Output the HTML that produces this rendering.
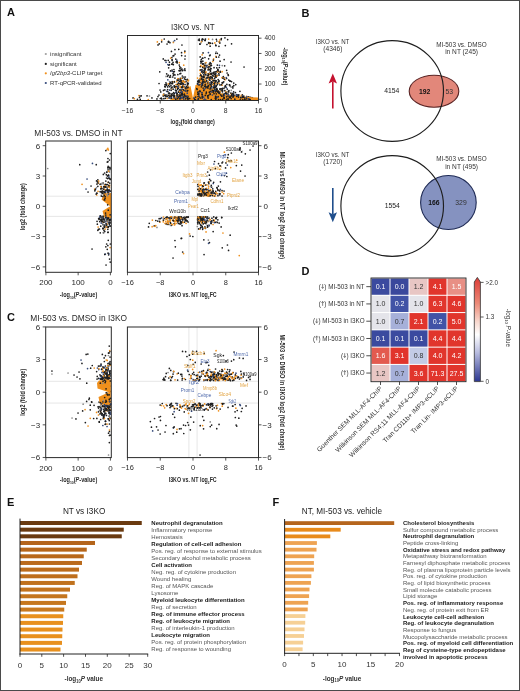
<!DOCTYPE html>
<html><head><meta charset="utf-8"><style>
html,body{margin:0;padding:0;background:#fff;}
body{width:520px;height:691px;overflow:hidden;}
svg{display:block;filter:blur(0.3px);font-family:"Liberation Sans", sans-serif;}
</style></head><body>
<svg width="520" height="691" viewBox="0 0 520 691">
<rect x="0" y="0" width="520" height="691" fill="#fff"/>
<text x="7.0" y="15.9" font-size="11" font-weight="bold" fill="#111">A</text>
<text x="301.5" y="16.7" font-size="11" font-weight="bold" fill="#111">B</text>
<text x="7.0" y="320.8" font-size="11" font-weight="bold" fill="#111">C</text>
<text x="301.5" y="275.2" font-size="11" font-weight="bold" fill="#111">D</text>
<text x="7.0" y="506.4" font-size="11" font-weight="bold" fill="#111">E</text>
<text x="272.5" y="506.4" font-size="11" font-weight="bold" fill="#111">F</text>
<circle cx="45.8" cy="54" r="1.1" fill="#a0a0a0"/>
<text x="50.1" y="56.1" font-size="6" fill="#333">insignificant</text>
<circle cx="45.8" cy="63.9" r="1.1" fill="#1e1e1e"/>
<text x="50.1" y="66.0" font-size="6" fill="#333">significant</text>
<circle cx="45.8" cy="73.3" r="1.1" fill="#f0901c"/>
<text x="50.1" y="75.39999999999999" font-size="6" fill="#333"><tspan font-style="italic">Igf2bp3</tspan>-CLIP target</text>
<circle cx="45.8" cy="83" r="1.1" fill="#34497a"/>
<text x="50.1" y="85.1" font-size="6" fill="#333">RT-qPCR-validated</text>
<text x="192.8" y="30.2" font-size="8.8" text-anchor="middle" textLength="43.5" lengthAdjust="spacingAndGlyphs" fill="#2a2a2a">I3KO vs. NT</text>
<line x1="188.9" y1="35.5" x2="188.9" y2="100.5" stroke="#d8d8d8" stroke-width="0.7"/>
<line x1="197.1" y1="35.5" x2="197.1" y2="100.5" stroke="#d8d8d8" stroke-width="0.7"/>
<path d="M214.1 85.0a0.85 0.85 0 1 0 1.7 0a0.85 0.85 0 1 0 -1.7 0" fill="#1e1e1e"/>
<path d="M199.7 98.0a0.85 0.85 0 1 0 1.7 0a0.85 0.85 0 1 0 -1.7 0" fill="#f0901c"/>
<path d="M204.2 74.9a0.85 0.85 0 1 0 1.7 0a0.85 0.85 0 1 0 -1.7 0M216.2 93.2a0.85 0.85 0 1 0 1.7 0a0.85 0.85 0 1 0 -1.7 0M199.9 90.5a0.85 0.85 0 1 0 1.7 0a0.85 0.85 0 1 0 -1.7 0M210.6 95.2a0.85 0.85 0 1 0 1.7 0a0.85 0.85 0 1 0 -1.7 0M199.0 44.1a0.85 0.85 0 1 0 1.7 0a0.85 0.85 0 1 0 -1.7 0M202.1 96.4a0.85 0.85 0 1 0 1.7 0a0.85 0.85 0 1 0 -1.7 0M210.1 68.7a0.85 0.85 0 1 0 1.7 0a0.85 0.85 0 1 0 -1.7 0M181.9 85.1a0.85 0.85 0 1 0 1.7 0a0.85 0.85 0 1 0 -1.7 0M160.8 41.8a0.85 0.85 0 1 0 1.7 0a0.85 0.85 0 1 0 -1.7 0" fill="#1e1e1e"/>
<path d="M202.8 79.8a0.85 0.85 0 1 0 1.7 0a0.85 0.85 0 1 0 -1.7 0" fill="#f0901c"/>
<path d="M168.6 64.7a0.85 0.85 0 1 0 1.7 0a0.85 0.85 0 1 0 -1.7 0M197.3 86.4a0.85 0.85 0 1 0 1.7 0a0.85 0.85 0 1 0 -1.7 0M214.0 94.2a0.85 0.85 0 1 0 1.7 0a0.85 0.85 0 1 0 -1.7 0M173.5 71.5a0.85 0.85 0 1 0 1.7 0a0.85 0.85 0 1 0 -1.7 0M198.8 88.8a0.85 0.85 0 1 0 1.7 0a0.85 0.85 0 1 0 -1.7 0" fill="#1e1e1e"/>
<path d="M209.3 74.7a0.85 0.85 0 1 0 1.7 0a0.85 0.85 0 1 0 -1.7 0" fill="#f0901c"/>
<path d="M206.4 87.0a0.85 0.85 0 1 0 1.7 0a0.85 0.85 0 1 0 -1.7 0M169.3 96.1a0.85 0.85 0 1 0 1.7 0a0.85 0.85 0 1 0 -1.7 0" fill="#1e1e1e"/>
<path d="M241.2 98.5a0.85 0.85 0 1 0 1.7 0a0.85 0.85 0 1 0 -1.7 0" fill="#8a8a8a"/>
<path d="M204.3 94.4a0.85 0.85 0 1 0 1.7 0a0.85 0.85 0 1 0 -1.7 0M214.4 93.9a0.85 0.85 0 1 0 1.7 0a0.85 0.85 0 1 0 -1.7 0M178.4 65.0a0.85 0.85 0 1 0 1.7 0a0.85 0.85 0 1 0 -1.7 0M220.5 95.4a0.85 0.85 0 1 0 1.7 0a0.85 0.85 0 1 0 -1.7 0M173.7 82.0a0.85 0.85 0 1 0 1.7 0a0.85 0.85 0 1 0 -1.7 0" fill="#1e1e1e"/>
<path d="M199.5 73.4a0.85 0.85 0 1 0 1.7 0a0.85 0.85 0 1 0 -1.7 0" fill="#f0901c"/>
<path d="M226.9 97.0a0.85 0.85 0 1 0 1.7 0a0.85 0.85 0 1 0 -1.7 0" fill="#34497a"/>
<path d="M186.5 85.5a0.85 0.85 0 1 0 1.7 0a0.85 0.85 0 1 0 -1.7 0" fill="#f0901c"/>
<path d="M217.5 94.6a0.85 0.85 0 1 0 1.7 0a0.85 0.85 0 1 0 -1.7 0M202.0 73.0a0.85 0.85 0 1 0 1.7 0a0.85 0.85 0 1 0 -1.7 0M179.8 92.5a0.85 0.85 0 1 0 1.7 0a0.85 0.85 0 1 0 -1.7 0" fill="#1e1e1e"/>
<path d="M180.7 87.0a0.85 0.85 0 1 0 1.7 0a0.85 0.85 0 1 0 -1.7 0" fill="#8a8a8a"/>
<path d="M182.2 90.4a0.85 0.85 0 1 0 1.7 0a0.85 0.85 0 1 0 -1.7 0M219.0 43.1a0.85 0.85 0 1 0 1.7 0a0.85 0.85 0 1 0 -1.7 0M203.4 88.9a0.85 0.85 0 1 0 1.7 0a0.85 0.85 0 1 0 -1.7 0M167.7 41.4a0.85 0.85 0 1 0 1.7 0a0.85 0.85 0 1 0 -1.7 0M198.9 93.6a0.85 0.85 0 1 0 1.7 0a0.85 0.85 0 1 0 -1.7 0M184.0 68.9a0.85 0.85 0 1 0 1.7 0a0.85 0.85 0 1 0 -1.7 0M205.1 98.8a0.85 0.85 0 1 0 1.7 0a0.85 0.85 0 1 0 -1.7 0" fill="#1e1e1e"/>
<path d="M201.0 71.2a0.85 0.85 0 1 0 1.7 0a0.85 0.85 0 1 0 -1.7 0" fill="#f0901c"/>
<path d="M173.3 98.2a0.85 0.85 0 1 0 1.7 0a0.85 0.85 0 1 0 -1.7 0M204.3 96.2a0.85 0.85 0 1 0 1.7 0a0.85 0.85 0 1 0 -1.7 0M224.4 95.6a0.85 0.85 0 1 0 1.7 0a0.85 0.85 0 1 0 -1.7 0M207.5 74.0a0.85 0.85 0 1 0 1.7 0a0.85 0.85 0 1 0 -1.7 0M203.8 86.7a0.85 0.85 0 1 0 1.7 0a0.85 0.85 0 1 0 -1.7 0M227.3 74.6a0.85 0.85 0 1 0 1.7 0a0.85 0.85 0 1 0 -1.7 0M173.2 97.3a0.85 0.85 0 1 0 1.7 0a0.85 0.85 0 1 0 -1.7 0M216.5 53.3a0.85 0.85 0 1 0 1.7 0a0.85 0.85 0 1 0 -1.7 0" fill="#1e1e1e"/>
<path d="M219.0 97.5a0.85 0.85 0 1 0 1.7 0a0.85 0.85 0 1 0 -1.7 0" fill="#f0901c"/>
<path d="M185.4 98.2a0.85 0.85 0 1 0 1.7 0a0.85 0.85 0 1 0 -1.7 0M217.1 69.4a0.85 0.85 0 1 0 1.7 0a0.85 0.85 0 1 0 -1.7 0M171.9 77.0a0.85 0.85 0 1 0 1.7 0a0.85 0.85 0 1 0 -1.7 0M177.6 78.9a0.85 0.85 0 1 0 1.7 0a0.85 0.85 0 1 0 -1.7 0M201.9 86.0a0.85 0.85 0 1 0 1.7 0a0.85 0.85 0 1 0 -1.7 0" fill="#1e1e1e"/>
<path d="M200.3 80.8a0.85 0.85 0 1 0 1.7 0a0.85 0.85 0 1 0 -1.7 0M170.7 88.9a0.85 0.85 0 1 0 1.7 0a0.85 0.85 0 1 0 -1.7 0" fill="#f0901c"/>
<path d="M217.2 70.9a0.85 0.85 0 1 0 1.7 0a0.85 0.85 0 1 0 -1.7 0M201.4 58.3a0.85 0.85 0 1 0 1.7 0a0.85 0.85 0 1 0 -1.7 0" fill="#1e1e1e"/>
<path d="M219.9 95.2a0.85 0.85 0 1 0 1.7 0a0.85 0.85 0 1 0 -1.7 0" fill="#f0901c"/>
<path d="M208.7 73.0a0.85 0.85 0 1 0 1.7 0a0.85 0.85 0 1 0 -1.7 0" fill="#34497a"/>
<path d="M180.6 81.3a0.85 0.85 0 1 0 1.7 0a0.85 0.85 0 1 0 -1.7 0M211.4 90.3a0.85 0.85 0 1 0 1.7 0a0.85 0.85 0 1 0 -1.7 0M196.9 81.4a0.85 0.85 0 1 0 1.7 0a0.85 0.85 0 1 0 -1.7 0M178.9 81.4a0.85 0.85 0 1 0 1.7 0a0.85 0.85 0 1 0 -1.7 0M201.6 88.9a0.85 0.85 0 1 0 1.7 0a0.85 0.85 0 1 0 -1.7 0M209.8 92.6a0.85 0.85 0 1 0 1.7 0a0.85 0.85 0 1 0 -1.7 0M179.7 70.7a0.85 0.85 0 1 0 1.7 0a0.85 0.85 0 1 0 -1.7 0" fill="#1e1e1e"/>
<path d="M209.5 79.1a0.85 0.85 0 1 0 1.7 0a0.85 0.85 0 1 0 -1.7 0" fill="#f0901c"/>
<path d="M162.4 58.9a0.85 0.85 0 1 0 1.7 0a0.85 0.85 0 1 0 -1.7 0M212.4 73.2a0.85 0.85 0 1 0 1.7 0a0.85 0.85 0 1 0 -1.7 0M201.2 76.6a0.85 0.85 0 1 0 1.7 0a0.85 0.85 0 1 0 -1.7 0" fill="#1e1e1e"/>
<path d="M172.5 42.5a0.85 0.85 0 1 0 1.7 0a0.85 0.85 0 1 0 -1.7 0" fill="#f0901c"/>
<path d="M202.8 90.7a0.85 0.85 0 1 0 1.7 0a0.85 0.85 0 1 0 -1.7 0M177.4 92.0a0.85 0.85 0 1 0 1.7 0a0.85 0.85 0 1 0 -1.7 0M177.7 92.2a0.85 0.85 0 1 0 1.7 0a0.85 0.85 0 1 0 -1.7 0" fill="#1e1e1e"/>
<path d="M201.3 86.8a0.85 0.85 0 1 0 1.7 0a0.85 0.85 0 1 0 -1.7 0" fill="#f0901c"/>
<path d="M224.9 99.1a0.85 0.85 0 1 0 1.7 0a0.85 0.85 0 1 0 -1.7 0M209.3 78.1a0.85 0.85 0 1 0 1.7 0a0.85 0.85 0 1 0 -1.7 0M208.6 97.6a0.85 0.85 0 1 0 1.7 0a0.85 0.85 0 1 0 -1.7 0M210.0 92.3a0.85 0.85 0 1 0 1.7 0a0.85 0.85 0 1 0 -1.7 0M184.7 90.9a0.85 0.85 0 1 0 1.7 0a0.85 0.85 0 1 0 -1.7 0M203.5 77.4a0.85 0.85 0 1 0 1.7 0a0.85 0.85 0 1 0 -1.7 0M209.0 69.7a0.85 0.85 0 1 0 1.7 0a0.85 0.85 0 1 0 -1.7 0M201.4 79.8a0.85 0.85 0 1 0 1.7 0a0.85 0.85 0 1 0 -1.7 0M184.8 79.5a0.85 0.85 0 1 0 1.7 0a0.85 0.85 0 1 0 -1.7 0M173.3 93.7a0.85 0.85 0 1 0 1.7 0a0.85 0.85 0 1 0 -1.7 0M207.6 74.5a0.85 0.85 0 1 0 1.7 0a0.85 0.85 0 1 0 -1.7 0" fill="#1e1e1e"/>
<path d="M171.3 71.2a0.85 0.85 0 1 0 1.7 0a0.85 0.85 0 1 0 -1.7 0" fill="#34497a"/>
<path d="M212.7 95.1a0.85 0.85 0 1 0 1.7 0a0.85 0.85 0 1 0 -1.7 0M204.2 95.8a0.85 0.85 0 1 0 1.7 0a0.85 0.85 0 1 0 -1.7 0M197.0 99.2a0.85 0.85 0 1 0 1.7 0a0.85 0.85 0 1 0 -1.7 0" fill="#1e1e1e"/>
<path d="M208.5 64.9a0.85 0.85 0 1 0 1.7 0a0.85 0.85 0 1 0 -1.7 0" fill="#f0901c"/>
<path d="M199.1 98.9a0.85 0.85 0 1 0 1.7 0a0.85 0.85 0 1 0 -1.7 0M184.3 93.7a0.85 0.85 0 1 0 1.7 0a0.85 0.85 0 1 0 -1.7 0M172.9 98.7a0.85 0.85 0 1 0 1.7 0a0.85 0.85 0 1 0 -1.7 0" fill="#1e1e1e"/>
<path d="M198.4 85.0a0.85 0.85 0 1 0 1.7 0a0.85 0.85 0 1 0 -1.7 0" fill="#34497a"/>
<path d="M172.3 95.1a0.85 0.85 0 1 0 1.7 0a0.85 0.85 0 1 0 -1.7 0" fill="#1e1e1e"/>
<path d="M219.3 98.3a0.85 0.85 0 1 0 1.7 0a0.85 0.85 0 1 0 -1.7 0" fill="#f0901c"/>
<path d="M249.5 97.4a0.85 0.85 0 1 0 1.7 0a0.85 0.85 0 1 0 -1.7 0M200.5 78.8a0.85 0.85 0 1 0 1.7 0a0.85 0.85 0 1 0 -1.7 0M226.4 89.1a0.85 0.85 0 1 0 1.7 0a0.85 0.85 0 1 0 -1.7 0" fill="#1e1e1e"/>
<path d="M210.0 94.9a0.85 0.85 0 1 0 1.7 0a0.85 0.85 0 1 0 -1.7 0M166.3 98.5a0.85 0.85 0 1 0 1.7 0a0.85 0.85 0 1 0 -1.7 0" fill="#f0901c"/>
<path d="M216.5 71.0a0.85 0.85 0 1 0 1.7 0a0.85 0.85 0 1 0 -1.7 0M222.4 76.5a0.85 0.85 0 1 0 1.7 0a0.85 0.85 0 1 0 -1.7 0M209.1 98.5a0.85 0.85 0 1 0 1.7 0a0.85 0.85 0 1 0 -1.7 0M203.4 97.3a0.85 0.85 0 1 0 1.7 0a0.85 0.85 0 1 0 -1.7 0M175.8 86.7a0.85 0.85 0 1 0 1.7 0a0.85 0.85 0 1 0 -1.7 0M198.4 94.0a0.85 0.85 0 1 0 1.7 0a0.85 0.85 0 1 0 -1.7 0M200.9 99.3a0.85 0.85 0 1 0 1.7 0a0.85 0.85 0 1 0 -1.7 0M199.7 91.1a0.85 0.85 0 1 0 1.7 0a0.85 0.85 0 1 0 -1.7 0M197.9 93.5a0.85 0.85 0 1 0 1.7 0a0.85 0.85 0 1 0 -1.7 0M205.1 98.6a0.85 0.85 0 1 0 1.7 0a0.85 0.85 0 1 0 -1.7 0M175.5 92.3a0.85 0.85 0 1 0 1.7 0a0.85 0.85 0 1 0 -1.7 0M175.8 61.7a0.85 0.85 0 1 0 1.7 0a0.85 0.85 0 1 0 -1.7 0M209.8 96.9a0.85 0.85 0 1 0 1.7 0a0.85 0.85 0 1 0 -1.7 0M213.4 83.9a0.85 0.85 0 1 0 1.7 0a0.85 0.85 0 1 0 -1.7 0M181.1 45.0a0.85 0.85 0 1 0 1.7 0a0.85 0.85 0 1 0 -1.7 0" fill="#1e1e1e"/>
<path d="M215.3 51.9a0.85 0.85 0 1 0 1.7 0a0.85 0.85 0 1 0 -1.7 0" fill="#8a8a8a"/>
<path d="M199.4 66.6a0.85 0.85 0 1 0 1.7 0a0.85 0.85 0 1 0 -1.7 0M180.0 95.1a0.85 0.85 0 1 0 1.7 0a0.85 0.85 0 1 0 -1.7 0" fill="#1e1e1e"/>
<path d="M201.4 77.6a0.85 0.85 0 1 0 1.7 0a0.85 0.85 0 1 0 -1.7 0" fill="#f0901c"/>
<path d="M204.2 92.2a0.85 0.85 0 1 0 1.7 0a0.85 0.85 0 1 0 -1.7 0" fill="#1e1e1e"/>
<path d="M205.8 66.8a0.85 0.85 0 1 0 1.7 0a0.85 0.85 0 1 0 -1.7 0" fill="#34497a"/>
<path d="M221.8 99.3a0.85 0.85 0 1 0 1.7 0a0.85 0.85 0 1 0 -1.7 0" fill="#f0901c"/>
<path d="M243.1 95.9a0.85 0.85 0 1 0 1.7 0a0.85 0.85 0 1 0 -1.7 0" fill="#8a8a8a"/>
<path d="M201.3 94.8a0.85 0.85 0 1 0 1.7 0a0.85 0.85 0 1 0 -1.7 0M221.7 94.4a0.85 0.85 0 1 0 1.7 0a0.85 0.85 0 1 0 -1.7 0M207.1 95.1a0.85 0.85 0 1 0 1.7 0a0.85 0.85 0 1 0 -1.7 0M201.5 90.8a0.85 0.85 0 1 0 1.7 0a0.85 0.85 0 1 0 -1.7 0M210.3 81.8a0.85 0.85 0 1 0 1.7 0a0.85 0.85 0 1 0 -1.7 0M167.7 85.4a0.85 0.85 0 1 0 1.7 0a0.85 0.85 0 1 0 -1.7 0" fill="#1e1e1e"/>
<path d="M201.6 89.1a0.85 0.85 0 1 0 1.7 0a0.85 0.85 0 1 0 -1.7 0" fill="#34497a"/>
<path d="M216.0 99.4a0.85 0.85 0 1 0 1.7 0a0.85 0.85 0 1 0 -1.7 0M203.5 80.6a0.85 0.85 0 1 0 1.7 0a0.85 0.85 0 1 0 -1.7 0M200.5 92.2a0.85 0.85 0 1 0 1.7 0a0.85 0.85 0 1 0 -1.7 0M205.1 99.4a0.85 0.85 0 1 0 1.7 0a0.85 0.85 0 1 0 -1.7 0M177.3 80.7a0.85 0.85 0 1 0 1.7 0a0.85 0.85 0 1 0 -1.7 0" fill="#1e1e1e"/>
<path d="M217.5 99.4a0.85 0.85 0 1 0 1.7 0a0.85 0.85 0 1 0 -1.7 0" fill="#f0901c"/>
<path d="M221.4 65.6a0.85 0.85 0 1 0 1.7 0a0.85 0.85 0 1 0 -1.7 0" fill="#8a8a8a"/>
<path d="M204.0 40.3a0.85 0.85 0 1 0 1.7 0a0.85 0.85 0 1 0 -1.7 0M215.8 94.2a0.85 0.85 0 1 0 1.7 0a0.85 0.85 0 1 0 -1.7 0M205.2 78.4a0.85 0.85 0 1 0 1.7 0a0.85 0.85 0 1 0 -1.7 0" fill="#1e1e1e"/>
<path d="M218.6 65.3a0.85 0.85 0 1 0 1.7 0a0.85 0.85 0 1 0 -1.7 0" fill="#34497a"/>
<path d="M224.5 45.6a0.85 0.85 0 1 0 1.7 0a0.85 0.85 0 1 0 -1.7 0" fill="#1e1e1e"/>
<path d="M165.8 91.3a0.85 0.85 0 1 0 1.7 0a0.85 0.85 0 1 0 -1.7 0" fill="#34497a"/>
<path d="M202.8 65.1a0.85 0.85 0 1 0 1.7 0a0.85 0.85 0 1 0 -1.7 0" fill="#f0901c"/>
<path d="M213.3 89.6a0.85 0.85 0 1 0 1.7 0a0.85 0.85 0 1 0 -1.7 0M209.9 94.0a0.85 0.85 0 1 0 1.7 0a0.85 0.85 0 1 0 -1.7 0" fill="#1e1e1e"/>
<path d="M219.0 72.2a0.85 0.85 0 1 0 1.7 0a0.85 0.85 0 1 0 -1.7 0" fill="#f0901c"/>
<path d="M196.8 98.8a0.85 0.85 0 1 0 1.7 0a0.85 0.85 0 1 0 -1.7 0" fill="#8a8a8a"/>
<path d="M206.6 75.4a0.85 0.85 0 1 0 1.7 0a0.85 0.85 0 1 0 -1.7 0M208.4 77.5a0.85 0.85 0 1 0 1.7 0a0.85 0.85 0 1 0 -1.7 0M210.8 91.1a0.85 0.85 0 1 0 1.7 0a0.85 0.85 0 1 0 -1.7 0M213.2 83.4a0.85 0.85 0 1 0 1.7 0a0.85 0.85 0 1 0 -1.7 0" fill="#1e1e1e"/>
<path d="M213.9 76.4a0.85 0.85 0 1 0 1.7 0a0.85 0.85 0 1 0 -1.7 0" fill="#f0901c"/>
<path d="M220.9 96.8a0.85 0.85 0 1 0 1.7 0a0.85 0.85 0 1 0 -1.7 0M198.1 80.1a0.85 0.85 0 1 0 1.7 0a0.85 0.85 0 1 0 -1.7 0M208.7 43.2a0.85 0.85 0 1 0 1.7 0a0.85 0.85 0 1 0 -1.7 0" fill="#1e1e1e"/>
<path d="M198.1 97.6a0.85 0.85 0 1 0 1.7 0a0.85 0.85 0 1 0 -1.7 0" fill="#f0901c"/>
<path d="M204.0 67.1a0.85 0.85 0 1 0 1.7 0a0.85 0.85 0 1 0 -1.7 0M216.1 93.3a0.85 0.85 0 1 0 1.7 0a0.85 0.85 0 1 0 -1.7 0M180.0 67.8a0.85 0.85 0 1 0 1.7 0a0.85 0.85 0 1 0 -1.7 0M175.7 84.5a0.85 0.85 0 1 0 1.7 0a0.85 0.85 0 1 0 -1.7 0" fill="#1e1e1e"/>
<path d="M245.8 96.4a0.85 0.85 0 1 0 1.7 0a0.85 0.85 0 1 0 -1.7 0" fill="#f0901c"/>
<path d="M200.8 71.9a0.85 0.85 0 1 0 1.7 0a0.85 0.85 0 1 0 -1.7 0" fill="#1e1e1e"/>
<path d="M200.8 85.3a0.85 0.85 0 1 0 1.7 0a0.85 0.85 0 1 0 -1.7 0" fill="#34497a"/>
<path d="M197.2 97.6a0.85 0.85 0 1 0 1.7 0a0.85 0.85 0 1 0 -1.7 0M202.4 88.6a0.85 0.85 0 1 0 1.7 0a0.85 0.85 0 1 0 -1.7 0" fill="#1e1e1e"/>
<path d="M185.8 98.0a0.85 0.85 0 1 0 1.7 0a0.85 0.85 0 1 0 -1.7 0" fill="#8a8a8a"/>
<path d="M210.6 83.2a0.85 0.85 0 1 0 1.7 0a0.85 0.85 0 1 0 -1.7 0M224.8 86.7a0.85 0.85 0 1 0 1.7 0a0.85 0.85 0 1 0 -1.7 0" fill="#1e1e1e"/>
<path d="M218.2 83.3a0.85 0.85 0 1 0 1.7 0a0.85 0.85 0 1 0 -1.7 0" fill="#f0901c"/>
<path d="M211.6 92.6a0.85 0.85 0 1 0 1.7 0a0.85 0.85 0 1 0 -1.7 0" fill="#8a8a8a"/>
<path d="M159.2 90.0a0.85 0.85 0 1 0 1.7 0a0.85 0.85 0 1 0 -1.7 0M218.7 55.1a0.85 0.85 0 1 0 1.7 0a0.85 0.85 0 1 0 -1.7 0M206.6 90.4a0.85 0.85 0 1 0 1.7 0a0.85 0.85 0 1 0 -1.7 0M217.9 92.5a0.85 0.85 0 1 0 1.7 0a0.85 0.85 0 1 0 -1.7 0M202.5 85.3a0.85 0.85 0 1 0 1.7 0a0.85 0.85 0 1 0 -1.7 0M196.6 99.4a0.85 0.85 0 1 0 1.7 0a0.85 0.85 0 1 0 -1.7 0M185.4 97.6a0.85 0.85 0 1 0 1.7 0a0.85 0.85 0 1 0 -1.7 0M200.3 78.6a0.85 0.85 0 1 0 1.7 0a0.85 0.85 0 1 0 -1.7 0M205.0 98.9a0.85 0.85 0 1 0 1.7 0a0.85 0.85 0 1 0 -1.7 0M214.9 53.3a0.85 0.85 0 1 0 1.7 0a0.85 0.85 0 1 0 -1.7 0M207.4 89.9a0.85 0.85 0 1 0 1.7 0a0.85 0.85 0 1 0 -1.7 0M197.6 87.0a0.85 0.85 0 1 0 1.7 0a0.85 0.85 0 1 0 -1.7 0M202.2 39.3a0.85 0.85 0 1 0 1.7 0a0.85 0.85 0 1 0 -1.7 0M207.3 74.3a0.85 0.85 0 1 0 1.7 0a0.85 0.85 0 1 0 -1.7 0" fill="#1e1e1e"/>
<path d="M212.8 58.9a0.85 0.85 0 1 0 1.7 0a0.85 0.85 0 1 0 -1.7 0M173.9 95.8a0.85 0.85 0 1 0 1.7 0a0.85 0.85 0 1 0 -1.7 0" fill="#f0901c"/>
<path d="M199.4 82.6a0.85 0.85 0 1 0 1.7 0a0.85 0.85 0 1 0 -1.7 0M151.1 97.9a0.85 0.85 0 1 0 1.7 0a0.85 0.85 0 1 0 -1.7 0M182.5 86.7a0.85 0.85 0 1 0 1.7 0a0.85 0.85 0 1 0 -1.7 0M224.5 85.7a0.85 0.85 0 1 0 1.7 0a0.85 0.85 0 1 0 -1.7 0M132.2 97.9a0.85 0.85 0 1 0 1.7 0a0.85 0.85 0 1 0 -1.7 0M171.2 70.0a0.85 0.85 0 1 0 1.7 0a0.85 0.85 0 1 0 -1.7 0M218.5 67.5a0.85 0.85 0 1 0 1.7 0a0.85 0.85 0 1 0 -1.7 0M199.5 69.9a0.85 0.85 0 1 0 1.7 0a0.85 0.85 0 1 0 -1.7 0M210.5 77.2a0.85 0.85 0 1 0 1.7 0a0.85 0.85 0 1 0 -1.7 0M197.8 81.4a0.85 0.85 0 1 0 1.7 0a0.85 0.85 0 1 0 -1.7 0M174.2 54.1a0.85 0.85 0 1 0 1.7 0a0.85 0.85 0 1 0 -1.7 0M210.8 74.4a0.85 0.85 0 1 0 1.7 0a0.85 0.85 0 1 0 -1.7 0M250.0 99.5a0.85 0.85 0 1 0 1.7 0a0.85 0.85 0 1 0 -1.7 0M169.9 96.2a0.85 0.85 0 1 0 1.7 0a0.85 0.85 0 1 0 -1.7 0M170.3 96.0a0.85 0.85 0 1 0 1.7 0a0.85 0.85 0 1 0 -1.7 0M197.7 98.3a0.85 0.85 0 1 0 1.7 0a0.85 0.85 0 1 0 -1.7 0M217.6 93.3a0.85 0.85 0 1 0 1.7 0a0.85 0.85 0 1 0 -1.7 0" fill="#1e1e1e"/>
<path d="M212.4 90.3a0.85 0.85 0 1 0 1.7 0a0.85 0.85 0 1 0 -1.7 0" fill="#8a8a8a"/>
<path d="M138.6 97.5a0.85 0.85 0 1 0 1.7 0a0.85 0.85 0 1 0 -1.7 0" fill="#1e1e1e"/>
<path d="M204.2 96.4a0.85 0.85 0 1 0 1.7 0a0.85 0.85 0 1 0 -1.7 0" fill="#f0901c"/>
<path d="M201.4 88.2a0.85 0.85 0 1 0 1.7 0a0.85 0.85 0 1 0 -1.7 0M200.9 97.3a0.85 0.85 0 1 0 1.7 0a0.85 0.85 0 1 0 -1.7 0M220.8 88.9a0.85 0.85 0 1 0 1.7 0a0.85 0.85 0 1 0 -1.7 0M186.4 79.9a0.85 0.85 0 1 0 1.7 0a0.85 0.85 0 1 0 -1.7 0" fill="#1e1e1e"/>
<path d="M251.0 97.6a0.85 0.85 0 1 0 1.7 0a0.85 0.85 0 1 0 -1.7 0" fill="#34497a"/>
<path d="M176.9 95.6a0.85 0.85 0 1 0 1.7 0a0.85 0.85 0 1 0 -1.7 0M168.6 93.1a0.85 0.85 0 1 0 1.7 0a0.85 0.85 0 1 0 -1.7 0M204.3 97.3a0.85 0.85 0 1 0 1.7 0a0.85 0.85 0 1 0 -1.7 0M217.2 70.9a0.85 0.85 0 1 0 1.7 0a0.85 0.85 0 1 0 -1.7 0M210.2 95.1a0.85 0.85 0 1 0 1.7 0a0.85 0.85 0 1 0 -1.7 0M209.8 98.5a0.85 0.85 0 1 0 1.7 0a0.85 0.85 0 1 0 -1.7 0M164.0 89.9a0.85 0.85 0 1 0 1.7 0a0.85 0.85 0 1 0 -1.7 0M165.6 85.3a0.85 0.85 0 1 0 1.7 0a0.85 0.85 0 1 0 -1.7 0M241.5 94.8a0.85 0.85 0 1 0 1.7 0a0.85 0.85 0 1 0 -1.7 0" fill="#1e1e1e"/>
<path d="M199.1 70.3a0.85 0.85 0 1 0 1.7 0a0.85 0.85 0 1 0 -1.7 0" fill="#f0901c"/>
<path d="M202.6 97.3a0.85 0.85 0 1 0 1.7 0a0.85 0.85 0 1 0 -1.7 0M236.1 96.4a0.85 0.85 0 1 0 1.7 0a0.85 0.85 0 1 0 -1.7 0M218.4 75.0a0.85 0.85 0 1 0 1.7 0a0.85 0.85 0 1 0 -1.7 0" fill="#1e1e1e"/>
<path d="M221.1 77.7a0.85 0.85 0 1 0 1.7 0a0.85 0.85 0 1 0 -1.7 0M201.6 96.1a0.85 0.85 0 1 0 1.7 0a0.85 0.85 0 1 0 -1.7 0M213.3 98.9a0.85 0.85 0 1 0 1.7 0a0.85 0.85 0 1 0 -1.7 0" fill="#f0901c"/>
<path d="M157.2 44.9a0.85 0.85 0 1 0 1.7 0a0.85 0.85 0 1 0 -1.7 0M204.2 99.1a0.85 0.85 0 1 0 1.7 0a0.85 0.85 0 1 0 -1.7 0M196.7 83.4a0.85 0.85 0 1 0 1.7 0a0.85 0.85 0 1 0 -1.7 0M219.4 71.4a0.85 0.85 0 1 0 1.7 0a0.85 0.85 0 1 0 -1.7 0M215.9 41.0a0.85 0.85 0 1 0 1.7 0a0.85 0.85 0 1 0 -1.7 0M232.8 91.9a0.85 0.85 0 1 0 1.7 0a0.85 0.85 0 1 0 -1.7 0M206.9 97.0a0.85 0.85 0 1 0 1.7 0a0.85 0.85 0 1 0 -1.7 0M199.8 87.1a0.85 0.85 0 1 0 1.7 0a0.85 0.85 0 1 0 -1.7 0M201.4 81.1a0.85 0.85 0 1 0 1.7 0a0.85 0.85 0 1 0 -1.7 0M196.8 95.7a0.85 0.85 0 1 0 1.7 0a0.85 0.85 0 1 0 -1.7 0M197.9 99.1a0.85 0.85 0 1 0 1.7 0a0.85 0.85 0 1 0 -1.7 0M209.5 92.6a0.85 0.85 0 1 0 1.7 0a0.85 0.85 0 1 0 -1.7 0M167.7 93.1a0.85 0.85 0 1 0 1.7 0a0.85 0.85 0 1 0 -1.7 0" fill="#1e1e1e"/>
<path d="M212.1 98.2a0.85 0.85 0 1 0 1.7 0a0.85 0.85 0 1 0 -1.7 0" fill="#f0901c"/>
<path d="M211.6 43.3a0.85 0.85 0 1 0 1.7 0a0.85 0.85 0 1 0 -1.7 0M205.1 85.4a0.85 0.85 0 1 0 1.7 0a0.85 0.85 0 1 0 -1.7 0M181.7 92.3a0.85 0.85 0 1 0 1.7 0a0.85 0.85 0 1 0 -1.7 0M170.5 97.8a0.85 0.85 0 1 0 1.7 0a0.85 0.85 0 1 0 -1.7 0M214.5 76.9a0.85 0.85 0 1 0 1.7 0a0.85 0.85 0 1 0 -1.7 0" fill="#1e1e1e"/>
<path d="M234.0 94.1a0.85 0.85 0 1 0 1.7 0a0.85 0.85 0 1 0 -1.7 0" fill="#8a8a8a"/>
<path d="M213.4 74.4a0.85 0.85 0 1 0 1.7 0a0.85 0.85 0 1 0 -1.7 0M209.3 62.7a0.85 0.85 0 1 0 1.7 0a0.85 0.85 0 1 0 -1.7 0" fill="#1e1e1e"/>
<path d="M211.4 82.3a0.85 0.85 0 1 0 1.7 0a0.85 0.85 0 1 0 -1.7 0" fill="#34497a"/>
<path d="M226.1 99.6a0.85 0.85 0 1 0 1.7 0a0.85 0.85 0 1 0 -1.7 0M199.0 96.9a0.85 0.85 0 1 0 1.7 0a0.85 0.85 0 1 0 -1.7 0M176.7 99.0a0.85 0.85 0 1 0 1.7 0a0.85 0.85 0 1 0 -1.7 0M229.3 86.0a0.85 0.85 0 1 0 1.7 0a0.85 0.85 0 1 0 -1.7 0" fill="#1e1e1e"/>
<path d="M201.5 94.9a0.85 0.85 0 1 0 1.7 0a0.85 0.85 0 1 0 -1.7 0M205.2 72.1a0.85 0.85 0 1 0 1.7 0a0.85 0.85 0 1 0 -1.7 0" fill="#f0901c"/>
<path d="M229.0 96.3a0.85 0.85 0 1 0 1.7 0a0.85 0.85 0 1 0 -1.7 0M226.3 73.0a0.85 0.85 0 1 0 1.7 0a0.85 0.85 0 1 0 -1.7 0M210.4 88.8a0.85 0.85 0 1 0 1.7 0a0.85 0.85 0 1 0 -1.7 0" fill="#1e1e1e"/>
<path d="M234.5 97.6a0.85 0.85 0 1 0 1.7 0a0.85 0.85 0 1 0 -1.7 0" fill="#f0901c"/>
<path d="M209.3 46.2a0.85 0.85 0 1 0 1.7 0a0.85 0.85 0 1 0 -1.7 0M205.6 93.2a0.85 0.85 0 1 0 1.7 0a0.85 0.85 0 1 0 -1.7 0M176.6 96.9a0.85 0.85 0 1 0 1.7 0a0.85 0.85 0 1 0 -1.7 0M178.2 91.0a0.85 0.85 0 1 0 1.7 0a0.85 0.85 0 1 0 -1.7 0M177.1 86.6a0.85 0.85 0 1 0 1.7 0a0.85 0.85 0 1 0 -1.7 0" fill="#1e1e1e"/>
<path d="M215.1 56.3a0.85 0.85 0 1 0 1.7 0a0.85 0.85 0 1 0 -1.7 0" fill="#f0901c"/>
<path d="M210.7 93.4a0.85 0.85 0 1 0 1.7 0a0.85 0.85 0 1 0 -1.7 0" fill="#8a8a8a"/>
<path d="M221.7 98.4a0.85 0.85 0 1 0 1.7 0a0.85 0.85 0 1 0 -1.7 0" fill="#1e1e1e"/>
<path d="M202.0 83.0a0.85 0.85 0 1 0 1.7 0a0.85 0.85 0 1 0 -1.7 0" fill="#8a8a8a"/>
<path d="M200.8 99.0a0.85 0.85 0 1 0 1.7 0a0.85 0.85 0 1 0 -1.7 0M230.2 62.0a0.85 0.85 0 1 0 1.7 0a0.85 0.85 0 1 0 -1.7 0" fill="#1e1e1e"/>
<path d="M203.9 76.7a0.85 0.85 0 1 0 1.7 0a0.85 0.85 0 1 0 -1.7 0" fill="#f0901c"/>
<path d="M171.5 64.1a0.85 0.85 0 1 0 1.7 0a0.85 0.85 0 1 0 -1.7 0" fill="#1e1e1e"/>
<path d="M207.1 81.8a0.85 0.85 0 1 0 1.7 0a0.85 0.85 0 1 0 -1.7 0" fill="#8a8a8a"/>
<path d="M165.7 84.2a0.85 0.85 0 1 0 1.7 0a0.85 0.85 0 1 0 -1.7 0" fill="#1e1e1e"/>
<path d="M250.6 99.1a0.85 0.85 0 1 0 1.7 0a0.85 0.85 0 1 0 -1.7 0" fill="#8a8a8a"/>
<path d="M215.9 88.9a0.85 0.85 0 1 0 1.7 0a0.85 0.85 0 1 0 -1.7 0" fill="#1e1e1e"/>
<path d="M169.4 97.0a0.85 0.85 0 1 0 1.7 0a0.85 0.85 0 1 0 -1.7 0" fill="#8a8a8a"/>
<path d="M205.7 97.3a0.85 0.85 0 1 0 1.7 0a0.85 0.85 0 1 0 -1.7 0M198.7 97.3a0.85 0.85 0 1 0 1.7 0a0.85 0.85 0 1 0 -1.7 0" fill="#1e1e1e"/>
<path d="M201.6 87.6a0.85 0.85 0 1 0 1.7 0a0.85 0.85 0 1 0 -1.7 0" fill="#f0901c"/>
<path d="M169.7 77.0a0.85 0.85 0 1 0 1.7 0a0.85 0.85 0 1 0 -1.7 0M184.2 70.5a0.85 0.85 0 1 0 1.7 0a0.85 0.85 0 1 0 -1.7 0" fill="#1e1e1e"/>
<path d="M210.9 73.3a0.85 0.85 0 1 0 1.7 0a0.85 0.85 0 1 0 -1.7 0M242.6 99.4a0.85 0.85 0 1 0 1.7 0a0.85 0.85 0 1 0 -1.7 0" fill="#8a8a8a"/>
<path d="M225.8 70.3a0.85 0.85 0 1 0 1.7 0a0.85 0.85 0 1 0 -1.7 0M220.8 99.5a0.85 0.85 0 1 0 1.7 0a0.85 0.85 0 1 0 -1.7 0M167.0 91.5a0.85 0.85 0 1 0 1.7 0a0.85 0.85 0 1 0 -1.7 0M224.0 90.7a0.85 0.85 0 1 0 1.7 0a0.85 0.85 0 1 0 -1.7 0" fill="#1e1e1e"/>
<path d="M211.7 95.1a0.85 0.85 0 1 0 1.7 0a0.85 0.85 0 1 0 -1.7 0" fill="#f0901c"/>
<path d="M209.5 78.9a0.85 0.85 0 1 0 1.7 0a0.85 0.85 0 1 0 -1.7 0M218.1 46.3a0.85 0.85 0 1 0 1.7 0a0.85 0.85 0 1 0 -1.7 0" fill="#1e1e1e"/>
<path d="M198.4 98.7a0.85 0.85 0 1 0 1.7 0a0.85 0.85 0 1 0 -1.7 0" fill="#f0901c"/>
<path d="M210.6 65.4a0.85 0.85 0 1 0 1.7 0a0.85 0.85 0 1 0 -1.7 0M178.0 95.0a0.85 0.85 0 1 0 1.7 0a0.85 0.85 0 1 0 -1.7 0" fill="#1e1e1e"/>
<path d="M172.0 95.1a0.85 0.85 0 1 0 1.7 0a0.85 0.85 0 1 0 -1.7 0M198.5 94.7a0.85 0.85 0 1 0 1.7 0a0.85 0.85 0 1 0 -1.7 0" fill="#8a8a8a"/>
<path d="M200.1 92.7a0.85 0.85 0 1 0 1.7 0a0.85 0.85 0 1 0 -1.7 0M198.3 94.4a0.85 0.85 0 1 0 1.7 0a0.85 0.85 0 1 0 -1.7 0M199.1 98.5a0.85 0.85 0 1 0 1.7 0a0.85 0.85 0 1 0 -1.7 0" fill="#1e1e1e"/>
<path d="M161.0 99.4a0.85 0.85 0 1 0 1.7 0a0.85 0.85 0 1 0 -1.7 0" fill="#8a8a8a"/>
<path d="M215.8 95.4a0.85 0.85 0 1 0 1.7 0a0.85 0.85 0 1 0 -1.7 0M255.8 98.8a0.85 0.85 0 1 0 1.7 0a0.85 0.85 0 1 0 -1.7 0M230.7 43.8a0.85 0.85 0 1 0 1.7 0a0.85 0.85 0 1 0 -1.7 0M200.9 78.0a0.85 0.85 0 1 0 1.7 0a0.85 0.85 0 1 0 -1.7 0M173.3 85.9a0.85 0.85 0 1 0 1.7 0a0.85 0.85 0 1 0 -1.7 0M183.2 97.3a0.85 0.85 0 1 0 1.7 0a0.85 0.85 0 1 0 -1.7 0M203.8 89.3a0.85 0.85 0 1 0 1.7 0a0.85 0.85 0 1 0 -1.7 0M206.1 65.4a0.85 0.85 0 1 0 1.7 0a0.85 0.85 0 1 0 -1.7 0M209.9 88.4a0.85 0.85 0 1 0 1.7 0a0.85 0.85 0 1 0 -1.7 0M204.2 97.2a0.85 0.85 0 1 0 1.7 0a0.85 0.85 0 1 0 -1.7 0M159.9 91.9a0.85 0.85 0 1 0 1.7 0a0.85 0.85 0 1 0 -1.7 0" fill="#1e1e1e"/>
<path d="M200.1 87.7a0.85 0.85 0 1 0 1.7 0a0.85 0.85 0 1 0 -1.7 0" fill="#34497a"/>
<path d="M179.2 79.8a0.85 0.85 0 1 0 1.7 0a0.85 0.85 0 1 0 -1.7 0M199.9 96.7a0.85 0.85 0 1 0 1.7 0a0.85 0.85 0 1 0 -1.7 0M198.8 98.7a0.85 0.85 0 1 0 1.7 0a0.85 0.85 0 1 0 -1.7 0M212.6 76.0a0.85 0.85 0 1 0 1.7 0a0.85 0.85 0 1 0 -1.7 0" fill="#1e1e1e"/>
<path d="M182.9 65.2a0.85 0.85 0 1 0 1.7 0a0.85 0.85 0 1 0 -1.7 0" fill="#f0901c"/>
<path d="M212.9 84.7a0.85 0.85 0 1 0 1.7 0a0.85 0.85 0 1 0 -1.7 0M181.3 89.6a0.85 0.85 0 1 0 1.7 0a0.85 0.85 0 1 0 -1.7 0M163.9 86.6a0.85 0.85 0 1 0 1.7 0a0.85 0.85 0 1 0 -1.7 0" fill="#1e1e1e"/>
<path d="M207.4 69.1a0.85 0.85 0 1 0 1.7 0a0.85 0.85 0 1 0 -1.7 0" fill="#f0901c"/>
<path d="M218.9 95.1a0.85 0.85 0 1 0 1.7 0a0.85 0.85 0 1 0 -1.7 0" fill="#1e1e1e"/>
<path d="M200.9 75.4a0.85 0.85 0 1 0 1.7 0a0.85 0.85 0 1 0 -1.7 0" fill="#f0901c"/>
<path d="M203.8 95.6a0.85 0.85 0 1 0 1.7 0a0.85 0.85 0 1 0 -1.7 0M201.9 83.4a0.85 0.85 0 1 0 1.7 0a0.85 0.85 0 1 0 -1.7 0M232.0 87.9a0.85 0.85 0 1 0 1.7 0a0.85 0.85 0 1 0 -1.7 0M205.7 98.0a0.85 0.85 0 1 0 1.7 0a0.85 0.85 0 1 0 -1.7 0M204.4 63.0a0.85 0.85 0 1 0 1.7 0a0.85 0.85 0 1 0 -1.7 0M225.7 78.4a0.85 0.85 0 1 0 1.7 0a0.85 0.85 0 1 0 -1.7 0M241.0 96.1a0.85 0.85 0 1 0 1.7 0a0.85 0.85 0 1 0 -1.7 0" fill="#1e1e1e"/>
<path d="M200.4 82.1a0.85 0.85 0 1 0 1.7 0a0.85 0.85 0 1 0 -1.7 0" fill="#f0901c"/>
<path d="M179.6 95.9a0.85 0.85 0 1 0 1.7 0a0.85 0.85 0 1 0 -1.7 0" fill="#8a8a8a"/>
<path d="M201.3 93.0a0.85 0.85 0 1 0 1.7 0a0.85 0.85 0 1 0 -1.7 0" fill="#1e1e1e"/>
<path d="M217.6 96.9a0.85 0.85 0 1 0 1.7 0a0.85 0.85 0 1 0 -1.7 0" fill="#34497a"/>
<path d="M234.8 96.3a0.85 0.85 0 1 0 1.7 0a0.85 0.85 0 1 0 -1.7 0" fill="#f0901c"/>
<path d="M198.8 94.8a0.85 0.85 0 1 0 1.7 0a0.85 0.85 0 1 0 -1.7 0" fill="#1e1e1e"/>
<path d="M168.5 97.5a0.85 0.85 0 1 0 1.7 0a0.85 0.85 0 1 0 -1.7 0" fill="#8a8a8a"/>
<path d="M213.8 78.3a0.85 0.85 0 1 0 1.7 0a0.85 0.85 0 1 0 -1.7 0" fill="#1e1e1e"/>
<path d="M206.5 88.4a0.85 0.85 0 1 0 1.7 0a0.85 0.85 0 1 0 -1.7 0" fill="#f0901c"/>
<path d="M174.1 49.6a0.85 0.85 0 1 0 1.7 0a0.85 0.85 0 1 0 -1.7 0M159.5 98.5a0.85 0.85 0 1 0 1.7 0a0.85 0.85 0 1 0 -1.7 0M233.0 85.6a0.85 0.85 0 1 0 1.7 0a0.85 0.85 0 1 0 -1.7 0M171.4 87.0a0.85 0.85 0 1 0 1.7 0a0.85 0.85 0 1 0 -1.7 0M224.4 96.7a0.85 0.85 0 1 0 1.7 0a0.85 0.85 0 1 0 -1.7 0M216.9 69.5a0.85 0.85 0 1 0 1.7 0a0.85 0.85 0 1 0 -1.7 0" fill="#1e1e1e"/>
<path d="M211.7 39.4a0.85 0.85 0 1 0 1.7 0a0.85 0.85 0 1 0 -1.7 0" fill="#8a8a8a"/>
<path d="M235.5 97.3a0.85 0.85 0 1 0 1.7 0a0.85 0.85 0 1 0 -1.7 0" fill="#1e1e1e"/>
<path d="M207.5 76.3a0.85 0.85 0 1 0 1.7 0a0.85 0.85 0 1 0 -1.7 0" fill="#f0901c"/>
<path d="M197.3 88.3a0.85 0.85 0 1 0 1.7 0a0.85 0.85 0 1 0 -1.7 0" fill="#1e1e1e"/>
<path d="M199.9 95.3a0.85 0.85 0 1 0 1.7 0a0.85 0.85 0 1 0 -1.7 0" fill="#f0901c"/>
<path d="M181.8 99.3a0.85 0.85 0 1 0 1.7 0a0.85 0.85 0 1 0 -1.7 0M214.5 87.1a0.85 0.85 0 1 0 1.7 0a0.85 0.85 0 1 0 -1.7 0M181.7 92.4a0.85 0.85 0 1 0 1.7 0a0.85 0.85 0 1 0 -1.7 0M204.3 91.2a0.85 0.85 0 1 0 1.7 0a0.85 0.85 0 1 0 -1.7 0M224.1 98.9a0.85 0.85 0 1 0 1.7 0a0.85 0.85 0 1 0 -1.7 0M223.3 59.6a0.85 0.85 0 1 0 1.7 0a0.85 0.85 0 1 0 -1.7 0" fill="#1e1e1e"/>
<path d="M224.2 79.7a0.85 0.85 0 1 0 1.7 0a0.85 0.85 0 1 0 -1.7 0" fill="#f0901c"/>
<path d="M228.5 98.0a0.85 0.85 0 1 0 1.7 0a0.85 0.85 0 1 0 -1.7 0" fill="#8a8a8a"/>
<path d="M173.1 74.3a0.85 0.85 0 1 0 1.7 0a0.85 0.85 0 1 0 -1.7 0M199.7 95.9a0.85 0.85 0 1 0 1.7 0a0.85 0.85 0 1 0 -1.7 0M239.7 99.4a0.85 0.85 0 1 0 1.7 0a0.85 0.85 0 1 0 -1.7 0M198.0 98.8a0.85 0.85 0 1 0 1.7 0a0.85 0.85 0 1 0 -1.7 0" fill="#1e1e1e"/>
<path d="M133.5 98.7a0.85 0.85 0 1 0 1.7 0a0.85 0.85 0 1 0 -1.7 0" fill="#f0901c"/>
<path d="M214.1 89.3a0.85 0.85 0 1 0 1.7 0a0.85 0.85 0 1 0 -1.7 0" fill="#8a8a8a"/>
<path d="M183.5 97.2a0.85 0.85 0 1 0 1.7 0a0.85 0.85 0 1 0 -1.7 0" fill="#1e1e1e"/>
<path d="M231.5 93.3a0.85 0.85 0 1 0 1.7 0a0.85 0.85 0 1 0 -1.7 0" fill="#34497a"/>
<path d="M203.4 68.4a0.85 0.85 0 1 0 1.7 0a0.85 0.85 0 1 0 -1.7 0M209.4 86.3a0.85 0.85 0 1 0 1.7 0a0.85 0.85 0 1 0 -1.7 0M202.2 89.7a0.85 0.85 0 1 0 1.7 0a0.85 0.85 0 1 0 -1.7 0M199.0 95.6a0.85 0.85 0 1 0 1.7 0a0.85 0.85 0 1 0 -1.7 0" fill="#1e1e1e"/>
<path d="M225.0 91.7a0.85 0.85 0 1 0 1.7 0a0.85 0.85 0 1 0 -1.7 0" fill="#f0901c"/>
<path d="M168.2 97.9a0.85 0.85 0 1 0 1.7 0a0.85 0.85 0 1 0 -1.7 0M176.7 89.5a0.85 0.85 0 1 0 1.7 0a0.85 0.85 0 1 0 -1.7 0M215.4 99.2a0.85 0.85 0 1 0 1.7 0a0.85 0.85 0 1 0 -1.7 0M177.6 83.2a0.85 0.85 0 1 0 1.7 0a0.85 0.85 0 1 0 -1.7 0M210.4 90.2a0.85 0.85 0 1 0 1.7 0a0.85 0.85 0 1 0 -1.7 0M218.0 73.7a0.85 0.85 0 1 0 1.7 0a0.85 0.85 0 1 0 -1.7 0M173.1 69.5a0.85 0.85 0 1 0 1.7 0a0.85 0.85 0 1 0 -1.7 0M229.4 81.1a0.85 0.85 0 1 0 1.7 0a0.85 0.85 0 1 0 -1.7 0M202.1 97.6a0.85 0.85 0 1 0 1.7 0a0.85 0.85 0 1 0 -1.7 0M208.1 66.7a0.85 0.85 0 1 0 1.7 0a0.85 0.85 0 1 0 -1.7 0" fill="#1e1e1e"/>
<path d="M225.5 87.6a0.85 0.85 0 1 0 1.7 0a0.85 0.85 0 1 0 -1.7 0" fill="#34497a"/>
<path d="M196.7 98.4a0.85 0.85 0 1 0 1.7 0a0.85 0.85 0 1 0 -1.7 0M206.7 88.4a0.85 0.85 0 1 0 1.7 0a0.85 0.85 0 1 0 -1.7 0" fill="#1e1e1e"/>
<path d="M208.8 43.7a0.85 0.85 0 1 0 1.7 0a0.85 0.85 0 1 0 -1.7 0" fill="#f0901c"/>
<path d="M164.5 86.8a0.85 0.85 0 1 0 1.7 0a0.85 0.85 0 1 0 -1.7 0M163.0 98.7a0.85 0.85 0 1 0 1.7 0a0.85 0.85 0 1 0 -1.7 0M198.4 93.1a0.85 0.85 0 1 0 1.7 0a0.85 0.85 0 1 0 -1.7 0" fill="#1e1e1e"/>
<path d="M209.5 76.8a0.85 0.85 0 1 0 1.7 0a0.85 0.85 0 1 0 -1.7 0" fill="#f0901c"/>
<path d="M176.9 88.6a0.85 0.85 0 1 0 1.7 0a0.85 0.85 0 1 0 -1.7 0M208.7 86.3a0.85 0.85 0 1 0 1.7 0a0.85 0.85 0 1 0 -1.7 0M198.8 91.4a0.85 0.85 0 1 0 1.7 0a0.85 0.85 0 1 0 -1.7 0M207.3 69.9a0.85 0.85 0 1 0 1.7 0a0.85 0.85 0 1 0 -1.7 0M208.3 95.3a0.85 0.85 0 1 0 1.7 0a0.85 0.85 0 1 0 -1.7 0M214.1 80.4a0.85 0.85 0 1 0 1.7 0a0.85 0.85 0 1 0 -1.7 0" fill="#1e1e1e"/>
<path d="M181.5 96.9a0.85 0.85 0 1 0 1.7 0a0.85 0.85 0 1 0 -1.7 0" fill="#f0901c"/>
<path d="M197.4 81.7a0.85 0.85 0 1 0 1.7 0a0.85 0.85 0 1 0 -1.7 0M205.5 88.6a0.85 0.85 0 1 0 1.7 0a0.85 0.85 0 1 0 -1.7 0M170.3 90.3a0.85 0.85 0 1 0 1.7 0a0.85 0.85 0 1 0 -1.7 0M170.6 51.4a0.85 0.85 0 1 0 1.7 0a0.85 0.85 0 1 0 -1.7 0M203.8 71.4a0.85 0.85 0 1 0 1.7 0a0.85 0.85 0 1 0 -1.7 0" fill="#1e1e1e"/>
<path d="M205.8 96.4a0.85 0.85 0 1 0 1.7 0a0.85 0.85 0 1 0 -1.7 0" fill="#8a8a8a"/>
<path d="M229.9 98.5a0.85 0.85 0 1 0 1.7 0a0.85 0.85 0 1 0 -1.7 0M219.2 61.2a0.85 0.85 0 1 0 1.7 0a0.85 0.85 0 1 0 -1.7 0M197.7 93.0a0.85 0.85 0 1 0 1.7 0a0.85 0.85 0 1 0 -1.7 0M182.3 99.4a0.85 0.85 0 1 0 1.7 0a0.85 0.85 0 1 0 -1.7 0" fill="#1e1e1e"/>
<path d="M207.8 39.1a0.85 0.85 0 1 0 1.7 0a0.85 0.85 0 1 0 -1.7 0" fill="#f0901c"/>
<path d="M200.1 99.2a0.85 0.85 0 1 0 1.7 0a0.85 0.85 0 1 0 -1.7 0M228.1 90.7a0.85 0.85 0 1 0 1.7 0a0.85 0.85 0 1 0 -1.7 0M166.0 95.0a0.85 0.85 0 1 0 1.7 0a0.85 0.85 0 1 0 -1.7 0" fill="#1e1e1e"/>
<path d="M224.2 98.2a0.85 0.85 0 1 0 1.7 0a0.85 0.85 0 1 0 -1.7 0" fill="#f0901c"/>
<path d="M182.5 80.8a0.85 0.85 0 1 0 1.7 0a0.85 0.85 0 1 0 -1.7 0M199.1 80.5a0.85 0.85 0 1 0 1.7 0a0.85 0.85 0 1 0 -1.7 0M168.7 96.2a0.85 0.85 0 1 0 1.7 0a0.85 0.85 0 1 0 -1.7 0M203.5 86.6a0.85 0.85 0 1 0 1.7 0a0.85 0.85 0 1 0 -1.7 0M214.7 75.2a0.85 0.85 0 1 0 1.7 0a0.85 0.85 0 1 0 -1.7 0M228.8 84.9a0.85 0.85 0 1 0 1.7 0a0.85 0.85 0 1 0 -1.7 0M167.5 42.1a0.85 0.85 0 1 0 1.7 0a0.85 0.85 0 1 0 -1.7 0M211.4 77.3a0.85 0.85 0 1 0 1.7 0a0.85 0.85 0 1 0 -1.7 0M204.5 97.4a0.85 0.85 0 1 0 1.7 0a0.85 0.85 0 1 0 -1.7 0" fill="#1e1e1e"/>
<path d="M225.4 77.6a0.85 0.85 0 1 0 1.7 0a0.85 0.85 0 1 0 -1.7 0" fill="#34497a"/>
<path d="M201.3 54.8a0.85 0.85 0 1 0 1.7 0a0.85 0.85 0 1 0 -1.7 0" fill="#f0901c"/>
<path d="M209.6 71.4a0.85 0.85 0 1 0 1.7 0a0.85 0.85 0 1 0 -1.7 0M197.5 88.1a0.85 0.85 0 1 0 1.7 0a0.85 0.85 0 1 0 -1.7 0M203.6 82.0a0.85 0.85 0 1 0 1.7 0a0.85 0.85 0 1 0 -1.7 0M213.0 88.6a0.85 0.85 0 1 0 1.7 0a0.85 0.85 0 1 0 -1.7 0M172.1 99.1a0.85 0.85 0 1 0 1.7 0a0.85 0.85 0 1 0 -1.7 0M168.0 65.1a0.85 0.85 0 1 0 1.7 0a0.85 0.85 0 1 0 -1.7 0M200.4 59.7a0.85 0.85 0 1 0 1.7 0a0.85 0.85 0 1 0 -1.7 0M171.3 93.6a0.85 0.85 0 1 0 1.7 0a0.85 0.85 0 1 0 -1.7 0" fill="#1e1e1e"/>
<path d="M202.0 64.2a0.85 0.85 0 1 0 1.7 0a0.85 0.85 0 1 0 -1.7 0" fill="#34497a"/>
<path d="M209.2 84.2a0.85 0.85 0 1 0 1.7 0a0.85 0.85 0 1 0 -1.7 0" fill="#8a8a8a"/>
<path d="M186.7 90.4a0.85 0.85 0 1 0 1.7 0a0.85 0.85 0 1 0 -1.7 0M221.6 89.1a0.85 0.85 0 1 0 1.7 0a0.85 0.85 0 1 0 -1.7 0M180.6 81.0a0.85 0.85 0 1 0 1.7 0a0.85 0.85 0 1 0 -1.7 0M178.9 98.7a0.85 0.85 0 1 0 1.7 0a0.85 0.85 0 1 0 -1.7 0M203.9 89.1a0.85 0.85 0 1 0 1.7 0a0.85 0.85 0 1 0 -1.7 0M199.9 61.3a0.85 0.85 0 1 0 1.7 0a0.85 0.85 0 1 0 -1.7 0M208.0 86.8a0.85 0.85 0 1 0 1.7 0a0.85 0.85 0 1 0 -1.7 0" fill="#1e1e1e"/>
<path d="M221.2 85.2a0.85 0.85 0 1 0 1.7 0a0.85 0.85 0 1 0 -1.7 0" fill="#f0901c"/>
<path d="M209.1 80.2a0.85 0.85 0 1 0 1.7 0a0.85 0.85 0 1 0 -1.7 0" fill="#1e1e1e"/>
<path d="M210.9 95.5a0.85 0.85 0 1 0 1.7 0a0.85 0.85 0 1 0 -1.7 0" fill="#8a8a8a"/>
<path d="M169.1 42.7a0.85 0.85 0 1 0 1.7 0a0.85 0.85 0 1 0 -1.7 0" fill="#1e1e1e"/>
<path d="M200.4 87.7a0.85 0.85 0 1 0 1.7 0a0.85 0.85 0 1 0 -1.7 0" fill="#8a8a8a"/>
<path d="M183.3 70.0a0.85 0.85 0 1 0 1.7 0a0.85 0.85 0 1 0 -1.7 0" fill="#1e1e1e"/>
<path d="M209.0 77.3a0.85 0.85 0 1 0 1.7 0a0.85 0.85 0 1 0 -1.7 0" fill="#34497a"/>
<path d="M178.9 66.7a0.85 0.85 0 1 0 1.7 0a0.85 0.85 0 1 0 -1.7 0" fill="#1e1e1e"/>
<path d="M209.1 82.5a0.85 0.85 0 1 0 1.7 0a0.85 0.85 0 1 0 -1.7 0" fill="#34497a"/>
<path d="M225.2 93.4a0.85 0.85 0 1 0 1.7 0a0.85 0.85 0 1 0 -1.7 0M205.8 85.7a0.85 0.85 0 1 0 1.7 0a0.85 0.85 0 1 0 -1.7 0M168.7 77.1a0.85 0.85 0 1 0 1.7 0a0.85 0.85 0 1 0 -1.7 0M207.4 88.3a0.85 0.85 0 1 0 1.7 0a0.85 0.85 0 1 0 -1.7 0M207.4 90.0a0.85 0.85 0 1 0 1.7 0a0.85 0.85 0 1 0 -1.7 0M198.5 40.4a0.85 0.85 0 1 0 1.7 0a0.85 0.85 0 1 0 -1.7 0" fill="#1e1e1e"/>
<path d="M199.3 89.1a0.85 0.85 0 1 0 1.7 0a0.85 0.85 0 1 0 -1.7 0" fill="#f0901c"/>
<path d="M170.7 97.6a0.85 0.85 0 1 0 1.7 0a0.85 0.85 0 1 0 -1.7 0" fill="#34497a"/>
<path d="M202.4 72.2a0.85 0.85 0 1 0 1.7 0a0.85 0.85 0 1 0 -1.7 0M210.4 93.7a0.85 0.85 0 1 0 1.7 0a0.85 0.85 0 1 0 -1.7 0M170.7 94.6a0.85 0.85 0 1 0 1.7 0a0.85 0.85 0 1 0 -1.7 0" fill="#1e1e1e"/>
<path d="M201.4 96.8a0.85 0.85 0 1 0 1.7 0a0.85 0.85 0 1 0 -1.7 0" fill="#f0901c"/>
<path d="M215.2 91.3a0.85 0.85 0 1 0 1.7 0a0.85 0.85 0 1 0 -1.7 0M200.8 62.0a0.85 0.85 0 1 0 1.7 0a0.85 0.85 0 1 0 -1.7 0" fill="#1e1e1e"/>
<path d="M198.8 98.7a0.85 0.85 0 1 0 1.7 0a0.85 0.85 0 1 0 -1.7 0" fill="#34497a"/>
<path d="M180.7 87.6a0.85 0.85 0 1 0 1.7 0a0.85 0.85 0 1 0 -1.7 0M208.4 90.7a0.85 0.85 0 1 0 1.7 0a0.85 0.85 0 1 0 -1.7 0M166.8 86.9a0.85 0.85 0 1 0 1.7 0a0.85 0.85 0 1 0 -1.7 0M215.2 97.2a0.85 0.85 0 1 0 1.7 0a0.85 0.85 0 1 0 -1.7 0M221.6 91.8a0.85 0.85 0 1 0 1.7 0a0.85 0.85 0 1 0 -1.7 0M200.9 89.0a0.85 0.85 0 1 0 1.7 0a0.85 0.85 0 1 0 -1.7 0M199.9 97.8a0.85 0.85 0 1 0 1.7 0a0.85 0.85 0 1 0 -1.7 0M200.7 78.4a0.85 0.85 0 1 0 1.7 0a0.85 0.85 0 1 0 -1.7 0" fill="#1e1e1e"/>
<path d="M250.2 98.8a0.85 0.85 0 1 0 1.7 0a0.85 0.85 0 1 0 -1.7 0" fill="#f0901c"/>
<path d="M239.6 97.5a0.85 0.85 0 1 0 1.7 0a0.85 0.85 0 1 0 -1.7 0M232.9 98.4a0.85 0.85 0 1 0 1.7 0a0.85 0.85 0 1 0 -1.7 0M208.6 95.5a0.85 0.85 0 1 0 1.7 0a0.85 0.85 0 1 0 -1.7 0M165.1 82.8a0.85 0.85 0 1 0 1.7 0a0.85 0.85 0 1 0 -1.7 0M207.1 89.3a0.85 0.85 0 1 0 1.7 0a0.85 0.85 0 1 0 -1.7 0M177.1 95.6a0.85 0.85 0 1 0 1.7 0a0.85 0.85 0 1 0 -1.7 0M136.6 99.3a0.85 0.85 0 1 0 1.7 0a0.85 0.85 0 1 0 -1.7 0M182.4 95.8a0.85 0.85 0 1 0 1.7 0a0.85 0.85 0 1 0 -1.7 0M221.8 90.6a0.85 0.85 0 1 0 1.7 0a0.85 0.85 0 1 0 -1.7 0M203.8 99.2a0.85 0.85 0 1 0 1.7 0a0.85 0.85 0 1 0 -1.7 0M198.1 98.6a0.85 0.85 0 1 0 1.7 0a0.85 0.85 0 1 0 -1.7 0M173.4 81.5a0.85 0.85 0 1 0 1.7 0a0.85 0.85 0 1 0 -1.7 0M181.6 70.7a0.85 0.85 0 1 0 1.7 0a0.85 0.85 0 1 0 -1.7 0" fill="#1e1e1e"/>
<path d="M197.8 89.2a0.85 0.85 0 1 0 1.7 0a0.85 0.85 0 1 0 -1.7 0" fill="#8a8a8a"/>
<path d="M203.9 81.3a0.85 0.85 0 1 0 1.7 0a0.85 0.85 0 1 0 -1.7 0M202.4 90.7a0.85 0.85 0 1 0 1.7 0a0.85 0.85 0 1 0 -1.7 0M160.4 98.1a0.85 0.85 0 1 0 1.7 0a0.85 0.85 0 1 0 -1.7 0M227.4 91.4a0.85 0.85 0 1 0 1.7 0a0.85 0.85 0 1 0 -1.7 0M212.6 94.9a0.85 0.85 0 1 0 1.7 0a0.85 0.85 0 1 0 -1.7 0" fill="#1e1e1e"/>
<path d="M205.0 95.8a0.85 0.85 0 1 0 1.7 0a0.85 0.85 0 1 0 -1.7 0" fill="#f0901c"/>
<path d="M183.1 77.1a0.85 0.85 0 1 0 1.7 0a0.85 0.85 0 1 0 -1.7 0M218.1 81.6a0.85 0.85 0 1 0 1.7 0a0.85 0.85 0 1 0 -1.7 0" fill="#1e1e1e"/>
<path d="M147.4 99.5a0.85 0.85 0 1 0 1.7 0a0.85 0.85 0 1 0 -1.7 0" fill="#f0901c"/>
<path d="M172.5 64.7a0.85 0.85 0 1 0 1.7 0a0.85 0.85 0 1 0 -1.7 0M173.6 93.6a0.85 0.85 0 1 0 1.7 0a0.85 0.85 0 1 0 -1.7 0M204.9 88.8a0.85 0.85 0 1 0 1.7 0a0.85 0.85 0 1 0 -1.7 0M232.0 86.5a0.85 0.85 0 1 0 1.7 0a0.85 0.85 0 1 0 -1.7 0M201.9 89.7a0.85 0.85 0 1 0 1.7 0a0.85 0.85 0 1 0 -1.7 0M216.9 75.3a0.85 0.85 0 1 0 1.7 0a0.85 0.85 0 1 0 -1.7 0M209.2 84.0a0.85 0.85 0 1 0 1.7 0a0.85 0.85 0 1 0 -1.7 0M198.1 81.9a0.85 0.85 0 1 0 1.7 0a0.85 0.85 0 1 0 -1.7 0M214.5 95.1a0.85 0.85 0 1 0 1.7 0a0.85 0.85 0 1 0 -1.7 0M199.4 90.4a0.85 0.85 0 1 0 1.7 0a0.85 0.85 0 1 0 -1.7 0M186.2 96.7a0.85 0.85 0 1 0 1.7 0a0.85 0.85 0 1 0 -1.7 0M208.0 69.0a0.85 0.85 0 1 0 1.7 0a0.85 0.85 0 1 0 -1.7 0M205.8 97.5a0.85 0.85 0 1 0 1.7 0a0.85 0.85 0 1 0 -1.7 0M180.5 81.4a0.85 0.85 0 1 0 1.7 0a0.85 0.85 0 1 0 -1.7 0M214.3 90.1a0.85 0.85 0 1 0 1.7 0a0.85 0.85 0 1 0 -1.7 0" fill="#1e1e1e"/>
<path d="M200.8 83.4a0.85 0.85 0 1 0 1.7 0a0.85 0.85 0 1 0 -1.7 0" fill="#34497a"/>
<path d="M224.3 97.6a0.85 0.85 0 1 0 1.7 0a0.85 0.85 0 1 0 -1.7 0M166.2 96.5a0.85 0.85 0 1 0 1.7 0a0.85 0.85 0 1 0 -1.7 0M187.1 95.6a0.85 0.85 0 1 0 1.7 0a0.85 0.85 0 1 0 -1.7 0M171.0 57.5a0.85 0.85 0 1 0 1.7 0a0.85 0.85 0 1 0 -1.7 0" fill="#1e1e1e"/>
<path d="M175.2 84.6a0.85 0.85 0 1 0 1.7 0a0.85 0.85 0 1 0 -1.7 0" fill="#f0901c"/>
<path d="M232.9 83.1a0.85 0.85 0 1 0 1.7 0a0.85 0.85 0 1 0 -1.7 0M216.6 95.8a0.85 0.85 0 1 0 1.7 0a0.85 0.85 0 1 0 -1.7 0M210.8 73.4a0.85 0.85 0 1 0 1.7 0a0.85 0.85 0 1 0 -1.7 0M185.7 97.8a0.85 0.85 0 1 0 1.7 0a0.85 0.85 0 1 0 -1.7 0M211.4 97.1a0.85 0.85 0 1 0 1.7 0a0.85 0.85 0 1 0 -1.7 0M167.8 41.8a0.85 0.85 0 1 0 1.7 0a0.85 0.85 0 1 0 -1.7 0M204.6 39.1a0.85 0.85 0 1 0 1.7 0a0.85 0.85 0 1 0 -1.7 0" fill="#1e1e1e"/>
<path d="M225.8 92.1a0.85 0.85 0 1 0 1.7 0a0.85 0.85 0 1 0 -1.7 0" fill="#8a8a8a"/>
<path d="M209.7 95.2a0.85 0.85 0 1 0 1.7 0a0.85 0.85 0 1 0 -1.7 0M200.6 85.8a0.85 0.85 0 1 0 1.7 0a0.85 0.85 0 1 0 -1.7 0" fill="#1e1e1e"/>
<path d="M170.0 88.5a0.85 0.85 0 1 0 1.7 0a0.85 0.85 0 1 0 -1.7 0" fill="#8a8a8a"/>
<path d="M198.3 96.4a0.85 0.85 0 1 0 1.7 0a0.85 0.85 0 1 0 -1.7 0M175.3 90.6a0.85 0.85 0 1 0 1.7 0a0.85 0.85 0 1 0 -1.7 0M208.1 92.2a0.85 0.85 0 1 0 1.7 0a0.85 0.85 0 1 0 -1.7 0M183.7 78.9a0.85 0.85 0 1 0 1.7 0a0.85 0.85 0 1 0 -1.7 0M198.6 98.2a0.85 0.85 0 1 0 1.7 0a0.85 0.85 0 1 0 -1.7 0M208.8 55.7a0.85 0.85 0 1 0 1.7 0a0.85 0.85 0 1 0 -1.7 0M209.3 86.6a0.85 0.85 0 1 0 1.7 0a0.85 0.85 0 1 0 -1.7 0M214.4 71.9a0.85 0.85 0 1 0 1.7 0a0.85 0.85 0 1 0 -1.7 0M212.4 72.9a0.85 0.85 0 1 0 1.7 0a0.85 0.85 0 1 0 -1.7 0" fill="#1e1e1e"/>
<path d="M212.9 98.5a0.85 0.85 0 1 0 1.7 0a0.85 0.85 0 1 0 -1.7 0" fill="#f0901c"/>
<path d="M204.6 89.3a0.85 0.85 0 1 0 1.7 0a0.85 0.85 0 1 0 -1.7 0M207.5 75.7a0.85 0.85 0 1 0 1.7 0a0.85 0.85 0 1 0 -1.7 0M209.4 55.0a0.85 0.85 0 1 0 1.7 0a0.85 0.85 0 1 0 -1.7 0M203.9 97.1a0.85 0.85 0 1 0 1.7 0a0.85 0.85 0 1 0 -1.7 0" fill="#1e1e1e"/>
<path d="M213.4 90.2a0.85 0.85 0 1 0 1.7 0a0.85 0.85 0 1 0 -1.7 0" fill="#34497a"/>
<path d="M223.3 97.4a0.85 0.85 0 1 0 1.7 0a0.85 0.85 0 1 0 -1.7 0" fill="#8a8a8a"/>
<path d="M171.0 64.2a0.85 0.85 0 1 0 1.7 0a0.85 0.85 0 1 0 -1.7 0M230.8 94.7a0.85 0.85 0 1 0 1.7 0a0.85 0.85 0 1 0 -1.7 0M210.3 91.4a0.85 0.85 0 1 0 1.7 0a0.85 0.85 0 1 0 -1.7 0M227.5 75.4a0.85 0.85 0 1 0 1.7 0a0.85 0.85 0 1 0 -1.7 0" fill="#1e1e1e"/>
<path d="M232.7 99.4a0.85 0.85 0 1 0 1.7 0a0.85 0.85 0 1 0 -1.7 0" fill="#f0901c"/>
<path d="M164.1 84.8a0.85 0.85 0 1 0 1.7 0a0.85 0.85 0 1 0 -1.7 0M222.9 81.8a0.85 0.85 0 1 0 1.7 0a0.85 0.85 0 1 0 -1.7 0M166.2 44.0a0.85 0.85 0 1 0 1.7 0a0.85 0.85 0 1 0 -1.7 0" fill="#1e1e1e"/>
<path d="M167.0 79.8a0.85 0.85 0 1 0 1.7 0a0.85 0.85 0 1 0 -1.7 0" fill="#34497a"/>
<path d="M169.0 83.3a0.85 0.85 0 1 0 1.7 0a0.85 0.85 0 1 0 -1.7 0M207.5 84.4a0.85 0.85 0 1 0 1.7 0a0.85 0.85 0 1 0 -1.7 0M181.4 90.4a0.85 0.85 0 1 0 1.7 0a0.85 0.85 0 1 0 -1.7 0M179.0 68.5a0.85 0.85 0 1 0 1.7 0a0.85 0.85 0 1 0 -1.7 0" fill="#1e1e1e"/>
<path d="M211.4 95.8a0.85 0.85 0 1 0 1.7 0a0.85 0.85 0 1 0 -1.7 0" fill="#8a8a8a"/>
<path d="M214.9 45.2a0.85 0.85 0 1 0 1.7 0a0.85 0.85 0 1 0 -1.7 0M231.6 98.1a0.85 0.85 0 1 0 1.7 0a0.85 0.85 0 1 0 -1.7 0M197.5 80.9a0.85 0.85 0 1 0 1.7 0a0.85 0.85 0 1 0 -1.7 0M169.5 75.5a0.85 0.85 0 1 0 1.7 0a0.85 0.85 0 1 0 -1.7 0M216.2 89.9a0.85 0.85 0 1 0 1.7 0a0.85 0.85 0 1 0 -1.7 0M212.8 82.4a0.85 0.85 0 1 0 1.7 0a0.85 0.85 0 1 0 -1.7 0M226.7 98.1a0.85 0.85 0 1 0 1.7 0a0.85 0.85 0 1 0 -1.7 0M200.4 70.2a0.85 0.85 0 1 0 1.7 0a0.85 0.85 0 1 0 -1.7 0" fill="#1e1e1e"/>
<path d="M212.5 91.5a0.85 0.85 0 1 0 1.7 0a0.85 0.85 0 1 0 -1.7 0" fill="#8a8a8a"/>
<path d="M167.3 75.2a0.85 0.85 0 1 0 1.7 0a0.85 0.85 0 1 0 -1.7 0M162.4 95.9a0.85 0.85 0 1 0 1.7 0a0.85 0.85 0 1 0 -1.7 0M214.2 93.7a0.85 0.85 0 1 0 1.7 0a0.85 0.85 0 1 0 -1.7 0M203.6 92.8a0.85 0.85 0 1 0 1.7 0a0.85 0.85 0 1 0 -1.7 0M243.1 99.3a0.85 0.85 0 1 0 1.7 0a0.85 0.85 0 1 0 -1.7 0M234.9 84.6a0.85 0.85 0 1 0 1.7 0a0.85 0.85 0 1 0 -1.7 0M201.4 39.4a0.85 0.85 0 1 0 1.7 0a0.85 0.85 0 1 0 -1.7 0M186.2 91.5a0.85 0.85 0 1 0 1.7 0a0.85 0.85 0 1 0 -1.7 0M200.5 61.5a0.85 0.85 0 1 0 1.7 0a0.85 0.85 0 1 0 -1.7 0M207.8 92.0a0.85 0.85 0 1 0 1.7 0a0.85 0.85 0 1 0 -1.7 0M211.6 89.3a0.85 0.85 0 1 0 1.7 0a0.85 0.85 0 1 0 -1.7 0M248.5 98.8a0.85 0.85 0 1 0 1.7 0a0.85 0.85 0 1 0 -1.7 0M181.8 92.2a0.85 0.85 0 1 0 1.7 0a0.85 0.85 0 1 0 -1.7 0M214.9 82.1a0.85 0.85 0 1 0 1.7 0a0.85 0.85 0 1 0 -1.7 0M197.8 86.5a0.85 0.85 0 1 0 1.7 0a0.85 0.85 0 1 0 -1.7 0M215.9 67.8a0.85 0.85 0 1 0 1.7 0a0.85 0.85 0 1 0 -1.7 0" fill="#1e1e1e"/>
<path d="M197.1 91.8a0.85 0.85 0 1 0 1.7 0a0.85 0.85 0 1 0 -1.7 0" fill="#34497a"/>
<path d="M179.0 89.8a0.85 0.85 0 1 0 1.7 0a0.85 0.85 0 1 0 -1.7 0" fill="#1e1e1e"/>
<path d="M197.0 97.4a0.85 0.85 0 1 0 1.7 0a0.85 0.85 0 1 0 -1.7 0M214.1 94.3a0.85 0.85 0 1 0 1.7 0a0.85 0.85 0 1 0 -1.7 0M215.3 93.1a0.85 0.85 0 1 0 1.7 0a0.85 0.85 0 1 0 -1.7 0" fill="#f0901c"/>
<path d="M213.2 85.3a0.85 0.85 0 1 0 1.7 0a0.85 0.85 0 1 0 -1.7 0M220.2 98.9a0.85 0.85 0 1 0 1.7 0a0.85 0.85 0 1 0 -1.7 0M251.5 97.8a0.85 0.85 0 1 0 1.7 0a0.85 0.85 0 1 0 -1.7 0M202.3 87.2a0.85 0.85 0 1 0 1.7 0a0.85 0.85 0 1 0 -1.7 0" fill="#1e1e1e"/>
<path d="M225.7 92.5a0.85 0.85 0 1 0 1.7 0a0.85 0.85 0 1 0 -1.7 0" fill="#f0901c"/>
<path d="M217.8 91.1a0.85 0.85 0 1 0 1.7 0a0.85 0.85 0 1 0 -1.7 0M204.2 69.6a0.85 0.85 0 1 0 1.7 0a0.85 0.85 0 1 0 -1.7 0M197.3 99.2a0.85 0.85 0 1 0 1.7 0a0.85 0.85 0 1 0 -1.7 0M179.8 87.5a0.85 0.85 0 1 0 1.7 0a0.85 0.85 0 1 0 -1.7 0M202.7 85.1a0.85 0.85 0 1 0 1.7 0a0.85 0.85 0 1 0 -1.7 0M213.2 72.2a0.85 0.85 0 1 0 1.7 0a0.85 0.85 0 1 0 -1.7 0" fill="#1e1e1e"/>
<path d="M168.9 90.0a0.85 0.85 0 1 0 1.7 0a0.85 0.85 0 1 0 -1.7 0M245.9 96.7a0.85 0.85 0 1 0 1.7 0a0.85 0.85 0 1 0 -1.7 0" fill="#8a8a8a"/>
<path d="M206.2 83.2a0.85 0.85 0 1 0 1.7 0a0.85 0.85 0 1 0 -1.7 0M204.0 94.0a0.85 0.85 0 1 0 1.7 0a0.85 0.85 0 1 0 -1.7 0M208.5 92.5a0.85 0.85 0 1 0 1.7 0a0.85 0.85 0 1 0 -1.7 0" fill="#1e1e1e"/>
<path d="M203.0 66.9a0.85 0.85 0 1 0 1.7 0a0.85 0.85 0 1 0 -1.7 0" fill="#f0901c"/>
<path d="M165.8 73.8a0.85 0.85 0 1 0 1.7 0a0.85 0.85 0 1 0 -1.7 0M221.5 82.8a0.85 0.85 0 1 0 1.7 0a0.85 0.85 0 1 0 -1.7 0M215.5 39.3a0.85 0.85 0 1 0 1.7 0a0.85 0.85 0 1 0 -1.7 0M209.9 94.3a0.85 0.85 0 1 0 1.7 0a0.85 0.85 0 1 0 -1.7 0M207.4 88.9a0.85 0.85 0 1 0 1.7 0a0.85 0.85 0 1 0 -1.7 0" fill="#1e1e1e"/>
<path d="M203.3 89.8a0.85 0.85 0 1 0 1.7 0a0.85 0.85 0 1 0 -1.7 0" fill="#34497a"/>
<path d="M172.6 75.3a0.85 0.85 0 1 0 1.7 0a0.85 0.85 0 1 0 -1.7 0M239.1 91.3a0.85 0.85 0 1 0 1.7 0a0.85 0.85 0 1 0 -1.7 0M219.0 95.8a0.85 0.85 0 1 0 1.7 0a0.85 0.85 0 1 0 -1.7 0M174.2 86.7a0.85 0.85 0 1 0 1.7 0a0.85 0.85 0 1 0 -1.7 0M242.6 99.5a0.85 0.85 0 1 0 1.7 0a0.85 0.85 0 1 0 -1.7 0" fill="#1e1e1e"/>
<path d="M203.7 93.7a0.85 0.85 0 1 0 1.7 0a0.85 0.85 0 1 0 -1.7 0" fill="#f0901c"/>
<path d="M200.8 83.8a0.85 0.85 0 1 0 1.7 0a0.85 0.85 0 1 0 -1.7 0M212.2 97.4a0.85 0.85 0 1 0 1.7 0a0.85 0.85 0 1 0 -1.7 0M163.5 95.6a0.85 0.85 0 1 0 1.7 0a0.85 0.85 0 1 0 -1.7 0" fill="#1e1e1e"/>
<path d="M138.1 95.6a0.85 0.85 0 1 0 1.7 0a0.85 0.85 0 1 0 -1.7 0" fill="#f0901c"/>
<path d="M179.9 73.4a0.85 0.85 0 1 0 1.7 0a0.85 0.85 0 1 0 -1.7 0M200.8 93.7a0.85 0.85 0 1 0 1.7 0a0.85 0.85 0 1 0 -1.7 0M206.5 87.3a0.85 0.85 0 1 0 1.7 0a0.85 0.85 0 1 0 -1.7 0M205.3 94.0a0.85 0.85 0 1 0 1.7 0a0.85 0.85 0 1 0 -1.7 0M184.0 90.6a0.85 0.85 0 1 0 1.7 0a0.85 0.85 0 1 0 -1.7 0M176.0 39.1a0.85 0.85 0 1 0 1.7 0a0.85 0.85 0 1 0 -1.7 0M207.5 87.5a0.85 0.85 0 1 0 1.7 0a0.85 0.85 0 1 0 -1.7 0M213.5 82.5a0.85 0.85 0 1 0 1.7 0a0.85 0.85 0 1 0 -1.7 0M208.8 80.0a0.85 0.85 0 1 0 1.7 0a0.85 0.85 0 1 0 -1.7 0M217.5 81.5a0.85 0.85 0 1 0 1.7 0a0.85 0.85 0 1 0 -1.7 0M174.1 74.9a0.85 0.85 0 1 0 1.7 0a0.85 0.85 0 1 0 -1.7 0" fill="#1e1e1e"/>
<path d="M203.6 81.3a0.85 0.85 0 1 0 1.7 0a0.85 0.85 0 1 0 -1.7 0" fill="#f0901c"/>
<path d="M165.0 84.7a0.85 0.85 0 1 0 1.7 0a0.85 0.85 0 1 0 -1.7 0" fill="#1e1e1e"/>
<path d="M213.5 96.0a0.85 0.85 0 1 0 1.7 0a0.85 0.85 0 1 0 -1.7 0" fill="#f0901c"/>
<path d="M204.7 84.7a0.85 0.85 0 1 0 1.7 0a0.85 0.85 0 1 0 -1.7 0M204.3 87.2a0.85 0.85 0 1 0 1.7 0a0.85 0.85 0 1 0 -1.7 0" fill="#1e1e1e"/>
<path d="M179.5 86.4a0.85 0.85 0 1 0 1.7 0a0.85 0.85 0 1 0 -1.7 0" fill="#f0901c"/>
<path d="M219.2 97.9a0.85 0.85 0 1 0 1.7 0a0.85 0.85 0 1 0 -1.7 0M203.4 94.5a0.85 0.85 0 1 0 1.7 0a0.85 0.85 0 1 0 -1.7 0M182.1 86.8a0.85 0.85 0 1 0 1.7 0a0.85 0.85 0 1 0 -1.7 0M234.6 92.5a0.85 0.85 0 1 0 1.7 0a0.85 0.85 0 1 0 -1.7 0M233.9 95.8a0.85 0.85 0 1 0 1.7 0a0.85 0.85 0 1 0 -1.7 0M215.7 71.7a0.85 0.85 0 1 0 1.7 0a0.85 0.85 0 1 0 -1.7 0M220.5 38.7a0.85 0.85 0 1 0 1.7 0a0.85 0.85 0 1 0 -1.7 0M216.8 96.1a0.85 0.85 0 1 0 1.7 0a0.85 0.85 0 1 0 -1.7 0" fill="#1e1e1e"/>
<path d="M169.2 97.8a0.85 0.85 0 1 0 1.7 0a0.85 0.85 0 1 0 -1.7 0" fill="#34497a"/>
<path d="M185.2 97.4a0.85 0.85 0 1 0 1.7 0a0.85 0.85 0 1 0 -1.7 0M216.5 65.1a0.85 0.85 0 1 0 1.7 0a0.85 0.85 0 1 0 -1.7 0" fill="#1e1e1e"/>
<path d="M214.1 94.3a0.85 0.85 0 1 0 1.7 0a0.85 0.85 0 1 0 -1.7 0" fill="#f0901c"/>
<path d="M173.4 96.3a0.85 0.85 0 1 0 1.7 0a0.85 0.85 0 1 0 -1.7 0M200.9 89.8a0.85 0.85 0 1 0 1.7 0a0.85 0.85 0 1 0 -1.7 0M199.9 74.8a0.85 0.85 0 1 0 1.7 0a0.85 0.85 0 1 0 -1.7 0M209.7 84.9a0.85 0.85 0 1 0 1.7 0a0.85 0.85 0 1 0 -1.7 0M206.1 44.5a0.85 0.85 0 1 0 1.7 0a0.85 0.85 0 1 0 -1.7 0M204.2 65.2a0.85 0.85 0 1 0 1.7 0a0.85 0.85 0 1 0 -1.7 0M202.9 92.9a0.85 0.85 0 1 0 1.7 0a0.85 0.85 0 1 0 -1.7 0M199.3 78.9a0.85 0.85 0 1 0 1.7 0a0.85 0.85 0 1 0 -1.7 0" fill="#1e1e1e"/>
<path d="M200.3 76.2a0.85 0.85 0 1 0 1.7 0a0.85 0.85 0 1 0 -1.7 0" fill="#34497a"/>
<path d="M198.5 87.0a0.85 0.85 0 1 0 1.7 0a0.85 0.85 0 1 0 -1.7 0" fill="#1e1e1e"/>
<path d="M208.1 89.1a0.85 0.85 0 1 0 1.7 0a0.85 0.85 0 1 0 -1.7 0" fill="#f0901c"/>
<path d="M176.3 98.1a0.85 0.85 0 1 0 1.7 0a0.85 0.85 0 1 0 -1.7 0M179.6 98.6a0.85 0.85 0 1 0 1.7 0a0.85 0.85 0 1 0 -1.7 0M139.4 99.3a0.85 0.85 0 1 0 1.7 0a0.85 0.85 0 1 0 -1.7 0M209.1 86.0a0.85 0.85 0 1 0 1.7 0a0.85 0.85 0 1 0 -1.7 0M223.1 88.3a0.85 0.85 0 1 0 1.7 0a0.85 0.85 0 1 0 -1.7 0M209.9 73.5a0.85 0.85 0 1 0 1.7 0a0.85 0.85 0 1 0 -1.7 0" fill="#1e1e1e"/>
<path d="M201.0 97.1a0.85 0.85 0 1 0 1.7 0a0.85 0.85 0 1 0 -1.7 0" fill="#f0901c"/>
<path d="M200.1 90.3a0.85 0.85 0 1 0 1.7 0a0.85 0.85 0 1 0 -1.7 0" fill="#1e1e1e"/>
<path d="M202.7 91.6a0.85 0.85 0 1 0 1.7 0a0.85 0.85 0 1 0 -1.7 0" fill="#f0901c"/>
<path d="M174.0 98.0a0.85 0.85 0 1 0 1.7 0a0.85 0.85 0 1 0 -1.7 0M198.7 98.2a0.85 0.85 0 1 0 1.7 0a0.85 0.85 0 1 0 -1.7 0M208.9 87.4a0.85 0.85 0 1 0 1.7 0a0.85 0.85 0 1 0 -1.7 0M139.2 96.0a0.85 0.85 0 1 0 1.7 0a0.85 0.85 0 1 0 -1.7 0" fill="#1e1e1e"/>
<path d="M168.6 95.3a0.85 0.85 0 1 0 1.7 0a0.85 0.85 0 1 0 -1.7 0" fill="#f0901c"/>
<path d="M201.1 40.9a0.85 0.85 0 1 0 1.7 0a0.85 0.85 0 1 0 -1.7 0M198.5 91.6a0.85 0.85 0 1 0 1.7 0a0.85 0.85 0 1 0 -1.7 0" fill="#1e1e1e"/>
<path d="M215.2 83.6a0.85 0.85 0 1 0 1.7 0a0.85 0.85 0 1 0 -1.7 0" fill="#f0901c"/>
<path d="M206.6 77.7a0.85 0.85 0 1 0 1.7 0a0.85 0.85 0 1 0 -1.7 0M181.2 69.1a0.85 0.85 0 1 0 1.7 0a0.85 0.85 0 1 0 -1.7 0M197.0 89.7a0.85 0.85 0 1 0 1.7 0a0.85 0.85 0 1 0 -1.7 0M201.2 83.9a0.85 0.85 0 1 0 1.7 0a0.85 0.85 0 1 0 -1.7 0M209.9 85.0a0.85 0.85 0 1 0 1.7 0a0.85 0.85 0 1 0 -1.7 0M223.8 65.8a0.85 0.85 0 1 0 1.7 0a0.85 0.85 0 1 0 -1.7 0M203.4 84.5a0.85 0.85 0 1 0 1.7 0a0.85 0.85 0 1 0 -1.7 0M204.1 57.5a0.85 0.85 0 1 0 1.7 0a0.85 0.85 0 1 0 -1.7 0" fill="#1e1e1e"/>
<path d="M197.0 92.9a0.85 0.85 0 1 0 1.7 0a0.85 0.85 0 1 0 -1.7 0" fill="#f0901c"/>
<path d="M181.5 89.7a0.85 0.85 0 1 0 1.7 0a0.85 0.85 0 1 0 -1.7 0" fill="#8a8a8a"/>
<path d="M197.5 90.6a0.85 0.85 0 1 0 1.7 0a0.85 0.85 0 1 0 -1.7 0M226.0 84.4a0.85 0.85 0 1 0 1.7 0a0.85 0.85 0 1 0 -1.7 0M199.3 56.9a0.85 0.85 0 1 0 1.7 0a0.85 0.85 0 1 0 -1.7 0M183.3 94.2a0.85 0.85 0 1 0 1.7 0a0.85 0.85 0 1 0 -1.7 0M171.6 83.7a0.85 0.85 0 1 0 1.7 0a0.85 0.85 0 1 0 -1.7 0" fill="#1e1e1e"/>
<path d="M168.9 90.1a0.85 0.85 0 1 0 1.7 0a0.85 0.85 0 1 0 -1.7 0" fill="#34497a"/>
<path d="M175.8 98.4a0.85 0.85 0 1 0 1.7 0a0.85 0.85 0 1 0 -1.7 0M183.9 96.2a0.85 0.85 0 1 0 1.7 0a0.85 0.85 0 1 0 -1.7 0M200.7 78.9a0.85 0.85 0 1 0 1.7 0a0.85 0.85 0 1 0 -1.7 0M184.3 56.0a0.85 0.85 0 1 0 1.7 0a0.85 0.85 0 1 0 -1.7 0M206.4 89.9a0.85 0.85 0 1 0 1.7 0a0.85 0.85 0 1 0 -1.7 0M207.9 42.7a0.85 0.85 0 1 0 1.7 0a0.85 0.85 0 1 0 -1.7 0M180.3 84.3a0.85 0.85 0 1 0 1.7 0a0.85 0.85 0 1 0 -1.7 0M174.7 87.8a0.85 0.85 0 1 0 1.7 0a0.85 0.85 0 1 0 -1.7 0M171.3 60.4a0.85 0.85 0 1 0 1.7 0a0.85 0.85 0 1 0 -1.7 0M210.2 63.6a0.85 0.85 0 1 0 1.7 0a0.85 0.85 0 1 0 -1.7 0" fill="#1e1e1e"/>
<path d="M200.5 41.9a0.85 0.85 0 1 0 1.7 0a0.85 0.85 0 1 0 -1.7 0" fill="#f0901c"/>
<path d="M168.7 81.6a0.85 0.85 0 1 0 1.7 0a0.85 0.85 0 1 0 -1.7 0" fill="#8a8a8a"/>
<path d="M242.0 97.9a0.85 0.85 0 1 0 1.7 0a0.85 0.85 0 1 0 -1.7 0" fill="#1e1e1e"/>
<path d="M198.0 91.1a0.85 0.85 0 1 0 1.7 0a0.85 0.85 0 1 0 -1.7 0" fill="#f0901c"/>
<path d="M166.3 96.5a0.85 0.85 0 1 0 1.7 0a0.85 0.85 0 1 0 -1.7 0M206.0 92.3a0.85 0.85 0 1 0 1.7 0a0.85 0.85 0 1 0 -1.7 0M224.8 93.2a0.85 0.85 0 1 0 1.7 0a0.85 0.85 0 1 0 -1.7 0M166.6 76.3a0.85 0.85 0 1 0 1.7 0a0.85 0.85 0 1 0 -1.7 0M215.3 75.6a0.85 0.85 0 1 0 1.7 0a0.85 0.85 0 1 0 -1.7 0" fill="#1e1e1e"/>
<path d="M172.0 81.8a0.85 0.85 0 1 0 1.7 0a0.85 0.85 0 1 0 -1.7 0" fill="#f0901c"/>
<path d="M224.1 98.1a0.85 0.85 0 1 0 1.7 0a0.85 0.85 0 1 0 -1.7 0" fill="#1e1e1e"/>
<path d="M176.0 60.2a0.85 0.85 0 1 0 1.7 0a0.85 0.85 0 1 0 -1.7 0" fill="#34497a"/>
<path d="M214.3 74.1a0.85 0.85 0 1 0 1.7 0a0.85 0.85 0 1 0 -1.7 0M200.0 63.0a0.85 0.85 0 1 0 1.7 0a0.85 0.85 0 1 0 -1.7 0M208.4 64.1a0.85 0.85 0 1 0 1.7 0a0.85 0.85 0 1 0 -1.7 0M202.7 99.6a0.85 0.85 0 1 0 1.7 0a0.85 0.85 0 1 0 -1.7 0" fill="#1e1e1e"/>
<path d="M204.2 98.9a0.85 0.85 0 1 0 1.7 0a0.85 0.85 0 1 0 -1.7 0M206.7 74.1a0.85 0.85 0 1 0 1.7 0a0.85 0.85 0 1 0 -1.7 0" fill="#f0901c"/>
<path d="M207.7 43.0a0.85 0.85 0 1 0 1.7 0a0.85 0.85 0 1 0 -1.7 0M184.0 51.2a0.85 0.85 0 1 0 1.7 0a0.85 0.85 0 1 0 -1.7 0" fill="#1e1e1e"/>
<path d="M200.9 86.0a0.85 0.85 0 1 0 1.7 0a0.85 0.85 0 1 0 -1.7 0" fill="#f0901c"/>
<path d="M171.2 59.5a0.85 0.85 0 1 0 1.7 0a0.85 0.85 0 1 0 -1.7 0M238.0 94.9a0.85 0.85 0 1 0 1.7 0a0.85 0.85 0 1 0 -1.7 0M203.9 69.9a0.85 0.85 0 1 0 1.7 0a0.85 0.85 0 1 0 -1.7 0M206.1 88.3a0.85 0.85 0 1 0 1.7 0a0.85 0.85 0 1 0 -1.7 0M211.8 75.6a0.85 0.85 0 1 0 1.7 0a0.85 0.85 0 1 0 -1.7 0M206.0 92.5a0.85 0.85 0 1 0 1.7 0a0.85 0.85 0 1 0 -1.7 0M182.8 95.9a0.85 0.85 0 1 0 1.7 0a0.85 0.85 0 1 0 -1.7 0M216.7 71.8a0.85 0.85 0 1 0 1.7 0a0.85 0.85 0 1 0 -1.7 0" fill="#1e1e1e"/>
<path d="M205.6 83.5a0.85 0.85 0 1 0 1.7 0a0.85 0.85 0 1 0 -1.7 0" fill="#f0901c"/>
<path d="M174.6 98.5a0.85 0.85 0 1 0 1.7 0a0.85 0.85 0 1 0 -1.7 0M228.6 96.0a0.85 0.85 0 1 0 1.7 0a0.85 0.85 0 1 0 -1.7 0M211.4 97.2a0.85 0.85 0 1 0 1.7 0a0.85 0.85 0 1 0 -1.7 0M209.3 94.4a0.85 0.85 0 1 0 1.7 0a0.85 0.85 0 1 0 -1.7 0" fill="#1e1e1e"/>
<path d="M179.4 87.2a0.85 0.85 0 1 0 1.7 0a0.85 0.85 0 1 0 -1.7 0" fill="#f0901c"/>
<path d="M207.8 85.5a0.85 0.85 0 1 0 1.7 0a0.85 0.85 0 1 0 -1.7 0M174.1 78.1a0.85 0.85 0 1 0 1.7 0a0.85 0.85 0 1 0 -1.7 0M215.0 97.7a0.85 0.85 0 1 0 1.7 0a0.85 0.85 0 1 0 -1.7 0M203.6 96.1a0.85 0.85 0 1 0 1.7 0a0.85 0.85 0 1 0 -1.7 0M197.9 96.5a0.85 0.85 0 1 0 1.7 0a0.85 0.85 0 1 0 -1.7 0M165.1 60.5a0.85 0.85 0 1 0 1.7 0a0.85 0.85 0 1 0 -1.7 0M199.4 75.8a0.85 0.85 0 1 0 1.7 0a0.85 0.85 0 1 0 -1.7 0M209.9 68.6a0.85 0.85 0 1 0 1.7 0a0.85 0.85 0 1 0 -1.7 0" fill="#1e1e1e"/>
<path d="M216.8 72.0a0.85 0.85 0 1 0 1.7 0a0.85 0.85 0 1 0 -1.7 0" fill="#f0901c"/>
<path d="M247.2 98.5a0.85 0.85 0 1 0 1.7 0a0.85 0.85 0 1 0 -1.7 0M226.8 39.6a0.85 0.85 0 1 0 1.7 0a0.85 0.85 0 1 0 -1.7 0" fill="#1e1e1e"/>
<path d="M197.7 98.9a0.85 0.85 0 1 0 1.7 0a0.85 0.85 0 1 0 -1.7 0" fill="#34497a"/>
<path d="M201.5 63.8a0.85 0.85 0 1 0 1.7 0a0.85 0.85 0 1 0 -1.7 0M220.3 39.7a0.85 0.85 0 1 0 1.7 0a0.85 0.85 0 1 0 -1.7 0M228.5 84.8a0.85 0.85 0 1 0 1.7 0a0.85 0.85 0 1 0 -1.7 0M198.4 39.1a0.85 0.85 0 1 0 1.7 0a0.85 0.85 0 1 0 -1.7 0M197.1 96.3a0.85 0.85 0 1 0 1.7 0a0.85 0.85 0 1 0 -1.7 0M202.7 86.8a0.85 0.85 0 1 0 1.7 0a0.85 0.85 0 1 0 -1.7 0M207.2 97.7a0.85 0.85 0 1 0 1.7 0a0.85 0.85 0 1 0 -1.7 0M229.8 96.4a0.85 0.85 0 1 0 1.7 0a0.85 0.85 0 1 0 -1.7 0" fill="#1e1e1e"/>
<path d="M204.9 72.0a0.85 0.85 0 1 0 1.7 0a0.85 0.85 0 1 0 -1.7 0" fill="#f0901c"/>
<path d="M233.5 99.1a0.85 0.85 0 1 0 1.7 0a0.85 0.85 0 1 0 -1.7 0" fill="#1e1e1e"/>
<path d="M198.3 91.6a0.85 0.85 0 1 0 1.7 0a0.85 0.85 0 1 0 -1.7 0" fill="#f0901c"/>
<path d="M215.1 45.7a0.85 0.85 0 1 0 1.7 0a0.85 0.85 0 1 0 -1.7 0M201.3 83.9a0.85 0.85 0 1 0 1.7 0a0.85 0.85 0 1 0 -1.7 0" fill="#1e1e1e"/>
<path d="M172.7 41.5a0.85 0.85 0 1 0 1.7 0a0.85 0.85 0 1 0 -1.7 0" fill="#8a8a8a"/>
<path d="M169.7 70.9a0.85 0.85 0 1 0 1.7 0a0.85 0.85 0 1 0 -1.7 0M227.9 80.1a0.85 0.85 0 1 0 1.7 0a0.85 0.85 0 1 0 -1.7 0M216.1 89.6a0.85 0.85 0 1 0 1.7 0a0.85 0.85 0 1 0 -1.7 0M203.0 76.9a0.85 0.85 0 1 0 1.7 0a0.85 0.85 0 1 0 -1.7 0M198.6 94.2a0.85 0.85 0 1 0 1.7 0a0.85 0.85 0 1 0 -1.7 0M206.4 97.3a0.85 0.85 0 1 0 1.7 0a0.85 0.85 0 1 0 -1.7 0M175.7 98.5a0.85 0.85 0 1 0 1.7 0a0.85 0.85 0 1 0 -1.7 0M223.5 79.2a0.85 0.85 0 1 0 1.7 0a0.85 0.85 0 1 0 -1.7 0" fill="#1e1e1e"/>
<path d="M208.2 89.1a0.85 0.85 0 1 0 1.7 0a0.85 0.85 0 1 0 -1.7 0" fill="#f0901c"/>
<path d="M201.8 92.3a0.85 0.85 0 1 0 1.7 0a0.85 0.85 0 1 0 -1.7 0M177.9 49.3a0.85 0.85 0 1 0 1.7 0a0.85 0.85 0 1 0 -1.7 0M229.1 98.5a0.85 0.85 0 1 0 1.7 0a0.85 0.85 0 1 0 -1.7 0M208.4 87.6a0.85 0.85 0 1 0 1.7 0a0.85 0.85 0 1 0 -1.7 0M169.6 82.3a0.85 0.85 0 1 0 1.7 0a0.85 0.85 0 1 0 -1.7 0M213.4 90.0a0.85 0.85 0 1 0 1.7 0a0.85 0.85 0 1 0 -1.7 0M158.1 95.1a0.85 0.85 0 1 0 1.7 0a0.85 0.85 0 1 0 -1.7 0" fill="#1e1e1e"/>
<path d="M213.7 93.1a0.85 0.85 0 1 0 1.7 0a0.85 0.85 0 1 0 -1.7 0" fill="#f0901c"/>
<path d="M199.4 94.4a0.85 0.85 0 1 0 1.7 0a0.85 0.85 0 1 0 -1.7 0M205.5 95.1a0.85 0.85 0 1 0 1.7 0a0.85 0.85 0 1 0 -1.7 0M202.6 63.8a0.85 0.85 0 1 0 1.7 0a0.85 0.85 0 1 0 -1.7 0M213.5 86.6a0.85 0.85 0 1 0 1.7 0a0.85 0.85 0 1 0 -1.7 0M213.1 92.7a0.85 0.85 0 1 0 1.7 0a0.85 0.85 0 1 0 -1.7 0M180.8 55.6a0.85 0.85 0 1 0 1.7 0a0.85 0.85 0 1 0 -1.7 0M170.4 98.5a0.85 0.85 0 1 0 1.7 0a0.85 0.85 0 1 0 -1.7 0M200.2 93.8a0.85 0.85 0 1 0 1.7 0a0.85 0.85 0 1 0 -1.7 0M172.7 71.9a0.85 0.85 0 1 0 1.7 0a0.85 0.85 0 1 0 -1.7 0M172.2 62.4a0.85 0.85 0 1 0 1.7 0a0.85 0.85 0 1 0 -1.7 0M217.9 57.0a0.85 0.85 0 1 0 1.7 0a0.85 0.85 0 1 0 -1.7 0M230.7 81.6a0.85 0.85 0 1 0 1.7 0a0.85 0.85 0 1 0 -1.7 0" fill="#1e1e1e"/>
<path d="M199.8 80.1a0.85 0.85 0 1 0 1.7 0a0.85 0.85 0 1 0 -1.7 0" fill="#f0901c"/>
<path d="M206.6 75.0a0.85 0.85 0 1 0 1.7 0a0.85 0.85 0 1 0 -1.7 0M202.1 87.2a0.85 0.85 0 1 0 1.7 0a0.85 0.85 0 1 0 -1.7 0M197.6 40.0a0.85 0.85 0 1 0 1.7 0a0.85 0.85 0 1 0 -1.7 0" fill="#1e1e1e"/>
<path d="M209.6 86.4a0.85 0.85 0 1 0 1.7 0a0.85 0.85 0 1 0 -1.7 0M179.9 98.9a0.85 0.85 0 1 0 1.7 0a0.85 0.85 0 1 0 -1.7 0" fill="#f0901c"/>
<path d="M197.0 98.6a0.85 0.85 0 1 0 1.7 0a0.85 0.85 0 1 0 -1.7 0M207.5 73.8a0.85 0.85 0 1 0 1.7 0a0.85 0.85 0 1 0 -1.7 0M200.5 98.0a0.85 0.85 0 1 0 1.7 0a0.85 0.85 0 1 0 -1.7 0" fill="#1e1e1e"/>
<path d="M206.1 94.7a0.85 0.85 0 1 0 1.7 0a0.85 0.85 0 1 0 -1.7 0" fill="#8a8a8a"/>
<path d="M200.5 94.8a0.85 0.85 0 1 0 1.7 0a0.85 0.85 0 1 0 -1.7 0" fill="#1e1e1e"/>
<path d="M204.5 73.2a0.85 0.85 0 1 0 1.7 0a0.85 0.85 0 1 0 -1.7 0" fill="#34497a"/>
<path d="M201.2 66.5a0.85 0.85 0 1 0 1.7 0a0.85 0.85 0 1 0 -1.7 0" fill="#f0901c"/>
<path d="M207.8 58.8a0.85 0.85 0 1 0 1.7 0a0.85 0.85 0 1 0 -1.7 0M204.9 94.9a0.85 0.85 0 1 0 1.7 0a0.85 0.85 0 1 0 -1.7 0M213.8 92.4a0.85 0.85 0 1 0 1.7 0a0.85 0.85 0 1 0 -1.7 0M220.3 90.7a0.85 0.85 0 1 0 1.7 0a0.85 0.85 0 1 0 -1.7 0M219.4 88.9a0.85 0.85 0 1 0 1.7 0a0.85 0.85 0 1 0 -1.7 0M207.1 78.0a0.85 0.85 0 1 0 1.7 0a0.85 0.85 0 1 0 -1.7 0M217.7 95.1a0.85 0.85 0 1 0 1.7 0a0.85 0.85 0 1 0 -1.7 0" fill="#1e1e1e"/>
<path d="M169.8 58.1a0.85 0.85 0 1 0 1.7 0a0.85 0.85 0 1 0 -1.7 0" fill="#f0901c"/>
<path d="M160.8 98.7a0.85 0.85 0 1 0 1.7 0a0.85 0.85 0 1 0 -1.7 0M222.0 82.7a0.85 0.85 0 1 0 1.7 0a0.85 0.85 0 1 0 -1.7 0M205.0 74.4a0.85 0.85 0 1 0 1.7 0a0.85 0.85 0 1 0 -1.7 0M210.7 82.4a0.85 0.85 0 1 0 1.7 0a0.85 0.85 0 1 0 -1.7 0M173.5 87.2a0.85 0.85 0 1 0 1.7 0a0.85 0.85 0 1 0 -1.7 0M212.9 83.2a0.85 0.85 0 1 0 1.7 0a0.85 0.85 0 1 0 -1.7 0M158.2 83.5a0.85 0.85 0 1 0 1.7 0a0.85 0.85 0 1 0 -1.7 0M186.4 79.4a0.85 0.85 0 1 0 1.7 0a0.85 0.85 0 1 0 -1.7 0M182.9 94.4a0.85 0.85 0 1 0 1.7 0a0.85 0.85 0 1 0 -1.7 0M170.1 85.7a0.85 0.85 0 1 0 1.7 0a0.85 0.85 0 1 0 -1.7 0" fill="#1e1e1e"/>
<path d="M217.0 90.9a0.85 0.85 0 1 0 1.7 0a0.85 0.85 0 1 0 -1.7 0" fill="#f0901c"/>
<path d="M180.7 52.7a0.85 0.85 0 1 0 1.7 0a0.85 0.85 0 1 0 -1.7 0M201.9 67.4a0.85 0.85 0 1 0 1.7 0a0.85 0.85 0 1 0 -1.7 0M176.3 62.9a0.85 0.85 0 1 0 1.7 0a0.85 0.85 0 1 0 -1.7 0M202.9 98.7a0.85 0.85 0 1 0 1.7 0a0.85 0.85 0 1 0 -1.7 0M237.0 96.2a0.85 0.85 0 1 0 1.7 0a0.85 0.85 0 1 0 -1.7 0M219.0 89.1a0.85 0.85 0 1 0 1.7 0a0.85 0.85 0 1 0 -1.7 0" fill="#1e1e1e"/>
<path d="M148.6 96.0a0.85 0.85 0 1 0 1.7 0a0.85 0.85 0 1 0 -1.7 0" fill="#8a8a8a"/>
<path d="M225.1 93.0a0.85 0.85 0 1 0 1.7 0a0.85 0.85 0 1 0 -1.7 0M201.3 94.9a0.85 0.85 0 1 0 1.7 0a0.85 0.85 0 1 0 -1.7 0M172.3 89.2a0.85 0.85 0 1 0 1.7 0a0.85 0.85 0 1 0 -1.7 0M156.1 98.9a0.85 0.85 0 1 0 1.7 0a0.85 0.85 0 1 0 -1.7 0" fill="#1e1e1e"/>
<path d="M197.1 97.6a0.85 0.85 0 1 0 1.7 0a0.85 0.85 0 1 0 -1.7 0" fill="#34497a"/>
<path d="M210.3 88.6a0.85 0.85 0 1 0 1.7 0a0.85 0.85 0 1 0 -1.7 0" fill="#f0901c"/>
<path d="M231.5 95.4a0.85 0.85 0 1 0 1.7 0a0.85 0.85 0 1 0 -1.7 0M175.9 96.5a0.85 0.85 0 1 0 1.7 0a0.85 0.85 0 1 0 -1.7 0M229.7 98.3a0.85 0.85 0 1 0 1.7 0a0.85 0.85 0 1 0 -1.7 0M212.3 97.0a0.85 0.85 0 1 0 1.7 0a0.85 0.85 0 1 0 -1.7 0M171.3 81.5a0.85 0.85 0 1 0 1.7 0a0.85 0.85 0 1 0 -1.7 0M164.4 98.3a0.85 0.85 0 1 0 1.7 0a0.85 0.85 0 1 0 -1.7 0M214.6 90.5a0.85 0.85 0 1 0 1.7 0a0.85 0.85 0 1 0 -1.7 0M209.8 76.8a0.85 0.85 0 1 0 1.7 0a0.85 0.85 0 1 0 -1.7 0M215.3 96.3a0.85 0.85 0 1 0 1.7 0a0.85 0.85 0 1 0 -1.7 0" fill="#1e1e1e"/>
<path d="M212.4 89.3a0.85 0.85 0 1 0 1.7 0a0.85 0.85 0 1 0 -1.7 0" fill="#8a8a8a"/>
<path d="M219.6 72.2a0.85 0.85 0 1 0 1.7 0a0.85 0.85 0 1 0 -1.7 0M209.6 73.8a0.85 0.85 0 1 0 1.7 0a0.85 0.85 0 1 0 -1.7 0M202.0 58.2a0.85 0.85 0 1 0 1.7 0a0.85 0.85 0 1 0 -1.7 0M203.2 97.9a0.85 0.85 0 1 0 1.7 0a0.85 0.85 0 1 0 -1.7 0M210.2 78.9a0.85 0.85 0 1 0 1.7 0a0.85 0.85 0 1 0 -1.7 0M213.9 94.8a0.85 0.85 0 1 0 1.7 0a0.85 0.85 0 1 0 -1.7 0M176.3 80.1a0.85 0.85 0 1 0 1.7 0a0.85 0.85 0 1 0 -1.7 0" fill="#1e1e1e"/>
<path d="M178.5 62.6a0.85 0.85 0 1 0 1.7 0a0.85 0.85 0 1 0 -1.7 0" fill="#f0901c"/>
<path d="M171.7 82.8a0.85 0.85 0 1 0 1.7 0a0.85 0.85 0 1 0 -1.7 0" fill="#1e1e1e"/>
<path d="M197.3 95.1a0.85 0.85 0 1 0 1.7 0a0.85 0.85 0 1 0 -1.7 0" fill="#34497a"/>
<path d="M170.6 83.4a0.85 0.85 0 1 0 1.7 0a0.85 0.85 0 1 0 -1.7 0" fill="#1e1e1e"/>
<path d="M223.3 77.5a0.85 0.85 0 1 0 1.7 0a0.85 0.85 0 1 0 -1.7 0" fill="#34497a"/>
<path d="M209.1 66.8a0.85 0.85 0 1 0 1.7 0a0.85 0.85 0 1 0 -1.7 0M203.7 88.4a0.85 0.85 0 1 0 1.7 0a0.85 0.85 0 1 0 -1.7 0M170.7 87.7a0.85 0.85 0 1 0 1.7 0a0.85 0.85 0 1 0 -1.7 0M178.6 98.8a0.85 0.85 0 1 0 1.7 0a0.85 0.85 0 1 0 -1.7 0M222.1 95.0a0.85 0.85 0 1 0 1.7 0a0.85 0.85 0 1 0 -1.7 0M213.9 87.4a0.85 0.85 0 1 0 1.7 0a0.85 0.85 0 1 0 -1.7 0M247.9 96.8a0.85 0.85 0 1 0 1.7 0a0.85 0.85 0 1 0 -1.7 0M201.8 84.2a0.85 0.85 0 1 0 1.7 0a0.85 0.85 0 1 0 -1.7 0M184.1 59.0a0.85 0.85 0 1 0 1.7 0a0.85 0.85 0 1 0 -1.7 0M212.4 80.6a0.85 0.85 0 1 0 1.7 0a0.85 0.85 0 1 0 -1.7 0" fill="#1e1e1e"/>
<path d="M214.0 98.2a0.85 0.85 0 1 0 1.7 0a0.85 0.85 0 1 0 -1.7 0" fill="#34497a"/>
<path d="M215.0 73.7a0.85 0.85 0 1 0 1.7 0a0.85 0.85 0 1 0 -1.7 0" fill="#1e1e1e"/>
<path d="M209.8 79.5a0.85 0.85 0 1 0 1.7 0a0.85 0.85 0 1 0 -1.7 0" fill="#8a8a8a"/>
<path d="M231.2 98.1a0.85 0.85 0 1 0 1.7 0a0.85 0.85 0 1 0 -1.7 0" fill="#1e1e1e"/>
<path d="M196.7 78.1a0.85 0.85 0 1 0 1.7 0a0.85 0.85 0 1 0 -1.7 0M230.1 93.7a0.85 0.85 0 1 0 1.7 0a0.85 0.85 0 1 0 -1.7 0" fill="#f0901c"/>
<path d="M167.8 67.8a0.85 0.85 0 1 0 1.7 0a0.85 0.85 0 1 0 -1.7 0M210.3 94.4a0.85 0.85 0 1 0 1.7 0a0.85 0.85 0 1 0 -1.7 0" fill="#1e1e1e"/>
<path d="M204.5 73.2a0.85 0.85 0 1 0 1.7 0a0.85 0.85 0 1 0 -1.7 0" fill="#f0901c"/>
<path d="M202.2 52.9a0.85 0.85 0 1 0 1.7 0a0.85 0.85 0 1 0 -1.7 0" fill="#1e1e1e"/>
<path d="M204.0 79.1a0.85 0.85 0 1 0 1.7 0a0.85 0.85 0 1 0 -1.7 0" fill="#f0901c"/>
<path d="M174.6 90.0a0.85 0.85 0 1 0 1.7 0a0.85 0.85 0 1 0 -1.7 0M205.9 94.3a0.85 0.85 0 1 0 1.7 0a0.85 0.85 0 1 0 -1.7 0" fill="#1e1e1e"/>
<path d="M201.8 76.8a0.85 0.85 0 1 0 1.7 0a0.85 0.85 0 1 0 -1.7 0" fill="#34497a"/>
<path d="M209.0 85.9a0.85 0.85 0 1 0 1.7 0a0.85 0.85 0 1 0 -1.7 0M206.9 94.0a0.85 0.85 0 1 0 1.7 0a0.85 0.85 0 1 0 -1.7 0" fill="#1e1e1e"/>
<path d="M221.3 71.7a0.85 0.85 0 1 0 1.7 0a0.85 0.85 0 1 0 -1.7 0" fill="#f0901c"/>
<path d="M200.6 84.9a0.85 0.85 0 1 0 1.7 0a0.85 0.85 0 1 0 -1.7 0M211.7 78.5a0.85 0.85 0 1 0 1.7 0a0.85 0.85 0 1 0 -1.7 0M180.0 80.2a0.85 0.85 0 1 0 1.7 0a0.85 0.85 0 1 0 -1.7 0M208.0 85.0a0.85 0.85 0 1 0 1.7 0a0.85 0.85 0 1 0 -1.7 0" fill="#1e1e1e"/>
<path d="M212.9 82.4a0.85 0.85 0 1 0 1.7 0a0.85 0.85 0 1 0 -1.7 0M206.9 91.5a0.85 0.85 0 1 0 1.7 0a0.85 0.85 0 1 0 -1.7 0" fill="#f0901c"/>
<path d="M204.8 90.1a0.85 0.85 0 1 0 1.7 0a0.85 0.85 0 1 0 -1.7 0M246.6 97.3a0.85 0.85 0 1 0 1.7 0a0.85 0.85 0 1 0 -1.7 0M198.2 81.8a0.85 0.85 0 1 0 1.7 0a0.85 0.85 0 1 0 -1.7 0M174.8 87.1a0.85 0.85 0 1 0 1.7 0a0.85 0.85 0 1 0 -1.7 0M172.2 55.9a0.85 0.85 0 1 0 1.7 0a0.85 0.85 0 1 0 -1.7 0M165.0 96.5a0.85 0.85 0 1 0 1.7 0a0.85 0.85 0 1 0 -1.7 0M203.7 87.6a0.85 0.85 0 1 0 1.7 0a0.85 0.85 0 1 0 -1.7 0M221.5 96.0a0.85 0.85 0 1 0 1.7 0a0.85 0.85 0 1 0 -1.7 0M146.2 95.8a0.85 0.85 0 1 0 1.7 0a0.85 0.85 0 1 0 -1.7 0M208.7 93.8a0.85 0.85 0 1 0 1.7 0a0.85 0.85 0 1 0 -1.7 0M200.8 90.0a0.85 0.85 0 1 0 1.7 0a0.85 0.85 0 1 0 -1.7 0M207.9 84.1a0.85 0.85 0 1 0 1.7 0a0.85 0.85 0 1 0 -1.7 0M208.6 96.2a0.85 0.85 0 1 0 1.7 0a0.85 0.85 0 1 0 -1.7 0M177.5 83.4a0.85 0.85 0 1 0 1.7 0a0.85 0.85 0 1 0 -1.7 0" fill="#1e1e1e"/>
<path d="M160.9 40.1a0.85 0.85 0 1 0 1.7 0a0.85 0.85 0 1 0 -1.7 0" fill="#f0901c"/>
<path d="M202.8 86.3a0.85 0.85 0 1 0 1.7 0a0.85 0.85 0 1 0 -1.7 0M181.9 82.0a0.85 0.85 0 1 0 1.7 0a0.85 0.85 0 1 0 -1.7 0M211.5 92.5a0.85 0.85 0 1 0 1.7 0a0.85 0.85 0 1 0 -1.7 0M183.4 92.4a0.85 0.85 0 1 0 1.7 0a0.85 0.85 0 1 0 -1.7 0M206.2 77.4a0.85 0.85 0 1 0 1.7 0a0.85 0.85 0 1 0 -1.7 0M200.4 76.4a0.85 0.85 0 1 0 1.7 0a0.85 0.85 0 1 0 -1.7 0" fill="#1e1e1e"/>
<path d="M200.7 77.1a0.85 0.85 0 1 0 1.7 0a0.85 0.85 0 1 0 -1.7 0M207.6 52.6a0.85 0.85 0 1 0 1.7 0a0.85 0.85 0 1 0 -1.7 0" fill="#34497a"/>
<path d="M211.2 97.1a0.85 0.85 0 1 0 1.7 0a0.85 0.85 0 1 0 -1.7 0M218.7 42.1a0.85 0.85 0 1 0 1.7 0a0.85 0.85 0 1 0 -1.7 0M201.1 97.0a0.85 0.85 0 1 0 1.7 0a0.85 0.85 0 1 0 -1.7 0M207.7 87.6a0.85 0.85 0 1 0 1.7 0a0.85 0.85 0 1 0 -1.7 0M223.8 87.0a0.85 0.85 0 1 0 1.7 0a0.85 0.85 0 1 0 -1.7 0M167.6 95.3a0.85 0.85 0 1 0 1.7 0a0.85 0.85 0 1 0 -1.7 0" fill="#1e1e1e"/>
<path d="M200.0 43.0a0.85 0.85 0 1 0 1.7 0a0.85 0.85 0 1 0 -1.7 0" fill="#8a8a8a"/>
<path d="M173.6 96.3a0.85 0.85 0 1 0 1.7 0a0.85 0.85 0 1 0 -1.7 0M180.3 97.0a0.85 0.85 0 1 0 1.7 0a0.85 0.85 0 1 0 -1.7 0" fill="#1e1e1e"/>
<path d="M227.0 99.4a0.85 0.85 0 1 0 1.7 0a0.85 0.85 0 1 0 -1.7 0" fill="#f0901c"/>
<path d="M165.2 62.3a0.85 0.85 0 1 0 1.7 0a0.85 0.85 0 1 0 -1.7 0" fill="#34497a"/>
<path d="M203.8 88.7a0.85 0.85 0 1 0 1.7 0a0.85 0.85 0 1 0 -1.7 0M202.8 74.8a0.85 0.85 0 1 0 1.7 0a0.85 0.85 0 1 0 -1.7 0M207.1 82.5a0.85 0.85 0 1 0 1.7 0a0.85 0.85 0 1 0 -1.7 0M209.2 63.7a0.85 0.85 0 1 0 1.7 0a0.85 0.85 0 1 0 -1.7 0M198.5 91.2a0.85 0.85 0 1 0 1.7 0a0.85 0.85 0 1 0 -1.7 0" fill="#1e1e1e"/>
<path d="M203.8 66.1a0.85 0.85 0 1 0 1.7 0a0.85 0.85 0 1 0 -1.7 0" fill="#f0901c"/>
<path d="M205.3 80.4a0.85 0.85 0 1 0 1.7 0a0.85 0.85 0 1 0 -1.7 0M166.8 89.7a0.85 0.85 0 1 0 1.7 0a0.85 0.85 0 1 0 -1.7 0M203.2 86.8a0.85 0.85 0 1 0 1.7 0a0.85 0.85 0 1 0 -1.7 0" fill="#1e1e1e"/>
<path d="M207.8 96.3a0.85 0.85 0 1 0 1.7 0a0.85 0.85 0 1 0 -1.7 0" fill="#f0901c"/>
<path d="M200.5 79.7a0.85 0.85 0 1 0 1.7 0a0.85 0.85 0 1 0 -1.7 0M211.2 84.3a0.85 0.85 0 1 0 1.7 0a0.85 0.85 0 1 0 -1.7 0M176.0 93.7a0.85 0.85 0 1 0 1.7 0a0.85 0.85 0 1 0 -1.7 0M198.1 92.3a0.85 0.85 0 1 0 1.7 0a0.85 0.85 0 1 0 -1.7 0M210.0 65.4a0.85 0.85 0 1 0 1.7 0a0.85 0.85 0 1 0 -1.7 0M163.1 94.0a0.85 0.85 0 1 0 1.7 0a0.85 0.85 0 1 0 -1.7 0" fill="#1e1e1e"/>
<path d="M206.7 99.5a0.85 0.85 0 1 0 1.7 0a0.85 0.85 0 1 0 -1.7 0" fill="#f0901c"/>
<path d="M220.2 99.4a0.85 0.85 0 1 0 1.7 0a0.85 0.85 0 1 0 -1.7 0M207.2 67.4a0.85 0.85 0 1 0 1.7 0a0.85 0.85 0 1 0 -1.7 0" fill="#1e1e1e"/>
<path d="M198.5 86.7a0.85 0.85 0 1 0 1.7 0a0.85 0.85 0 1 0 -1.7 0" fill="#f0901c"/>
<path d="M201.5 71.0a0.85 0.85 0 1 0 1.7 0a0.85 0.85 0 1 0 -1.7 0M199.9 98.7a0.85 0.85 0 1 0 1.7 0a0.85 0.85 0 1 0 -1.7 0" fill="#1e1e1e"/>
<path d="M240.4 95.3a0.85 0.85 0 1 0 1.7 0a0.85 0.85 0 1 0 -1.7 0M167.5 83.8a0.85 0.85 0 1 0 1.7 0a0.85 0.85 0 1 0 -1.7 0M183.9 52.6a0.85 0.85 0 1 0 1.7 0a0.85 0.85 0 1 0 -1.7 0" fill="#f0901c"/>
<path d="M203.3 92.9a0.85 0.85 0 1 0 1.7 0a0.85 0.85 0 1 0 -1.7 0M200.7 85.4a0.85 0.85 0 1 0 1.7 0a0.85 0.85 0 1 0 -1.7 0M207.2 91.8a0.85 0.85 0 1 0 1.7 0a0.85 0.85 0 1 0 -1.7 0M168.8 86.7a0.85 0.85 0 1 0 1.7 0a0.85 0.85 0 1 0 -1.7 0" fill="#1e1e1e"/>
<path d="M203.0 98.7a0.85 0.85 0 1 0 1.7 0a0.85 0.85 0 1 0 -1.7 0" fill="#8a8a8a"/>
<path d="M208.3 77.8a0.85 0.85 0 1 0 1.7 0a0.85 0.85 0 1 0 -1.7 0" fill="#1e1e1e"/>
<path d="M223.2 77.9a0.85 0.85 0 1 0 1.7 0a0.85 0.85 0 1 0 -1.7 0" fill="#f0901c"/>
<path d="M212.5 60.1a0.85 0.85 0 1 0 1.7 0a0.85 0.85 0 1 0 -1.7 0" fill="#1e1e1e"/>
<path d="M162.5 94.7a0.85 0.85 0 1 0 1.7 0a0.85 0.85 0 1 0 -1.7 0" fill="#f0901c"/>
<path d="M178.6 70.7a0.85 0.85 0 1 0 1.7 0a0.85 0.85 0 1 0 -1.7 0M212.0 96.4a0.85 0.85 0 1 0 1.7 0a0.85 0.85 0 1 0 -1.7 0" fill="#1e1e1e"/>
<path d="M206.5 95.5a0.85 0.85 0 1 0 1.7 0a0.85 0.85 0 1 0 -1.7 0" fill="#f0901c"/>
<path d="M203.6 89.0a0.85 0.85 0 1 0 1.7 0a0.85 0.85 0 1 0 -1.7 0M210.6 97.4a0.85 0.85 0 1 0 1.7 0a0.85 0.85 0 1 0 -1.7 0" fill="#1e1e1e"/>
<path d="M176.8 96.3a0.85 0.85 0 1 0 1.7 0a0.85 0.85 0 1 0 -1.7 0" fill="#f0901c"/>
<path d="M219.1 84.9a0.85 0.85 0 1 0 1.7 0a0.85 0.85 0 1 0 -1.7 0" fill="#1e1e1e"/>
<path d="M200.0 65.3a0.85 0.85 0 1 0 1.7 0a0.85 0.85 0 1 0 -1.7 0" fill="#f0901c"/>
<path d="M247.2 98.0a0.85 0.85 0 1 0 1.7 0a0.85 0.85 0 1 0 -1.7 0M175.4 97.4a0.85 0.85 0 1 0 1.7 0a0.85 0.85 0 1 0 -1.7 0" fill="#1e1e1e"/>
<path d="M219.4 91.7a0.85 0.85 0 1 0 1.7 0a0.85 0.85 0 1 0 -1.7 0" fill="#f0901c"/>
<path d="M215.9 90.2a0.85 0.85 0 1 0 1.7 0a0.85 0.85 0 1 0 -1.7 0M175.3 90.8a0.85 0.85 0 1 0 1.7 0a0.85 0.85 0 1 0 -1.7 0M221.9 98.3a0.85 0.85 0 1 0 1.7 0a0.85 0.85 0 1 0 -1.7 0M229.5 96.6a0.85 0.85 0 1 0 1.7 0a0.85 0.85 0 1 0 -1.7 0" fill="#1e1e1e"/>
<path d="M213.1 85.9a0.85 0.85 0 1 0 1.7 0a0.85 0.85 0 1 0 -1.7 0" fill="#34497a"/>
<path d="M228.8 96.5a0.85 0.85 0 1 0 1.7 0a0.85 0.85 0 1 0 -1.7 0M211.8 96.5a0.85 0.85 0 1 0 1.7 0a0.85 0.85 0 1 0 -1.7 0M206.2 93.9a0.85 0.85 0 1 0 1.7 0a0.85 0.85 0 1 0 -1.7 0M176.4 61.9a0.85 0.85 0 1 0 1.7 0a0.85 0.85 0 1 0 -1.7 0M207.0 86.5a0.85 0.85 0 1 0 1.7 0a0.85 0.85 0 1 0 -1.7 0" fill="#1e1e1e"/>
<path d="M211.4 92.5a0.85 0.85 0 1 0 1.7 0a0.85 0.85 0 1 0 -1.7 0" fill="#f0901c"/>
<path d="M215.2 95.8a0.85 0.85 0 1 0 1.7 0a0.85 0.85 0 1 0 -1.7 0M199.2 44.1a0.85 0.85 0 1 0 1.7 0a0.85 0.85 0 1 0 -1.7 0M202.3 85.8a0.85 0.85 0 1 0 1.7 0a0.85 0.85 0 1 0 -1.7 0M206.0 80.9a0.85 0.85 0 1 0 1.7 0a0.85 0.85 0 1 0 -1.7 0M207.8 99.1a0.85 0.85 0 1 0 1.7 0a0.85 0.85 0 1 0 -1.7 0M217.9 98.5a0.85 0.85 0 1 0 1.7 0a0.85 0.85 0 1 0 -1.7 0M173.0 55.6a0.85 0.85 0 1 0 1.7 0a0.85 0.85 0 1 0 -1.7 0M185.2 94.7a0.85 0.85 0 1 0 1.7 0a0.85 0.85 0 1 0 -1.7 0M207.9 79.4a0.85 0.85 0 1 0 1.7 0a0.85 0.85 0 1 0 -1.7 0M176.8 84.5a0.85 0.85 0 1 0 1.7 0a0.85 0.85 0 1 0 -1.7 0" fill="#1e1e1e"/>
<path d="M200.2 86.5a0.85 0.85 0 1 0 1.7 0a0.85 0.85 0 1 0 -1.7 0" fill="#f0901c"/>
<path d="M187.1 95.7a0.85 0.85 0 1 0 1.7 0a0.85 0.85 0 1 0 -1.7 0M164.1 60.3a0.85 0.85 0 1 0 1.7 0a0.85 0.85 0 1 0 -1.7 0M202.7 77.3a0.85 0.85 0 1 0 1.7 0a0.85 0.85 0 1 0 -1.7 0M208.2 95.7a0.85 0.85 0 1 0 1.7 0a0.85 0.85 0 1 0 -1.7 0M213.2 67.7a0.85 0.85 0 1 0 1.7 0a0.85 0.85 0 1 0 -1.7 0M181.0 83.0a0.85 0.85 0 1 0 1.7 0a0.85 0.85 0 1 0 -1.7 0M213.0 88.1a0.85 0.85 0 1 0 1.7 0a0.85 0.85 0 1 0 -1.7 0" fill="#1e1e1e"/>
<path d="M230.3 87.2a0.85 0.85 0 1 0 1.7 0a0.85 0.85 0 1 0 -1.7 0" fill="#8a8a8a"/>
<path d="M202.1 99.0a0.85 0.85 0 1 0 1.7 0a0.85 0.85 0 1 0 -1.7 0" fill="#f0901c"/>
<path d="M218.8 92.5a0.85 0.85 0 1 0 1.7 0a0.85 0.85 0 1 0 -1.7 0" fill="#1e1e1e"/>
<path d="M167.0 64.6a0.85 0.85 0 1 0 1.7 0a0.85 0.85 0 1 0 -1.7 0" fill="#34497a"/>
<path d="M222.1 78.2a0.85 0.85 0 1 0 1.7 0a0.85 0.85 0 1 0 -1.7 0M202.3 81.5a0.85 0.85 0 1 0 1.7 0a0.85 0.85 0 1 0 -1.7 0M158.9 71.8a0.85 0.85 0 1 0 1.7 0a0.85 0.85 0 1 0 -1.7 0M167.4 60.3a0.85 0.85 0 1 0 1.7 0a0.85 0.85 0 1 0 -1.7 0" fill="#1e1e1e"/>
<path d="M202.5 86.5a0.85 0.85 0 1 0 1.7 0a0.85 0.85 0 1 0 -1.7 0" fill="#8a8a8a"/>
<path d="M184.2 96.6a0.85 0.85 0 1 0 1.7 0a0.85 0.85 0 1 0 -1.7 0M222.3 95.6a0.85 0.85 0 1 0 1.7 0a0.85 0.85 0 1 0 -1.7 0M204.9 80.6a0.85 0.85 0 1 0 1.7 0a0.85 0.85 0 1 0 -1.7 0M210.3 86.2a0.85 0.85 0 1 0 1.7 0a0.85 0.85 0 1 0 -1.7 0M206.7 97.3a0.85 0.85 0 1 0 1.7 0a0.85 0.85 0 1 0 -1.7 0M199.8 99.5a0.85 0.85 0 1 0 1.7 0a0.85 0.85 0 1 0 -1.7 0M177.8 84.1a0.85 0.85 0 1 0 1.7 0a0.85 0.85 0 1 0 -1.7 0M175.6 98.6a0.85 0.85 0 1 0 1.7 0a0.85 0.85 0 1 0 -1.7 0" fill="#1e1e1e"/>
<path d="M176.4 95.2a0.85 0.85 0 1 0 1.7 0a0.85 0.85 0 1 0 -1.7 0" fill="#f0901c"/>
<path d="M202.0 61.2a0.85 0.85 0 1 0 1.7 0a0.85 0.85 0 1 0 -1.7 0M224.1 37.8a0.85 0.85 0 1 0 1.7 0a0.85 0.85 0 1 0 -1.7 0M207.8 92.9a0.85 0.85 0 1 0 1.7 0a0.85 0.85 0 1 0 -1.7 0M215.3 86.2a0.85 0.85 0 1 0 1.7 0a0.85 0.85 0 1 0 -1.7 0M168.9 83.9a0.85 0.85 0 1 0 1.7 0a0.85 0.85 0 1 0 -1.7 0M215.5 57.2a0.85 0.85 0 1 0 1.7 0a0.85 0.85 0 1 0 -1.7 0M178.8 98.7a0.85 0.85 0 1 0 1.7 0a0.85 0.85 0 1 0 -1.7 0M215.3 76.6a0.85 0.85 0 1 0 1.7 0a0.85 0.85 0 1 0 -1.7 0" fill="#1e1e1e"/>
<path d="M222.8 98.8a0.85 0.85 0 1 0 1.7 0a0.85 0.85 0 1 0 -1.7 0" fill="#34497a"/>
<path d="M198.5 88.8a0.85 0.85 0 1 0 1.7 0a0.85 0.85 0 1 0 -1.7 0M206.3 95.0a0.85 0.85 0 1 0 1.7 0a0.85 0.85 0 1 0 -1.7 0M213.0 97.4a0.85 0.85 0 1 0 1.7 0a0.85 0.85 0 1 0 -1.7 0" fill="#1e1e1e"/>
<path d="M173.8 40.5a0.85 0.85 0 1 0 1.7 0a0.85 0.85 0 1 0 -1.7 0" fill="#34497a"/>
<path d="M209.6 70.3a0.85 0.85 0 1 0 1.7 0a0.85 0.85 0 1 0 -1.7 0" fill="#1e1e1e"/>
<path d="M199.9 76.9a0.85 0.85 0 1 0 1.7 0a0.85 0.85 0 1 0 -1.7 0" fill="#f0901c"/>
<path d="M204.4 82.8a0.85 0.85 0 1 0 1.7 0a0.85 0.85 0 1 0 -1.7 0M158.4 43.8a0.85 0.85 0 1 0 1.7 0a0.85 0.85 0 1 0 -1.7 0M181.6 78.0a0.85 0.85 0 1 0 1.7 0a0.85 0.85 0 1 0 -1.7 0" fill="#1e1e1e"/>
<path d="M230.4 90.4a0.85 0.85 0 1 0 1.7 0a0.85 0.85 0 1 0 -1.7 0" fill="#8a8a8a"/>
<path d="M199.6 84.3a0.85 0.85 0 1 0 1.7 0a0.85 0.85 0 1 0 -1.7 0M184.5 77.0a0.85 0.85 0 1 0 1.7 0a0.85 0.85 0 1 0 -1.7 0M202.6 79.3a0.85 0.85 0 1 0 1.7 0a0.85 0.85 0 1 0 -1.7 0M200.8 85.3a0.85 0.85 0 1 0 1.7 0a0.85 0.85 0 1 0 -1.7 0" fill="#1e1e1e"/>
<path d="M213.2 84.4a0.85 0.85 0 1 0 1.7 0a0.85 0.85 0 1 0 -1.7 0" fill="#34497a"/>
<path d="M211.1 82.1a0.85 0.85 0 1 0 1.7 0a0.85 0.85 0 1 0 -1.7 0M215.2 77.2a0.85 0.85 0 1 0 1.7 0a0.85 0.85 0 1 0 -1.7 0M215.8 90.9a0.85 0.85 0 1 0 1.7 0a0.85 0.85 0 1 0 -1.7 0M211.4 96.2a0.85 0.85 0 1 0 1.7 0a0.85 0.85 0 1 0 -1.7 0M202.7 96.4a0.85 0.85 0 1 0 1.7 0a0.85 0.85 0 1 0 -1.7 0M223.4 93.6a0.85 0.85 0 1 0 1.7 0a0.85 0.85 0 1 0 -1.7 0M187.1 95.2a0.85 0.85 0 1 0 1.7 0a0.85 0.85 0 1 0 -1.7 0M204.6 68.3a0.85 0.85 0 1 0 1.7 0a0.85 0.85 0 1 0 -1.7 0M174.9 59.1a0.85 0.85 0 1 0 1.7 0a0.85 0.85 0 1 0 -1.7 0M205.2 80.9a0.85 0.85 0 1 0 1.7 0a0.85 0.85 0 1 0 -1.7 0M180.4 69.6a0.85 0.85 0 1 0 1.7 0a0.85 0.85 0 1 0 -1.7 0M221.6 88.3a0.85 0.85 0 1 0 1.7 0a0.85 0.85 0 1 0 -1.7 0M217.3 79.6a0.85 0.85 0 1 0 1.7 0a0.85 0.85 0 1 0 -1.7 0M175.2 62.0a0.85 0.85 0 1 0 1.7 0a0.85 0.85 0 1 0 -1.7 0M205.6 97.8a0.85 0.85 0 1 0 1.7 0a0.85 0.85 0 1 0 -1.7 0M223.4 98.2a0.85 0.85 0 1 0 1.7 0a0.85 0.85 0 1 0 -1.7 0M157.1 96.6a0.85 0.85 0 1 0 1.7 0a0.85 0.85 0 1 0 -1.7 0M216.6 84.6a0.85 0.85 0 1 0 1.7 0a0.85 0.85 0 1 0 -1.7 0M209.2 85.2a0.85 0.85 0 1 0 1.7 0a0.85 0.85 0 1 0 -1.7 0M198.4 96.6a0.85 0.85 0 1 0 1.7 0a0.85 0.85 0 1 0 -1.7 0M209.6 43.2a0.85 0.85 0 1 0 1.7 0a0.85 0.85 0 1 0 -1.7 0M212.7 87.3a0.85 0.85 0 1 0 1.7 0a0.85 0.85 0 1 0 -1.7 0M176.7 80.0a0.85 0.85 0 1 0 1.7 0a0.85 0.85 0 1 0 -1.7 0M198.9 95.2a0.85 0.85 0 1 0 1.7 0a0.85 0.85 0 1 0 -1.7 0M209.6 88.0a0.85 0.85 0 1 0 1.7 0a0.85 0.85 0 1 0 -1.7 0" fill="#1e1e1e"/>
<path d="M202.7 90.6a0.85 0.85 0 1 0 1.7 0a0.85 0.85 0 1 0 -1.7 0M156.5 41.9a0.85 0.85 0 1 0 1.7 0a0.85 0.85 0 1 0 -1.7 0" fill="#f0901c"/>
<path d="M185.5 89.9a0.85 0.85 0 1 0 1.7 0a0.85 0.85 0 1 0 -1.7 0" fill="#8a8a8a"/>
<path d="M201.5 39.2a0.85 0.85 0 1 0 1.7 0a0.85 0.85 0 1 0 -1.7 0" fill="#1e1e1e"/>
<path d="M197.0 95.7a0.85 0.85 0 1 0 1.7 0a0.85 0.85 0 1 0 -1.7 0" fill="#f0901c"/>
<path d="M200.5 96.9a0.85 0.85 0 1 0 1.7 0a0.85 0.85 0 1 0 -1.7 0" fill="#1e1e1e"/>
<path d="M165.2 76.4a0.85 0.85 0 1 0 1.7 0a0.85 0.85 0 1 0 -1.7 0" fill="#8a8a8a"/>
<path d="M177.8 85.5a0.85 0.85 0 1 0 1.7 0a0.85 0.85 0 1 0 -1.7 0M178.3 70.6a0.85 0.85 0 1 0 1.7 0a0.85 0.85 0 1 0 -1.7 0M140.4 95.8a0.85 0.85 0 1 0 1.7 0a0.85 0.85 0 1 0 -1.7 0M173.7 86.2a0.85 0.85 0 1 0 1.7 0a0.85 0.85 0 1 0 -1.7 0M207.2 88.5a0.85 0.85 0 1 0 1.7 0a0.85 0.85 0 1 0 -1.7 0M177.0 74.6a0.85 0.85 0 1 0 1.7 0a0.85 0.85 0 1 0 -1.7 0M215.9 88.3a0.85 0.85 0 1 0 1.7 0a0.85 0.85 0 1 0 -1.7 0M202.4 97.3a0.85 0.85 0 1 0 1.7 0a0.85 0.85 0 1 0 -1.7 0M206.0 96.5a0.85 0.85 0 1 0 1.7 0a0.85 0.85 0 1 0 -1.7 0M219.9 97.8a0.85 0.85 0 1 0 1.7 0a0.85 0.85 0 1 0 -1.7 0M217.9 91.3a0.85 0.85 0 1 0 1.7 0a0.85 0.85 0 1 0 -1.7 0M183.3 96.5a0.85 0.85 0 1 0 1.7 0a0.85 0.85 0 1 0 -1.7 0M204.4 40.4a0.85 0.85 0 1 0 1.7 0a0.85 0.85 0 1 0 -1.7 0M200.3 75.8a0.85 0.85 0 1 0 1.7 0a0.85 0.85 0 1 0 -1.7 0" fill="#1e1e1e"/>
<path d="M205.9 95.7a0.85 0.85 0 1 0 1.7 0a0.85 0.85 0 1 0 -1.7 0M218.8 40.0a0.85 0.85 0 1 0 1.7 0a0.85 0.85 0 1 0 -1.7 0" fill="#f0901c"/>
<path d="M213.6 98.0a0.85 0.85 0 1 0 1.7 0a0.85 0.85 0 1 0 -1.7 0M177.6 88.2a0.85 0.85 0 1 0 1.7 0a0.85 0.85 0 1 0 -1.7 0M203.1 70.5a0.85 0.85 0 1 0 1.7 0a0.85 0.85 0 1 0 -1.7 0M202.3 88.9a0.85 0.85 0 1 0 1.7 0a0.85 0.85 0 1 0 -1.7 0M207.4 85.2a0.85 0.85 0 1 0 1.7 0a0.85 0.85 0 1 0 -1.7 0M225.4 98.3a0.85 0.85 0 1 0 1.7 0a0.85 0.85 0 1 0 -1.7 0M203.3 84.8a0.85 0.85 0 1 0 1.7 0a0.85 0.85 0 1 0 -1.7 0M202.8 76.3a0.85 0.85 0 1 0 1.7 0a0.85 0.85 0 1 0 -1.7 0M209.4 85.7a0.85 0.85 0 1 0 1.7 0a0.85 0.85 0 1 0 -1.7 0" fill="#1e1e1e"/>
<path d="M198.6 94.8a0.85 0.85 0 1 0 1.7 0a0.85 0.85 0 1 0 -1.7 0" fill="#f0901c"/>
<path d="M196.7 84.8a0.85 0.85 0 1 0 1.7 0a0.85 0.85 0 1 0 -1.7 0" fill="#1e1e1e"/>
<path d="M205.2 62.7a0.85 0.85 0 1 0 1.7 0a0.85 0.85 0 1 0 -1.7 0" fill="#f0901c"/>
<path d="M221.5 82.7a0.85 0.85 0 1 0 1.7 0a0.85 0.85 0 1 0 -1.7 0" fill="#1e1e1e"/>
<path d="M212.0 61.5a0.85 0.85 0 1 0 1.7 0a0.85 0.85 0 1 0 -1.7 0M214.0 42.9a0.85 0.85 0 1 0 1.7 0a0.85 0.85 0 1 0 -1.7 0" fill="#f0901c"/>
<path d="M164.7 95.2a0.85 0.85 0 1 0 1.7 0a0.85 0.85 0 1 0 -1.7 0M168.0 95.5a0.85 0.85 0 1 0 1.7 0a0.85 0.85 0 1 0 -1.7 0M213.0 84.8a0.85 0.85 0 1 0 1.7 0a0.85 0.85 0 1 0 -1.7 0M207.7 96.5a0.85 0.85 0 1 0 1.7 0a0.85 0.85 0 1 0 -1.7 0M187.0 96.5a0.85 0.85 0 1 0 1.7 0a0.85 0.85 0 1 0 -1.7 0M201.1 69.6a0.85 0.85 0 1 0 1.7 0a0.85 0.85 0 1 0 -1.7 0M200.0 94.4a0.85 0.85 0 1 0 1.7 0a0.85 0.85 0 1 0 -1.7 0" fill="#1e1e1e"/>
<path d="M218.1 41.8a0.85 0.85 0 1 0 1.7 0a0.85 0.85 0 1 0 -1.7 0" fill="#f0901c"/>
<path d="M203.8 72.9a0.85 0.85 0 1 0 1.7 0a0.85 0.85 0 1 0 -1.7 0" fill="#1e1e1e"/>
<path d="M197.7 91.6a0.85 0.85 0 1 0 1.7 0a0.85 0.85 0 1 0 -1.7 0" fill="#f0901c"/>
<path d="M171.1 95.5a0.85 0.85 0 1 0 1.7 0a0.85 0.85 0 1 0 -1.7 0M213.6 80.7a0.85 0.85 0 1 0 1.7 0a0.85 0.85 0 1 0 -1.7 0M179.5 78.4a0.85 0.85 0 1 0 1.7 0a0.85 0.85 0 1 0 -1.7 0M210.9 86.7a0.85 0.85 0 1 0 1.7 0a0.85 0.85 0 1 0 -1.7 0M179.0 73.8a0.85 0.85 0 1 0 1.7 0a0.85 0.85 0 1 0 -1.7 0" fill="#1e1e1e"/>
<path d="M200.3 76.5a0.85 0.85 0 1 0 1.7 0a0.85 0.85 0 1 0 -1.7 0" fill="#f0901c"/>
<path d="M181.5 76.0a0.85 0.85 0 1 0 1.7 0a0.85 0.85 0 1 0 -1.7 0" fill="#1e1e1e"/>
<path d="M208.5 73.5a0.85 0.85 0 1 0 1.7 0a0.85 0.85 0 1 0 -1.7 0M206.3 93.0a0.85 0.85 0 1 0 1.7 0a0.85 0.85 0 1 0 -1.7 0" fill="#f0901c"/>
<path d="M227.3 94.1a0.85 0.85 0 1 0 1.7 0a0.85 0.85 0 1 0 -1.7 0M207.8 74.4a0.85 0.85 0 1 0 1.7 0a0.85 0.85 0 1 0 -1.7 0M200.7 99.2a0.85 0.85 0 1 0 1.7 0a0.85 0.85 0 1 0 -1.7 0" fill="#1e1e1e"/>
<path d="M200.6 70.4a0.85 0.85 0 1 0 1.7 0a0.85 0.85 0 1 0 -1.7 0" fill="#34497a"/>
<path d="M200.9 76.5a0.85 0.85 0 1 0 1.7 0a0.85 0.85 0 1 0 -1.7 0M213.5 74.1a0.85 0.85 0 1 0 1.7 0a0.85 0.85 0 1 0 -1.7 0M205.9 86.1a0.85 0.85 0 1 0 1.7 0a0.85 0.85 0 1 0 -1.7 0M168.6 62.2a0.85 0.85 0 1 0 1.7 0a0.85 0.85 0 1 0 -1.7 0M210.1 86.0a0.85 0.85 0 1 0 1.7 0a0.85 0.85 0 1 0 -1.7 0M220.6 84.7a0.85 0.85 0 1 0 1.7 0a0.85 0.85 0 1 0 -1.7 0M207.5 97.8a0.85 0.85 0 1 0 1.7 0a0.85 0.85 0 1 0 -1.7 0M170.3 96.4a0.85 0.85 0 1 0 1.7 0a0.85 0.85 0 1 0 -1.7 0M204.3 82.5a0.85 0.85 0 1 0 1.7 0a0.85 0.85 0 1 0 -1.7 0" fill="#1e1e1e"/>
<path d="M231.2 97.9a0.85 0.85 0 1 0 1.7 0a0.85 0.85 0 1 0 -1.7 0" fill="#8a8a8a"/>
<path d="M197.7 94.6a0.85 0.85 0 1 0 1.7 0a0.85 0.85 0 1 0 -1.7 0M211.0 92.8a0.85 0.85 0 1 0 1.7 0a0.85 0.85 0 1 0 -1.7 0" fill="#1e1e1e"/>
<path d="M216.3 75.9a0.85 0.85 0 1 0 1.7 0a0.85 0.85 0 1 0 -1.7 0" fill="#f0901c"/>
<path d="M179.6 98.9a0.85 0.85 0 1 0 1.7 0a0.85 0.85 0 1 0 -1.7 0M218.5 93.4a0.85 0.85 0 1 0 1.7 0a0.85 0.85 0 1 0 -1.7 0M204.0 65.7a0.85 0.85 0 1 0 1.7 0a0.85 0.85 0 1 0 -1.7 0M162.6 90.4a0.85 0.85 0 1 0 1.7 0a0.85 0.85 0 1 0 -1.7 0M187.0 91.7a0.85 0.85 0 1 0 1.7 0a0.85 0.85 0 1 0 -1.7 0M184.6 92.1a0.85 0.85 0 1 0 1.7 0a0.85 0.85 0 1 0 -1.7 0" fill="#1e1e1e"/>
<path d="M207.8 92.9a0.85 0.85 0 1 0 1.7 0a0.85 0.85 0 1 0 -1.7 0" fill="#f0901c"/>
<path d="M180.3 92.6a0.85 0.85 0 1 0 1.7 0a0.85 0.85 0 1 0 -1.7 0M197.9 96.7a0.85 0.85 0 1 0 1.7 0a0.85 0.85 0 1 0 -1.7 0M181.6 83.3a0.85 0.85 0 1 0 1.7 0a0.85 0.85 0 1 0 -1.7 0M200.8 80.0a0.85 0.85 0 1 0 1.7 0a0.85 0.85 0 1 0 -1.7 0M227.9 92.0a0.85 0.85 0 1 0 1.7 0a0.85 0.85 0 1 0 -1.7 0M197.1 99.5a0.85 0.85 0 1 0 1.7 0a0.85 0.85 0 1 0 -1.7 0M163.4 39.0a0.85 0.85 0 1 0 1.7 0a0.85 0.85 0 1 0 -1.7 0M228.9 80.9a0.85 0.85 0 1 0 1.7 0a0.85 0.85 0 1 0 -1.7 0M172.2 73.6a0.85 0.85 0 1 0 1.7 0a0.85 0.85 0 1 0 -1.7 0" fill="#1e1e1e"/>
<path d="M206.2 74.3a0.85 0.85 0 1 0 1.7 0a0.85 0.85 0 1 0 -1.7 0" fill="#8a8a8a"/>
<path d="M243.2 67.0a0.85 0.85 0 1 0 1.7 0a0.85 0.85 0 1 0 -1.7 0M203.9 95.6a0.85 0.85 0 1 0 1.7 0a0.85 0.85 0 1 0 -1.7 0" fill="#1e1e1e"/>
<path d="M210.5 90.2a0.85 0.85 0 1 0 1.7 0a0.85 0.85 0 1 0 -1.7 0" fill="#f0901c"/>
<path d="M198.4 94.2a0.85 0.85 0 1 0 1.7 0a0.85 0.85 0 1 0 -1.7 0M169.1 93.8a0.85 0.85 0 1 0 1.7 0a0.85 0.85 0 1 0 -1.7 0" fill="#1e1e1e"/>
<polygon points="168,100.5 174,98 179,94.5 184,91 187.5,88 190.5,86 193,98.2 195.5,85 198.5,84.5 202,86 207,88.5 213,91 222,93.5 235,95.8 248,97 258,97.5 258,100.5" fill="#f0901c"/>
<path d="M241.5 95.9a0.85 0.85 0 1 0 1.7 0a0.85 0.85 0 1 0 -1.7 0M201.5 82.5a0.85 0.85 0 1 0 1.7 0a0.85 0.85 0 1 0 -1.7 0" fill="#34497a"/>
<path d="M209.5 91.3a0.85 0.85 0 1 0 1.7 0a0.85 0.85 0 1 0 -1.7 0M201.3 94.7a0.85 0.85 0 1 0 1.7 0a0.85 0.85 0 1 0 -1.7 0M184.2 84.6a0.85 0.85 0 1 0 1.7 0a0.85 0.85 0 1 0 -1.7 0M202.3 88.1a0.85 0.85 0 1 0 1.7 0a0.85 0.85 0 1 0 -1.7 0M235.8 96.3a0.85 0.85 0 1 0 1.7 0a0.85 0.85 0 1 0 -1.7 0M244.2 99.5a0.85 0.85 0 1 0 1.7 0a0.85 0.85 0 1 0 -1.7 0M241.9 96.9a0.85 0.85 0 1 0 1.7 0a0.85 0.85 0 1 0 -1.7 0" fill="#1e1e1e"/>
<path d="M245.6 97.2a0.85 0.85 0 1 0 1.7 0a0.85 0.85 0 1 0 -1.7 0" fill="#34497a"/>
<path d="M185.2 81.7a0.85 0.85 0 1 0 1.7 0a0.85 0.85 0 1 0 -1.7 0M225.6 99.3a0.85 0.85 0 1 0 1.7 0a0.85 0.85 0 1 0 -1.7 0M179.5 90.0a0.85 0.85 0 1 0 1.7 0a0.85 0.85 0 1 0 -1.7 0" fill="#1e1e1e"/>
<path d="M204.0 83.0a0.85 0.85 0 1 0 1.7 0a0.85 0.85 0 1 0 -1.7 0" fill="#f0901c"/>
<path d="M230.8 95.2a0.85 0.85 0 1 0 1.7 0a0.85 0.85 0 1 0 -1.7 0M197.3 92.1a0.85 0.85 0 1 0 1.7 0a0.85 0.85 0 1 0 -1.7 0M195.9 88.6a0.85 0.85 0 1 0 1.7 0a0.85 0.85 0 1 0 -1.7 0M181.6 94.8a0.85 0.85 0 1 0 1.7 0a0.85 0.85 0 1 0 -1.7 0" fill="#1e1e1e"/>
<path d="M186.4 93.2a0.85 0.85 0 1 0 1.7 0a0.85 0.85 0 1 0 -1.7 0M200.6 84.4a0.85 0.85 0 1 0 1.7 0a0.85 0.85 0 1 0 -1.7 0" fill="#34497a"/>
<path d="M218.6 93.5a0.85 0.85 0 1 0 1.7 0a0.85 0.85 0 1 0 -1.7 0M229.3 96.4a0.85 0.85 0 1 0 1.7 0a0.85 0.85 0 1 0 -1.7 0" fill="#1e1e1e"/>
<path d="M207.5 79.1a0.85 0.85 0 1 0 1.7 0a0.85 0.85 0 1 0 -1.7 0" fill="#f0901c"/>
<path d="M201.9 82.2a0.85 0.85 0 1 0 1.7 0a0.85 0.85 0 1 0 -1.7 0M216.7 82.9a0.85 0.85 0 1 0 1.7 0a0.85 0.85 0 1 0 -1.7 0M175.9 95.0a0.85 0.85 0 1 0 1.7 0a0.85 0.85 0 1 0 -1.7 0M193.9 99.7a0.85 0.85 0 1 0 1.7 0a0.85 0.85 0 1 0 -1.7 0" fill="#1e1e1e"/>
<path d="M176.6 87.2a0.85 0.85 0 1 0 1.7 0a0.85 0.85 0 1 0 -1.7 0" fill="#34497a"/>
<path d="M205.4 86.8a0.85 0.85 0 1 0 1.7 0a0.85 0.85 0 1 0 -1.7 0M236.9 95.1a0.85 0.85 0 1 0 1.7 0a0.85 0.85 0 1 0 -1.7 0M231.5 93.9a0.85 0.85 0 1 0 1.7 0a0.85 0.85 0 1 0 -1.7 0M219.7 99.7a0.85 0.85 0 1 0 1.7 0a0.85 0.85 0 1 0 -1.7 0M185.1 96.4a0.85 0.85 0 1 0 1.7 0a0.85 0.85 0 1 0 -1.7 0M245.9 98.8a0.85 0.85 0 1 0 1.7 0a0.85 0.85 0 1 0 -1.7 0" fill="#1e1e1e"/>
<path d="M181.0 92.9a0.85 0.85 0 1 0 1.7 0a0.85 0.85 0 1 0 -1.7 0" fill="#34497a"/>
<path d="M176.6 96.0a0.85 0.85 0 1 0 1.7 0a0.85 0.85 0 1 0 -1.7 0" fill="#1e1e1e"/>
<path d="M232.1 95.0a0.85 0.85 0 1 0 1.7 0a0.85 0.85 0 1 0 -1.7 0" fill="#34497a"/>
<path d="M235.8 94.7a0.85 0.85 0 1 0 1.7 0a0.85 0.85 0 1 0 -1.7 0M218.1 80.6a0.85 0.85 0 1 0 1.7 0a0.85 0.85 0 1 0 -1.7 0M203.4 81.0a0.85 0.85 0 1 0 1.7 0a0.85 0.85 0 1 0 -1.7 0" fill="#1e1e1e"/>
<path d="M174.9 92.6a0.85 0.85 0 1 0 1.7 0a0.85 0.85 0 1 0 -1.7 0" fill="#34497a"/>
<path d="M193.4 98.6a0.85 0.85 0 1 0 1.7 0a0.85 0.85 0 1 0 -1.7 0M236.1 96.0a0.85 0.85 0 1 0 1.7 0a0.85 0.85 0 1 0 -1.7 0" fill="#1e1e1e"/>
<path d="M203.3 89.6a0.85 0.85 0 1 0 1.7 0a0.85 0.85 0 1 0 -1.7 0" fill="#34497a"/>
<path d="M241.5 97.5a0.85 0.85 0 1 0 1.7 0a0.85 0.85 0 1 0 -1.7 0M197.1 92.4a0.85 0.85 0 1 0 1.7 0a0.85 0.85 0 1 0 -1.7 0" fill="#1e1e1e"/>
<path d="M182.8 90.2a0.85 0.85 0 1 0 1.7 0a0.85 0.85 0 1 0 -1.7 0" fill="#f0901c"/>
<path d="M214.6 96.4a0.85 0.85 0 1 0 1.7 0a0.85 0.85 0 1 0 -1.7 0" fill="#34497a"/>
<path d="M247.8 99.1a0.85 0.85 0 1 0 1.7 0a0.85 0.85 0 1 0 -1.7 0M197.7 94.0a0.85 0.85 0 1 0 1.7 0a0.85 0.85 0 1 0 -1.7 0M241.7 99.8a0.85 0.85 0 1 0 1.7 0a0.85 0.85 0 1 0 -1.7 0M186.6 87.7a0.85 0.85 0 1 0 1.7 0a0.85 0.85 0 1 0 -1.7 0" fill="#1e1e1e"/>
<path d="M177.9 84.7a0.85 0.85 0 1 0 1.7 0a0.85 0.85 0 1 0 -1.7 0" fill="#f0901c"/>
<path d="M242.6 96.3a0.85 0.85 0 1 0 1.7 0a0.85 0.85 0 1 0 -1.7 0M181.1 82.2a0.85 0.85 0 1 0 1.7 0a0.85 0.85 0 1 0 -1.7 0" fill="#1e1e1e"/>
<path d="M184.1 96.3a0.85 0.85 0 1 0 1.7 0a0.85 0.85 0 1 0 -1.7 0" fill="#34497a"/>
<path d="M180.5 78.3a0.85 0.85 0 1 0 1.7 0a0.85 0.85 0 1 0 -1.7 0" fill="#f0901c"/>
<path d="M239.4 99.8a0.85 0.85 0 1 0 1.7 0a0.85 0.85 0 1 0 -1.7 0" fill="#1e1e1e"/>
<path d="M182.7 97.8a0.85 0.85 0 1 0 1.7 0a0.85 0.85 0 1 0 -1.7 0" fill="#34497a"/>
<path d="M176.5 98.6a0.85 0.85 0 1 0 1.7 0a0.85 0.85 0 1 0 -1.7 0M179.9 83.2a0.85 0.85 0 1 0 1.7 0a0.85 0.85 0 1 0 -1.7 0" fill="#1e1e1e"/>
<path d="M198.0 95.4a0.85 0.85 0 1 0 1.7 0a0.85 0.85 0 1 0 -1.7 0" fill="#34497a"/>
<path d="M173.6 95.5a0.85 0.85 0 1 0 1.7 0a0.85 0.85 0 1 0 -1.7 0M178.5 98.5a0.85 0.85 0 1 0 1.7 0a0.85 0.85 0 1 0 -1.7 0M179.9 98.4a0.85 0.85 0 1 0 1.7 0a0.85 0.85 0 1 0 -1.7 0M249.1 99.6a0.85 0.85 0 1 0 1.7 0a0.85 0.85 0 1 0 -1.7 0" fill="#1e1e1e"/>
<path d="M210.6 91.9a0.85 0.85 0 1 0 1.7 0a0.85 0.85 0 1 0 -1.7 0" fill="#34497a"/>
<path d="M232.0 97.0a0.85 0.85 0 1 0 1.7 0a0.85 0.85 0 1 0 -1.7 0" fill="#1e1e1e"/>
<path d="M178.8 96.1a0.85 0.85 0 1 0 1.7 0a0.85 0.85 0 1 0 -1.7 0" fill="#34497a"/>
<path d="M205.3 93.6a0.85 0.85 0 1 0 1.7 0a0.85 0.85 0 1 0 -1.7 0M216.9 91.6a0.85 0.85 0 1 0 1.7 0a0.85 0.85 0 1 0 -1.7 0M180.6 94.8a0.85 0.85 0 1 0 1.7 0a0.85 0.85 0 1 0 -1.7 0" fill="#1e1e1e"/>
<path d="M177.8 96.4a0.85 0.85 0 1 0 1.7 0a0.85 0.85 0 1 0 -1.7 0" fill="#34497a"/>
<path d="M198.8 91.2a0.85 0.85 0 1 0 1.7 0a0.85 0.85 0 1 0 -1.7 0" fill="#1e1e1e"/>
<path d="M182.5 84.9a0.85 0.85 0 1 0 1.7 0a0.85 0.85 0 1 0 -1.7 0M198.1 92.9a0.85 0.85 0 1 0 1.7 0a0.85 0.85 0 1 0 -1.7 0M225.9 94.4a0.85 0.85 0 1 0 1.7 0a0.85 0.85 0 1 0 -1.7 0M184.1 96.7a0.85 0.85 0 1 0 1.7 0a0.85 0.85 0 1 0 -1.7 0" fill="#34497a"/>
<path d="M215.0 99.3a0.85 0.85 0 1 0 1.7 0a0.85 0.85 0 1 0 -1.7 0M242.9 97.2a0.85 0.85 0 1 0 1.7 0a0.85 0.85 0 1 0 -1.7 0" fill="#1e1e1e"/>
<path d="M197.1 99.2a0.85 0.85 0 1 0 1.7 0a0.85 0.85 0 1 0 -1.7 0" fill="#34497a"/>
<path d="M212.8 90.8a0.85 0.85 0 1 0 1.7 0a0.85 0.85 0 1 0 -1.7 0M184.9 88.8a0.85 0.85 0 1 0 1.7 0a0.85 0.85 0 1 0 -1.7 0M248.0 99.7a0.85 0.85 0 1 0 1.7 0a0.85 0.85 0 1 0 -1.7 0M234.0 99.2a0.85 0.85 0 1 0 1.7 0a0.85 0.85 0 1 0 -1.7 0M227.2 96.1a0.85 0.85 0 1 0 1.7 0a0.85 0.85 0 1 0 -1.7 0" fill="#1e1e1e"/>
<path d="M212.2 89.1a0.85 0.85 0 1 0 1.7 0a0.85 0.85 0 1 0 -1.7 0" fill="#f0901c"/>
<path d="M213.2 93.7a0.85 0.85 0 1 0 1.7 0a0.85 0.85 0 1 0 -1.7 0M177.4 97.1a0.85 0.85 0 1 0 1.7 0a0.85 0.85 0 1 0 -1.7 0M179.6 97.4a0.85 0.85 0 1 0 1.7 0a0.85 0.85 0 1 0 -1.7 0M209.3 94.3a0.85 0.85 0 1 0 1.7 0a0.85 0.85 0 1 0 -1.7 0M213.7 83.4a0.85 0.85 0 1 0 1.7 0a0.85 0.85 0 1 0 -1.7 0M186.9 90.5a0.85 0.85 0 1 0 1.7 0a0.85 0.85 0 1 0 -1.7 0M184.6 90.8a0.85 0.85 0 1 0 1.7 0a0.85 0.85 0 1 0 -1.7 0M205.5 92.2a0.85 0.85 0 1 0 1.7 0a0.85 0.85 0 1 0 -1.7 0M223.2 97.5a0.85 0.85 0 1 0 1.7 0a0.85 0.85 0 1 0 -1.7 0M214.6 97.8a0.85 0.85 0 1 0 1.7 0a0.85 0.85 0 1 0 -1.7 0M181.7 89.3a0.85 0.85 0 1 0 1.7 0a0.85 0.85 0 1 0 -1.7 0M217.3 92.3a0.85 0.85 0 1 0 1.7 0a0.85 0.85 0 1 0 -1.7 0" fill="#1e1e1e"/>
<path d="M187.6 99.0a0.85 0.85 0 1 0 1.7 0a0.85 0.85 0 1 0 -1.7 0" fill="#34497a"/>
<path d="M184.0 82.6a0.85 0.85 0 1 0 1.7 0a0.85 0.85 0 1 0 -1.7 0" fill="#f0901c"/>
<path d="M228.9 97.4a0.85 0.85 0 1 0 1.7 0a0.85 0.85 0 1 0 -1.7 0M203.7 99.1a0.85 0.85 0 1 0 1.7 0a0.85 0.85 0 1 0 -1.7 0" fill="#34497a"/>
<path d="M207.3 98.1a0.85 0.85 0 1 0 1.7 0a0.85 0.85 0 1 0 -1.7 0M217.3 96.6a0.85 0.85 0 1 0 1.7 0a0.85 0.85 0 1 0 -1.7 0M172.5 95.8a0.85 0.85 0 1 0 1.7 0a0.85 0.85 0 1 0 -1.7 0M179.0 92.0a0.85 0.85 0 1 0 1.7 0a0.85 0.85 0 1 0 -1.7 0" fill="#1e1e1e"/>
<path d="M211.4 79.5a0.85 0.85 0 1 0 1.7 0a0.85 0.85 0 1 0 -1.7 0" fill="#f0901c"/>
<path d="M217.8 92.8a0.85 0.85 0 1 0 1.7 0a0.85 0.85 0 1 0 -1.7 0M215.5 98.0a0.85 0.85 0 1 0 1.7 0a0.85 0.85 0 1 0 -1.7 0" fill="#1e1e1e"/>
<path d="M202.7 100.0a0.85 0.85 0 1 0 1.7 0a0.85 0.85 0 1 0 -1.7 0M210.9 87.8a0.85 0.85 0 1 0 1.7 0a0.85 0.85 0 1 0 -1.7 0" fill="#34497a"/>
<path d="M194.8 97.1a0.85 0.85 0 1 0 1.7 0a0.85 0.85 0 1 0 -1.7 0M183.1 86.9a0.85 0.85 0 1 0 1.7 0a0.85 0.85 0 1 0 -1.7 0M197.8 93.9a0.85 0.85 0 1 0 1.7 0a0.85 0.85 0 1 0 -1.7 0M186.7 84.9a0.85 0.85 0 1 0 1.7 0a0.85 0.85 0 1 0 -1.7 0M200.5 86.8a0.85 0.85 0 1 0 1.7 0a0.85 0.85 0 1 0 -1.7 0M212.3 92.2a0.85 0.85 0 1 0 1.7 0a0.85 0.85 0 1 0 -1.7 0M223.2 97.9a0.85 0.85 0 1 0 1.7 0a0.85 0.85 0 1 0 -1.7 0" fill="#1e1e1e"/>
<path d="M204.8 99.6a0.85 0.85 0 1 0 1.7 0a0.85 0.85 0 1 0 -1.7 0M239.9 97.5a0.85 0.85 0 1 0 1.7 0a0.85 0.85 0 1 0 -1.7 0" fill="#34497a"/>
<path d="M186.8 83.3a0.85 0.85 0 1 0 1.7 0a0.85 0.85 0 1 0 -1.7 0" fill="#1e1e1e"/>
<path d="M223.3 95.7a0.85 0.85 0 1 0 1.7 0a0.85 0.85 0 1 0 -1.7 0" fill="#34497a"/>
<path d="M208.5 92.2a0.85 0.85 0 1 0 1.7 0a0.85 0.85 0 1 0 -1.7 0" fill="#1e1e1e"/>
<path d="M173.8 98.1a0.85 0.85 0 1 0 1.7 0a0.85 0.85 0 1 0 -1.7 0M182.9 99.4a0.85 0.85 0 1 0 1.7 0a0.85 0.85 0 1 0 -1.7 0" fill="#34497a"/>
<path d="M201.5 96.8a0.85 0.85 0 1 0 1.7 0a0.85 0.85 0 1 0 -1.7 0" fill="#1e1e1e"/>
<path d="M182.2 80.9a0.85 0.85 0 1 0 1.7 0a0.85 0.85 0 1 0 -1.7 0M181.7 81.6a0.85 0.85 0 1 0 1.7 0a0.85 0.85 0 1 0 -1.7 0" fill="#f0901c"/>
<path d="M232.6 94.8a0.85 0.85 0 1 0 1.7 0a0.85 0.85 0 1 0 -1.7 0" fill="#1e1e1e"/>
<path d="M183.9 88.0a0.85 0.85 0 1 0 1.7 0a0.85 0.85 0 1 0 -1.7 0" fill="#34497a"/>
<path d="M206.7 95.8a0.85 0.85 0 1 0 1.7 0a0.85 0.85 0 1 0 -1.7 0M201.1 92.7a0.85 0.85 0 1 0 1.7 0a0.85 0.85 0 1 0 -1.7 0" fill="#1e1e1e"/>
<path d="M181.9 90.2a0.85 0.85 0 1 0 1.7 0a0.85 0.85 0 1 0 -1.7 0" fill="#34497a"/>
<path d="M204.4 95.4a0.85 0.85 0 1 0 1.7 0a0.85 0.85 0 1 0 -1.7 0" fill="#1e1e1e"/>
<path d="M227.8 94.8a0.85 0.85 0 1 0 1.7 0a0.85 0.85 0 1 0 -1.7 0" fill="#34497a"/>
<path d="M237.6 97.1a0.85 0.85 0 1 0 1.7 0a0.85 0.85 0 1 0 -1.7 0M182.1 97.8a0.85 0.85 0 1 0 1.7 0a0.85 0.85 0 1 0 -1.7 0" fill="#1e1e1e"/>
<path d="M199.4 83.6a0.85 0.85 0 1 0 1.7 0a0.85 0.85 0 1 0 -1.7 0" fill="#f0901c"/>
<path d="M183.9 95.4a0.85 0.85 0 1 0 1.7 0a0.85 0.85 0 1 0 -1.7 0" fill="#1e1e1e"/>
<path d="M207.4 81.8a0.85 0.85 0 1 0 1.7 0a0.85 0.85 0 1 0 -1.7 0" fill="#f0901c"/>
<path d="M185.0 88.1a0.85 0.85 0 1 0 1.7 0a0.85 0.85 0 1 0 -1.7 0" fill="#1e1e1e"/>
<path d="M179.1 99.5a0.85 0.85 0 1 0 1.7 0a0.85 0.85 0 1 0 -1.7 0" fill="#34497a"/>
<path d="M214.9 96.3a0.85 0.85 0 1 0 1.7 0a0.85 0.85 0 1 0 -1.7 0M180.8 90.7a0.85 0.85 0 1 0 1.7 0a0.85 0.85 0 1 0 -1.7 0M197.0 94.2a0.85 0.85 0 1 0 1.7 0a0.85 0.85 0 1 0 -1.7 0" fill="#1e1e1e"/>
<path d="M201.7 95.9a0.85 0.85 0 1 0 1.7 0a0.85 0.85 0 1 0 -1.7 0" fill="#34497a"/>
<path d="M179.1 96.0a0.85 0.85 0 1 0 1.7 0a0.85 0.85 0 1 0 -1.7 0M204.3 86.2a0.85 0.85 0 1 0 1.7 0a0.85 0.85 0 1 0 -1.7 0M214.5 98.6a0.85 0.85 0 1 0 1.7 0a0.85 0.85 0 1 0 -1.7 0M215.0 81.1a0.85 0.85 0 1 0 1.7 0a0.85 0.85 0 1 0 -1.7 0M201.4 98.0a0.85 0.85 0 1 0 1.7 0a0.85 0.85 0 1 0 -1.7 0M197.0 84.0a0.85 0.85 0 1 0 1.7 0a0.85 0.85 0 1 0 -1.7 0M181.4 86.7a0.85 0.85 0 1 0 1.7 0a0.85 0.85 0 1 0 -1.7 0M232.7 95.6a0.85 0.85 0 1 0 1.7 0a0.85 0.85 0 1 0 -1.7 0" fill="#1e1e1e"/>
<path d="M181.6 95.6a0.85 0.85 0 1 0 1.7 0a0.85 0.85 0 1 0 -1.7 0" fill="#34497a"/>
<path d="M211.4 90.5a0.85 0.85 0 1 0 1.7 0a0.85 0.85 0 1 0 -1.7 0M198.7 97.0a0.85 0.85 0 1 0 1.7 0a0.85 0.85 0 1 0 -1.7 0" fill="#1e1e1e"/>
<path d="M184.2 87.0a0.85 0.85 0 1 0 1.7 0a0.85 0.85 0 1 0 -1.7 0" fill="#34497a"/>
<path d="M230.0 93.0a0.85 0.85 0 1 0 1.7 0a0.85 0.85 0 1 0 -1.7 0" fill="#1e1e1e"/>
<path d="M208.4 87.9a0.85 0.85 0 1 0 1.7 0a0.85 0.85 0 1 0 -1.7 0" fill="#f0901c"/>
<path d="M179.7 84.2a0.85 0.85 0 1 0 1.7 0a0.85 0.85 0 1 0 -1.7 0" fill="#1e1e1e"/>
<path d="M209.0 86.1a0.85 0.85 0 1 0 1.7 0a0.85 0.85 0 1 0 -1.7 0M177.1 78.5a0.85 0.85 0 1 0 1.7 0a0.85 0.85 0 1 0 -1.7 0" fill="#f0901c"/>
<path d="M199.4 91.4a0.85 0.85 0 1 0 1.7 0a0.85 0.85 0 1 0 -1.7 0" fill="#34497a"/>
<path d="M225.8 96.8a0.85 0.85 0 1 0 1.7 0a0.85 0.85 0 1 0 -1.7 0" fill="#1e1e1e"/>
<path d="M187.2 81.1a0.85 0.85 0 1 0 1.7 0a0.85 0.85 0 1 0 -1.7 0" fill="#f0901c"/>
<path d="M199.7 98.0a0.85 0.85 0 1 0 1.7 0a0.85 0.85 0 1 0 -1.7 0M176.4 93.8a0.85 0.85 0 1 0 1.7 0a0.85 0.85 0 1 0 -1.7 0" fill="#1e1e1e"/>
<path d="M229.1 96.9a0.85 0.85 0 1 0 1.7 0a0.85 0.85 0 1 0 -1.7 0M181.2 95.8a0.85 0.85 0 1 0 1.7 0a0.85 0.85 0 1 0 -1.7 0" fill="#34497a"/>
<path d="M172.8 92.5a0.85 0.85 0 1 0 1.7 0a0.85 0.85 0 1 0 -1.7 0M209.2 93.8a0.85 0.85 0 1 0 1.7 0a0.85 0.85 0 1 0 -1.7 0M215.3 80.8a0.85 0.85 0 1 0 1.7 0a0.85 0.85 0 1 0 -1.7 0M215.0 96.9a0.85 0.85 0 1 0 1.7 0a0.85 0.85 0 1 0 -1.7 0M209.3 94.0a0.85 0.85 0 1 0 1.7 0a0.85 0.85 0 1 0 -1.7 0" fill="#1e1e1e"/>
<path d="M200.5 80.7a0.85 0.85 0 1 0 1.7 0a0.85 0.85 0 1 0 -1.7 0" fill="#f0901c"/>
<path d="M227.5 99.1a0.85 0.85 0 1 0 1.7 0a0.85 0.85 0 1 0 -1.7 0" fill="#1e1e1e"/>
<path d="M236.7 95.3a0.85 0.85 0 1 0 1.7 0a0.85 0.85 0 1 0 -1.7 0" fill="#34497a"/>
<path d="M209.2 89.0a0.85 0.85 0 1 0 1.7 0a0.85 0.85 0 1 0 -1.7 0M198.2 84.9a0.85 0.85 0 1 0 1.7 0a0.85 0.85 0 1 0 -1.7 0M203.2 82.0a0.85 0.85 0 1 0 1.7 0a0.85 0.85 0 1 0 -1.7 0M214.7 91.8a0.85 0.85 0 1 0 1.7 0a0.85 0.85 0 1 0 -1.7 0" fill="#1e1e1e"/>
<path d="M175.9 81.7a0.85 0.85 0 1 0 1.7 0a0.85 0.85 0 1 0 -1.7 0" fill="#f0901c"/>
<path d="M187.4 83.7a0.85 0.85 0 1 0 1.7 0a0.85 0.85 0 1 0 -1.7 0M185.3 96.4a0.85 0.85 0 1 0 1.7 0a0.85 0.85 0 1 0 -1.7 0M187.0 98.8a0.85 0.85 0 1 0 1.7 0a0.85 0.85 0 1 0 -1.7 0M201.4 94.5a0.85 0.85 0 1 0 1.7 0a0.85 0.85 0 1 0 -1.7 0M183.5 94.1a0.85 0.85 0 1 0 1.7 0a0.85 0.85 0 1 0 -1.7 0" fill="#1e1e1e"/>
<path d="M211.5 95.0a0.85 0.85 0 1 0 1.7 0a0.85 0.85 0 1 0 -1.7 0" fill="#34497a"/>
<path d="M243.5 99.6a0.85 0.85 0 1 0 1.7 0a0.85 0.85 0 1 0 -1.7 0M217.7 99.7a0.85 0.85 0 1 0 1.7 0a0.85 0.85 0 1 0 -1.7 0" fill="#1e1e1e"/>
<path d="M180.1 91.4a0.85 0.85 0 1 0 1.7 0a0.85 0.85 0 1 0 -1.7 0M180.4 97.7a0.85 0.85 0 1 0 1.7 0a0.85 0.85 0 1 0 -1.7 0M197.3 84.4a0.85 0.85 0 1 0 1.7 0a0.85 0.85 0 1 0 -1.7 0" fill="#34497a"/>
<path d="M181.7 90.6a0.85 0.85 0 1 0 1.7 0a0.85 0.85 0 1 0 -1.7 0" fill="#f0901c"/>
<path d="M207.0 96.9a0.85 0.85 0 1 0 1.7 0a0.85 0.85 0 1 0 -1.7 0M226.0 93.3a0.85 0.85 0 1 0 1.7 0a0.85 0.85 0 1 0 -1.7 0M181.0 94.9a0.85 0.85 0 1 0 1.7 0a0.85 0.85 0 1 0 -1.7 0M202.9 90.4a0.85 0.85 0 1 0 1.7 0a0.85 0.85 0 1 0 -1.7 0" fill="#1e1e1e"/>
<path d="M247.7 98.9a0.85 0.85 0 1 0 1.7 0a0.85 0.85 0 1 0 -1.7 0" fill="#34497a"/>
<path d="M237.5 95.7a0.85 0.85 0 1 0 1.7 0a0.85 0.85 0 1 0 -1.7 0M186.3 91.0a0.85 0.85 0 1 0 1.7 0a0.85 0.85 0 1 0 -1.7 0M215.4 93.8a0.85 0.85 0 1 0 1.7 0a0.85 0.85 0 1 0 -1.7 0M212.4 80.4a0.85 0.85 0 1 0 1.7 0a0.85 0.85 0 1 0 -1.7 0" fill="#1e1e1e"/>
<path d="M184.2 88.6a0.85 0.85 0 1 0 1.7 0a0.85 0.85 0 1 0 -1.7 0M207.8 84.0a0.85 0.85 0 1 0 1.7 0a0.85 0.85 0 1 0 -1.7 0" fill="#f0901c"/>
<path d="M181.0 92.1a0.85 0.85 0 1 0 1.7 0a0.85 0.85 0 1 0 -1.7 0" fill="#34497a"/>
<path d="M187.2 86.6a0.85 0.85 0 1 0 1.7 0a0.85 0.85 0 1 0 -1.7 0" fill="#f0901c"/>
<path d="M214.6 87.3a0.85 0.85 0 1 0 1.7 0a0.85 0.85 0 1 0 -1.7 0" fill="#1e1e1e"/>
<path d="M179.0 93.3a0.85 0.85 0 1 0 1.7 0a0.85 0.85 0 1 0 -1.7 0" fill="#34497a"/>
<path d="M187.1 96.3a0.85 0.85 0 1 0 1.7 0a0.85 0.85 0 1 0 -1.7 0" fill="#1e1e1e"/>
<path d="M193.1 97.8a0.85 0.85 0 1 0 1.7 0a0.85 0.85 0 1 0 -1.7 0" fill="#34497a"/>
<path d="M212.6 91.2a0.85 0.85 0 1 0 1.7 0a0.85 0.85 0 1 0 -1.7 0M221.8 99.4a0.85 0.85 0 1 0 1.7 0a0.85 0.85 0 1 0 -1.7 0M239.9 97.7a0.85 0.85 0 1 0 1.7 0a0.85 0.85 0 1 0 -1.7 0M232.6 96.6a0.85 0.85 0 1 0 1.7 0a0.85 0.85 0 1 0 -1.7 0M187.2 87.3a0.85 0.85 0 1 0 1.7 0a0.85 0.85 0 1 0 -1.7 0M228.5 97.4a0.85 0.85 0 1 0 1.7 0a0.85 0.85 0 1 0 -1.7 0M179.2 95.2a0.85 0.85 0 1 0 1.7 0a0.85 0.85 0 1 0 -1.7 0" fill="#1e1e1e"/>
<path d="M181.4 97.4a0.85 0.85 0 1 0 1.7 0a0.85 0.85 0 1 0 -1.7 0" fill="#34497a"/>
<path d="M230.3 98.6a0.85 0.85 0 1 0 1.7 0a0.85 0.85 0 1 0 -1.7 0" fill="#1e1e1e"/>
<path d="M175.4 87.6a0.85 0.85 0 1 0 1.7 0a0.85 0.85 0 1 0 -1.7 0" fill="#f0901c"/>
<path d="M187.0 98.9a0.85 0.85 0 1 0 1.7 0a0.85 0.85 0 1 0 -1.7 0" fill="#1e1e1e"/>
<path d="M183.5 81.7a0.85 0.85 0 1 0 1.7 0a0.85 0.85 0 1 0 -1.7 0" fill="#f0901c"/>
<path d="M197.2 96.5a0.85 0.85 0 1 0 1.7 0a0.85 0.85 0 1 0 -1.7 0" fill="#1e1e1e"/>
<path d="M214.1 90.5a0.85 0.85 0 1 0 1.7 0a0.85 0.85 0 1 0 -1.7 0" fill="#34497a"/>
<path d="M199.2 91.3a0.85 0.85 0 1 0 1.7 0a0.85 0.85 0 1 0 -1.7 0M222.3 96.0a0.85 0.85 0 1 0 1.7 0a0.85 0.85 0 1 0 -1.7 0M249.1 99.6a0.85 0.85 0 1 0 1.7 0a0.85 0.85 0 1 0 -1.7 0M210.4 99.7a0.85 0.85 0 1 0 1.7 0a0.85 0.85 0 1 0 -1.7 0M215.5 85.7a0.85 0.85 0 1 0 1.7 0a0.85 0.85 0 1 0 -1.7 0M182.4 83.9a0.85 0.85 0 1 0 1.7 0a0.85 0.85 0 1 0 -1.7 0M178.3 83.5a0.85 0.85 0 1 0 1.7 0a0.85 0.85 0 1 0 -1.7 0" fill="#1e1e1e"/>
<path d="M182.9 87.5a0.85 0.85 0 1 0 1.7 0a0.85 0.85 0 1 0 -1.7 0M205.8 85.3a0.85 0.85 0 1 0 1.7 0a0.85 0.85 0 1 0 -1.7 0" fill="#f0901c"/>
<path d="M183.3 94.8a0.85 0.85 0 1 0 1.7 0a0.85 0.85 0 1 0 -1.7 0M183.0 96.9a0.85 0.85 0 1 0 1.7 0a0.85 0.85 0 1 0 -1.7 0M219.9 94.9a0.85 0.85 0 1 0 1.7 0a0.85 0.85 0 1 0 -1.7 0M184.9 88.1a0.85 0.85 0 1 0 1.7 0a0.85 0.85 0 1 0 -1.7 0M185.7 86.7a0.85 0.85 0 1 0 1.7 0a0.85 0.85 0 1 0 -1.7 0M220.8 96.2a0.85 0.85 0 1 0 1.7 0a0.85 0.85 0 1 0 -1.7 0M186.8 83.1a0.85 0.85 0 1 0 1.7 0a0.85 0.85 0 1 0 -1.7 0" fill="#1e1e1e"/>
<path d="M223.6 94.4a0.85 0.85 0 1 0 1.7 0a0.85 0.85 0 1 0 -1.7 0" fill="#34497a"/>
<path d="M204.4 80.4a0.85 0.85 0 1 0 1.7 0a0.85 0.85 0 1 0 -1.7 0" fill="#f0901c"/>
<path d="M185.1 98.2a0.85 0.85 0 1 0 1.7 0a0.85 0.85 0 1 0 -1.7 0" fill="#34497a"/>
<path d="M182.8 89.9a0.85 0.85 0 1 0 1.7 0a0.85 0.85 0 1 0 -1.7 0M179.1 95.7a0.85 0.85 0 1 0 1.7 0a0.85 0.85 0 1 0 -1.7 0M194.6 99.5a0.85 0.85 0 1 0 1.7 0a0.85 0.85 0 1 0 -1.7 0M222.6 94.9a0.85 0.85 0 1 0 1.7 0a0.85 0.85 0 1 0 -1.7 0M184.8 98.8a0.85 0.85 0 1 0 1.7 0a0.85 0.85 0 1 0 -1.7 0M181.5 94.1a0.85 0.85 0 1 0 1.7 0a0.85 0.85 0 1 0 -1.7 0M201.5 96.8a0.85 0.85 0 1 0 1.7 0a0.85 0.85 0 1 0 -1.7 0" fill="#1e1e1e"/>
<path d="M184.7 90.9a0.85 0.85 0 1 0 1.7 0a0.85 0.85 0 1 0 -1.7 0" fill="#34497a"/>
<path d="M215.3 88.8a0.85 0.85 0 1 0 1.7 0a0.85 0.85 0 1 0 -1.7 0M187.2 98.0a0.85 0.85 0 1 0 1.7 0a0.85 0.85 0 1 0 -1.7 0M226.9 99.0a0.85 0.85 0 1 0 1.7 0a0.85 0.85 0 1 0 -1.7 0" fill="#1e1e1e"/>
<path d="M201.1 92.8a0.85 0.85 0 1 0 1.7 0a0.85 0.85 0 1 0 -1.7 0" fill="#34497a"/>
<path d="M188.8 98.5a0.85 0.85 0 1 0 1.7 0a0.85 0.85 0 1 0 -1.7 0" fill="#1e1e1e"/>
<path d="M182.4 85.9a0.85 0.85 0 1 0 1.7 0a0.85 0.85 0 1 0 -1.7 0" fill="#f0901c"/>
<path d="M186.6 97.3a0.85 0.85 0 1 0 1.7 0a0.85 0.85 0 1 0 -1.7 0" fill="#1e1e1e"/>
<path d="M199.1 78.4a0.85 0.85 0 1 0 1.7 0a0.85 0.85 0 1 0 -1.7 0M178.8 91.5a0.85 0.85 0 1 0 1.7 0a0.85 0.85 0 1 0 -1.7 0" fill="#f0901c"/>
<path d="M202.8 97.2a0.85 0.85 0 1 0 1.7 0a0.85 0.85 0 1 0 -1.7 0" fill="#34497a"/>
<path d="M207.7 95.4a0.85 0.85 0 1 0 1.7 0a0.85 0.85 0 1 0 -1.7 0M232.4 93.8a0.85 0.85 0 1 0 1.7 0a0.85 0.85 0 1 0 -1.7 0M196.3 89.4a0.85 0.85 0 1 0 1.7 0a0.85 0.85 0 1 0 -1.7 0" fill="#1e1e1e"/>
<path d="M186.3 96.0a0.85 0.85 0 1 0 1.7 0a0.85 0.85 0 1 0 -1.7 0M204.4 88.5a0.85 0.85 0 1 0 1.7 0a0.85 0.85 0 1 0 -1.7 0" fill="#34497a"/>
<path d="M174.9 99.2a0.85 0.85 0 1 0 1.7 0a0.85 0.85 0 1 0 -1.7 0M244.0 98.1a0.85 0.85 0 1 0 1.7 0a0.85 0.85 0 1 0 -1.7 0" fill="#1e1e1e"/>
<path d="M216.9 97.3a0.85 0.85 0 1 0 1.7 0a0.85 0.85 0 1 0 -1.7 0" fill="#34497a"/>
<path d="M186.6 84.0a0.85 0.85 0 1 0 1.7 0a0.85 0.85 0 1 0 -1.7 0M181.7 86.9a0.85 0.85 0 1 0 1.7 0a0.85 0.85 0 1 0 -1.7 0M230.8 95.9a0.85 0.85 0 1 0 1.7 0a0.85 0.85 0 1 0 -1.7 0" fill="#1e1e1e"/>
<path d="M187.6 80.2a0.85 0.85 0 1 0 1.7 0a0.85 0.85 0 1 0 -1.7 0" fill="#f0901c"/>
<path d="M229.5 97.2a0.85 0.85 0 1 0 1.7 0a0.85 0.85 0 1 0 -1.7 0" fill="#1e1e1e"/>
<path d="M212.4 84.7a0.85 0.85 0 1 0 1.7 0a0.85 0.85 0 1 0 -1.7 0" fill="#f0901c"/>
<path d="M180.8 93.9a0.85 0.85 0 1 0 1.7 0a0.85 0.85 0 1 0 -1.7 0" fill="#1e1e1e"/>
<path d="M235.6 95.2a0.85 0.85 0 1 0 1.7 0a0.85 0.85 0 1 0 -1.7 0" fill="#34497a"/>
<path d="M223.3 98.5a0.85 0.85 0 1 0 1.7 0a0.85 0.85 0 1 0 -1.7 0M181.4 93.3a0.85 0.85 0 1 0 1.7 0a0.85 0.85 0 1 0 -1.7 0M197.6 98.9a0.85 0.85 0 1 0 1.7 0a0.85 0.85 0 1 0 -1.7 0M172.4 95.4a0.85 0.85 0 1 0 1.7 0a0.85 0.85 0 1 0 -1.7 0" fill="#1e1e1e"/>
<path d="M176.1 97.0a0.85 0.85 0 1 0 1.7 0a0.85 0.85 0 1 0 -1.7 0" fill="#34497a"/>
<path d="M202.9 84.8a0.85 0.85 0 1 0 1.7 0a0.85 0.85 0 1 0 -1.7 0" fill="#f0901c"/>
<rect x="127.5" y="35.5" width="131.0" height="65.0" fill="none" stroke="#2a2a2a" stroke-width="1"/>
<line x1="127.496" y1="100.5" x2="127.496" y2="103.5" stroke="#2a2a2a" stroke-width="0.8"/>
<text x="127.496" y="112.6" font-size="6.8" text-anchor="middle" fill="#2a2a2a">−16</text>
<line x1="160.248" y1="100.5" x2="160.248" y2="103.5" stroke="#2a2a2a" stroke-width="0.8"/>
<text x="160.248" y="112.6" font-size="6.8" text-anchor="middle" fill="#2a2a2a">−8</text>
<line x1="193.0" y1="100.5" x2="193.0" y2="103.5" stroke="#2a2a2a" stroke-width="0.8"/>
<text x="193.0" y="112.6" font-size="6.8" text-anchor="middle" fill="#2a2a2a">0</text>
<line x1="225.752" y1="100.5" x2="225.752" y2="103.5" stroke="#2a2a2a" stroke-width="0.8"/>
<text x="225.752" y="112.6" font-size="6.8" text-anchor="middle" fill="#2a2a2a">8</text>
<line x1="258.504" y1="100.5" x2="258.504" y2="103.5" stroke="#2a2a2a" stroke-width="0.8"/>
<text x="258.504" y="112.6" font-size="6.8" text-anchor="middle" fill="#2a2a2a">16</text>
<text x="192.7" y="124.2" font-size="7" font-weight="bold" text-anchor="middle" fill="#2a2a2a" textLength="44.4" lengthAdjust="spacingAndGlyphs">log<tspan font-size="4.5" dy="1.5">2</tspan><tspan dy="-1.5">(fold change)</tspan></text>
<line x1="258.5" y1="99.3" x2="261.5" y2="99.3" stroke="#2a2a2a" stroke-width="0.8"/>
<text x="264.5" y="101.6" font-size="6.5" fill="#2a2a2a">0</text>
<line x1="258.5" y1="84.02" x2="261.5" y2="84.02" stroke="#2a2a2a" stroke-width="0.8"/>
<text x="264.5" y="86.32" font-size="6.5" fill="#2a2a2a">100</text>
<line x1="258.5" y1="68.74" x2="261.5" y2="68.74" stroke="#2a2a2a" stroke-width="0.8"/>
<text x="264.5" y="71.03999999999999" font-size="6.5" fill="#2a2a2a">200</text>
<line x1="258.5" y1="53.46" x2="261.5" y2="53.46" stroke="#2a2a2a" stroke-width="0.8"/>
<text x="264.5" y="55.76" font-size="6.5" fill="#2a2a2a">300</text>
<line x1="258.5" y1="38.18" x2="261.5" y2="38.18" stroke="#2a2a2a" stroke-width="0.8"/>
<text x="264.5" y="40.48" font-size="6.5" fill="#2a2a2a">400</text>
<text x="283.2" y="66.5" font-size="6.5" font-weight="bold" text-anchor="middle" fill="#2a2a2a" transform="rotate(90 283.2 66.5)" textLength="38" lengthAdjust="spacingAndGlyphs">-log<tspan font-size="4" dy="1.2">10</tspan><tspan dy="-1.2">(</tspan><tspan font-style="italic">P</tspan>-value)</text>
<text x="34.3" y="135.6" font-size="9" textLength="88.4" lengthAdjust="spacingAndGlyphs" fill="#2a2a2a">MI-503 vs. DMSO in NT</text>
<line x1="45.7" y1="196.20000000000002" x2="111.3" y2="196.20000000000002" stroke="#dcdcdc" stroke-width="0.7"/>
<line x1="45.7" y1="216.4" x2="111.3" y2="216.4" stroke="#dcdcdc" stroke-width="0.7"/>
<path d="M103.3 187.7a0.85 0.85 0 1 0 1.7 0a0.85 0.85 0 1 0 -1.7 0" fill="#f0901c"/>
<path d="M46.9 168.5a0.85 0.85 0 1 0 1.7 0a0.85 0.85 0 1 0 -1.7 0" fill="#8a8a8a"/>
<path d="M103.7 220.1a0.85 0.85 0 1 0 1.7 0a0.85 0.85 0 1 0 -1.7 0M108.6 160.0a0.85 0.85 0 1 0 1.7 0a0.85 0.85 0 1 0 -1.7 0M107.4 240.3a0.85 0.85 0 1 0 1.7 0a0.85 0.85 0 1 0 -1.7 0" fill="#1e1e1e"/>
<path d="M81.2 184.3a0.85 0.85 0 1 0 1.7 0a0.85 0.85 0 1 0 -1.7 0" fill="#f0901c"/>
<path d="M103.3 186.7a0.85 0.85 0 1 0 1.7 0a0.85 0.85 0 1 0 -1.7 0" fill="#1e1e1e"/>
<path d="M100.5 195.0a0.85 0.85 0 1 0 1.7 0a0.85 0.85 0 1 0 -1.7 0" fill="#8a8a8a"/>
<path d="M99.9 216.0a0.85 0.85 0 1 0 1.7 0a0.85 0.85 0 1 0 -1.7 0M109.5 244.0a0.85 0.85 0 1 0 1.7 0a0.85 0.85 0 1 0 -1.7 0M108.3 209.7a0.85 0.85 0 1 0 1.7 0a0.85 0.85 0 1 0 -1.7 0M105.0 186.9a0.85 0.85 0 1 0 1.7 0a0.85 0.85 0 1 0 -1.7 0M102.6 232.7a0.85 0.85 0 1 0 1.7 0a0.85 0.85 0 1 0 -1.7 0" fill="#1e1e1e"/>
<path d="M102.9 221.9a0.85 0.85 0 1 0 1.7 0a0.85 0.85 0 1 0 -1.7 0" fill="#f0901c"/>
<path d="M100.4 218.0a0.85 0.85 0 1 0 1.7 0a0.85 0.85 0 1 0 -1.7 0M108.9 167.3a0.85 0.85 0 1 0 1.7 0a0.85 0.85 0 1 0 -1.7 0M101.2 219.8a0.85 0.85 0 1 0 1.7 0a0.85 0.85 0 1 0 -1.7 0M108.3 190.2a0.85 0.85 0 1 0 1.7 0a0.85 0.85 0 1 0 -1.7 0M107.5 222.8a0.85 0.85 0 1 0 1.7 0a0.85 0.85 0 1 0 -1.7 0" fill="#1e1e1e"/>
<path d="M105.1 223.7a0.85 0.85 0 1 0 1.7 0a0.85 0.85 0 1 0 -1.7 0M106.2 171.6a0.85 0.85 0 1 0 1.7 0a0.85 0.85 0 1 0 -1.7 0" fill="#8a8a8a"/>
<path d="M87.2 192.0a0.85 0.85 0 1 0 1.7 0a0.85 0.85 0 1 0 -1.7 0M106.9 178.6a0.85 0.85 0 1 0 1.7 0a0.85 0.85 0 1 0 -1.7 0M101.3 217.0a0.85 0.85 0 1 0 1.7 0a0.85 0.85 0 1 0 -1.7 0M104.3 226.0a0.85 0.85 0 1 0 1.7 0a0.85 0.85 0 1 0 -1.7 0M90.2 186.0a0.85 0.85 0 1 0 1.7 0a0.85 0.85 0 1 0 -1.7 0M109.0 223.0a0.85 0.85 0 1 0 1.7 0a0.85 0.85 0 1 0 -1.7 0M97.0 186.3a0.85 0.85 0 1 0 1.7 0a0.85 0.85 0 1 0 -1.7 0M107.1 158.5a0.85 0.85 0 1 0 1.7 0a0.85 0.85 0 1 0 -1.7 0M103.4 189.4a0.85 0.85 0 1 0 1.7 0a0.85 0.85 0 1 0 -1.7 0M107.3 191.1a0.85 0.85 0 1 0 1.7 0a0.85 0.85 0 1 0 -1.7 0M103.2 186.7a0.85 0.85 0 1 0 1.7 0a0.85 0.85 0 1 0 -1.7 0M101.4 191.4a0.85 0.85 0 1 0 1.7 0a0.85 0.85 0 1 0 -1.7 0" fill="#1e1e1e"/>
<path d="M108.4 186.3a0.85 0.85 0 1 0 1.7 0a0.85 0.85 0 1 0 -1.7 0" fill="#8a8a8a"/>
<path d="M109.3 247.6a0.85 0.85 0 1 0 1.7 0a0.85 0.85 0 1 0 -1.7 0" fill="#f0901c"/>
<path d="M105.0 181.1a0.85 0.85 0 1 0 1.7 0a0.85 0.85 0 1 0 -1.7 0M100.1 184.0a0.85 0.85 0 1 0 1.7 0a0.85 0.85 0 1 0 -1.7 0" fill="#1e1e1e"/>
<path d="M97.3 227.0a0.85 0.85 0 1 0 1.7 0a0.85 0.85 0 1 0 -1.7 0" fill="#f0901c"/>
<path d="M100.5 191.7a0.85 0.85 0 1 0 1.7 0a0.85 0.85 0 1 0 -1.7 0" fill="#1e1e1e"/>
<path d="M108.6 172.1a0.85 0.85 0 1 0 1.7 0a0.85 0.85 0 1 0 -1.7 0" fill="#8a8a8a"/>
<path d="M109.5 216.7a0.85 0.85 0 1 0 1.7 0a0.85 0.85 0 1 0 -1.7 0" fill="#1e1e1e"/>
<path d="M91.6 163.4a0.85 0.85 0 1 0 1.7 0a0.85 0.85 0 1 0 -1.7 0" fill="#34497a"/>
<path d="M102.5 189.1a0.85 0.85 0 1 0 1.7 0a0.85 0.85 0 1 0 -1.7 0M100.5 186.5a0.85 0.85 0 1 0 1.7 0a0.85 0.85 0 1 0 -1.7 0M106.5 189.6a0.85 0.85 0 1 0 1.7 0a0.85 0.85 0 1 0 -1.7 0M103.9 227.5a0.85 0.85 0 1 0 1.7 0a0.85 0.85 0 1 0 -1.7 0M109.1 169.5a0.85 0.85 0 1 0 1.7 0a0.85 0.85 0 1 0 -1.7 0M108.3 219.4a0.85 0.85 0 1 0 1.7 0a0.85 0.85 0 1 0 -1.7 0M108.5 197.8a0.85 0.85 0 1 0 1.7 0a0.85 0.85 0 1 0 -1.7 0M97.0 179.8a0.85 0.85 0 1 0 1.7 0a0.85 0.85 0 1 0 -1.7 0M107.8 175.2a0.85 0.85 0 1 0 1.7 0a0.85 0.85 0 1 0 -1.7 0M109.2 222.3a0.85 0.85 0 1 0 1.7 0a0.85 0.85 0 1 0 -1.7 0M106.4 190.3a0.85 0.85 0 1 0 1.7 0a0.85 0.85 0 1 0 -1.7 0" fill="#1e1e1e"/>
<path d="M107.2 186.4a0.85 0.85 0 1 0 1.7 0a0.85 0.85 0 1 0 -1.7 0M108.3 191.7a0.85 0.85 0 1 0 1.7 0a0.85 0.85 0 1 0 -1.7 0" fill="#f0901c"/>
<path d="M95.8 193.3a0.85 0.85 0 1 0 1.7 0a0.85 0.85 0 1 0 -1.7 0" fill="#34497a"/>
<path d="M107.1 232.5a0.85 0.85 0 1 0 1.7 0a0.85 0.85 0 1 0 -1.7 0M107.0 192.9a0.85 0.85 0 1 0 1.7 0a0.85 0.85 0 1 0 -1.7 0M102.1 228.7a0.85 0.85 0 1 0 1.7 0a0.85 0.85 0 1 0 -1.7 0M96.5 224.2a0.85 0.85 0 1 0 1.7 0a0.85 0.85 0 1 0 -1.7 0" fill="#1e1e1e"/>
<path d="M95.9 195.0a0.85 0.85 0 1 0 1.7 0a0.85 0.85 0 1 0 -1.7 0M106.4 221.5a0.85 0.85 0 1 0 1.7 0a0.85 0.85 0 1 0 -1.7 0" fill="#f0901c"/>
<path d="M101.0 188.4a0.85 0.85 0 1 0 1.7 0a0.85 0.85 0 1 0 -1.7 0M98.6 229.0a0.85 0.85 0 1 0 1.7 0a0.85 0.85 0 1 0 -1.7 0M105.9 226.8a0.85 0.85 0 1 0 1.7 0a0.85 0.85 0 1 0 -1.7 0M107.2 217.8a0.85 0.85 0 1 0 1.7 0a0.85 0.85 0 1 0 -1.7 0" fill="#1e1e1e"/>
<path d="M107.6 220.1a0.85 0.85 0 1 0 1.7 0a0.85 0.85 0 1 0 -1.7 0" fill="#f0901c"/>
<path d="M95.4 164.7a0.85 0.85 0 1 0 1.7 0a0.85 0.85 0 1 0 -1.7 0M106.4 162.1a0.85 0.85 0 1 0 1.7 0a0.85 0.85 0 1 0 -1.7 0M107.6 167.6a0.85 0.85 0 1 0 1.7 0a0.85 0.85 0 1 0 -1.7 0M95.3 194.1a0.85 0.85 0 1 0 1.7 0a0.85 0.85 0 1 0 -1.7 0" fill="#1e1e1e"/>
<path d="M106.8 176.4a0.85 0.85 0 1 0 1.7 0a0.85 0.85 0 1 0 -1.7 0" fill="#8a8a8a"/>
<path d="M100.3 219.8a0.85 0.85 0 1 0 1.7 0a0.85 0.85 0 1 0 -1.7 0" fill="#1e1e1e"/>
<path d="M108.4 171.2a0.85 0.85 0 1 0 1.7 0a0.85 0.85 0 1 0 -1.7 0" fill="#8a8a8a"/>
<path d="M108.2 200.2a0.85 0.85 0 1 0 1.7 0a0.85 0.85 0 1 0 -1.7 0M107.5 175.4a0.85 0.85 0 1 0 1.7 0a0.85 0.85 0 1 0 -1.7 0M104.7 216.9a0.85 0.85 0 1 0 1.7 0a0.85 0.85 0 1 0 -1.7 0M107.0 245.6a0.85 0.85 0 1 0 1.7 0a0.85 0.85 0 1 0 -1.7 0M78.9 164.7a0.85 0.85 0 1 0 1.7 0a0.85 0.85 0 1 0 -1.7 0" fill="#1e1e1e"/>
<path d="M107.0 148.4a0.85 0.85 0 1 0 1.7 0a0.85 0.85 0 1 0 -1.7 0" fill="#f0901c"/>
<path d="M103.9 231.4a0.85 0.85 0 1 0 1.7 0a0.85 0.85 0 1 0 -1.7 0M106.1 220.6a0.85 0.85 0 1 0 1.7 0a0.85 0.85 0 1 0 -1.7 0M103.3 194.3a0.85 0.85 0 1 0 1.7 0a0.85 0.85 0 1 0 -1.7 0" fill="#1e1e1e"/>
<path d="M108.2 217.2a0.85 0.85 0 1 0 1.7 0a0.85 0.85 0 1 0 -1.7 0" fill="#f0901c"/>
<path d="M105.1 217.4a0.85 0.85 0 1 0 1.7 0a0.85 0.85 0 1 0 -1.7 0" fill="#1e1e1e"/>
<path d="M103.3 216.6a0.85 0.85 0 1 0 1.7 0a0.85 0.85 0 1 0 -1.7 0" fill="#f0901c"/>
<path d="M107.1 190.0a0.85 0.85 0 1 0 1.7 0a0.85 0.85 0 1 0 -1.7 0" fill="#1e1e1e"/>
<path d="M100.4 188.0a0.85 0.85 0 1 0 1.7 0a0.85 0.85 0 1 0 -1.7 0" fill="#f0901c"/>
<path d="M107.0 229.3a0.85 0.85 0 1 0 1.7 0a0.85 0.85 0 1 0 -1.7 0" fill="#1e1e1e"/>
<path d="M101.3 191.7a0.85 0.85 0 1 0 1.7 0a0.85 0.85 0 1 0 -1.7 0" fill="#f0901c"/>
<path d="M106.7 192.9a0.85 0.85 0 1 0 1.7 0a0.85 0.85 0 1 0 -1.7 0" fill="#8a8a8a"/>
<path d="M107.8 254.8a0.85 0.85 0 1 0 1.7 0a0.85 0.85 0 1 0 -1.7 0M103.7 192.3a0.85 0.85 0 1 0 1.7 0a0.85 0.85 0 1 0 -1.7 0" fill="#1e1e1e"/>
<path d="M97.7 183.1a0.85 0.85 0 1 0 1.7 0a0.85 0.85 0 1 0 -1.7 0" fill="#f0901c"/>
<path d="M100.3 223.0a0.85 0.85 0 1 0 1.7 0a0.85 0.85 0 1 0 -1.7 0" fill="#34497a"/>
<path d="M107.5 149.9a0.85 0.85 0 1 0 1.7 0a0.85 0.85 0 1 0 -1.7 0" fill="#f0901c"/>
<path d="M106.1 219.8a0.85 0.85 0 1 0 1.7 0a0.85 0.85 0 1 0 -1.7 0" fill="#8a8a8a"/>
<path d="M104.8 187.1a0.85 0.85 0 1 0 1.7 0a0.85 0.85 0 1 0 -1.7 0M106.0 172.2a0.85 0.85 0 1 0 1.7 0a0.85 0.85 0 1 0 -1.7 0M103.9 192.3a0.85 0.85 0 1 0 1.7 0a0.85 0.85 0 1 0 -1.7 0M107.5 226.5a0.85 0.85 0 1 0 1.7 0a0.85 0.85 0 1 0 -1.7 0M108.2 190.2a0.85 0.85 0 1 0 1.7 0a0.85 0.85 0 1 0 -1.7 0M109.5 219.6a0.85 0.85 0 1 0 1.7 0a0.85 0.85 0 1 0 -1.7 0M107.2 218.1a0.85 0.85 0 1 0 1.7 0a0.85 0.85 0 1 0 -1.7 0M107.8 203.4a0.85 0.85 0 1 0 1.7 0a0.85 0.85 0 1 0 -1.7 0M103.8 173.0a0.85 0.85 0 1 0 1.7 0a0.85 0.85 0 1 0 -1.7 0M105.3 216.2a0.85 0.85 0 1 0 1.7 0a0.85 0.85 0 1 0 -1.7 0M107.7 186.0a0.85 0.85 0 1 0 1.7 0a0.85 0.85 0 1 0 -1.7 0" fill="#1e1e1e"/>
<path d="M86.2 179.0a0.85 0.85 0 1 0 1.7 0a0.85 0.85 0 1 0 -1.7 0" fill="#34497a"/>
<path d="M103.9 193.0a0.85 0.85 0 1 0 1.7 0a0.85 0.85 0 1 0 -1.7 0M107.9 216.5a0.85 0.85 0 1 0 1.7 0a0.85 0.85 0 1 0 -1.7 0M104.6 193.1a0.85 0.85 0 1 0 1.7 0a0.85 0.85 0 1 0 -1.7 0M108.9 183.1a0.85 0.85 0 1 0 1.7 0a0.85 0.85 0 1 0 -1.7 0M102.3 183.0a0.85 0.85 0 1 0 1.7 0a0.85 0.85 0 1 0 -1.7 0" fill="#1e1e1e"/>
<path d="M108.1 176.9a0.85 0.85 0 1 0 1.7 0a0.85 0.85 0 1 0 -1.7 0" fill="#34497a"/>
<path d="M106.6 227.5a0.85 0.85 0 1 0 1.7 0a0.85 0.85 0 1 0 -1.7 0" fill="#f0901c"/>
<path d="M91.2 249.0a0.85 0.85 0 1 0 1.7 0a0.85 0.85 0 1 0 -1.7 0M101.0 221.4a0.85 0.85 0 1 0 1.7 0a0.85 0.85 0 1 0 -1.7 0M102.3 216.1a0.85 0.85 0 1 0 1.7 0a0.85 0.85 0 1 0 -1.7 0M107.7 217.0a0.85 0.85 0 1 0 1.7 0a0.85 0.85 0 1 0 -1.7 0M105.7 178.0a0.85 0.85 0 1 0 1.7 0a0.85 0.85 0 1 0 -1.7 0" fill="#1e1e1e"/>
<path d="M101.1 223.0a0.85 0.85 0 1 0 1.7 0a0.85 0.85 0 1 0 -1.7 0M94.9 188.8a0.85 0.85 0 1 0 1.7 0a0.85 0.85 0 1 0 -1.7 0" fill="#34497a"/>
<path d="M107.4 218.4a0.85 0.85 0 1 0 1.7 0a0.85 0.85 0 1 0 -1.7 0" fill="#1e1e1e"/>
<path d="M104.5 254.1a0.85 0.85 0 1 0 1.7 0a0.85 0.85 0 1 0 -1.7 0" fill="#34497a"/>
<path d="M96.1 193.2a0.85 0.85 0 1 0 1.7 0a0.85 0.85 0 1 0 -1.7 0M97.0 230.3a0.85 0.85 0 1 0 1.7 0a0.85 0.85 0 1 0 -1.7 0M107.2 232.2a0.85 0.85 0 1 0 1.7 0a0.85 0.85 0 1 0 -1.7 0" fill="#1e1e1e"/>
<path d="M107.6 221.8a0.85 0.85 0 1 0 1.7 0a0.85 0.85 0 1 0 -1.7 0" fill="#34497a"/>
<path d="M103.8 219.0a0.85 0.85 0 1 0 1.7 0a0.85 0.85 0 1 0 -1.7 0M107.1 227.0a0.85 0.85 0 1 0 1.7 0a0.85 0.85 0 1 0 -1.7 0" fill="#1e1e1e"/>
<path d="M93.8 189.1a0.85 0.85 0 1 0 1.7 0a0.85 0.85 0 1 0 -1.7 0" fill="#f0901c"/>
<path d="M107.6 191.9a0.85 0.85 0 1 0 1.7 0a0.85 0.85 0 1 0 -1.7 0M105.0 246.8a0.85 0.85 0 1 0 1.7 0a0.85 0.85 0 1 0 -1.7 0" fill="#1e1e1e"/>
<path d="M104.0 185.2a0.85 0.85 0 1 0 1.7 0a0.85 0.85 0 1 0 -1.7 0" fill="#f0901c"/>
<path d="M102.0 218.0a0.85 0.85 0 1 0 1.7 0a0.85 0.85 0 1 0 -1.7 0" fill="#34497a"/>
<path d="M105.5 226.6a0.85 0.85 0 1 0 1.7 0a0.85 0.85 0 1 0 -1.7 0" fill="#f0901c"/>
<path d="M106.5 175.8a0.85 0.85 0 1 0 1.7 0a0.85 0.85 0 1 0 -1.7 0" fill="#1e1e1e"/>
<path d="M101.3 183.2a0.85 0.85 0 1 0 1.7 0a0.85 0.85 0 1 0 -1.7 0" fill="#8a8a8a"/>
<path d="M104.6 187.0a0.85 0.85 0 1 0 1.7 0a0.85 0.85 0 1 0 -1.7 0M108.2 186.7a0.85 0.85 0 1 0 1.7 0a0.85 0.85 0 1 0 -1.7 0M99.9 226.2a0.85 0.85 0 1 0 1.7 0a0.85 0.85 0 1 0 -1.7 0M107.1 191.9a0.85 0.85 0 1 0 1.7 0a0.85 0.85 0 1 0 -1.7 0" fill="#1e1e1e"/>
<path d="M106.4 224.1a0.85 0.85 0 1 0 1.7 0a0.85 0.85 0 1 0 -1.7 0" fill="#f0901c"/>
<path d="M109.0 178.6a0.85 0.85 0 1 0 1.7 0a0.85 0.85 0 1 0 -1.7 0M102.4 222.1a0.85 0.85 0 1 0 1.7 0a0.85 0.85 0 1 0 -1.7 0M109.1 225.9a0.85 0.85 0 1 0 1.7 0a0.85 0.85 0 1 0 -1.7 0M99.4 232.8a0.85 0.85 0 1 0 1.7 0a0.85 0.85 0 1 0 -1.7 0M108.5 201.2a0.85 0.85 0 1 0 1.7 0a0.85 0.85 0 1 0 -1.7 0M103.3 226.3a0.85 0.85 0 1 0 1.7 0a0.85 0.85 0 1 0 -1.7 0M104.4 184.3a0.85 0.85 0 1 0 1.7 0a0.85 0.85 0 1 0 -1.7 0M108.0 178.1a0.85 0.85 0 1 0 1.7 0a0.85 0.85 0 1 0 -1.7 0M94.4 189.7a0.85 0.85 0 1 0 1.7 0a0.85 0.85 0 1 0 -1.7 0M104.7 190.3a0.85 0.85 0 1 0 1.7 0a0.85 0.85 0 1 0 -1.7 0M100.3 191.7a0.85 0.85 0 1 0 1.7 0a0.85 0.85 0 1 0 -1.7 0" fill="#1e1e1e"/>
<path d="M97.9 181.1a0.85 0.85 0 1 0 1.7 0a0.85 0.85 0 1 0 -1.7 0" fill="#f0901c"/>
<path d="M109.4 226.1a0.85 0.85 0 1 0 1.7 0a0.85 0.85 0 1 0 -1.7 0M106.4 249.3a0.85 0.85 0 1 0 1.7 0a0.85 0.85 0 1 0 -1.7 0" fill="#1e1e1e"/>
<path d="M103.2 232.5a0.85 0.85 0 1 0 1.7 0a0.85 0.85 0 1 0 -1.7 0" fill="#8a8a8a"/>
<path d="M99.2 184.3a0.85 0.85 0 1 0 1.7 0a0.85 0.85 0 1 0 -1.7 0M94.0 190.8a0.85 0.85 0 1 0 1.7 0a0.85 0.85 0 1 0 -1.7 0" fill="#1e1e1e"/>
<path d="M107.2 182.5a0.85 0.85 0 1 0 1.7 0a0.85 0.85 0 1 0 -1.7 0" fill="#f0901c"/>
<path d="M102.2 228.5a0.85 0.85 0 1 0 1.7 0a0.85 0.85 0 1 0 -1.7 0M107.1 161.7a0.85 0.85 0 1 0 1.7 0a0.85 0.85 0 1 0 -1.7 0" fill="#1e1e1e"/>
<path d="M106.1 218.0a0.85 0.85 0 1 0 1.7 0a0.85 0.85 0 1 0 -1.7 0" fill="#34497a"/>
<path d="M105.8 225.3a0.85 0.85 0 1 0 1.7 0a0.85 0.85 0 1 0 -1.7 0M109.4 153.6a0.85 0.85 0 1 0 1.7 0a0.85 0.85 0 1 0 -1.7 0M98.6 218.1a0.85 0.85 0 1 0 1.7 0a0.85 0.85 0 1 0 -1.7 0" fill="#1e1e1e"/>
<path d="M108.7 185.4a0.85 0.85 0 1 0 1.7 0a0.85 0.85 0 1 0 -1.7 0" fill="#f0901c"/>
<path d="M108.9 223.0a0.85 0.85 0 1 0 1.7 0a0.85 0.85 0 1 0 -1.7 0" fill="#1e1e1e"/>
<path d="M104.3 229.1a0.85 0.85 0 1 0 1.7 0a0.85 0.85 0 1 0 -1.7 0" fill="#f0901c"/>
<path d="M97.8 218.7a0.85 0.85 0 1 0 1.7 0a0.85 0.85 0 1 0 -1.7 0" fill="#1e1e1e"/>
<path d="M101.7 221.6a0.85 0.85 0 1 0 1.7 0a0.85 0.85 0 1 0 -1.7 0" fill="#f0901c"/>
<path d="M108.1 216.2a0.85 0.85 0 1 0 1.7 0a0.85 0.85 0 1 0 -1.7 0M108.0 253.7a0.85 0.85 0 1 0 1.7 0a0.85 0.85 0 1 0 -1.7 0" fill="#34497a"/>
<path d="M96.2 221.3a0.85 0.85 0 1 0 1.7 0a0.85 0.85 0 1 0 -1.7 0M107.5 227.3a0.85 0.85 0 1 0 1.7 0a0.85 0.85 0 1 0 -1.7 0M95.7 180.9a0.85 0.85 0 1 0 1.7 0a0.85 0.85 0 1 0 -1.7 0" fill="#1e1e1e"/>
<path d="M99.9 186.5a0.85 0.85 0 1 0 1.7 0a0.85 0.85 0 1 0 -1.7 0" fill="#f0901c"/>
<path d="M108.7 259.1a0.85 0.85 0 1 0 1.7 0a0.85 0.85 0 1 0 -1.7 0M108.0 220.5a0.85 0.85 0 1 0 1.7 0a0.85 0.85 0 1 0 -1.7 0M102.2 192.9a0.85 0.85 0 1 0 1.7 0a0.85 0.85 0 1 0 -1.7 0M105.8 244.0a0.85 0.85 0 1 0 1.7 0a0.85 0.85 0 1 0 -1.7 0M108.6 220.2a0.85 0.85 0 1 0 1.7 0a0.85 0.85 0 1 0 -1.7 0M103.9 254.4a0.85 0.85 0 1 0 1.7 0a0.85 0.85 0 1 0 -1.7 0M107.3 166.4a0.85 0.85 0 1 0 1.7 0a0.85 0.85 0 1 0 -1.7 0M97.1 183.0a0.85 0.85 0 1 0 1.7 0a0.85 0.85 0 1 0 -1.7 0M105.4 216.2a0.85 0.85 0 1 0 1.7 0a0.85 0.85 0 1 0 -1.7 0" fill="#1e1e1e"/>
<path d="M105.0 221.8a0.85 0.85 0 1 0 1.7 0a0.85 0.85 0 1 0 -1.7 0" fill="#34497a"/>
<path d="M107.2 253.2a0.85 0.85 0 1 0 1.7 0a0.85 0.85 0 1 0 -1.7 0M97.6 229.4a0.85 0.85 0 1 0 1.7 0a0.85 0.85 0 1 0 -1.7 0M99.9 216.8a0.85 0.85 0 1 0 1.7 0a0.85 0.85 0 1 0 -1.7 0M106.2 219.4a0.85 0.85 0 1 0 1.7 0a0.85 0.85 0 1 0 -1.7 0M103.1 186.7a0.85 0.85 0 1 0 1.7 0a0.85 0.85 0 1 0 -1.7 0" fill="#1e1e1e"/>
<path d="M108.6 187.6a0.85 0.85 0 1 0 1.7 0a0.85 0.85 0 1 0 -1.7 0" fill="#f0901c"/>
<path d="M103.4 225.0a0.85 0.85 0 1 0 1.7 0a0.85 0.85 0 1 0 -1.7 0M109.4 262.1a0.85 0.85 0 1 0 1.7 0a0.85 0.85 0 1 0 -1.7 0M109.5 191.1a0.85 0.85 0 1 0 1.7 0a0.85 0.85 0 1 0 -1.7 0M106.7 184.5a0.85 0.85 0 1 0 1.7 0a0.85 0.85 0 1 0 -1.7 0" fill="#1e1e1e"/>
<path d="M109.2 168.9a0.85 0.85 0 1 0 1.7 0a0.85 0.85 0 1 0 -1.7 0" fill="#8a8a8a"/>
<path d="M102.5 174.4a0.85 0.85 0 1 0 1.7 0a0.85 0.85 0 1 0 -1.7 0M105.4 190.1a0.85 0.85 0 1 0 1.7 0a0.85 0.85 0 1 0 -1.7 0M106.5 217.8a0.85 0.85 0 1 0 1.7 0a0.85 0.85 0 1 0 -1.7 0" fill="#1e1e1e"/>
<path d="M106.2 149.3a0.85 0.85 0 1 0 1.7 0a0.85 0.85 0 1 0 -1.7 0" fill="#f0901c"/>
<path d="M96.1 184.1a0.85 0.85 0 1 0 1.7 0a0.85 0.85 0 1 0 -1.7 0M103.1 230.3a0.85 0.85 0 1 0 1.7 0a0.85 0.85 0 1 0 -1.7 0M105.0 150.6a0.85 0.85 0 1 0 1.7 0a0.85 0.85 0 1 0 -1.7 0" fill="#1e1e1e"/>
<path d="M105.3 217.8a0.85 0.85 0 1 0 1.7 0a0.85 0.85 0 1 0 -1.7 0" fill="#34497a"/>
<path d="M102.0 224.6a0.85 0.85 0 1 0 1.7 0a0.85 0.85 0 1 0 -1.7 0M103.4 222.0a0.85 0.85 0 1 0 1.7 0a0.85 0.85 0 1 0 -1.7 0M98.9 221.6a0.85 0.85 0 1 0 1.7 0a0.85 0.85 0 1 0 -1.7 0M109.4 179.4a0.85 0.85 0 1 0 1.7 0a0.85 0.85 0 1 0 -1.7 0M105.5 174.7a0.85 0.85 0 1 0 1.7 0a0.85 0.85 0 1 0 -1.7 0M107.5 182.1a0.85 0.85 0 1 0 1.7 0a0.85 0.85 0 1 0 -1.7 0M107.2 169.8a0.85 0.85 0 1 0 1.7 0a0.85 0.85 0 1 0 -1.7 0" fill="#1e1e1e"/>
<path d="M108.0 186.6a0.85 0.85 0 1 0 1.7 0a0.85 0.85 0 1 0 -1.7 0" fill="#f0901c"/>
<path d="M109.2 168.2a0.85 0.85 0 1 0 1.7 0a0.85 0.85 0 1 0 -1.7 0" fill="#1e1e1e"/>
<path d="M85.2 189.0a0.85 0.85 0 1 0 1.7 0a0.85 0.85 0 1 0 -1.7 0" fill="#34497a"/>
<path d="M95.7 187.5a0.85 0.85 0 1 0 1.7 0a0.85 0.85 0 1 0 -1.7 0" fill="#8a8a8a"/>
<path d="M100.6 220.9a0.85 0.85 0 1 0 1.7 0a0.85 0.85 0 1 0 -1.7 0M96.6 181.9a0.85 0.85 0 1 0 1.7 0a0.85 0.85 0 1 0 -1.7 0M100.5 188.3a0.85 0.85 0 1 0 1.7 0a0.85 0.85 0 1 0 -1.7 0M102.2 219.2a0.85 0.85 0 1 0 1.7 0a0.85 0.85 0 1 0 -1.7 0M103.8 220.8a0.85 0.85 0 1 0 1.7 0a0.85 0.85 0 1 0 -1.7 0M108.0 185.7a0.85 0.85 0 1 0 1.7 0a0.85 0.85 0 1 0 -1.7 0" fill="#1e1e1e"/>
<path d="M102.2 184.0a0.85 0.85 0 1 0 1.7 0a0.85 0.85 0 1 0 -1.7 0" fill="#8a8a8a"/>
<path d="M108.5 224.2a0.85 0.85 0 1 0 1.7 0a0.85 0.85 0 1 0 -1.7 0M100.0 188.9a0.85 0.85 0 1 0 1.7 0a0.85 0.85 0 1 0 -1.7 0M102.3 191.5a0.85 0.85 0 1 0 1.7 0a0.85 0.85 0 1 0 -1.7 0M106.9 167.8a0.85 0.85 0 1 0 1.7 0a0.85 0.85 0 1 0 -1.7 0M101.7 191.1a0.85 0.85 0 1 0 1.7 0a0.85 0.85 0 1 0 -1.7 0M105.5 184.7a0.85 0.85 0 1 0 1.7 0a0.85 0.85 0 1 0 -1.7 0M101.7 193.4a0.85 0.85 0 1 0 1.7 0a0.85 0.85 0 1 0 -1.7 0M105.2 265.0a0.85 0.85 0 1 0 1.7 0a0.85 0.85 0 1 0 -1.7 0M100.3 219.6a0.85 0.85 0 1 0 1.7 0a0.85 0.85 0 1 0 -1.7 0M107.6 217.2a0.85 0.85 0 1 0 1.7 0a0.85 0.85 0 1 0 -1.7 0M102.5 218.8a0.85 0.85 0 1 0 1.7 0a0.85 0.85 0 1 0 -1.7 0M102.5 220.0a0.85 0.85 0 1 0 1.7 0a0.85 0.85 0 1 0 -1.7 0M102.3 228.1a0.85 0.85 0 1 0 1.7 0a0.85 0.85 0 1 0 -1.7 0" fill="#1e1e1e"/>
<path d="M109.2 216.5a0.85 0.85 0 1 0 1.7 0a0.85 0.85 0 1 0 -1.7 0M105.6 224.5a0.85 0.85 0 1 0 1.7 0a0.85 0.85 0 1 0 -1.7 0" fill="#34497a"/>
<path d="M106.4 188.0a0.85 0.85 0 1 0 1.7 0a0.85 0.85 0 1 0 -1.7 0" fill="#1e1e1e"/>
<path d="M107.8 171.2a0.85 0.85 0 1 0 1.7 0a0.85 0.85 0 1 0 -1.7 0M104.3 189.5a0.85 0.85 0 1 0 1.7 0a0.85 0.85 0 1 0 -1.7 0" fill="#f0901c"/>
<path d="M107.5 216.3a0.85 0.85 0 1 0 1.7 0a0.85 0.85 0 1 0 -1.7 0M107.3 215.6a0.85 0.85 0 1 0 1.7 0a0.85 0.85 0 1 0 -1.7 0" fill="#1e1e1e"/>
<path d="M101.9 223.9a0.85 0.85 0 1 0 1.7 0a0.85 0.85 0 1 0 -1.7 0" fill="#8a8a8a"/>
<path d="M104.4 192.3a0.85 0.85 0 1 0 1.7 0a0.85 0.85 0 1 0 -1.7 0" fill="#1e1e1e"/>
<path d="M97.2 191.3a0.85 0.85 0 1 0 1.7 0a0.85 0.85 0 1 0 -1.7 0" fill="#f0901c"/>
<path d="M107.0 190.6a0.85 0.85 0 1 0 1.7 0a0.85 0.85 0 1 0 -1.7 0M105.3 223.9a0.85 0.85 0 1 0 1.7 0a0.85 0.85 0 1 0 -1.7 0" fill="#1e1e1e"/>
<polygon points="104,193.5 111,193.0 111,218.0 104,216.5 102.5,211.0 110.2,206.3 101.5,199.5 103,196.0" fill="#f0901c"/>
<path d="M105.1 216.8a0.85 0.85 0 1 0 1.7 0a0.85 0.85 0 1 0 -1.7 0" fill="#34497a"/>
<path d="M109.3 219.1a0.85 0.85 0 1 0 1.7 0a0.85 0.85 0 1 0 -1.7 0" fill="#1e1e1e"/>
<path d="M103.0 221.0a0.85 0.85 0 1 0 1.7 0a0.85 0.85 0 1 0 -1.7 0" fill="#8a8a8a"/>
<path d="M99.3 215.8a0.85 0.85 0 1 0 1.7 0a0.85 0.85 0 1 0 -1.7 0M108.9 220.7a0.85 0.85 0 1 0 1.7 0a0.85 0.85 0 1 0 -1.7 0" fill="#1e1e1e"/>
<path d="M106.9 195.8a0.85 0.85 0 1 0 1.7 0a0.85 0.85 0 1 0 -1.7 0" fill="#8a8a8a"/>
<path d="M102.5 217.0a0.85 0.85 0 1 0 1.7 0a0.85 0.85 0 1 0 -1.7 0" fill="#1e1e1e"/>
<path d="M107.8 194.1a0.85 0.85 0 1 0 1.7 0a0.85 0.85 0 1 0 -1.7 0" fill="#34497a"/>
<path d="M100.5 196.1a0.85 0.85 0 1 0 1.7 0a0.85 0.85 0 1 0 -1.7 0" fill="#1e1e1e"/>
<path d="M107.5 221.1a0.85 0.85 0 1 0 1.7 0a0.85 0.85 0 1 0 -1.7 0M106.2 194.6a0.85 0.85 0 1 0 1.7 0a0.85 0.85 0 1 0 -1.7 0" fill="#8a8a8a"/>
<path d="M105.0 191.0a0.85 0.85 0 1 0 1.7 0a0.85 0.85 0 1 0 -1.7 0" fill="#1e1e1e"/>
<path d="M104.8 191.9a0.85 0.85 0 1 0 1.7 0a0.85 0.85 0 1 0 -1.7 0" fill="#34497a"/>
<path d="M100.8 192.7a0.85 0.85 0 1 0 1.7 0a0.85 0.85 0 1 0 -1.7 0M102.0 196.5a0.85 0.85 0 1 0 1.7 0a0.85 0.85 0 1 0 -1.7 0M101.7 221.3a0.85 0.85 0 1 0 1.7 0a0.85 0.85 0 1 0 -1.7 0M107.5 218.0a0.85 0.85 0 1 0 1.7 0a0.85 0.85 0 1 0 -1.7 0M103.4 195.3a0.85 0.85 0 1 0 1.7 0a0.85 0.85 0 1 0 -1.7 0M104.3 196.7a0.85 0.85 0 1 0 1.7 0a0.85 0.85 0 1 0 -1.7 0" fill="#1e1e1e"/>
<path d="M99.0 216.9a0.85 0.85 0 1 0 1.7 0a0.85 0.85 0 1 0 -1.7 0" fill="#34497a"/>
<path d="M105.0 217.6a0.85 0.85 0 1 0 1.7 0a0.85 0.85 0 1 0 -1.7 0M103.2 191.5a0.85 0.85 0 1 0 1.7 0a0.85 0.85 0 1 0 -1.7 0M107.4 218.6a0.85 0.85 0 1 0 1.7 0a0.85 0.85 0 1 0 -1.7 0M98.3 219.4a0.85 0.85 0 1 0 1.7 0a0.85 0.85 0 1 0 -1.7 0M99.3 191.7a0.85 0.85 0 1 0 1.7 0a0.85 0.85 0 1 0 -1.7 0M100.0 220.1a0.85 0.85 0 1 0 1.7 0a0.85 0.85 0 1 0 -1.7 0M109.1 220.5a0.85 0.85 0 1 0 1.7 0a0.85 0.85 0 1 0 -1.7 0" fill="#1e1e1e"/>
<path d="M108.4 191.5a0.85 0.85 0 1 0 1.7 0a0.85 0.85 0 1 0 -1.7 0" fill="#34497a"/>
<path d="M103.4 199.8a0.85 0.85 0 1 0 1.7 0a0.85 0.85 0 1 0 -1.7 0M104.2 198.4a0.85 0.85 0 1 0 1.7 0a0.85 0.85 0 1 0 -1.7 0M106.8 204.8a0.85 0.85 0 1 0 1.7 0a0.85 0.85 0 1 0 -1.7 0M103.8 200.0a0.85 0.85 0 1 0 1.7 0a0.85 0.85 0 1 0 -1.7 0M104.9 215.0a0.85 0.85 0 1 0 1.7 0a0.85 0.85 0 1 0 -1.7 0M107.4 210.2a0.85 0.85 0 1 0 1.7 0a0.85 0.85 0 1 0 -1.7 0M109.3 214.8a0.85 0.85 0 1 0 1.7 0a0.85 0.85 0 1 0 -1.7 0M104.7 213.1a0.85 0.85 0 1 0 1.7 0a0.85 0.85 0 1 0 -1.7 0" fill="#1e1e1e"/>
<rect x="45.7" y="141" width="65.6" height="131.3" fill="none" stroke="#2a2a2a" stroke-width="1"/>
<line x1="42.7" y1="145.70000000000002" x2="45.7" y2="145.70000000000002" stroke="#2a2a2a" stroke-width="0.8"/>
<text x="40.2" y="148.50000000000003" font-size="8" text-anchor="end" fill="#2a2a2a">6</text>
<line x1="42.7" y1="176.0" x2="45.7" y2="176.0" stroke="#2a2a2a" stroke-width="0.8"/>
<text x="40.2" y="178.8" font-size="8" text-anchor="end" fill="#2a2a2a">3</text>
<line x1="42.7" y1="206.3" x2="45.7" y2="206.3" stroke="#2a2a2a" stroke-width="0.8"/>
<text x="40.2" y="209.10000000000002" font-size="8" text-anchor="end" fill="#2a2a2a">0</text>
<line x1="42.7" y1="236.60000000000002" x2="45.7" y2="236.60000000000002" stroke="#2a2a2a" stroke-width="0.8"/>
<text x="40.2" y="239.40000000000003" font-size="8" text-anchor="end" fill="#2a2a2a">−3</text>
<line x1="42.7" y1="266.9" x2="45.7" y2="266.9" stroke="#2a2a2a" stroke-width="0.8"/>
<text x="40.2" y="269.7" font-size="8" text-anchor="end" fill="#2a2a2a">−6</text>
<line x1="45.900000000000006" y1="272.3" x2="45.900000000000006" y2="275.3" stroke="#2a2a2a" stroke-width="0.8"/>
<text x="45.900000000000006" y="285.3" font-size="8" text-anchor="middle" fill="#2a2a2a">200</text>
<line x1="78.15" y1="272.3" x2="78.15" y2="275.3" stroke="#2a2a2a" stroke-width="0.8"/>
<text x="78.15" y="285.3" font-size="8" text-anchor="middle" fill="#2a2a2a">100</text>
<line x1="110.4" y1="272.3" x2="110.4" y2="275.3" stroke="#2a2a2a" stroke-width="0.8"/>
<text x="110.4" y="285.3" font-size="8" text-anchor="middle" fill="#2a2a2a">0</text>
<text x="25" y="206.65" font-size="7.2" font-weight="bold" text-anchor="middle" fill="#2a2a2a" transform="rotate(-90 25 206.65)" textLength="47" lengthAdjust="spacingAndGlyphs">log2 (fold change)</text>
<text x="78.5" y="297.1" font-size="7.2" font-weight="bold" text-anchor="middle" fill="#2a2a2a" textLength="37.5" lengthAdjust="spacingAndGlyphs">-log<tspan font-size="4.4" dy="1.4">10</tspan><tspan dy="-1.4">(</tspan><tspan font-style="italic">P</tspan>-value)</text>
<line x1="127.4" y1="196.20000000000002" x2="258.5" y2="196.20000000000002" stroke="#dcdcdc" stroke-width="0.7"/>
<line x1="127.4" y1="216.4" x2="258.5" y2="216.4" stroke="#dcdcdc" stroke-width="0.7"/>
<line x1="188.9" y1="141" x2="188.9" y2="272.3" stroke="#dcdcdc" stroke-width="0.7"/>
<line x1="197.1" y1="141" x2="197.1" y2="272.3" stroke="#dcdcdc" stroke-width="0.7"/>
<path d="M235.8 160.0a0.85 0.85 0 1 0 1.7 0a0.85 0.85 0 1 0 -1.7 0" fill="#f0901c"/>
<path d="M207.6 191.8a0.85 0.85 0 1 0 1.7 0a0.85 0.85 0 1 0 -1.7 0M208.6 242.6a0.85 0.85 0 1 0 1.7 0a0.85 0.85 0 1 0 -1.7 0M203.3 195.1a0.85 0.85 0 1 0 1.7 0a0.85 0.85 0 1 0 -1.7 0M216.9 189.6a0.85 0.85 0 1 0 1.7 0a0.85 0.85 0 1 0 -1.7 0M204.6 228.3a0.85 0.85 0 1 0 1.7 0a0.85 0.85 0 1 0 -1.7 0" fill="#1e1e1e"/>
<path d="M168.8 219.1a0.85 0.85 0 1 0 1.7 0a0.85 0.85 0 1 0 -1.7 0" fill="#f0901c"/>
<path d="M202.8 218.5a0.85 0.85 0 1 0 1.7 0a0.85 0.85 0 1 0 -1.7 0" fill="#34497a"/>
<path d="M199.0 190.3a0.85 0.85 0 1 0 1.7 0a0.85 0.85 0 1 0 -1.7 0M187.4 217.1a0.85 0.85 0 1 0 1.7 0a0.85 0.85 0 1 0 -1.7 0M201.7 191.5a0.85 0.85 0 1 0 1.7 0a0.85 0.85 0 1 0 -1.7 0M227.7 250.4a0.85 0.85 0 1 0 1.7 0a0.85 0.85 0 1 0 -1.7 0M200.0 217.6a0.85 0.85 0 1 0 1.7 0a0.85 0.85 0 1 0 -1.7 0M209.7 169.8a0.85 0.85 0 1 0 1.7 0a0.85 0.85 0 1 0 -1.7 0M216.0 187.6a0.85 0.85 0 1 0 1.7 0a0.85 0.85 0 1 0 -1.7 0M214.5 168.7a0.85 0.85 0 1 0 1.7 0a0.85 0.85 0 1 0 -1.7 0M166.3 217.0a0.85 0.85 0 1 0 1.7 0a0.85 0.85 0 1 0 -1.7 0" fill="#1e1e1e"/>
<path d="M184.2 217.6a0.85 0.85 0 1 0 1.7 0a0.85 0.85 0 1 0 -1.7 0" fill="#f0901c"/>
<path d="M181.9 219.5a0.85 0.85 0 1 0 1.7 0a0.85 0.85 0 1 0 -1.7 0M173.3 223.5a0.85 0.85 0 1 0 1.7 0a0.85 0.85 0 1 0 -1.7 0M202.2 186.4a0.85 0.85 0 1 0 1.7 0a0.85 0.85 0 1 0 -1.7 0M203.8 189.7a0.85 0.85 0 1 0 1.7 0a0.85 0.85 0 1 0 -1.7 0M202.8 216.9a0.85 0.85 0 1 0 1.7 0a0.85 0.85 0 1 0 -1.7 0M202.0 228.1a0.85 0.85 0 1 0 1.7 0a0.85 0.85 0 1 0 -1.7 0" fill="#1e1e1e"/>
<path d="M207.7 243.3a0.85 0.85 0 1 0 1.7 0a0.85 0.85 0 1 0 -1.7 0" fill="#34497a"/>
<path d="M177.5 223.4a0.85 0.85 0 1 0 1.7 0a0.85 0.85 0 1 0 -1.7 0M180.8 238.3a0.85 0.85 0 1 0 1.7 0a0.85 0.85 0 1 0 -1.7 0M207.9 218.0a0.85 0.85 0 1 0 1.7 0a0.85 0.85 0 1 0 -1.7 0M206.4 217.6a0.85 0.85 0 1 0 1.7 0a0.85 0.85 0 1 0 -1.7 0" fill="#1e1e1e"/>
<path d="M181.7 222.1a0.85 0.85 0 1 0 1.7 0a0.85 0.85 0 1 0 -1.7 0" fill="#f0901c"/>
<path d="M219.7 166.1a0.85 0.85 0 1 0 1.7 0a0.85 0.85 0 1 0 -1.7 0" fill="#1e1e1e"/>
<path d="M206.1 189.7a0.85 0.85 0 1 0 1.7 0a0.85 0.85 0 1 0 -1.7 0" fill="#f0901c"/>
<path d="M207.7 193.2a0.85 0.85 0 1 0 1.7 0a0.85 0.85 0 1 0 -1.7 0M202.4 194.8a0.85 0.85 0 1 0 1.7 0a0.85 0.85 0 1 0 -1.7 0M203.1 190.8a0.85 0.85 0 1 0 1.7 0a0.85 0.85 0 1 0 -1.7 0M202.5 186.1a0.85 0.85 0 1 0 1.7 0a0.85 0.85 0 1 0 -1.7 0M183.7 222.1a0.85 0.85 0 1 0 1.7 0a0.85 0.85 0 1 0 -1.7 0M217.1 195.7a0.85 0.85 0 1 0 1.7 0a0.85 0.85 0 1 0 -1.7 0" fill="#1e1e1e"/>
<path d="M169.3 217.7a0.85 0.85 0 1 0 1.7 0a0.85 0.85 0 1 0 -1.7 0" fill="#8a8a8a"/>
<path d="M209.0 194.6a0.85 0.85 0 1 0 1.7 0a0.85 0.85 0 1 0 -1.7 0" fill="#f0901c"/>
<path d="M244.5 153.8a0.85 0.85 0 1 0 1.7 0a0.85 0.85 0 1 0 -1.7 0M178.2 220.4a0.85 0.85 0 1 0 1.7 0a0.85 0.85 0 1 0 -1.7 0M204.0 221.2a0.85 0.85 0 1 0 1.7 0a0.85 0.85 0 1 0 -1.7 0M170.9 217.0a0.85 0.85 0 1 0 1.7 0a0.85 0.85 0 1 0 -1.7 0" fill="#1e1e1e"/>
<path d="M209.8 190.4a0.85 0.85 0 1 0 1.7 0a0.85 0.85 0 1 0 -1.7 0" fill="#f0901c"/>
<path d="M206.8 218.8a0.85 0.85 0 1 0 1.7 0a0.85 0.85 0 1 0 -1.7 0M204.3 193.9a0.85 0.85 0 1 0 1.7 0a0.85 0.85 0 1 0 -1.7 0M209.0 195.8a0.85 0.85 0 1 0 1.7 0a0.85 0.85 0 1 0 -1.7 0M174.4 217.1a0.85 0.85 0 1 0 1.7 0a0.85 0.85 0 1 0 -1.7 0" fill="#1e1e1e"/>
<path d="M219.0 169.3a0.85 0.85 0 1 0 1.7 0a0.85 0.85 0 1 0 -1.7 0" fill="#f0901c"/>
<path d="M201.3 219.7a0.85 0.85 0 1 0 1.7 0a0.85 0.85 0 1 0 -1.7 0M240.9 165.1a0.85 0.85 0 1 0 1.7 0a0.85 0.85 0 1 0 -1.7 0M239.7 171.1a0.85 0.85 0 1 0 1.7 0a0.85 0.85 0 1 0 -1.7 0" fill="#1e1e1e"/>
<path d="M165.5 219.3a0.85 0.85 0 1 0 1.7 0a0.85 0.85 0 1 0 -1.7 0" fill="#8a8a8a"/>
<path d="M201.6 221.0a0.85 0.85 0 1 0 1.7 0a0.85 0.85 0 1 0 -1.7 0" fill="#34497a"/>
<path d="M173.9 222.0a0.85 0.85 0 1 0 1.7 0a0.85 0.85 0 1 0 -1.7 0" fill="#f0901c"/>
<path d="M148.4 223.3a0.85 0.85 0 1 0 1.7 0a0.85 0.85 0 1 0 -1.7 0" fill="#1e1e1e"/>
<path d="M169.5 216.8a0.85 0.85 0 1 0 1.7 0a0.85 0.85 0 1 0 -1.7 0" fill="#f0901c"/>
<path d="M207.6 195.8a0.85 0.85 0 1 0 1.7 0a0.85 0.85 0 1 0 -1.7 0M220.9 217.4a0.85 0.85 0 1 0 1.7 0a0.85 0.85 0 1 0 -1.7 0M187.3 222.0a0.85 0.85 0 1 0 1.7 0a0.85 0.85 0 1 0 -1.7 0" fill="#1e1e1e"/>
<path d="M169.1 221.2a0.85 0.85 0 1 0 1.7 0a0.85 0.85 0 1 0 -1.7 0" fill="#f0901c"/>
<path d="M201.3 219.3a0.85 0.85 0 1 0 1.7 0a0.85 0.85 0 1 0 -1.7 0" fill="#1e1e1e"/>
<path d="M212.2 224.5a0.85 0.85 0 1 0 1.7 0a0.85 0.85 0 1 0 -1.7 0" fill="#f0901c"/>
<path d="M200.4 194.2a0.85 0.85 0 1 0 1.7 0a0.85 0.85 0 1 0 -1.7 0M201.1 191.1a0.85 0.85 0 1 0 1.7 0a0.85 0.85 0 1 0 -1.7 0M208.5 175.2a0.85 0.85 0 1 0 1.7 0a0.85 0.85 0 1 0 -1.7 0M201.7 218.4a0.85 0.85 0 1 0 1.7 0a0.85 0.85 0 1 0 -1.7 0M181.8 219.9a0.85 0.85 0 1 0 1.7 0a0.85 0.85 0 1 0 -1.7 0M216.5 222.4a0.85 0.85 0 1 0 1.7 0a0.85 0.85 0 1 0 -1.7 0M219.0 165.9a0.85 0.85 0 1 0 1.7 0a0.85 0.85 0 1 0 -1.7 0M173.6 217.0a0.85 0.85 0 1 0 1.7 0a0.85 0.85 0 1 0 -1.7 0" fill="#1e1e1e"/>
<path d="M172.7 218.5a0.85 0.85 0 1 0 1.7 0a0.85 0.85 0 1 0 -1.7 0" fill="#8a8a8a"/>
<path d="M204.1 223.0a0.85 0.85 0 1 0 1.7 0a0.85 0.85 0 1 0 -1.7 0" fill="#1e1e1e"/>
<path d="M156.1 227.4a0.85 0.85 0 1 0 1.7 0a0.85 0.85 0 1 0 -1.7 0" fill="#8a8a8a"/>
<path d="M199.4 195.0a0.85 0.85 0 1 0 1.7 0a0.85 0.85 0 1 0 -1.7 0" fill="#f0901c"/>
<path d="M205.2 224.0a0.85 0.85 0 1 0 1.7 0a0.85 0.85 0 1 0 -1.7 0" fill="#8a8a8a"/>
<path d="M203.5 182.8a0.85 0.85 0 1 0 1.7 0a0.85 0.85 0 1 0 -1.7 0" fill="#1e1e1e"/>
<path d="M171.7 220.1a0.85 0.85 0 1 0 1.7 0a0.85 0.85 0 1 0 -1.7 0" fill="#f0901c"/>
<path d="M189.3 236.0a0.85 0.85 0 1 0 1.7 0a0.85 0.85 0 1 0 -1.7 0M203.2 254.6a0.85 0.85 0 1 0 1.7 0a0.85 0.85 0 1 0 -1.7 0M173.1 220.9a0.85 0.85 0 1 0 1.7 0a0.85 0.85 0 1 0 -1.7 0M204.1 226.9a0.85 0.85 0 1 0 1.7 0a0.85 0.85 0 1 0 -1.7 0M196.7 219.8a0.85 0.85 0 1 0 1.7 0a0.85 0.85 0 1 0 -1.7 0" fill="#1e1e1e"/>
<path d="M197.7 190.0a0.85 0.85 0 1 0 1.7 0a0.85 0.85 0 1 0 -1.7 0" fill="#f0901c"/>
<path d="M215.3 218.7a0.85 0.85 0 1 0 1.7 0a0.85 0.85 0 1 0 -1.7 0M212.9 216.9a0.85 0.85 0 1 0 1.7 0a0.85 0.85 0 1 0 -1.7 0M252.2 146.0a0.85 0.85 0 1 0 1.7 0a0.85 0.85 0 1 0 -1.7 0M178.6 217.7a0.85 0.85 0 1 0 1.7 0a0.85 0.85 0 1 0 -1.7 0" fill="#1e1e1e"/>
<path d="M182.7 253.6a0.85 0.85 0 1 0 1.7 0a0.85 0.85 0 1 0 -1.7 0" fill="#f0901c"/>
<path d="M208.1 224.8a0.85 0.85 0 1 0 1.7 0a0.85 0.85 0 1 0 -1.7 0" fill="#8a8a8a"/>
<path d="M203.1 183.1a0.85 0.85 0 1 0 1.7 0a0.85 0.85 0 1 0 -1.7 0M206.6 225.5a0.85 0.85 0 1 0 1.7 0a0.85 0.85 0 1 0 -1.7 0M155.0 220.5a0.85 0.85 0 1 0 1.7 0a0.85 0.85 0 1 0 -1.7 0" fill="#1e1e1e"/>
<path d="M165.5 219.2a0.85 0.85 0 1 0 1.7 0a0.85 0.85 0 1 0 -1.7 0" fill="#8a8a8a"/>
<path d="M201.6 220.6a0.85 0.85 0 1 0 1.7 0a0.85 0.85 0 1 0 -1.7 0" fill="#f0901c"/>
<path d="M197.2 186.3a0.85 0.85 0 1 0 1.7 0a0.85 0.85 0 1 0 -1.7 0M202.8 219.7a0.85 0.85 0 1 0 1.7 0a0.85 0.85 0 1 0 -1.7 0M147.7 226.9a0.85 0.85 0 1 0 1.7 0a0.85 0.85 0 1 0 -1.7 0M208.1 194.8a0.85 0.85 0 1 0 1.7 0a0.85 0.85 0 1 0 -1.7 0" fill="#1e1e1e"/>
<path d="M210.1 192.6a0.85 0.85 0 1 0 1.7 0a0.85 0.85 0 1 0 -1.7 0" fill="#f0901c"/>
<path d="M170.6 218.2a0.85 0.85 0 1 0 1.7 0a0.85 0.85 0 1 0 -1.7 0M197.7 228.9a0.85 0.85 0 1 0 1.7 0a0.85 0.85 0 1 0 -1.7 0M219.0 193.6a0.85 0.85 0 1 0 1.7 0a0.85 0.85 0 1 0 -1.7 0M206.6 194.0a0.85 0.85 0 1 0 1.7 0a0.85 0.85 0 1 0 -1.7 0M168.8 218.0a0.85 0.85 0 1 0 1.7 0a0.85 0.85 0 1 0 -1.7 0M156.9 221.1a0.85 0.85 0 1 0 1.7 0a0.85 0.85 0 1 0 -1.7 0M186.0 217.0a0.85 0.85 0 1 0 1.7 0a0.85 0.85 0 1 0 -1.7 0M184.3 219.8a0.85 0.85 0 1 0 1.7 0a0.85 0.85 0 1 0 -1.7 0M202.4 223.9a0.85 0.85 0 1 0 1.7 0a0.85 0.85 0 1 0 -1.7 0M166.3 224.3a0.85 0.85 0 1 0 1.7 0a0.85 0.85 0 1 0 -1.7 0" fill="#1e1e1e"/>
<path d="M205.6 220.6a0.85 0.85 0 1 0 1.7 0a0.85 0.85 0 1 0 -1.7 0" fill="#8a8a8a"/>
<path d="M200.3 225.5a0.85 0.85 0 1 0 1.7 0a0.85 0.85 0 1 0 -1.7 0M210.6 192.6a0.85 0.85 0 1 0 1.7 0a0.85 0.85 0 1 0 -1.7 0M228.1 160.9a0.85 0.85 0 1 0 1.7 0a0.85 0.85 0 1 0 -1.7 0M178.8 217.1a0.85 0.85 0 1 0 1.7 0a0.85 0.85 0 1 0 -1.7 0" fill="#1e1e1e"/>
<path d="M199.6 190.9a0.85 0.85 0 1 0 1.7 0a0.85 0.85 0 1 0 -1.7 0M151.5 220.1a0.85 0.85 0 1 0 1.7 0a0.85 0.85 0 1 0 -1.7 0M207.4 221.4a0.85 0.85 0 1 0 1.7 0a0.85 0.85 0 1 0 -1.7 0M199.0 229.2a0.85 0.85 0 1 0 1.7 0a0.85 0.85 0 1 0 -1.7 0" fill="#f0901c"/>
<path d="M183.4 217.3a0.85 0.85 0 1 0 1.7 0a0.85 0.85 0 1 0 -1.7 0M208.0 183.7a0.85 0.85 0 1 0 1.7 0a0.85 0.85 0 1 0 -1.7 0M170.0 218.3a0.85 0.85 0 1 0 1.7 0a0.85 0.85 0 1 0 -1.7 0M214.9 191.3a0.85 0.85 0 1 0 1.7 0a0.85 0.85 0 1 0 -1.7 0M181.2 225.7a0.85 0.85 0 1 0 1.7 0a0.85 0.85 0 1 0 -1.7 0" fill="#1e1e1e"/>
<path d="M172.9 220.7a0.85 0.85 0 1 0 1.7 0a0.85 0.85 0 1 0 -1.7 0M167.0 220.5a0.85 0.85 0 1 0 1.7 0a0.85 0.85 0 1 0 -1.7 0M218.5 190.3a0.85 0.85 0 1 0 1.7 0a0.85 0.85 0 1 0 -1.7 0" fill="#f0901c"/>
<path d="M205.6 195.0a0.85 0.85 0 1 0 1.7 0a0.85 0.85 0 1 0 -1.7 0M204.5 216.8a0.85 0.85 0 1 0 1.7 0a0.85 0.85 0 1 0 -1.7 0" fill="#1e1e1e"/>
<path d="M197.2 217.1a0.85 0.85 0 1 0 1.7 0a0.85 0.85 0 1 0 -1.7 0M208.4 181.9a0.85 0.85 0 1 0 1.7 0a0.85 0.85 0 1 0 -1.7 0" fill="#f0901c"/>
<path d="M210.4 185.3a0.85 0.85 0 1 0 1.7 0a0.85 0.85 0 1 0 -1.7 0M202.7 195.7a0.85 0.85 0 1 0 1.7 0a0.85 0.85 0 1 0 -1.7 0M199.2 218.1a0.85 0.85 0 1 0 1.7 0a0.85 0.85 0 1 0 -1.7 0M208.0 218.1a0.85 0.85 0 1 0 1.7 0a0.85 0.85 0 1 0 -1.7 0" fill="#1e1e1e"/>
<path d="M204.2 222.5a0.85 0.85 0 1 0 1.7 0a0.85 0.85 0 1 0 -1.7 0" fill="#f0901c"/>
<path d="M230.5 153.0a0.85 0.85 0 1 0 1.7 0a0.85 0.85 0 1 0 -1.7 0M167.9 224.3a0.85 0.85 0 1 0 1.7 0a0.85 0.85 0 1 0 -1.7 0M179.5 220.1a0.85 0.85 0 1 0 1.7 0a0.85 0.85 0 1 0 -1.7 0" fill="#1e1e1e"/>
<path d="M175.1 217.0a0.85 0.85 0 1 0 1.7 0a0.85 0.85 0 1 0 -1.7 0" fill="#f0901c"/>
<path d="M170.7 225.3a0.85 0.85 0 1 0 1.7 0a0.85 0.85 0 1 0 -1.7 0" fill="#1e1e1e"/>
<path d="M205.7 195.6a0.85 0.85 0 1 0 1.7 0a0.85 0.85 0 1 0 -1.7 0" fill="#f0901c"/>
<path d="M224.3 154.8a0.85 0.85 0 1 0 1.7 0a0.85 0.85 0 1 0 -1.7 0" fill="#34497a"/>
<path d="M202.8 192.9a0.85 0.85 0 1 0 1.7 0a0.85 0.85 0 1 0 -1.7 0" fill="#f0901c"/>
<path d="M153.4 225.9a0.85 0.85 0 1 0 1.7 0a0.85 0.85 0 1 0 -1.7 0M177.3 217.2a0.85 0.85 0 1 0 1.7 0a0.85 0.85 0 1 0 -1.7 0M181.1 222.5a0.85 0.85 0 1 0 1.7 0a0.85 0.85 0 1 0 -1.7 0" fill="#1e1e1e"/>
<path d="M154.2 226.3a0.85 0.85 0 1 0 1.7 0a0.85 0.85 0 1 0 -1.7 0" fill="#f0901c"/>
<path d="M185.9 217.5a0.85 0.85 0 1 0 1.7 0a0.85 0.85 0 1 0 -1.7 0" fill="#1e1e1e"/>
<path d="M183.2 218.9a0.85 0.85 0 1 0 1.7 0a0.85 0.85 0 1 0 -1.7 0" fill="#34497a"/>
<path d="M188.7 233.9a0.85 0.85 0 1 0 1.7 0a0.85 0.85 0 1 0 -1.7 0M229.9 167.6a0.85 0.85 0 1 0 1.7 0a0.85 0.85 0 1 0 -1.7 0" fill="#f0901c"/>
<path d="M220.3 226.9a0.85 0.85 0 1 0 1.7 0a0.85 0.85 0 1 0 -1.7 0M198.7 193.8a0.85 0.85 0 1 0 1.7 0a0.85 0.85 0 1 0 -1.7 0M198.4 195.4a0.85 0.85 0 1 0 1.7 0a0.85 0.85 0 1 0 -1.7 0" fill="#1e1e1e"/>
<path d="M238.4 255.6a0.85 0.85 0 1 0 1.7 0a0.85 0.85 0 1 0 -1.7 0M222.1 233.0a0.85 0.85 0 1 0 1.7 0a0.85 0.85 0 1 0 -1.7 0" fill="#f0901c"/>
<path d="M203.1 190.0a0.85 0.85 0 1 0 1.7 0a0.85 0.85 0 1 0 -1.7 0" fill="#34497a"/>
<path d="M168.6 221.0a0.85 0.85 0 1 0 1.7 0a0.85 0.85 0 1 0 -1.7 0" fill="#f0901c"/>
<path d="M201.0 216.8a0.85 0.85 0 1 0 1.7 0a0.85 0.85 0 1 0 -1.7 0M219.6 181.8a0.85 0.85 0 1 0 1.7 0a0.85 0.85 0 1 0 -1.7 0M196.9 184.6a0.85 0.85 0 1 0 1.7 0a0.85 0.85 0 1 0 -1.7 0M217.2 190.4a0.85 0.85 0 1 0 1.7 0a0.85 0.85 0 1 0 -1.7 0M198.3 218.3a0.85 0.85 0 1 0 1.7 0a0.85 0.85 0 1 0 -1.7 0M180.3 238.4a0.85 0.85 0 1 0 1.7 0a0.85 0.85 0 1 0 -1.7 0M206.7 191.7a0.85 0.85 0 1 0 1.7 0a0.85 0.85 0 1 0 -1.7 0" fill="#1e1e1e"/>
<path d="M160.8 217.9a0.85 0.85 0 1 0 1.7 0a0.85 0.85 0 1 0 -1.7 0" fill="#34497a"/>
<path d="M202.1 195.6a0.85 0.85 0 1 0 1.7 0a0.85 0.85 0 1 0 -1.7 0" fill="#f0901c"/>
<path d="M170.2 217.9a0.85 0.85 0 1 0 1.7 0a0.85 0.85 0 1 0 -1.7 0" fill="#1e1e1e"/>
<path d="M209.7 189.7a0.85 0.85 0 1 0 1.7 0a0.85 0.85 0 1 0 -1.7 0" fill="#f0901c"/>
<path d="M221.2 196.0a0.85 0.85 0 1 0 1.7 0a0.85 0.85 0 1 0 -1.7 0M225.1 162.9a0.85 0.85 0 1 0 1.7 0a0.85 0.85 0 1 0 -1.7 0M215.8 217.3a0.85 0.85 0 1 0 1.7 0a0.85 0.85 0 1 0 -1.7 0M235.5 165.6a0.85 0.85 0 1 0 1.7 0a0.85 0.85 0 1 0 -1.7 0M201.5 192.0a0.85 0.85 0 1 0 1.7 0a0.85 0.85 0 1 0 -1.7 0M218.9 190.9a0.85 0.85 0 1 0 1.7 0a0.85 0.85 0 1 0 -1.7 0M205.6 222.7a0.85 0.85 0 1 0 1.7 0a0.85 0.85 0 1 0 -1.7 0" fill="#1e1e1e"/>
<path d="M207.3 192.1a0.85 0.85 0 1 0 1.7 0a0.85 0.85 0 1 0 -1.7 0M210.6 194.4a0.85 0.85 0 1 0 1.7 0a0.85 0.85 0 1 0 -1.7 0M203.7 192.7a0.85 0.85 0 1 0 1.7 0a0.85 0.85 0 1 0 -1.7 0M204.2 195.0a0.85 0.85 0 1 0 1.7 0a0.85 0.85 0 1 0 -1.7 0M204.7 195.0a0.85 0.85 0 1 0 1.7 0a0.85 0.85 0 1 0 -1.7 0" fill="#f0901c"/>
<path d="M208.8 179.4a0.85 0.85 0 1 0 1.7 0a0.85 0.85 0 1 0 -1.7 0M201.4 185.8a0.85 0.85 0 1 0 1.7 0a0.85 0.85 0 1 0 -1.7 0" fill="#1e1e1e"/>
<path d="M207.0 195.4a0.85 0.85 0 1 0 1.7 0a0.85 0.85 0 1 0 -1.7 0" fill="#f0901c"/>
<path d="M214.9 218.2a0.85 0.85 0 1 0 1.7 0a0.85 0.85 0 1 0 -1.7 0" fill="#1e1e1e"/>
<path d="M206.1 184.8a0.85 0.85 0 1 0 1.7 0a0.85 0.85 0 1 0 -1.7 0" fill="#f0901c"/>
<path d="M206.7 217.5a0.85 0.85 0 1 0 1.7 0a0.85 0.85 0 1 0 -1.7 0M165.1 217.6a0.85 0.85 0 1 0 1.7 0a0.85 0.85 0 1 0 -1.7 0M213.8 193.1a0.85 0.85 0 1 0 1.7 0a0.85 0.85 0 1 0 -1.7 0M226.0 176.5a0.85 0.85 0 1 0 1.7 0a0.85 0.85 0 1 0 -1.7 0" fill="#1e1e1e"/>
<path d="M205.5 188.4a0.85 0.85 0 1 0 1.7 0a0.85 0.85 0 1 0 -1.7 0M207.0 195.9a0.85 0.85 0 1 0 1.7 0a0.85 0.85 0 1 0 -1.7 0" fill="#f0901c"/>
<path d="M239.2 148.0a0.85 0.85 0 1 0 1.7 0a0.85 0.85 0 1 0 -1.7 0M176.6 218.3a0.85 0.85 0 1 0 1.7 0a0.85 0.85 0 1 0 -1.7 0M158.3 218.7a0.85 0.85 0 1 0 1.7 0a0.85 0.85 0 1 0 -1.7 0M166.1 217.4a0.85 0.85 0 1 0 1.7 0a0.85 0.85 0 1 0 -1.7 0M196.9 223.8a0.85 0.85 0 1 0 1.7 0a0.85 0.85 0 1 0 -1.7 0" fill="#1e1e1e"/>
<path d="M181.2 217.8a0.85 0.85 0 1 0 1.7 0a0.85 0.85 0 1 0 -1.7 0M162.6 217.0a0.85 0.85 0 1 0 1.7 0a0.85 0.85 0 1 0 -1.7 0" fill="#f0901c"/>
<path d="M181.0 221.9a0.85 0.85 0 1 0 1.7 0a0.85 0.85 0 1 0 -1.7 0M201.0 194.0a0.85 0.85 0 1 0 1.7 0a0.85 0.85 0 1 0 -1.7 0M218.3 223.1a0.85 0.85 0 1 0 1.7 0a0.85 0.85 0 1 0 -1.7 0" fill="#1e1e1e"/>
<path d="M201.0 223.0a0.85 0.85 0 1 0 1.7 0a0.85 0.85 0 1 0 -1.7 0" fill="#f0901c"/>
<path d="M174.1 240.5a0.85 0.85 0 1 0 1.7 0a0.85 0.85 0 1 0 -1.7 0M187.3 216.9a0.85 0.85 0 1 0 1.7 0a0.85 0.85 0 1 0 -1.7 0" fill="#1e1e1e"/>
<path d="M173.7 224.9a0.85 0.85 0 1 0 1.7 0a0.85 0.85 0 1 0 -1.7 0" fill="#f0901c"/>
<path d="M184.6 220.6a0.85 0.85 0 1 0 1.7 0a0.85 0.85 0 1 0 -1.7 0" fill="#1e1e1e"/>
<path d="M162.4 221.8a0.85 0.85 0 1 0 1.7 0a0.85 0.85 0 1 0 -1.7 0M222.8 193.7a0.85 0.85 0 1 0 1.7 0a0.85 0.85 0 1 0 -1.7 0M197.9 184.2a0.85 0.85 0 1 0 1.7 0a0.85 0.85 0 1 0 -1.7 0M175.3 220.3a0.85 0.85 0 1 0 1.7 0a0.85 0.85 0 1 0 -1.7 0M204.0 195.5a0.85 0.85 0 1 0 1.7 0a0.85 0.85 0 1 0 -1.7 0" fill="#f0901c"/>
<path d="M196.9 217.0a0.85 0.85 0 1 0 1.7 0a0.85 0.85 0 1 0 -1.7 0M179.7 217.0a0.85 0.85 0 1 0 1.7 0a0.85 0.85 0 1 0 -1.7 0M167.0 221.9a0.85 0.85 0 1 0 1.7 0a0.85 0.85 0 1 0 -1.7 0" fill="#1e1e1e"/>
<path d="M199.9 189.2a0.85 0.85 0 1 0 1.7 0a0.85 0.85 0 1 0 -1.7 0M165.0 221.3a0.85 0.85 0 1 0 1.7 0a0.85 0.85 0 1 0 -1.7 0" fill="#f0901c"/>
<path d="M196.8 222.2a0.85 0.85 0 1 0 1.7 0a0.85 0.85 0 1 0 -1.7 0M217.0 219.8a0.85 0.85 0 1 0 1.7 0a0.85 0.85 0 1 0 -1.7 0M211.1 218.2a0.85 0.85 0 1 0 1.7 0a0.85 0.85 0 1 0 -1.7 0M204.1 217.0a0.85 0.85 0 1 0 1.7 0a0.85 0.85 0 1 0 -1.7 0M221.4 247.8a0.85 0.85 0 1 0 1.7 0a0.85 0.85 0 1 0 -1.7 0M207.6 182.2a0.85 0.85 0 1 0 1.7 0a0.85 0.85 0 1 0 -1.7 0" fill="#1e1e1e"/>
<path d="M196.7 218.9a0.85 0.85 0 1 0 1.7 0a0.85 0.85 0 1 0 -1.7 0" fill="#f0901c"/>
<path d="M213.9 193.3a0.85 0.85 0 1 0 1.7 0a0.85 0.85 0 1 0 -1.7 0M203.4 194.6a0.85 0.85 0 1 0 1.7 0a0.85 0.85 0 1 0 -1.7 0M172.3 220.6a0.85 0.85 0 1 0 1.7 0a0.85 0.85 0 1 0 -1.7 0" fill="#1e1e1e"/>
<path d="M222.7 155.5a0.85 0.85 0 1 0 1.7 0a0.85 0.85 0 1 0 -1.7 0" fill="#34497a"/>
<path d="M201.0 217.9a0.85 0.85 0 1 0 1.7 0a0.85 0.85 0 1 0 -1.7 0M203.3 220.6a0.85 0.85 0 1 0 1.7 0a0.85 0.85 0 1 0 -1.7 0" fill="#1e1e1e"/>
<path d="M203.8 191.5a0.85 0.85 0 1 0 1.7 0a0.85 0.85 0 1 0 -1.7 0M159.0 222.2a0.85 0.85 0 1 0 1.7 0a0.85 0.85 0 1 0 -1.7 0" fill="#f0901c"/>
<path d="M213.7 161.5a0.85 0.85 0 1 0 1.7 0a0.85 0.85 0 1 0 -1.7 0" fill="#1e1e1e"/>
<path d="M206.0 193.5a0.85 0.85 0 1 0 1.7 0a0.85 0.85 0 1 0 -1.7 0M174.1 224.0a0.85 0.85 0 1 0 1.7 0a0.85 0.85 0 1 0 -1.7 0" fill="#f0901c"/>
<path d="M186.3 221.1a0.85 0.85 0 1 0 1.7 0a0.85 0.85 0 1 0 -1.7 0" fill="#1e1e1e"/>
<path d="M211.8 195.7a0.85 0.85 0 1 0 1.7 0a0.85 0.85 0 1 0 -1.7 0M184.7 218.0a0.85 0.85 0 1 0 1.7 0a0.85 0.85 0 1 0 -1.7 0M223.5 152.2a0.85 0.85 0 1 0 1.7 0a0.85 0.85 0 1 0 -1.7 0" fill="#f0901c"/>
<path d="M207.9 190.4a0.85 0.85 0 1 0 1.7 0a0.85 0.85 0 1 0 -1.7 0M202.7 189.1a0.85 0.85 0 1 0 1.7 0a0.85 0.85 0 1 0 -1.7 0" fill="#1e1e1e"/>
<path d="M225.6 173.2a0.85 0.85 0 1 0 1.7 0a0.85 0.85 0 1 0 -1.7 0" fill="#34497a"/>
<path d="M183.8 219.0a0.85 0.85 0 1 0 1.7 0a0.85 0.85 0 1 0 -1.7 0" fill="#f0901c"/>
<path d="M205.8 218.6a0.85 0.85 0 1 0 1.7 0a0.85 0.85 0 1 0 -1.7 0" fill="#34497a"/>
<path d="M179.8 224.0a0.85 0.85 0 1 0 1.7 0a0.85 0.85 0 1 0 -1.7 0" fill="#1e1e1e"/>
<path d="M207.5 217.3a0.85 0.85 0 1 0 1.7 0a0.85 0.85 0 1 0 -1.7 0" fill="#8a8a8a"/>
<path d="M201.6 220.7a0.85 0.85 0 1 0 1.7 0a0.85 0.85 0 1 0 -1.7 0M200.5 218.2a0.85 0.85 0 1 0 1.7 0a0.85 0.85 0 1 0 -1.7 0M212.3 231.6a0.85 0.85 0 1 0 1.7 0a0.85 0.85 0 1 0 -1.7 0M201.1 191.2a0.85 0.85 0 1 0 1.7 0a0.85 0.85 0 1 0 -1.7 0M209.9 180.7a0.85 0.85 0 1 0 1.7 0a0.85 0.85 0 1 0 -1.7 0" fill="#1e1e1e"/>
<path d="M185.2 223.3a0.85 0.85 0 1 0 1.7 0a0.85 0.85 0 1 0 -1.7 0" fill="#f0901c"/>
<path d="M201.6 194.7a0.85 0.85 0 1 0 1.7 0a0.85 0.85 0 1 0 -1.7 0" fill="#34497a"/>
<path d="M199.3 196.0a0.85 0.85 0 1 0 1.7 0a0.85 0.85 0 1 0 -1.7 0M200.4 184.9a0.85 0.85 0 1 0 1.7 0a0.85 0.85 0 1 0 -1.7 0" fill="#f0901c"/>
<path d="M176.9 221.1a0.85 0.85 0 1 0 1.7 0a0.85 0.85 0 1 0 -1.7 0M210.3 193.2a0.85 0.85 0 1 0 1.7 0a0.85 0.85 0 1 0 -1.7 0M198.7 188.4a0.85 0.85 0 1 0 1.7 0a0.85 0.85 0 1 0 -1.7 0M182.4 217.6a0.85 0.85 0 1 0 1.7 0a0.85 0.85 0 1 0 -1.7 0M213.5 196.0a0.85 0.85 0 1 0 1.7 0a0.85 0.85 0 1 0 -1.7 0M210.1 223.5a0.85 0.85 0 1 0 1.7 0a0.85 0.85 0 1 0 -1.7 0M223.6 175.6a0.85 0.85 0 1 0 1.7 0a0.85 0.85 0 1 0 -1.7 0M207.4 192.1a0.85 0.85 0 1 0 1.7 0a0.85 0.85 0 1 0 -1.7 0M224.7 167.9a0.85 0.85 0 1 0 1.7 0a0.85 0.85 0 1 0 -1.7 0M169.5 222.5a0.85 0.85 0 1 0 1.7 0a0.85 0.85 0 1 0 -1.7 0M180.4 216.9a0.85 0.85 0 1 0 1.7 0a0.85 0.85 0 1 0 -1.7 0" fill="#1e1e1e"/>
<path d="M208.0 220.9a0.85 0.85 0 1 0 1.7 0a0.85 0.85 0 1 0 -1.7 0M217.2 193.9a0.85 0.85 0 1 0 1.7 0a0.85 0.85 0 1 0 -1.7 0" fill="#8a8a8a"/>
<path d="M209.4 219.7a0.85 0.85 0 1 0 1.7 0a0.85 0.85 0 1 0 -1.7 0" fill="#f0901c"/>
<path d="M200.8 220.7a0.85 0.85 0 1 0 1.7 0a0.85 0.85 0 1 0 -1.7 0M197.1 195.1a0.85 0.85 0 1 0 1.7 0a0.85 0.85 0 1 0 -1.7 0" fill="#1e1e1e"/>
<path d="M200.5 217.8a0.85 0.85 0 1 0 1.7 0a0.85 0.85 0 1 0 -1.7 0" fill="#f0901c"/>
<path d="M203.8 217.0a0.85 0.85 0 1 0 1.7 0a0.85 0.85 0 1 0 -1.7 0" fill="#1e1e1e"/>
<path d="M204.1 228.2a0.85 0.85 0 1 0 1.7 0a0.85 0.85 0 1 0 -1.7 0M221.3 192.1a0.85 0.85 0 1 0 1.7 0a0.85 0.85 0 1 0 -1.7 0M203.0 185.1a0.85 0.85 0 1 0 1.7 0a0.85 0.85 0 1 0 -1.7 0M198.3 193.0a0.85 0.85 0 1 0 1.7 0a0.85 0.85 0 1 0 -1.7 0" fill="#f0901c"/>
<path d="M169.3 218.5a0.85 0.85 0 1 0 1.7 0a0.85 0.85 0 1 0 -1.7 0" fill="#34497a"/>
<path d="M218.9 194.8a0.85 0.85 0 1 0 1.7 0a0.85 0.85 0 1 0 -1.7 0M229.3 235.2a0.85 0.85 0 1 0 1.7 0a0.85 0.85 0 1 0 -1.7 0" fill="#1e1e1e"/>
<path d="M212.9 195.0a0.85 0.85 0 1 0 1.7 0a0.85 0.85 0 1 0 -1.7 0" fill="#f0901c"/>
<path d="M200.5 219.9a0.85 0.85 0 1 0 1.7 0a0.85 0.85 0 1 0 -1.7 0" fill="#1e1e1e"/>
<path d="M174.2 221.1a0.85 0.85 0 1 0 1.7 0a0.85 0.85 0 1 0 -1.7 0" fill="#f0901c"/>
<path d="M205.6 192.7a0.85 0.85 0 1 0 1.7 0a0.85 0.85 0 1 0 -1.7 0M185.2 220.6a0.85 0.85 0 1 0 1.7 0a0.85 0.85 0 1 0 -1.7 0M169.9 223.4a0.85 0.85 0 1 0 1.7 0a0.85 0.85 0 1 0 -1.7 0" fill="#1e1e1e"/>
<path d="M151.3 226.7a0.85 0.85 0 1 0 1.7 0a0.85 0.85 0 1 0 -1.7 0M162.7 220.5a0.85 0.85 0 1 0 1.7 0a0.85 0.85 0 1 0 -1.7 0" fill="#f0901c"/>
<path d="M212.4 183.5a0.85 0.85 0 1 0 1.7 0a0.85 0.85 0 1 0 -1.7 0" fill="#34497a"/>
<path d="M203.6 217.6a0.85 0.85 0 1 0 1.7 0a0.85 0.85 0 1 0 -1.7 0M201.0 194.5a0.85 0.85 0 1 0 1.7 0a0.85 0.85 0 1 0 -1.7 0" fill="#1e1e1e"/>
<path d="M165.8 223.2a0.85 0.85 0 1 0 1.7 0a0.85 0.85 0 1 0 -1.7 0M201.8 194.1a0.85 0.85 0 1 0 1.7 0a0.85 0.85 0 1 0 -1.7 0" fill="#f0901c"/>
<path d="M192.0 236.5a0.85 0.85 0 1 0 1.7 0a0.85 0.85 0 1 0 -1.7 0M179.6 222.3a0.85 0.85 0 1 0 1.7 0a0.85 0.85 0 1 0 -1.7 0" fill="#1e1e1e"/>
<path d="M209.1 219.7a0.85 0.85 0 1 0 1.7 0a0.85 0.85 0 1 0 -1.7 0" fill="#f0901c"/>
<path d="M178.0 219.7a0.85 0.85 0 1 0 1.7 0a0.85 0.85 0 1 0 -1.7 0M177.6 221.1a0.85 0.85 0 1 0 1.7 0a0.85 0.85 0 1 0 -1.7 0M199.2 217.5a0.85 0.85 0 1 0 1.7 0a0.85 0.85 0 1 0 -1.7 0M180.3 223.1a0.85 0.85 0 1 0 1.7 0a0.85 0.85 0 1 0 -1.7 0M198.8 216.9a0.85 0.85 0 1 0 1.7 0a0.85 0.85 0 1 0 -1.7 0" fill="#1e1e1e"/>
<path d="M201.3 187.9a0.85 0.85 0 1 0 1.7 0a0.85 0.85 0 1 0 -1.7 0M200.8 222.3a0.85 0.85 0 1 0 1.7 0a0.85 0.85 0 1 0 -1.7 0" fill="#f0901c"/>
<path d="M212.4 191.4a0.85 0.85 0 1 0 1.7 0a0.85 0.85 0 1 0 -1.7 0M201.6 222.7a0.85 0.85 0 1 0 1.7 0a0.85 0.85 0 1 0 -1.7 0" fill="#1e1e1e"/>
<path d="M215.6 221.8a0.85 0.85 0 1 0 1.7 0a0.85 0.85 0 1 0 -1.7 0" fill="#8a8a8a"/>
<path d="M212.0 193.0a0.85 0.85 0 1 0 1.7 0a0.85 0.85 0 1 0 -1.7 0M226.6 245.0a0.85 0.85 0 1 0 1.7 0a0.85 0.85 0 1 0 -1.7 0M172.2 258.0a0.85 0.85 0 1 0 1.7 0a0.85 0.85 0 1 0 -1.7 0" fill="#1e1e1e"/>
<path d="M177.0 221.5a0.85 0.85 0 1 0 1.7 0a0.85 0.85 0 1 0 -1.7 0" fill="#f0901c"/>
<path d="M203.6 221.5a0.85 0.85 0 1 0 1.7 0a0.85 0.85 0 1 0 -1.7 0" fill="#1e1e1e"/>
<path d="M226.5 165.1a0.85 0.85 0 1 0 1.7 0a0.85 0.85 0 1 0 -1.7 0" fill="#34497a"/>
<path d="M164.9 223.7a0.85 0.85 0 1 0 1.7 0a0.85 0.85 0 1 0 -1.7 0" fill="#1e1e1e"/>
<path d="M212.4 220.0a0.85 0.85 0 1 0 1.7 0a0.85 0.85 0 1 0 -1.7 0" fill="#8a8a8a"/>
<path d="M200.5 191.1a0.85 0.85 0 1 0 1.7 0a0.85 0.85 0 1 0 -1.7 0" fill="#f0901c"/>
<path d="M214.8 194.0a0.85 0.85 0 1 0 1.7 0a0.85 0.85 0 1 0 -1.7 0M199.8 224.9a0.85 0.85 0 1 0 1.7 0a0.85 0.85 0 1 0 -1.7 0M204.1 194.5a0.85 0.85 0 1 0 1.7 0a0.85 0.85 0 1 0 -1.7 0M200.1 217.2a0.85 0.85 0 1 0 1.7 0a0.85 0.85 0 1 0 -1.7 0" fill="#1e1e1e"/>
<path d="M203.6 216.8a0.85 0.85 0 1 0 1.7 0a0.85 0.85 0 1 0 -1.7 0" fill="#f0901c"/>
<path d="M217.7 163.7a0.85 0.85 0 1 0 1.7 0a0.85 0.85 0 1 0 -1.7 0" fill="#1e1e1e"/>
<path d="M207.5 240.1a0.85 0.85 0 1 0 1.7 0a0.85 0.85 0 1 0 -1.7 0" fill="#8a8a8a"/>
<path d="M200.1 193.9a0.85 0.85 0 1 0 1.7 0a0.85 0.85 0 1 0 -1.7 0" fill="#1e1e1e"/>
<path d="M166.9 221.6a0.85 0.85 0 1 0 1.7 0a0.85 0.85 0 1 0 -1.7 0M198.3 218.0a0.85 0.85 0 1 0 1.7 0a0.85 0.85 0 1 0 -1.7 0" fill="#f0901c"/>
<path d="M159.6 218.6a0.85 0.85 0 1 0 1.7 0a0.85 0.85 0 1 0 -1.7 0M184.3 219.0a0.85 0.85 0 1 0 1.7 0a0.85 0.85 0 1 0 -1.7 0M199.5 219.2a0.85 0.85 0 1 0 1.7 0a0.85 0.85 0 1 0 -1.7 0" fill="#1e1e1e"/>
<path d="M199.9 185.2a0.85 0.85 0 1 0 1.7 0a0.85 0.85 0 1 0 -1.7 0" fill="#f0901c"/>
<path d="M221.2 162.9a0.85 0.85 0 1 0 1.7 0a0.85 0.85 0 1 0 -1.7 0M220.8 217.6a0.85 0.85 0 1 0 1.7 0a0.85 0.85 0 1 0 -1.7 0" fill="#1e1e1e"/>
<path d="M198.7 185.6a0.85 0.85 0 1 0 1.7 0a0.85 0.85 0 1 0 -1.7 0" fill="#f0901c"/>
<path d="M238.9 149.6a0.85 0.85 0 1 0 1.7 0a0.85 0.85 0 1 0 -1.7 0M209.8 221.8a0.85 0.85 0 1 0 1.7 0a0.85 0.85 0 1 0 -1.7 0M210.8 187.1a0.85 0.85 0 1 0 1.7 0a0.85 0.85 0 1 0 -1.7 0" fill="#1e1e1e"/>
<path d="M213.4 220.2a0.85 0.85 0 1 0 1.7 0a0.85 0.85 0 1 0 -1.7 0" fill="#f0901c"/>
<path d="M206.3 220.7a0.85 0.85 0 1 0 1.7 0a0.85 0.85 0 1 0 -1.7 0" fill="#1e1e1e"/>
<path d="M179.1 217.3a0.85 0.85 0 1 0 1.7 0a0.85 0.85 0 1 0 -1.7 0M170.3 216.8a0.85 0.85 0 1 0 1.7 0a0.85 0.85 0 1 0 -1.7 0M169.5 220.8a0.85 0.85 0 1 0 1.7 0a0.85 0.85 0 1 0 -1.7 0" fill="#f0901c"/>
<path d="M199.4 195.4a0.85 0.85 0 1 0 1.7 0a0.85 0.85 0 1 0 -1.7 0M207.2 192.1a0.85 0.85 0 1 0 1.7 0a0.85 0.85 0 1 0 -1.7 0" fill="#1e1e1e"/>
<path d="M176.2 220.0a0.85 0.85 0 1 0 1.7 0a0.85 0.85 0 1 0 -1.7 0M199.5 220.7a0.85 0.85 0 1 0 1.7 0a0.85 0.85 0 1 0 -1.7 0" fill="#f0901c"/>
<path d="M206.2 216.8a0.85 0.85 0 1 0 1.7 0a0.85 0.85 0 1 0 -1.7 0" fill="#1e1e1e"/>
<path d="M200.3 190.9a0.85 0.85 0 1 0 1.7 0a0.85 0.85 0 1 0 -1.7 0M176.4 217.4a0.85 0.85 0 1 0 1.7 0a0.85 0.85 0 1 0 -1.7 0" fill="#f0901c"/>
<path d="M240.7 151.9a0.85 0.85 0 1 0 1.7 0a0.85 0.85 0 1 0 -1.7 0" fill="#1e1e1e"/>
<path d="M208.4 225.7a0.85 0.85 0 1 0 1.7 0a0.85 0.85 0 1 0 -1.7 0" fill="#34497a"/>
<path d="M213.4 221.9a0.85 0.85 0 1 0 1.7 0a0.85 0.85 0 1 0 -1.7 0" fill="#f0901c"/>
<path d="M198.5 222.7a0.85 0.85 0 1 0 1.7 0a0.85 0.85 0 1 0 -1.7 0M205.3 221.6a0.85 0.85 0 1 0 1.7 0a0.85 0.85 0 1 0 -1.7 0M197.3 220.8a0.85 0.85 0 1 0 1.7 0a0.85 0.85 0 1 0 -1.7 0" fill="#1e1e1e"/>
<path d="M206.1 176.1a0.85 0.85 0 1 0 1.7 0a0.85 0.85 0 1 0 -1.7 0" fill="#8a8a8a"/>
<path d="M201.4 226.4a0.85 0.85 0 1 0 1.7 0a0.85 0.85 0 1 0 -1.7 0M201.8 229.3a0.85 0.85 0 1 0 1.7 0a0.85 0.85 0 1 0 -1.7 0" fill="#1e1e1e"/>
<path d="M173.4 217.4a0.85 0.85 0 1 0 1.7 0a0.85 0.85 0 1 0 -1.7 0M198.4 188.1a0.85 0.85 0 1 0 1.7 0a0.85 0.85 0 1 0 -1.7 0" fill="#f0901c"/>
<path d="M178.8 223.8a0.85 0.85 0 1 0 1.7 0a0.85 0.85 0 1 0 -1.7 0" fill="#1e1e1e"/>
<path d="M197.7 195.3a0.85 0.85 0 1 0 1.7 0a0.85 0.85 0 1 0 -1.7 0" fill="#8a8a8a"/>
<path d="M204.1 193.9a0.85 0.85 0 1 0 1.7 0a0.85 0.85 0 1 0 -1.7 0" fill="#1e1e1e"/>
<path d="M167.2 221.9a0.85 0.85 0 1 0 1.7 0a0.85 0.85 0 1 0 -1.7 0" fill="#f0901c"/>
<path d="M199.5 228.6a0.85 0.85 0 1 0 1.7 0a0.85 0.85 0 1 0 -1.7 0" fill="#34497a"/>
<path d="M206.9 226.4a0.85 0.85 0 1 0 1.7 0a0.85 0.85 0 1 0 -1.7 0M204.8 189.2a0.85 0.85 0 1 0 1.7 0a0.85 0.85 0 1 0 -1.7 0" fill="#1e1e1e"/>
<path d="M184.0 217.6a0.85 0.85 0 1 0 1.7 0a0.85 0.85 0 1 0 -1.7 0" fill="#8a8a8a"/>
<path d="M200.6 195.8a0.85 0.85 0 1 0 1.7 0a0.85 0.85 0 1 0 -1.7 0M244.2 176.0a0.85 0.85 0 1 0 1.7 0a0.85 0.85 0 1 0 -1.7 0M198.7 223.6a0.85 0.85 0 1 0 1.7 0a0.85 0.85 0 1 0 -1.7 0" fill="#1e1e1e"/>
<path d="M206.5 195.2a0.85 0.85 0 1 0 1.7 0a0.85 0.85 0 1 0 -1.7 0" fill="#f0901c"/>
<path d="M199.8 188.8a0.85 0.85 0 1 0 1.7 0a0.85 0.85 0 1 0 -1.7 0M162.5 220.1a0.85 0.85 0 1 0 1.7 0a0.85 0.85 0 1 0 -1.7 0" fill="#1e1e1e"/>
<path d="M220.7 175.4a0.85 0.85 0 1 0 1.7 0a0.85 0.85 0 1 0 -1.7 0M203.6 220.3a0.85 0.85 0 1 0 1.7 0a0.85 0.85 0 1 0 -1.7 0M213.1 164.0a0.85 0.85 0 1 0 1.7 0a0.85 0.85 0 1 0 -1.7 0" fill="#34497a"/>
<path d="M176.5 220.1a0.85 0.85 0 1 0 1.7 0a0.85 0.85 0 1 0 -1.7 0M212.3 193.0a0.85 0.85 0 1 0 1.7 0a0.85 0.85 0 1 0 -1.7 0" fill="#1e1e1e"/>
<path d="M208.2 192.9a0.85 0.85 0 1 0 1.7 0a0.85 0.85 0 1 0 -1.7 0" fill="#f0901c"/>
<path d="M198.7 193.8a0.85 0.85 0 1 0 1.7 0a0.85 0.85 0 1 0 -1.7 0" fill="#8a8a8a"/>
<path d="M197.7 189.5a0.85 0.85 0 1 0 1.7 0a0.85 0.85 0 1 0 -1.7 0M204.6 194.3a0.85 0.85 0 1 0 1.7 0a0.85 0.85 0 1 0 -1.7 0" fill="#f0901c"/>
<path d="M196.5 226.5a0.85 0.85 0 1 0 1.7 0a0.85 0.85 0 1 0 -1.7 0" fill="#8a8a8a"/>
<path d="M165.3 218.9a0.85 0.85 0 1 0 1.7 0a0.85 0.85 0 1 0 -1.7 0M175.3 223.3a0.85 0.85 0 1 0 1.7 0a0.85 0.85 0 1 0 -1.7 0" fill="#f0901c"/>
<path d="M214.7 222.3a0.85 0.85 0 1 0 1.7 0a0.85 0.85 0 1 0 -1.7 0M202.2 194.3a0.85 0.85 0 1 0 1.7 0a0.85 0.85 0 1 0 -1.7 0" fill="#1e1e1e"/>
<path d="M154.9 225.5a0.85 0.85 0 1 0 1.7 0a0.85 0.85 0 1 0 -1.7 0" fill="#f0901c"/>
<path d="M197.4 194.8a0.85 0.85 0 1 0 1.7 0a0.85 0.85 0 1 0 -1.7 0M166.0 217.4a0.85 0.85 0 1 0 1.7 0a0.85 0.85 0 1 0 -1.7 0" fill="#1e1e1e"/>
<path d="M175.3 221.2a0.85 0.85 0 1 0 1.7 0a0.85 0.85 0 1 0 -1.7 0" fill="#f0901c"/>
<path d="M202.5 194.8a0.85 0.85 0 1 0 1.7 0a0.85 0.85 0 1 0 -1.7 0" fill="#8a8a8a"/>
<path d="M196.9 194.1a0.85 0.85 0 1 0 1.7 0a0.85 0.85 0 1 0 -1.7 0M205.7 195.1a0.85 0.85 0 1 0 1.7 0a0.85 0.85 0 1 0 -1.7 0M181.8 252.0a0.85 0.85 0 1 0 1.7 0a0.85 0.85 0 1 0 -1.7 0M204.0 194.6a0.85 0.85 0 1 0 1.7 0a0.85 0.85 0 1 0 -1.7 0" fill="#1e1e1e"/>
<path d="M206.6 189.6a0.85 0.85 0 1 0 1.7 0a0.85 0.85 0 1 0 -1.7 0" fill="#34497a"/>
<path d="M199.8 227.4a0.85 0.85 0 1 0 1.7 0a0.85 0.85 0 1 0 -1.7 0" fill="#1e1e1e"/>
<path d="M203.9 191.3a0.85 0.85 0 1 0 1.7 0a0.85 0.85 0 1 0 -1.7 0M200.5 216.9a0.85 0.85 0 1 0 1.7 0a0.85 0.85 0 1 0 -1.7 0" fill="#f0901c"/>
<path d="M183.8 218.4a0.85 0.85 0 1 0 1.7 0a0.85 0.85 0 1 0 -1.7 0M174.5 246.8a0.85 0.85 0 1 0 1.7 0a0.85 0.85 0 1 0 -1.7 0M204.5 193.4a0.85 0.85 0 1 0 1.7 0a0.85 0.85 0 1 0 -1.7 0" fill="#1e1e1e"/>
<path d="M207.7 186.1a0.85 0.85 0 1 0 1.7 0a0.85 0.85 0 1 0 -1.7 0" fill="#f0901c"/>
<path d="M219.5 189.3a0.85 0.85 0 1 0 1.7 0a0.85 0.85 0 1 0 -1.7 0" fill="#34497a"/>
<path d="M209.6 186.6a0.85 0.85 0 1 0 1.7 0a0.85 0.85 0 1 0 -1.7 0" fill="#8a8a8a"/>
<path d="M163.4 218.5a0.85 0.85 0 1 0 1.7 0a0.85 0.85 0 1 0 -1.7 0M177.9 217.0a0.85 0.85 0 1 0 1.7 0a0.85 0.85 0 1 0 -1.7 0" fill="#1e1e1e"/>
<path d="M174.8 219.2a0.85 0.85 0 1 0 1.7 0a0.85 0.85 0 1 0 -1.7 0M169.7 219.5a0.85 0.85 0 1 0 1.7 0a0.85 0.85 0 1 0 -1.7 0" fill="#f0901c"/>
<path d="M197.3 219.5a0.85 0.85 0 1 0 1.7 0a0.85 0.85 0 1 0 -1.7 0M211.9 188.8a0.85 0.85 0 1 0 1.7 0a0.85 0.85 0 1 0 -1.7 0" fill="#1e1e1e"/>
<path d="M210.0 221.9a0.85 0.85 0 1 0 1.7 0a0.85 0.85 0 1 0 -1.7 0M213.5 222.6a0.85 0.85 0 1 0 1.7 0a0.85 0.85 0 1 0 -1.7 0" fill="#34497a"/>
<path d="M203.1 221.3a0.85 0.85 0 1 0 1.7 0a0.85 0.85 0 1 0 -1.7 0" fill="#f0901c"/>
<path d="M214.9 218.1a0.85 0.85 0 1 0 1.7 0a0.85 0.85 0 1 0 -1.7 0" fill="#1e1e1e"/>
<path d="M208.4 195.4a0.85 0.85 0 1 0 1.7 0a0.85 0.85 0 1 0 -1.7 0" fill="#f0901c"/>
<path d="M173.8 218.0a0.85 0.85 0 1 0 1.7 0a0.85 0.85 0 1 0 -1.7 0M204.3 223.2a0.85 0.85 0 1 0 1.7 0a0.85 0.85 0 1 0 -1.7 0" fill="#1e1e1e"/>
<path d="M170.7 224.0a0.85 0.85 0 1 0 1.7 0a0.85 0.85 0 1 0 -1.7 0" fill="#f0901c"/>
<path d="M223.2 191.0a0.85 0.85 0 1 0 1.7 0a0.85 0.85 0 1 0 -1.7 0M200.2 195.7a0.85 0.85 0 1 0 1.7 0a0.85 0.85 0 1 0 -1.7 0M201.2 227.2a0.85 0.85 0 1 0 1.7 0a0.85 0.85 0 1 0 -1.7 0M186.1 220.6a0.85 0.85 0 1 0 1.7 0a0.85 0.85 0 1 0 -1.7 0" fill="#1e1e1e"/>
<path d="M171.6 224.5a0.85 0.85 0 1 0 1.7 0a0.85 0.85 0 1 0 -1.7 0" fill="#f0901c"/>
<path d="M210.8 220.9a0.85 0.85 0 1 0 1.7 0a0.85 0.85 0 1 0 -1.7 0" fill="#1e1e1e"/>
<path d="M214.6 195.9a0.85 0.85 0 1 0 1.7 0a0.85 0.85 0 1 0 -1.7 0M207.7 188.1a0.85 0.85 0 1 0 1.7 0a0.85 0.85 0 1 0 -1.7 0" fill="#f0901c"/>
<path d="M176.0 220.0a0.85 0.85 0 1 0 1.7 0a0.85 0.85 0 1 0 -1.7 0" fill="#1e1e1e"/>
<path d="M204.0 219.8a0.85 0.85 0 1 0 1.7 0a0.85 0.85 0 1 0 -1.7 0" fill="#34497a"/>
<path d="M200.2 221.7a0.85 0.85 0 1 0 1.7 0a0.85 0.85 0 1 0 -1.7 0" fill="#f0901c"/>
<path d="M221.2 190.5a0.85 0.85 0 1 0 1.7 0a0.85 0.85 0 1 0 -1.7 0M211.2 191.9a0.85 0.85 0 1 0 1.7 0a0.85 0.85 0 1 0 -1.7 0M199.7 217.0a0.85 0.85 0 1 0 1.7 0a0.85 0.85 0 1 0 -1.7 0M201.6 189.9a0.85 0.85 0 1 0 1.7 0a0.85 0.85 0 1 0 -1.7 0M179.7 221.3a0.85 0.85 0 1 0 1.7 0a0.85 0.85 0 1 0 -1.7 0" fill="#1e1e1e"/>
<path d="M167.5 223.6a0.85 0.85 0 1 0 1.7 0a0.85 0.85 0 1 0 -1.7 0" fill="#f0901c"/>
<path d="M199.0 194.4a0.85 0.85 0 1 0 1.7 0a0.85 0.85 0 1 0 -1.7 0" fill="#1e1e1e"/>
<path d="M208.1 194.6a0.85 0.85 0 1 0 1.7 0a0.85 0.85 0 1 0 -1.7 0" fill="#f0901c"/>
<path d="M206.6 227.2a0.85 0.85 0 1 0 1.7 0a0.85 0.85 0 1 0 -1.7 0M179.0 218.9a0.85 0.85 0 1 0 1.7 0a0.85 0.85 0 1 0 -1.7 0M226.9 157.7a0.85 0.85 0 1 0 1.7 0a0.85 0.85 0 1 0 -1.7 0M180.0 218.8a0.85 0.85 0 1 0 1.7 0a0.85 0.85 0 1 0 -1.7 0M158.7 221.4a0.85 0.85 0 1 0 1.7 0a0.85 0.85 0 1 0 -1.7 0M198.4 193.7a0.85 0.85 0 1 0 1.7 0a0.85 0.85 0 1 0 -1.7 0M204.2 193.8a0.85 0.85 0 1 0 1.7 0a0.85 0.85 0 1 0 -1.7 0M181.5 219.2a0.85 0.85 0 1 0 1.7 0a0.85 0.85 0 1 0 -1.7 0M196.9 218.3a0.85 0.85 0 1 0 1.7 0a0.85 0.85 0 1 0 -1.7 0" fill="#1e1e1e"/>
<path d="M172.7 218.1a0.85 0.85 0 1 0 1.7 0a0.85 0.85 0 1 0 -1.7 0" fill="#f0901c"/>
<path d="M230.3 160.5a0.85 0.85 0 1 0 1.7 0a0.85 0.85 0 1 0 -1.7 0M203.1 192.4a0.85 0.85 0 1 0 1.7 0a0.85 0.85 0 1 0 -1.7 0M230.3 161.0a0.85 0.85 0 1 0 1.7 0a0.85 0.85 0 1 0 -1.7 0M176.2 218.0a0.85 0.85 0 1 0 1.7 0a0.85 0.85 0 1 0 -1.7 0M201.4 219.4a0.85 0.85 0 1 0 1.7 0a0.85 0.85 0 1 0 -1.7 0M198.2 191.2a0.85 0.85 0 1 0 1.7 0a0.85 0.85 0 1 0 -1.7 0M219.0 193.8a0.85 0.85 0 1 0 1.7 0a0.85 0.85 0 1 0 -1.7 0M172.4 220.4a0.85 0.85 0 1 0 1.7 0a0.85 0.85 0 1 0 -1.7 0M203.0 239.8a0.85 0.85 0 1 0 1.7 0a0.85 0.85 0 1 0 -1.7 0M205.4 189.7a0.85 0.85 0 1 0 1.7 0a0.85 0.85 0 1 0 -1.7 0M202.6 192.8a0.85 0.85 0 1 0 1.7 0a0.85 0.85 0 1 0 -1.7 0" fill="#1e1e1e"/>
<path d="M206.9 191.1a0.85 0.85 0 1 0 1.7 0a0.85 0.85 0 1 0 -1.7 0" fill="#f0901c"/>
<path d="M209.4 195.6a0.85 0.85 0 1 0 1.7 0a0.85 0.85 0 1 0 -1.7 0M167.9 217.9a0.85 0.85 0 1 0 1.7 0a0.85 0.85 0 1 0 -1.7 0" fill="#1e1e1e"/>
<path d="M205.2 231.9a0.85 0.85 0 1 0 1.7 0a0.85 0.85 0 1 0 -1.7 0" fill="#f0901c"/>
<path d="M185.0 219.5a0.85 0.85 0 1 0 1.7 0a0.85 0.85 0 1 0 -1.7 0M199.3 220.8a0.85 0.85 0 1 0 1.7 0a0.85 0.85 0 1 0 -1.7 0M197.7 222.0a0.85 0.85 0 1 0 1.7 0a0.85 0.85 0 1 0 -1.7 0" fill="#1e1e1e"/>
<path d="M179.1 220.0a0.85 0.85 0 1 0 1.7 0a0.85 0.85 0 1 0 -1.7 0" fill="#34497a"/>
<path d="M182.3 222.4a0.85 0.85 0 1 0 1.7 0a0.85 0.85 0 1 0 -1.7 0" fill="#f0901c"/>
<path d="M211.4 195.4a0.85 0.85 0 1 0 1.7 0a0.85 0.85 0 1 0 -1.7 0" fill="#1e1e1e"/>
<path d="M175.9 218.9a0.85 0.85 0 1 0 1.7 0a0.85 0.85 0 1 0 -1.7 0" fill="#f0901c"/>
<path d="M184.3 217.3a0.85 0.85 0 1 0 1.7 0a0.85 0.85 0 1 0 -1.7 0M221.8 162.0a0.85 0.85 0 1 0 1.7 0a0.85 0.85 0 1 0 -1.7 0" fill="#1e1e1e"/>
<path d="M166.6 218.7a0.85 0.85 0 1 0 1.7 0a0.85 0.85 0 1 0 -1.7 0" fill="#f0901c"/>
<path d="M210.4 223.3a0.85 0.85 0 1 0 1.7 0a0.85 0.85 0 1 0 -1.7 0M176.9 221.8a0.85 0.85 0 1 0 1.7 0a0.85 0.85 0 1 0 -1.7 0" fill="#1e1e1e"/>
<path d="M200.5 192.2a0.85 0.85 0 1 0 1.7 0a0.85 0.85 0 1 0 -1.7 0" fill="#f0901c"/>
<path d="M200.5 218.6a0.85 0.85 0 1 0 1.7 0a0.85 0.85 0 1 0 -1.7 0M212.1 190.7a0.85 0.85 0 1 0 1.7 0a0.85 0.85 0 1 0 -1.7 0M201.6 219.3a0.85 0.85 0 1 0 1.7 0a0.85 0.85 0 1 0 -1.7 0" fill="#1e1e1e"/>
<path d="M168.6 219.8a0.85 0.85 0 1 0 1.7 0a0.85 0.85 0 1 0 -1.7 0M169.6 225.5a0.85 0.85 0 1 0 1.7 0a0.85 0.85 0 1 0 -1.7 0" fill="#8a8a8a"/>
<path d="M209.1 190.8a0.85 0.85 0 1 0 1.7 0a0.85 0.85 0 1 0 -1.7 0" fill="#1e1e1e"/>
<path d="M197.3 217.5a0.85 0.85 0 1 0 1.7 0a0.85 0.85 0 1 0 -1.7 0" fill="#f0901c"/>
<path d="M212.8 182.3a0.85 0.85 0 1 0 1.7 0a0.85 0.85 0 1 0 -1.7 0M227.4 154.7a0.85 0.85 0 1 0 1.7 0a0.85 0.85 0 1 0 -1.7 0M196.9 189.3a0.85 0.85 0 1 0 1.7 0a0.85 0.85 0 1 0 -1.7 0" fill="#1e1e1e"/>
<path d="M216.3 193.6a0.85 0.85 0 1 0 1.7 0a0.85 0.85 0 1 0 -1.7 0" fill="#f0901c"/>
<path d="M198.8 193.8a0.85 0.85 0 1 0 1.7 0a0.85 0.85 0 1 0 -1.7 0" fill="#1e1e1e"/>
<path d="M215.2 192.6a0.85 0.85 0 1 0 1.7 0a0.85 0.85 0 1 0 -1.7 0" fill="#f0901c"/>
<path d="M185.9 217.0a0.85 0.85 0 1 0 1.7 0a0.85 0.85 0 1 0 -1.7 0" fill="#1e1e1e"/>
<path d="M198.2 220.5a0.85 0.85 0 1 0 1.7 0a0.85 0.85 0 1 0 -1.7 0M207.3 194.3a0.85 0.85 0 1 0 1.7 0a0.85 0.85 0 1 0 -1.7 0M164.2 223.3a0.85 0.85 0 1 0 1.7 0a0.85 0.85 0 1 0 -1.7 0" fill="#f0901c"/>
<path d="M216.4 188.1a0.85 0.85 0 1 0 1.7 0a0.85 0.85 0 1 0 -1.7 0M249.2 150.0a0.85 0.85 0 1 0 1.7 0a0.85 0.85 0 1 0 -1.7 0M204.8 185.0a0.85 0.85 0 1 0 1.7 0a0.85 0.85 0 1 0 -1.7 0M177.9 218.1a0.85 0.85 0 1 0 1.7 0a0.85 0.85 0 1 0 -1.7 0M217.5 186.1a0.85 0.85 0 1 0 1.7 0a0.85 0.85 0 1 0 -1.7 0M211.0 222.0a0.85 0.85 0 1 0 1.7 0a0.85 0.85 0 1 0 -1.7 0M212.5 220.3a0.85 0.85 0 1 0 1.7 0a0.85 0.85 0 1 0 -1.7 0" fill="#1e1e1e"/>
<path d="M179.9 218.5a0.85 0.85 0 1 0 1.7 0a0.85 0.85 0 1 0 -1.7 0" fill="#f0901c"/>
<path d="M206.8 172.0a0.85 0.85 0 1 0 1.7 0a0.85 0.85 0 1 0 -1.7 0" fill="#1e1e1e"/>
<text x="242.5" y="145.1" font-size="5" textLength="15" lengthAdjust="spacingAndGlyphs" fill="#1a1a1a">S100a9</text>
<text x="225.7" y="151.4" font-size="5" textLength="17" lengthAdjust="spacingAndGlyphs" fill="#1a1a1a">S100a8,</text>
<text x="198" y="157.6" font-size="5" textLength="10" lengthAdjust="spacingAndGlyphs" fill="#1a1a1a">Prg3</text>
<text x="217" y="157.6" font-size="5" textLength="9.5" lengthAdjust="spacingAndGlyphs" fill="#4d68aa">Prg2</text>
<text x="197" y="164.79999999999998" font-size="5" textLength="8" lengthAdjust="spacingAndGlyphs" fill="#e3a443">Mxr</text>
<text x="225.7" y="163.29999999999998" font-size="5" textLength="12" lengthAdjust="spacingAndGlyphs" fill="#e3a443">Pde1c</text>
<text x="207.6" y="169.6" font-size="5" textLength="14" lengthAdjust="spacingAndGlyphs" fill="#e3a443">Atp8b2</text>
<text x="182.4" y="177.1" font-size="5" textLength="10" lengthAdjust="spacingAndGlyphs" fill="#e3a443">Itgb3</text>
<text x="196.6" y="177.1" font-size="5" textLength="10" lengthAdjust="spacingAndGlyphs" fill="#e3a443">Prtn3</text>
<text x="216.3" y="175.9" font-size="5" textLength="9.5" lengthAdjust="spacingAndGlyphs" fill="#4d68aa">Chil3</text>
<text x="232" y="182.2" font-size="5" textLength="12" lengthAdjust="spacingAndGlyphs" fill="#e3a443">Elane</text>
<text x="191.8" y="183.4" font-size="5" textLength="9.5" lengthAdjust="spacingAndGlyphs" fill="#e3a443">Jund</text>
<text x="175.2" y="193.6" font-size="5" textLength="14.5" lengthAdjust="spacingAndGlyphs" fill="#4d68aa">Cebpa</text>
<text x="226.9" y="196.5" font-size="5" textLength="13" lengthAdjust="spacingAndGlyphs" fill="#e3a443">Ptprd2</text>
<text x="174" y="202.6" font-size="5" textLength="14" lengthAdjust="spacingAndGlyphs" fill="#4d68aa">Prom1</text>
<text x="191.6" y="200.6" font-size="5" textLength="6.6" lengthAdjust="spacingAndGlyphs" fill="#e3a443">Mpl</text>
<text x="210.4" y="202.6" font-size="5" textLength="13" lengthAdjust="spacingAndGlyphs" fill="#e3a443">Cdhn1</text>
<text x="188.1" y="207.7" font-size="5" textLength="10.6" lengthAdjust="spacingAndGlyphs" fill="#e3a443">Pear1</text>
<text x="200.6" y="211.7" font-size="5" textLength="9.5" lengthAdjust="spacingAndGlyphs" fill="#1a1a1a">Ccr1</text>
<text x="228" y="210.1" font-size="5" textLength="10" lengthAdjust="spacingAndGlyphs" fill="#1a1a1a">Ikzf2</text>
<text x="169.3" y="213.1" font-size="5" textLength="16.5" lengthAdjust="spacingAndGlyphs" fill="#1a1a1a">Wnt10b</text>
<rect x="127.4" y="141" width="131.1" height="131.3" fill="none" stroke="#2a2a2a" stroke-width="1"/>
<line x1="258.5" y1="145.70000000000002" x2="261.5" y2="145.70000000000002" stroke="#2a2a2a" stroke-width="0.8"/>
<text x="263.5" y="148.50000000000003" font-size="8" fill="#2a2a2a">6</text>
<line x1="258.5" y1="176.0" x2="261.5" y2="176.0" stroke="#2a2a2a" stroke-width="0.8"/>
<text x="263.5" y="178.8" font-size="8" fill="#2a2a2a">3</text>
<line x1="258.5" y1="206.3" x2="261.5" y2="206.3" stroke="#2a2a2a" stroke-width="0.8"/>
<text x="263.5" y="209.10000000000002" font-size="8" fill="#2a2a2a">0</text>
<line x1="258.5" y1="236.60000000000002" x2="261.5" y2="236.60000000000002" stroke="#2a2a2a" stroke-width="0.8"/>
<text x="262.5" y="239.40000000000003" font-size="8" fill="#2a2a2a">−3</text>
<line x1="258.5" y1="266.9" x2="261.5" y2="266.9" stroke="#2a2a2a" stroke-width="0.8"/>
<text x="262.5" y="269.7" font-size="8" fill="#2a2a2a">−6</text>
<line x1="127.496" y1="272.3" x2="127.496" y2="275.3" stroke="#2a2a2a" stroke-width="0.8"/>
<text x="127.496" y="285.1" font-size="7.4" text-anchor="middle" fill="#2a2a2a">−16</text>
<line x1="160.248" y1="272.3" x2="160.248" y2="275.3" stroke="#2a2a2a" stroke-width="0.8"/>
<text x="160.248" y="285.1" font-size="7.4" text-anchor="middle" fill="#2a2a2a">−8</text>
<line x1="193.0" y1="272.3" x2="193.0" y2="275.3" stroke="#2a2a2a" stroke-width="0.8"/>
<text x="193.0" y="285.1" font-size="7.4" text-anchor="middle" fill="#2a2a2a">0</text>
<line x1="225.752" y1="272.3" x2="225.752" y2="275.3" stroke="#2a2a2a" stroke-width="0.8"/>
<text x="225.752" y="285.1" font-size="7.4" text-anchor="middle" fill="#2a2a2a">8</text>
<line x1="258.504" y1="272.3" x2="258.504" y2="275.3" stroke="#2a2a2a" stroke-width="0.8"/>
<text x="258.504" y="285.1" font-size="7.4" text-anchor="middle" fill="#2a2a2a">16</text>
<text x="192.7" y="297.1" font-size="7.4" font-weight="bold" text-anchor="middle" fill="#2a2a2a" textLength="48" lengthAdjust="spacingAndGlyphs">I3KO vs. NT log<tspan font-size="4.4" dy="1.4">2</tspan><tspan dy="-1.4">FC</tspan></text>
<text x="279.8" y="205.4" font-size="7.2" font-weight="bold" text-anchor="middle" fill="#2a2a2a" transform="rotate(90 279.8 205.4)" textLength="107.5" lengthAdjust="spacingAndGlyphs">MI-503 vs DMSO in NT log2 (fold change)</text>
<text x="30.3" y="320.9" font-size="9" textLength="96.7" lengthAdjust="spacingAndGlyphs" fill="#2a2a2a">MI-503 vs. DMSO in I3KO</text>
<line x1="45.7" y1="381.32" x2="111.3" y2="381.32" stroke="#dcdcdc" stroke-width="0.7"/>
<line x1="45.7" y1="403.08" x2="111.3" y2="403.08" stroke="#dcdcdc" stroke-width="0.7"/>
<path d="M109.3 370.8a0.85 0.85 0 1 0 1.7 0a0.85 0.85 0 1 0 -1.7 0M76.2 377.0a0.85 0.85 0 1 0 1.7 0a0.85 0.85 0 1 0 -1.7 0" fill="#1e1e1e"/>
<path d="M101.9 371.6a0.85 0.85 0 1 0 1.7 0a0.85 0.85 0 1 0 -1.7 0" fill="#f0901c"/>
<path d="M99.3 407.2a0.85 0.85 0 1 0 1.7 0a0.85 0.85 0 1 0 -1.7 0" fill="#1e1e1e"/>
<path d="M108.1 410.5a0.85 0.85 0 1 0 1.7 0a0.85 0.85 0 1 0 -1.7 0M97.6 415.0a0.85 0.85 0 1 0 1.7 0a0.85 0.85 0 1 0 -1.7 0" fill="#f0901c"/>
<path d="M105.8 376.1a0.85 0.85 0 1 0 1.7 0a0.85 0.85 0 1 0 -1.7 0" fill="#1e1e1e"/>
<path d="M109.3 365.2a0.85 0.85 0 1 0 1.7 0a0.85 0.85 0 1 0 -1.7 0" fill="#f0901c"/>
<path d="M108.7 413.1a0.85 0.85 0 1 0 1.7 0a0.85 0.85 0 1 0 -1.7 0M104.3 380.9a0.85 0.85 0 1 0 1.7 0a0.85 0.85 0 1 0 -1.7 0M107.6 353.1a0.85 0.85 0 1 0 1.7 0a0.85 0.85 0 1 0 -1.7 0M109.5 410.0a0.85 0.85 0 1 0 1.7 0a0.85 0.85 0 1 0 -1.7 0" fill="#1e1e1e"/>
<path d="M102.3 379.0a0.85 0.85 0 1 0 1.7 0a0.85 0.85 0 1 0 -1.7 0" fill="#34497a"/>
<path d="M105.5 369.5a0.85 0.85 0 1 0 1.7 0a0.85 0.85 0 1 0 -1.7 0M90.9 402.2a0.85 0.85 0 1 0 1.7 0a0.85 0.85 0 1 0 -1.7 0M103.9 414.4a0.85 0.85 0 1 0 1.7 0a0.85 0.85 0 1 0 -1.7 0" fill="#1e1e1e"/>
<path d="M108.4 412.0a0.85 0.85 0 1 0 1.7 0a0.85 0.85 0 1 0 -1.7 0" fill="#34497a"/>
<path d="M108.8 406.2a0.85 0.85 0 1 0 1.7 0a0.85 0.85 0 1 0 -1.7 0" fill="#1e1e1e"/>
<path d="M108.1 419.4a0.85 0.85 0 1 0 1.7 0a0.85 0.85 0 1 0 -1.7 0" fill="#34497a"/>
<path d="M107.3 418.8a0.85 0.85 0 1 0 1.7 0a0.85 0.85 0 1 0 -1.7 0M100.6 376.0a0.85 0.85 0 1 0 1.7 0a0.85 0.85 0 1 0 -1.7 0M109.1 378.6a0.85 0.85 0 1 0 1.7 0a0.85 0.85 0 1 0 -1.7 0M107.1 405.5a0.85 0.85 0 1 0 1.7 0a0.85 0.85 0 1 0 -1.7 0M108.4 346.1a0.85 0.85 0 1 0 1.7 0a0.85 0.85 0 1 0 -1.7 0" fill="#1e1e1e"/>
<path d="M106.3 367.6a0.85 0.85 0 1 0 1.7 0a0.85 0.85 0 1 0 -1.7 0M100.0 405.1a0.85 0.85 0 1 0 1.7 0a0.85 0.85 0 1 0 -1.7 0" fill="#8a8a8a"/>
<path d="M73.2 375.0a0.85 0.85 0 1 0 1.7 0a0.85 0.85 0 1 0 -1.7 0M104.9 410.3a0.85 0.85 0 1 0 1.7 0a0.85 0.85 0 1 0 -1.7 0M103.4 376.3a0.85 0.85 0 1 0 1.7 0a0.85 0.85 0 1 0 -1.7 0" fill="#1e1e1e"/>
<path d="M71.2 418.0a0.85 0.85 0 1 0 1.7 0a0.85 0.85 0 1 0 -1.7 0" fill="#8a8a8a"/>
<path d="M104.7 421.3a0.85 0.85 0 1 0 1.7 0a0.85 0.85 0 1 0 -1.7 0M89.8 368.2a0.85 0.85 0 1 0 1.7 0a0.85 0.85 0 1 0 -1.7 0M103.2 367.7a0.85 0.85 0 1 0 1.7 0a0.85 0.85 0 1 0 -1.7 0" fill="#1e1e1e"/>
<path d="M51.1 374.0a0.85 0.85 0 1 0 1.7 0a0.85 0.85 0 1 0 -1.7 0" fill="#8a8a8a"/>
<path d="M109.1 375.5a0.85 0.85 0 1 0 1.7 0a0.85 0.85 0 1 0 -1.7 0M75.1 418.9a0.85 0.85 0 1 0 1.7 0a0.85 0.85 0 1 0 -1.7 0M77.2 413.0a0.85 0.85 0 1 0 1.7 0a0.85 0.85 0 1 0 -1.7 0M106.0 371.4a0.85 0.85 0 1 0 1.7 0a0.85 0.85 0 1 0 -1.7 0M107.3 368.0a0.85 0.85 0 1 0 1.7 0a0.85 0.85 0 1 0 -1.7 0M108.6 404.5a0.85 0.85 0 1 0 1.7 0a0.85 0.85 0 1 0 -1.7 0M105.3 368.1a0.85 0.85 0 1 0 1.7 0a0.85 0.85 0 1 0 -1.7 0" fill="#1e1e1e"/>
<path d="M101.1 372.4a0.85 0.85 0 1 0 1.7 0a0.85 0.85 0 1 0 -1.7 0" fill="#34497a"/>
<path d="M105.7 376.5a0.85 0.85 0 1 0 1.7 0a0.85 0.85 0 1 0 -1.7 0" fill="#1e1e1e"/>
<path d="M106.4 360.4a0.85 0.85 0 1 0 1.7 0a0.85 0.85 0 1 0 -1.7 0" fill="#f0901c"/>
<path d="M103.1 374.6a0.85 0.85 0 1 0 1.7 0a0.85 0.85 0 1 0 -1.7 0M108.3 410.7a0.85 0.85 0 1 0 1.7 0a0.85 0.85 0 1 0 -1.7 0M99.0 366.0a0.85 0.85 0 1 0 1.7 0a0.85 0.85 0 1 0 -1.7 0M107.3 379.4a0.85 0.85 0 1 0 1.7 0a0.85 0.85 0 1 0 -1.7 0" fill="#1e1e1e"/>
<path d="M97.9 369.6a0.85 0.85 0 1 0 1.7 0a0.85 0.85 0 1 0 -1.7 0" fill="#34497a"/>
<path d="M104.7 406.5a0.85 0.85 0 1 0 1.7 0a0.85 0.85 0 1 0 -1.7 0M104.6 355.7a0.85 0.85 0 1 0 1.7 0a0.85 0.85 0 1 0 -1.7 0M105.3 392.8a0.85 0.85 0 1 0 1.7 0a0.85 0.85 0 1 0 -1.7 0" fill="#1e1e1e"/>
<path d="M104.0 410.6a0.85 0.85 0 1 0 1.7 0a0.85 0.85 0 1 0 -1.7 0" fill="#f0901c"/>
<path d="M107.6 355.5a0.85 0.85 0 1 0 1.7 0a0.85 0.85 0 1 0 -1.7 0" fill="#8a8a8a"/>
<path d="M108.3 416.1a0.85 0.85 0 1 0 1.7 0a0.85 0.85 0 1 0 -1.7 0M107.8 391.4a0.85 0.85 0 1 0 1.7 0a0.85 0.85 0 1 0 -1.7 0M107.4 375.5a0.85 0.85 0 1 0 1.7 0a0.85 0.85 0 1 0 -1.7 0" fill="#1e1e1e"/>
<path d="M99.7 411.9a0.85 0.85 0 1 0 1.7 0a0.85 0.85 0 1 0 -1.7 0" fill="#f0901c"/>
<path d="M108.9 372.7a0.85 0.85 0 1 0 1.7 0a0.85 0.85 0 1 0 -1.7 0" fill="#1e1e1e"/>
<path d="M103.9 373.7a0.85 0.85 0 1 0 1.7 0a0.85 0.85 0 1 0 -1.7 0M93.4 368.0a0.85 0.85 0 1 0 1.7 0a0.85 0.85 0 1 0 -1.7 0M105.8 410.7a0.85 0.85 0 1 0 1.7 0a0.85 0.85 0 1 0 -1.7 0" fill="#f0901c"/>
<path d="M107.7 455.0a0.85 0.85 0 1 0 1.7 0a0.85 0.85 0 1 0 -1.7 0" fill="#8a8a8a"/>
<path d="M99.1 378.7a0.85 0.85 0 1 0 1.7 0a0.85 0.85 0 1 0 -1.7 0" fill="#34497a"/>
<path d="M103.8 410.6a0.85 0.85 0 1 0 1.7 0a0.85 0.85 0 1 0 -1.7 0M105.0 374.0a0.85 0.85 0 1 0 1.7 0a0.85 0.85 0 1 0 -1.7 0M106.2 377.0a0.85 0.85 0 1 0 1.7 0a0.85 0.85 0 1 0 -1.7 0M102.8 415.1a0.85 0.85 0 1 0 1.7 0a0.85 0.85 0 1 0 -1.7 0" fill="#1e1e1e"/>
<path d="M107.8 366.2a0.85 0.85 0 1 0 1.7 0a0.85 0.85 0 1 0 -1.7 0" fill="#34497a"/>
<path d="M97.7 408.1a0.85 0.85 0 1 0 1.7 0a0.85 0.85 0 1 0 -1.7 0M108.6 413.0a0.85 0.85 0 1 0 1.7 0a0.85 0.85 0 1 0 -1.7 0M78.2 372.0a0.85 0.85 0 1 0 1.7 0a0.85 0.85 0 1 0 -1.7 0" fill="#1e1e1e"/>
<path d="M102.0 425.5a0.85 0.85 0 1 0 1.7 0a0.85 0.85 0 1 0 -1.7 0" fill="#34497a"/>
<path d="M106.0 392.9a0.85 0.85 0 1 0 1.7 0a0.85 0.85 0 1 0 -1.7 0M101.3 368.8a0.85 0.85 0 1 0 1.7 0a0.85 0.85 0 1 0 -1.7 0" fill="#1e1e1e"/>
<path d="M108.8 407.4a0.85 0.85 0 1 0 1.7 0a0.85 0.85 0 1 0 -1.7 0" fill="#34497a"/>
<path d="M109.2 362.5a0.85 0.85 0 1 0 1.7 0a0.85 0.85 0 1 0 -1.7 0" fill="#8a8a8a"/>
<path d="M99.7 375.9a0.85 0.85 0 1 0 1.7 0a0.85 0.85 0 1 0 -1.7 0M102.6 367.8a0.85 0.85 0 1 0 1.7 0a0.85 0.85 0 1 0 -1.7 0" fill="#1e1e1e"/>
<path d="M98.5 410.2a0.85 0.85 0 1 0 1.7 0a0.85 0.85 0 1 0 -1.7 0" fill="#8a8a8a"/>
<path d="M107.4 379.0a0.85 0.85 0 1 0 1.7 0a0.85 0.85 0 1 0 -1.7 0M96.4 376.4a0.85 0.85 0 1 0 1.7 0a0.85 0.85 0 1 0 -1.7 0M102.9 379.9a0.85 0.85 0 1 0 1.7 0a0.85 0.85 0 1 0 -1.7 0M107.1 363.6a0.85 0.85 0 1 0 1.7 0a0.85 0.85 0 1 0 -1.7 0M105.6 405.1a0.85 0.85 0 1 0 1.7 0a0.85 0.85 0 1 0 -1.7 0M107.9 377.6a0.85 0.85 0 1 0 1.7 0a0.85 0.85 0 1 0 -1.7 0M79.1 378.8a0.85 0.85 0 1 0 1.7 0a0.85 0.85 0 1 0 -1.7 0M104.0 381.0a0.85 0.85 0 1 0 1.7 0a0.85 0.85 0 1 0 -1.7 0M103.6 377.7a0.85 0.85 0 1 0 1.7 0a0.85 0.85 0 1 0 -1.7 0" fill="#1e1e1e"/>
<path d="M106.5 399.8a0.85 0.85 0 1 0 1.7 0a0.85 0.85 0 1 0 -1.7 0" fill="#f0901c"/>
<path d="M104.1 413.3a0.85 0.85 0 1 0 1.7 0a0.85 0.85 0 1 0 -1.7 0M107.0 365.5a0.85 0.85 0 1 0 1.7 0a0.85 0.85 0 1 0 -1.7 0" fill="#1e1e1e"/>
<path d="M108.9 405.1a0.85 0.85 0 1 0 1.7 0a0.85 0.85 0 1 0 -1.7 0" fill="#f0901c"/>
<path d="M100.1 365.8a0.85 0.85 0 1 0 1.7 0a0.85 0.85 0 1 0 -1.7 0M107.2 411.0a0.85 0.85 0 1 0 1.7 0a0.85 0.85 0 1 0 -1.7 0" fill="#1e1e1e"/>
<path d="M108.7 378.1a0.85 0.85 0 1 0 1.7 0a0.85 0.85 0 1 0 -1.7 0" fill="#34497a"/>
<path d="M106.2 373.9a0.85 0.85 0 1 0 1.7 0a0.85 0.85 0 1 0 -1.7 0M107.3 378.8a0.85 0.85 0 1 0 1.7 0a0.85 0.85 0 1 0 -1.7 0" fill="#1e1e1e"/>
<path d="M102.2 415.4a0.85 0.85 0 1 0 1.7 0a0.85 0.85 0 1 0 -1.7 0" fill="#34497a"/>
<path d="M99.7 411.2a0.85 0.85 0 1 0 1.7 0a0.85 0.85 0 1 0 -1.7 0M98.4 422.2a0.85 0.85 0 1 0 1.7 0a0.85 0.85 0 1 0 -1.7 0M105.4 373.1a0.85 0.85 0 1 0 1.7 0a0.85 0.85 0 1 0 -1.7 0M109.5 404.3a0.85 0.85 0 1 0 1.7 0a0.85 0.85 0 1 0 -1.7 0M103.1 372.2a0.85 0.85 0 1 0 1.7 0a0.85 0.85 0 1 0 -1.7 0M106.5 378.7a0.85 0.85 0 1 0 1.7 0a0.85 0.85 0 1 0 -1.7 0M103.8 412.0a0.85 0.85 0 1 0 1.7 0a0.85 0.85 0 1 0 -1.7 0M100.2 379.4a0.85 0.85 0 1 0 1.7 0a0.85 0.85 0 1 0 -1.7 0M102.9 417.3a0.85 0.85 0 1 0 1.7 0a0.85 0.85 0 1 0 -1.7 0" fill="#1e1e1e"/>
<path d="M82.3 404.2a0.85 0.85 0 1 0 1.7 0a0.85 0.85 0 1 0 -1.7 0" fill="#8a8a8a"/>
<path d="M105.5 379.8a0.85 0.85 0 1 0 1.7 0a0.85 0.85 0 1 0 -1.7 0" fill="#1e1e1e"/>
<path d="M109.3 414.2a0.85 0.85 0 1 0 1.7 0a0.85 0.85 0 1 0 -1.7 0" fill="#34497a"/>
<path d="M108.7 371.5a0.85 0.85 0 1 0 1.7 0a0.85 0.85 0 1 0 -1.7 0M105.1 370.4a0.85 0.85 0 1 0 1.7 0a0.85 0.85 0 1 0 -1.7 0" fill="#1e1e1e"/>
<path d="M106.2 424.1a0.85 0.85 0 1 0 1.7 0a0.85 0.85 0 1 0 -1.7 0" fill="#f0901c"/>
<path d="M100.2 412.8a0.85 0.85 0 1 0 1.7 0a0.85 0.85 0 1 0 -1.7 0" fill="#1e1e1e"/>
<path d="M67.2 373.0a0.85 0.85 0 1 0 1.7 0a0.85 0.85 0 1 0 -1.7 0" fill="#8a8a8a"/>
<path d="M106.7 383.2a0.85 0.85 0 1 0 1.7 0a0.85 0.85 0 1 0 -1.7 0" fill="#f0901c"/>
<path d="M103.4 376.0a0.85 0.85 0 1 0 1.7 0a0.85 0.85 0 1 0 -1.7 0" fill="#1e1e1e"/>
<path d="M101.1 378.7a0.85 0.85 0 1 0 1.7 0a0.85 0.85 0 1 0 -1.7 0" fill="#f0901c"/>
<path d="M89.4 405.2a0.85 0.85 0 1 0 1.7 0a0.85 0.85 0 1 0 -1.7 0" fill="#1e1e1e"/>
<path d="M109.1 409.4a0.85 0.85 0 1 0 1.7 0a0.85 0.85 0 1 0 -1.7 0M89.4 418.3a0.85 0.85 0 1 0 1.7 0a0.85 0.85 0 1 0 -1.7 0" fill="#f0901c"/>
<path d="M109.5 364.1a0.85 0.85 0 1 0 1.7 0a0.85 0.85 0 1 0 -1.7 0M109.3 410.3a0.85 0.85 0 1 0 1.7 0a0.85 0.85 0 1 0 -1.7 0M101.1 415.1a0.85 0.85 0 1 0 1.7 0a0.85 0.85 0 1 0 -1.7 0M108.4 409.5a0.85 0.85 0 1 0 1.7 0a0.85 0.85 0 1 0 -1.7 0M108.4 412.8a0.85 0.85 0 1 0 1.7 0a0.85 0.85 0 1 0 -1.7 0M99.8 419.5a0.85 0.85 0 1 0 1.7 0a0.85 0.85 0 1 0 -1.7 0M105.5 406.1a0.85 0.85 0 1 0 1.7 0a0.85 0.85 0 1 0 -1.7 0" fill="#1e1e1e"/>
<path d="M103.5 415.5a0.85 0.85 0 1 0 1.7 0a0.85 0.85 0 1 0 -1.7 0" fill="#34497a"/>
<path d="M108.5 442.6a0.85 0.85 0 1 0 1.7 0a0.85 0.85 0 1 0 -1.7 0M106.9 375.8a0.85 0.85 0 1 0 1.7 0a0.85 0.85 0 1 0 -1.7 0M108.2 363.2a0.85 0.85 0 1 0 1.7 0a0.85 0.85 0 1 0 -1.7 0" fill="#1e1e1e"/>
<path d="M102.0 368.6a0.85 0.85 0 1 0 1.7 0a0.85 0.85 0 1 0 -1.7 0" fill="#f0901c"/>
<path d="M108.6 424.0a0.85 0.85 0 1 0 1.7 0a0.85 0.85 0 1 0 -1.7 0M104.5 406.6a0.85 0.85 0 1 0 1.7 0a0.85 0.85 0 1 0 -1.7 0" fill="#1e1e1e"/>
<path d="M105.3 371.2a0.85 0.85 0 1 0 1.7 0a0.85 0.85 0 1 0 -1.7 0" fill="#f0901c"/>
<path d="M85.9 383.2a0.85 0.85 0 1 0 1.7 0a0.85 0.85 0 1 0 -1.7 0M108.4 420.6a0.85 0.85 0 1 0 1.7 0a0.85 0.85 0 1 0 -1.7 0M109.0 351.5a0.85 0.85 0 1 0 1.7 0a0.85 0.85 0 1 0 -1.7 0" fill="#1e1e1e"/>
<path d="M106.0 378.9a0.85 0.85 0 1 0 1.7 0a0.85 0.85 0 1 0 -1.7 0M106.5 377.0a0.85 0.85 0 1 0 1.7 0a0.85 0.85 0 1 0 -1.7 0" fill="#34497a"/>
<path d="M102.3 378.2a0.85 0.85 0 1 0 1.7 0a0.85 0.85 0 1 0 -1.7 0M107.4 369.1a0.85 0.85 0 1 0 1.7 0a0.85 0.85 0 1 0 -1.7 0M103.1 418.1a0.85 0.85 0 1 0 1.7 0a0.85 0.85 0 1 0 -1.7 0M102.4 418.6a0.85 0.85 0 1 0 1.7 0a0.85 0.85 0 1 0 -1.7 0M100.4 409.2a0.85 0.85 0 1 0 1.7 0a0.85 0.85 0 1 0 -1.7 0M107.4 379.8a0.85 0.85 0 1 0 1.7 0a0.85 0.85 0 1 0 -1.7 0M107.1 370.5a0.85 0.85 0 1 0 1.7 0a0.85 0.85 0 1 0 -1.7 0M108.2 376.5a0.85 0.85 0 1 0 1.7 0a0.85 0.85 0 1 0 -1.7 0" fill="#1e1e1e"/>
<path d="M106.0 376.0a0.85 0.85 0 1 0 1.7 0a0.85 0.85 0 1 0 -1.7 0" fill="#f0901c"/>
<path d="M107.2 388.0a0.85 0.85 0 1 0 1.7 0a0.85 0.85 0 1 0 -1.7 0" fill="#8a8a8a"/>
<path d="M106.1 375.4a0.85 0.85 0 1 0 1.7 0a0.85 0.85 0 1 0 -1.7 0M103.0 409.7a0.85 0.85 0 1 0 1.7 0a0.85 0.85 0 1 0 -1.7 0" fill="#1e1e1e"/>
<path d="M106.2 426.5a0.85 0.85 0 1 0 1.7 0a0.85 0.85 0 1 0 -1.7 0M108.9 374.7a0.85 0.85 0 1 0 1.7 0a0.85 0.85 0 1 0 -1.7 0" fill="#34497a"/>
<path d="M104.1 378.7a0.85 0.85 0 1 0 1.7 0a0.85 0.85 0 1 0 -1.7 0M103.6 407.8a0.85 0.85 0 1 0 1.7 0a0.85 0.85 0 1 0 -1.7 0" fill="#f0901c"/>
<path d="M104.4 377.2a0.85 0.85 0 1 0 1.7 0a0.85 0.85 0 1 0 -1.7 0" fill="#8a8a8a"/>
<path d="M108.6 435.5a0.85 0.85 0 1 0 1.7 0a0.85 0.85 0 1 0 -1.7 0M108.7 371.4a0.85 0.85 0 1 0 1.7 0a0.85 0.85 0 1 0 -1.7 0M107.1 407.2a0.85 0.85 0 1 0 1.7 0a0.85 0.85 0 1 0 -1.7 0M101.1 414.7a0.85 0.85 0 1 0 1.7 0a0.85 0.85 0 1 0 -1.7 0M91.4 365.5a0.85 0.85 0 1 0 1.7 0a0.85 0.85 0 1 0 -1.7 0M107.5 378.6a0.85 0.85 0 1 0 1.7 0a0.85 0.85 0 1 0 -1.7 0" fill="#1e1e1e"/>
<path d="M108.8 418.0a0.85 0.85 0 1 0 1.7 0a0.85 0.85 0 1 0 -1.7 0" fill="#f0901c"/>
<path d="M107.2 374.9a0.85 0.85 0 1 0 1.7 0a0.85 0.85 0 1 0 -1.7 0M104.3 424.3a0.85 0.85 0 1 0 1.7 0a0.85 0.85 0 1 0 -1.7 0M105.9 403.9a0.85 0.85 0 1 0 1.7 0a0.85 0.85 0 1 0 -1.7 0M108.2 352.9a0.85 0.85 0 1 0 1.7 0a0.85 0.85 0 1 0 -1.7 0M101.7 405.8a0.85 0.85 0 1 0 1.7 0a0.85 0.85 0 1 0 -1.7 0M106.0 408.7a0.85 0.85 0 1 0 1.7 0a0.85 0.85 0 1 0 -1.7 0" fill="#1e1e1e"/>
<path d="M103.9 407.5a0.85 0.85 0 1 0 1.7 0a0.85 0.85 0 1 0 -1.7 0" fill="#8a8a8a"/>
<path d="M100.9 376.3a0.85 0.85 0 1 0 1.7 0a0.85 0.85 0 1 0 -1.7 0M81.1 363.4a0.85 0.85 0 1 0 1.7 0a0.85 0.85 0 1 0 -1.7 0M103.6 410.8a0.85 0.85 0 1 0 1.7 0a0.85 0.85 0 1 0 -1.7 0M81.8 410.9a0.85 0.85 0 1 0 1.7 0a0.85 0.85 0 1 0 -1.7 0M105.0 413.3a0.85 0.85 0 1 0 1.7 0a0.85 0.85 0 1 0 -1.7 0M85.8 401.4a0.85 0.85 0 1 0 1.7 0a0.85 0.85 0 1 0 -1.7 0" fill="#1e1e1e"/>
<path d="M86.7 368.6a0.85 0.85 0 1 0 1.7 0a0.85 0.85 0 1 0 -1.7 0" fill="#34497a"/>
<path d="M87.0 354.1a0.85 0.85 0 1 0 1.7 0a0.85 0.85 0 1 0 -1.7 0" fill="#1e1e1e"/>
<path d="M106.8 404.9a0.85 0.85 0 1 0 1.7 0a0.85 0.85 0 1 0 -1.7 0M107.4 407.5a0.85 0.85 0 1 0 1.7 0a0.85 0.85 0 1 0 -1.7 0" fill="#34497a"/>
<path d="M105.4 360.0a0.85 0.85 0 1 0 1.7 0a0.85 0.85 0 1 0 -1.7 0" fill="#f0901c"/>
<path d="M98.2 402.1a0.85 0.85 0 1 0 1.7 0a0.85 0.85 0 1 0 -1.7 0M104.4 409.9a0.85 0.85 0 1 0 1.7 0a0.85 0.85 0 1 0 -1.7 0" fill="#1e1e1e"/>
<path d="M108.8 350.6a0.85 0.85 0 1 0 1.7 0a0.85 0.85 0 1 0 -1.7 0" fill="#f0901c"/>
<path d="M97.6 411.8a0.85 0.85 0 1 0 1.7 0a0.85 0.85 0 1 0 -1.7 0" fill="#1e1e1e"/>
<path d="M109.3 412.2a0.85 0.85 0 1 0 1.7 0a0.85 0.85 0 1 0 -1.7 0" fill="#34497a"/>
<path d="M100.3 408.2a0.85 0.85 0 1 0 1.7 0a0.85 0.85 0 1 0 -1.7 0M103.9 377.6a0.85 0.85 0 1 0 1.7 0a0.85 0.85 0 1 0 -1.7 0M108.5 374.6a0.85 0.85 0 1 0 1.7 0a0.85 0.85 0 1 0 -1.7 0M99.1 374.8a0.85 0.85 0 1 0 1.7 0a0.85 0.85 0 1 0 -1.7 0" fill="#1e1e1e"/>
<path d="M102.3 370.9a0.85 0.85 0 1 0 1.7 0a0.85 0.85 0 1 0 -1.7 0" fill="#f0901c"/>
<path d="M103.2 414.6a0.85 0.85 0 1 0 1.7 0a0.85 0.85 0 1 0 -1.7 0M103.0 416.0a0.85 0.85 0 1 0 1.7 0a0.85 0.85 0 1 0 -1.7 0" fill="#1e1e1e"/>
<path d="M108.2 405.8a0.85 0.85 0 1 0 1.7 0a0.85 0.85 0 1 0 -1.7 0" fill="#34497a"/>
<path d="M106.0 368.2a0.85 0.85 0 1 0 1.7 0a0.85 0.85 0 1 0 -1.7 0" fill="#f0901c"/>
<path d="M100.4 378.1a0.85 0.85 0 1 0 1.7 0a0.85 0.85 0 1 0 -1.7 0M102.8 416.1a0.85 0.85 0 1 0 1.7 0a0.85 0.85 0 1 0 -1.7 0M103.3 406.7a0.85 0.85 0 1 0 1.7 0a0.85 0.85 0 1 0 -1.7 0M104.6 366.0a0.85 0.85 0 1 0 1.7 0a0.85 0.85 0 1 0 -1.7 0M89.4 409.8a0.85 0.85 0 1 0 1.7 0a0.85 0.85 0 1 0 -1.7 0M105.5 404.6a0.85 0.85 0 1 0 1.7 0a0.85 0.85 0 1 0 -1.7 0M99.2 413.9a0.85 0.85 0 1 0 1.7 0a0.85 0.85 0 1 0 -1.7 0M109.1 373.0a0.85 0.85 0 1 0 1.7 0a0.85 0.85 0 1 0 -1.7 0" fill="#1e1e1e"/>
<path d="M106.8 405.5a0.85 0.85 0 1 0 1.7 0a0.85 0.85 0 1 0 -1.7 0" fill="#34497a"/>
<path d="M108.3 412.9a0.85 0.85 0 1 0 1.7 0a0.85 0.85 0 1 0 -1.7 0M101.4 406.6a0.85 0.85 0 1 0 1.7 0a0.85 0.85 0 1 0 -1.7 0M97.6 378.4a0.85 0.85 0 1 0 1.7 0a0.85 0.85 0 1 0 -1.7 0" fill="#1e1e1e"/>
<path d="M98.0 368.7a0.85 0.85 0 1 0 1.7 0a0.85 0.85 0 1 0 -1.7 0" fill="#f0901c"/>
<path d="M106.7 376.7a0.85 0.85 0 1 0 1.7 0a0.85 0.85 0 1 0 -1.7 0" fill="#1e1e1e"/>
<path d="M104.5 377.6a0.85 0.85 0 1 0 1.7 0a0.85 0.85 0 1 0 -1.7 0" fill="#34497a"/>
<path d="M90.7 401.8a0.85 0.85 0 1 0 1.7 0a0.85 0.85 0 1 0 -1.7 0M106.6 408.9a0.85 0.85 0 1 0 1.7 0a0.85 0.85 0 1 0 -1.7 0M108.8 404.8a0.85 0.85 0 1 0 1.7 0a0.85 0.85 0 1 0 -1.7 0M102.5 417.1a0.85 0.85 0 1 0 1.7 0a0.85 0.85 0 1 0 -1.7 0M103.3 357.9a0.85 0.85 0 1 0 1.7 0a0.85 0.85 0 1 0 -1.7 0M105.9 409.7a0.85 0.85 0 1 0 1.7 0a0.85 0.85 0 1 0 -1.7 0M104.3 405.4a0.85 0.85 0 1 0 1.7 0a0.85 0.85 0 1 0 -1.7 0" fill="#1e1e1e"/>
<path d="M104.6 421.0a0.85 0.85 0 1 0 1.7 0a0.85 0.85 0 1 0 -1.7 0M105.5 408.4a0.85 0.85 0 1 0 1.7 0a0.85 0.85 0 1 0 -1.7 0M106.4 372.0a0.85 0.85 0 1 0 1.7 0a0.85 0.85 0 1 0 -1.7 0" fill="#34497a"/>
<path d="M109.0 376.4a0.85 0.85 0 1 0 1.7 0a0.85 0.85 0 1 0 -1.7 0M103.9 372.7a0.85 0.85 0 1 0 1.7 0a0.85 0.85 0 1 0 -1.7 0M105.6 415.4a0.85 0.85 0 1 0 1.7 0a0.85 0.85 0 1 0 -1.7 0M103.9 406.3a0.85 0.85 0 1 0 1.7 0a0.85 0.85 0 1 0 -1.7 0M109.2 357.1a0.85 0.85 0 1 0 1.7 0a0.85 0.85 0 1 0 -1.7 0" fill="#1e1e1e"/>
<path d="M108.4 406.5a0.85 0.85 0 1 0 1.7 0a0.85 0.85 0 1 0 -1.7 0" fill="#34497a"/>
<path d="M99.9 379.1a0.85 0.85 0 1 0 1.7 0a0.85 0.85 0 1 0 -1.7 0M106.4 373.0a0.85 0.85 0 1 0 1.7 0a0.85 0.85 0 1 0 -1.7 0" fill="#1e1e1e"/>
<path d="M103.4 367.4a0.85 0.85 0 1 0 1.7 0a0.85 0.85 0 1 0 -1.7 0" fill="#34497a"/>
<path d="M107.7 433.2a0.85 0.85 0 1 0 1.7 0a0.85 0.85 0 1 0 -1.7 0" fill="#1e1e1e"/>
<path d="M104.3 379.3a0.85 0.85 0 1 0 1.7 0a0.85 0.85 0 1 0 -1.7 0" fill="#f0901c"/>
<path d="M84.5 422.6a0.85 0.85 0 1 0 1.7 0a0.85 0.85 0 1 0 -1.7 0" fill="#1e1e1e"/>
<path d="M84.2 409.6a0.85 0.85 0 1 0 1.7 0a0.85 0.85 0 1 0 -1.7 0M106.5 377.8a0.85 0.85 0 1 0 1.7 0a0.85 0.85 0 1 0 -1.7 0" fill="#f0901c"/>
<path d="M96.0 418.4a0.85 0.85 0 1 0 1.7 0a0.85 0.85 0 1 0 -1.7 0M107.0 407.3a0.85 0.85 0 1 0 1.7 0a0.85 0.85 0 1 0 -1.7 0" fill="#1e1e1e"/>
<path d="M80.2 360.0a0.85 0.85 0 1 0 1.7 0a0.85 0.85 0 1 0 -1.7 0" fill="#34497a"/>
<path d="M106.7 378.8a0.85 0.85 0 1 0 1.7 0a0.85 0.85 0 1 0 -1.7 0M105.0 369.8a0.85 0.85 0 1 0 1.7 0a0.85 0.85 0 1 0 -1.7 0M108.3 402.9a0.85 0.85 0 1 0 1.7 0a0.85 0.85 0 1 0 -1.7 0" fill="#1e1e1e"/>
<path d="M108.6 430.0a0.85 0.85 0 1 0 1.7 0a0.85 0.85 0 1 0 -1.7 0" fill="#f0901c"/>
<path d="M101.4 378.2a0.85 0.85 0 1 0 1.7 0a0.85 0.85 0 1 0 -1.7 0M103.5 361.5a0.85 0.85 0 1 0 1.7 0a0.85 0.85 0 1 0 -1.7 0" fill="#1e1e1e"/>
<path d="M100.1 365.2a0.85 0.85 0 1 0 1.7 0a0.85 0.85 0 1 0 -1.7 0" fill="#34497a"/>
<path d="M101.9 379.2a0.85 0.85 0 1 0 1.7 0a0.85 0.85 0 1 0 -1.7 0" fill="#1e1e1e"/>
<path d="M108.8 417.2a0.85 0.85 0 1 0 1.7 0a0.85 0.85 0 1 0 -1.7 0" fill="#8a8a8a"/>
<path d="M98.4 421.5a0.85 0.85 0 1 0 1.7 0a0.85 0.85 0 1 0 -1.7 0M107.3 376.6a0.85 0.85 0 1 0 1.7 0a0.85 0.85 0 1 0 -1.7 0M85.3 354.4a0.85 0.85 0 1 0 1.7 0a0.85 0.85 0 1 0 -1.7 0M97.6 366.1a0.85 0.85 0 1 0 1.7 0a0.85 0.85 0 1 0 -1.7 0M107.3 378.1a0.85 0.85 0 1 0 1.7 0a0.85 0.85 0 1 0 -1.7 0M108.6 413.4a0.85 0.85 0 1 0 1.7 0a0.85 0.85 0 1 0 -1.7 0" fill="#1e1e1e"/>
<path d="M95.7 412.4a0.85 0.85 0 1 0 1.7 0a0.85 0.85 0 1 0 -1.7 0" fill="#f0901c"/>
<path d="M109.4 418.3a0.85 0.85 0 1 0 1.7 0a0.85 0.85 0 1 0 -1.7 0" fill="#1e1e1e"/>
<path d="M106.9 408.5a0.85 0.85 0 1 0 1.7 0a0.85 0.85 0 1 0 -1.7 0M109.2 406.9a0.85 0.85 0 1 0 1.7 0a0.85 0.85 0 1 0 -1.7 0" fill="#f0901c"/>
<path d="M109.1 403.7a0.85 0.85 0 1 0 1.7 0a0.85 0.85 0 1 0 -1.7 0M100.3 410.1a0.85 0.85 0 1 0 1.7 0a0.85 0.85 0 1 0 -1.7 0M88.1 399.5a0.85 0.85 0 1 0 1.7 0a0.85 0.85 0 1 0 -1.7 0M108.5 378.3a0.85 0.85 0 1 0 1.7 0a0.85 0.85 0 1 0 -1.7 0" fill="#1e1e1e"/>
<path d="M100.9 377.1a0.85 0.85 0 1 0 1.7 0a0.85 0.85 0 1 0 -1.7 0" fill="#34497a"/>
<path d="M106.9 378.8a0.85 0.85 0 1 0 1.7 0a0.85 0.85 0 1 0 -1.7 0M96.2 379.1a0.85 0.85 0 1 0 1.7 0a0.85 0.85 0 1 0 -1.7 0" fill="#1e1e1e"/>
<path d="M103.6 418.6a0.85 0.85 0 1 0 1.7 0a0.85 0.85 0 1 0 -1.7 0" fill="#f0901c"/>
<path d="M97.2 406.8a0.85 0.85 0 1 0 1.7 0a0.85 0.85 0 1 0 -1.7 0M100.3 413.2a0.85 0.85 0 1 0 1.7 0a0.85 0.85 0 1 0 -1.7 0M105.3 377.9a0.85 0.85 0 1 0 1.7 0a0.85 0.85 0 1 0 -1.7 0M109.3 435.2a0.85 0.85 0 1 0 1.7 0a0.85 0.85 0 1 0 -1.7 0M104.8 424.0a0.85 0.85 0 1 0 1.7 0a0.85 0.85 0 1 0 -1.7 0M105.8 374.3a0.85 0.85 0 1 0 1.7 0a0.85 0.85 0 1 0 -1.7 0" fill="#1e1e1e"/>
<path d="M105.7 380.1a0.85 0.85 0 1 0 1.7 0a0.85 0.85 0 1 0 -1.7 0" fill="#f0901c"/>
<path d="M109.2 373.8a0.85 0.85 0 1 0 1.7 0a0.85 0.85 0 1 0 -1.7 0" fill="#1e1e1e"/>
<path d="M105.0 406.2a0.85 0.85 0 1 0 1.7 0a0.85 0.85 0 1 0 -1.7 0" fill="#34497a"/>
<path d="M106.6 377.2a0.85 0.85 0 1 0 1.7 0a0.85 0.85 0 1 0 -1.7 0M101.0 379.4a0.85 0.85 0 1 0 1.7 0a0.85 0.85 0 1 0 -1.7 0" fill="#1e1e1e"/>
<path d="M103.2 408.2a0.85 0.85 0 1 0 1.7 0a0.85 0.85 0 1 0 -1.7 0" fill="#8a8a8a"/>
<path d="M109.1 386.0a0.85 0.85 0 1 0 1.7 0a0.85 0.85 0 1 0 -1.7 0M105.2 373.3a0.85 0.85 0 1 0 1.7 0a0.85 0.85 0 1 0 -1.7 0M51.1 371.0a0.85 0.85 0 1 0 1.7 0a0.85 0.85 0 1 0 -1.7 0M104.6 421.3a0.85 0.85 0 1 0 1.7 0a0.85 0.85 0 1 0 -1.7 0M100.7 369.4a0.85 0.85 0 1 0 1.7 0a0.85 0.85 0 1 0 -1.7 0M101.5 354.4a0.85 0.85 0 1 0 1.7 0a0.85 0.85 0 1 0 -1.7 0" fill="#1e1e1e"/>
<path d="M107.2 366.0a0.85 0.85 0 1 0 1.7 0a0.85 0.85 0 1 0 -1.7 0" fill="#8a8a8a"/>
<path d="M95.8 371.6a0.85 0.85 0 1 0 1.7 0a0.85 0.85 0 1 0 -1.7 0M108.6 431.5a0.85 0.85 0 1 0 1.7 0a0.85 0.85 0 1 0 -1.7 0" fill="#1e1e1e"/>
<path d="M109.5 414.0a0.85 0.85 0 1 0 1.7 0a0.85 0.85 0 1 0 -1.7 0" fill="#34497a"/>
<path d="M102.1 366.9a0.85 0.85 0 1 0 1.7 0a0.85 0.85 0 1 0 -1.7 0M92.8 418.5a0.85 0.85 0 1 0 1.7 0a0.85 0.85 0 1 0 -1.7 0" fill="#1e1e1e"/>
<path d="M87.2 426.0a0.85 0.85 0 1 0 1.7 0a0.85 0.85 0 1 0 -1.7 0" fill="#f0901c"/>
<path d="M93.2 405.3a0.85 0.85 0 1 0 1.7 0a0.85 0.85 0 1 0 -1.7 0M108.7 364.4a0.85 0.85 0 1 0 1.7 0a0.85 0.85 0 1 0 -1.7 0" fill="#1e1e1e"/>
<path d="M108.1 406.0a0.85 0.85 0 1 0 1.7 0a0.85 0.85 0 1 0 -1.7 0" fill="#8a8a8a"/>
<path d="M107.6 406.6a0.85 0.85 0 1 0 1.7 0a0.85 0.85 0 1 0 -1.7 0M106.0 410.2a0.85 0.85 0 1 0 1.7 0a0.85 0.85 0 1 0 -1.7 0M107.7 408.7a0.85 0.85 0 1 0 1.7 0a0.85 0.85 0 1 0 -1.7 0M106.1 369.8a0.85 0.85 0 1 0 1.7 0a0.85 0.85 0 1 0 -1.7 0" fill="#1e1e1e"/>
<path d="M96.6 368.0a0.85 0.85 0 1 0 1.7 0a0.85 0.85 0 1 0 -1.7 0" fill="#34497a"/>
<path d="M102.9 411.6a0.85 0.85 0 1 0 1.7 0a0.85 0.85 0 1 0 -1.7 0" fill="#1e1e1e"/>
<path d="M102.4 374.0a0.85 0.85 0 1 0 1.7 0a0.85 0.85 0 1 0 -1.7 0" fill="#34497a"/>
<path d="M105.1 400.6a0.85 0.85 0 1 0 1.7 0a0.85 0.85 0 1 0 -1.7 0M107.9 407.7a0.85 0.85 0 1 0 1.7 0a0.85 0.85 0 1 0 -1.7 0" fill="#1e1e1e"/>
<path d="M105.6 380.3a0.85 0.85 0 1 0 1.7 0a0.85 0.85 0 1 0 -1.7 0" fill="#34497a"/>
<path d="M107.1 406.2a0.85 0.85 0 1 0 1.7 0a0.85 0.85 0 1 0 -1.7 0" fill="#1e1e1e"/>
<path d="M108.7 418.7a0.85 0.85 0 1 0 1.7 0a0.85 0.85 0 1 0 -1.7 0" fill="#f0901c"/>
<path d="M100.2 364.1a0.85 0.85 0 1 0 1.7 0a0.85 0.85 0 1 0 -1.7 0M109.3 391.4a0.85 0.85 0 1 0 1.7 0a0.85 0.85 0 1 0 -1.7 0" fill="#1e1e1e"/>
<path d="M107.0 365.5a0.85 0.85 0 1 0 1.7 0a0.85 0.85 0 1 0 -1.7 0" fill="#f0901c"/>
<path d="M88.5 398.2a0.85 0.85 0 1 0 1.7 0a0.85 0.85 0 1 0 -1.7 0M107.6 418.8a0.85 0.85 0 1 0 1.7 0a0.85 0.85 0 1 0 -1.7 0M101.4 413.7a0.85 0.85 0 1 0 1.7 0a0.85 0.85 0 1 0 -1.7 0M109.2 361.7a0.85 0.85 0 1 0 1.7 0a0.85 0.85 0 1 0 -1.7 0" fill="#1e1e1e"/>
<path d="M108.2 376.1a0.85 0.85 0 1 0 1.7 0a0.85 0.85 0 1 0 -1.7 0M102.8 376.2a0.85 0.85 0 1 0 1.7 0a0.85 0.85 0 1 0 -1.7 0" fill="#f0901c"/>
<path d="M104.1 371.6a0.85 0.85 0 1 0 1.7 0a0.85 0.85 0 1 0 -1.7 0M104.3 408.2a0.85 0.85 0 1 0 1.7 0a0.85 0.85 0 1 0 -1.7 0M105.5 408.7a0.85 0.85 0 1 0 1.7 0a0.85 0.85 0 1 0 -1.7 0" fill="#1e1e1e"/>
<path d="M101.0 409.0a0.85 0.85 0 1 0 1.7 0a0.85 0.85 0 1 0 -1.7 0" fill="#34497a"/>
<polygon points="99,380.5 110.8,379.5 110.8,405.0 100,404.5 98.5,397.0 109,392.2 97.5,388.5 97,383.0" fill="#f0901c"/>
<path d="M109.5 381.0a0.85 0.85 0 1 0 1.7 0a0.85 0.85 0 1 0 -1.7 0M109.5 404.8a0.85 0.85 0 1 0 1.7 0a0.85 0.85 0 1 0 -1.7 0M105.7 377.3a0.85 0.85 0 1 0 1.7 0a0.85 0.85 0 1 0 -1.7 0" fill="#1e1e1e"/>
<path d="M103.2 379.6a0.85 0.85 0 1 0 1.7 0a0.85 0.85 0 1 0 -1.7 0" fill="#8a8a8a"/>
<path d="M99.5 383.2a0.85 0.85 0 1 0 1.7 0a0.85 0.85 0 1 0 -1.7 0M109.0 401.6a0.85 0.85 0 1 0 1.7 0a0.85 0.85 0 1 0 -1.7 0M104.6 402.2a0.85 0.85 0 1 0 1.7 0a0.85 0.85 0 1 0 -1.7 0" fill="#1e1e1e"/>
<path d="M108.6 401.4a0.85 0.85 0 1 0 1.7 0a0.85 0.85 0 1 0 -1.7 0" fill="#34497a"/>
<path d="M104.3 382.6a0.85 0.85 0 1 0 1.7 0a0.85 0.85 0 1 0 -1.7 0M102.1 401.8a0.85 0.85 0 1 0 1.7 0a0.85 0.85 0 1 0 -1.7 0M102.6 406.1a0.85 0.85 0 1 0 1.7 0a0.85 0.85 0 1 0 -1.7 0M100.8 403.6a0.85 0.85 0 1 0 1.7 0a0.85 0.85 0 1 0 -1.7 0M104.7 381.2a0.85 0.85 0 1 0 1.7 0a0.85 0.85 0 1 0 -1.7 0" fill="#1e1e1e"/>
<path d="M108.7 406.6a0.85 0.85 0 1 0 1.7 0a0.85 0.85 0 1 0 -1.7 0" fill="#8a8a8a"/>
<path d="M104.4 377.8a0.85 0.85 0 1 0 1.7 0a0.85 0.85 0 1 0 -1.7 0" fill="#1e1e1e"/>
<path d="M102.5 400.7a0.85 0.85 0 1 0 1.7 0a0.85 0.85 0 1 0 -1.7 0" fill="#8a8a8a"/>
<path d="M101.9 377.4a0.85 0.85 0 1 0 1.7 0a0.85 0.85 0 1 0 -1.7 0M103.7 380.2a0.85 0.85 0 1 0 1.7 0a0.85 0.85 0 1 0 -1.7 0M109.1 407.4a0.85 0.85 0 1 0 1.7 0a0.85 0.85 0 1 0 -1.7 0" fill="#1e1e1e"/>
<path d="M100.4 403.6a0.85 0.85 0 1 0 1.7 0a0.85 0.85 0 1 0 -1.7 0" fill="#34497a"/>
<path d="M99.4 402.5a0.85 0.85 0 1 0 1.7 0a0.85 0.85 0 1 0 -1.7 0M98.2 406.5a0.85 0.85 0 1 0 1.7 0a0.85 0.85 0 1 0 -1.7 0M105.6 401.7a0.85 0.85 0 1 0 1.7 0a0.85 0.85 0 1 0 -1.7 0" fill="#1e1e1e"/>
<path d="M103.6 404.7a0.85 0.85 0 1 0 1.7 0a0.85 0.85 0 1 0 -1.7 0" fill="#34497a"/>
<path d="M102.2 381.2a0.85 0.85 0 1 0 1.7 0a0.85 0.85 0 1 0 -1.7 0" fill="#1e1e1e"/>
<path d="M101.8 383.3a0.85 0.85 0 1 0 1.7 0a0.85 0.85 0 1 0 -1.7 0" fill="#8a8a8a"/>
<path d="M109.9 403.9a0.85 0.85 0 1 0 1.7 0a0.85 0.85 0 1 0 -1.7 0" fill="#34497a"/>
<path d="M108.6 406.5a0.85 0.85 0 1 0 1.7 0a0.85 0.85 0 1 0 -1.7 0M103.8 397.5a0.85 0.85 0 1 0 1.7 0a0.85 0.85 0 1 0 -1.7 0M108.3 394.8a0.85 0.85 0 1 0 1.7 0a0.85 0.85 0 1 0 -1.7 0M106.2 394.1a0.85 0.85 0 1 0 1.7 0a0.85 0.85 0 1 0 -1.7 0M106.8 394.9a0.85 0.85 0 1 0 1.7 0a0.85 0.85 0 1 0 -1.7 0M109.6 398.3a0.85 0.85 0 1 0 1.7 0a0.85 0.85 0 1 0 -1.7 0M105.1 400.3a0.85 0.85 0 1 0 1.7 0a0.85 0.85 0 1 0 -1.7 0M108.4 399.4a0.85 0.85 0 1 0 1.7 0a0.85 0.85 0 1 0 -1.7 0M105.2 388.8a0.85 0.85 0 1 0 1.7 0a0.85 0.85 0 1 0 -1.7 0" fill="#1e1e1e"/>
<rect x="45.7" y="327" width="65.6" height="130.60000000000002" fill="none" stroke="#2a2a2a" stroke-width="1"/>
<line x1="42.7" y1="326.91999999999996" x2="45.7" y2="326.91999999999996" stroke="#2a2a2a" stroke-width="0.8"/>
<text x="40.2" y="329.71999999999997" font-size="8" text-anchor="end" fill="#2a2a2a">6</text>
<line x1="42.7" y1="359.56" x2="45.7" y2="359.56" stroke="#2a2a2a" stroke-width="0.8"/>
<text x="40.2" y="362.36" font-size="8" text-anchor="end" fill="#2a2a2a">3</text>
<line x1="42.7" y1="392.2" x2="45.7" y2="392.2" stroke="#2a2a2a" stroke-width="0.8"/>
<text x="40.2" y="395.0" font-size="8" text-anchor="end" fill="#2a2a2a">0</text>
<line x1="42.7" y1="424.84" x2="45.7" y2="424.84" stroke="#2a2a2a" stroke-width="0.8"/>
<text x="40.2" y="427.64" font-size="8" text-anchor="end" fill="#2a2a2a">−3</text>
<line x1="42.7" y1="457.48" x2="45.7" y2="457.48" stroke="#2a2a2a" stroke-width="0.8"/>
<text x="40.2" y="460.28000000000003" font-size="8" text-anchor="end" fill="#2a2a2a">−6</text>
<line x1="45.900000000000006" y1="457.6" x2="45.900000000000006" y2="460.6" stroke="#2a2a2a" stroke-width="0.8"/>
<text x="45.900000000000006" y="470.6" font-size="8" text-anchor="middle" fill="#2a2a2a">200</text>
<line x1="78.15" y1="457.6" x2="78.15" y2="460.6" stroke="#2a2a2a" stroke-width="0.8"/>
<text x="78.15" y="470.6" font-size="8" text-anchor="middle" fill="#2a2a2a">100</text>
<line x1="110.4" y1="457.6" x2="110.4" y2="460.6" stroke="#2a2a2a" stroke-width="0.8"/>
<text x="110.4" y="470.6" font-size="8" text-anchor="middle" fill="#2a2a2a">0</text>
<text x="25" y="392.3" font-size="7.2" font-weight="bold" text-anchor="middle" fill="#2a2a2a" transform="rotate(-90 25 392.3)" textLength="47" lengthAdjust="spacingAndGlyphs">log2 (fold change)</text>
<text x="78.5" y="482.40000000000003" font-size="7.2" font-weight="bold" text-anchor="middle" fill="#2a2a2a" textLength="37.5" lengthAdjust="spacingAndGlyphs">-log<tspan font-size="4.4" dy="1.4">10</tspan><tspan dy="-1.4">(</tspan><tspan font-style="italic">P</tspan>-value)</text>
<line x1="127.4" y1="381.32" x2="258.5" y2="381.32" stroke="#dcdcdc" stroke-width="0.7"/>
<line x1="127.4" y1="403.08" x2="258.5" y2="403.08" stroke="#dcdcdc" stroke-width="0.7"/>
<line x1="188.9" y1="327" x2="188.9" y2="457.6" stroke="#dcdcdc" stroke-width="0.7"/>
<line x1="197.1" y1="327" x2="197.1" y2="457.6" stroke="#dcdcdc" stroke-width="0.7"/>
<path d="M213.1 374.7a0.85 0.85 0 1 0 1.7 0a0.85 0.85 0 1 0 -1.7 0M226.4 379.9a0.85 0.85 0 1 0 1.7 0a0.85 0.85 0 1 0 -1.7 0M209.4 426.6a0.85 0.85 0 1 0 1.7 0a0.85 0.85 0 1 0 -1.7 0M231.3 377.2a0.85 0.85 0 1 0 1.7 0a0.85 0.85 0 1 0 -1.7 0M198.6 376.6a0.85 0.85 0 1 0 1.7 0a0.85 0.85 0 1 0 -1.7 0" fill="#1e1e1e"/>
<path d="M222.1 375.3a0.85 0.85 0 1 0 1.7 0a0.85 0.85 0 1 0 -1.7 0M197.6 372.5a0.85 0.85 0 1 0 1.7 0a0.85 0.85 0 1 0 -1.7 0M216.0 379.0a0.85 0.85 0 1 0 1.7 0a0.85 0.85 0 1 0 -1.7 0" fill="#f0901c"/>
<path d="M217.7 378.0a0.85 0.85 0 1 0 1.7 0a0.85 0.85 0 1 0 -1.7 0" fill="#1e1e1e"/>
<path d="M217.8 374.6a0.85 0.85 0 1 0 1.7 0a0.85 0.85 0 1 0 -1.7 0" fill="#f0901c"/>
<path d="M240.3 378.0a0.85 0.85 0 1 0 1.7 0a0.85 0.85 0 1 0 -1.7 0M223.0 403.5a0.85 0.85 0 1 0 1.7 0a0.85 0.85 0 1 0 -1.7 0" fill="#1e1e1e"/>
<path d="M203.4 409.6a0.85 0.85 0 1 0 1.7 0a0.85 0.85 0 1 0 -1.7 0" fill="#34497a"/>
<path d="M220.6 376.2a0.85 0.85 0 1 0 1.7 0a0.85 0.85 0 1 0 -1.7 0M203.4 353.3a0.85 0.85 0 1 0 1.7 0a0.85 0.85 0 1 0 -1.7 0" fill="#1e1e1e"/>
<path d="M176.6 403.5a0.85 0.85 0 1 0 1.7 0a0.85 0.85 0 1 0 -1.7 0" fill="#34497a"/>
<path d="M189.5 429.8a0.85 0.85 0 1 0 1.7 0a0.85 0.85 0 1 0 -1.7 0" fill="#1e1e1e"/>
<path d="M199.8 405.4a0.85 0.85 0 1 0 1.7 0a0.85 0.85 0 1 0 -1.7 0" fill="#f0901c"/>
<path d="M210.8 404.4a0.85 0.85 0 1 0 1.7 0a0.85 0.85 0 1 0 -1.7 0M214.4 375.8a0.85 0.85 0 1 0 1.7 0a0.85 0.85 0 1 0 -1.7 0M215.4 378.0a0.85 0.85 0 1 0 1.7 0a0.85 0.85 0 1 0 -1.7 0" fill="#1e1e1e"/>
<path d="M220.1 374.9a0.85 0.85 0 1 0 1.7 0a0.85 0.85 0 1 0 -1.7 0" fill="#8a8a8a"/>
<path d="M205.3 408.7a0.85 0.85 0 1 0 1.7 0a0.85 0.85 0 1 0 -1.7 0M211.2 376.0a0.85 0.85 0 1 0 1.7 0a0.85 0.85 0 1 0 -1.7 0M171.9 405.5a0.85 0.85 0 1 0 1.7 0a0.85 0.85 0 1 0 -1.7 0M190.0 417.1a0.85 0.85 0 1 0 1.7 0a0.85 0.85 0 1 0 -1.7 0" fill="#1e1e1e"/>
<path d="M240.7 378.3a0.85 0.85 0 1 0 1.7 0a0.85 0.85 0 1 0 -1.7 0" fill="#f0901c"/>
<path d="M220.1 377.9a0.85 0.85 0 1 0 1.7 0a0.85 0.85 0 1 0 -1.7 0M200.3 376.2a0.85 0.85 0 1 0 1.7 0a0.85 0.85 0 1 0 -1.7 0M213.7 378.9a0.85 0.85 0 1 0 1.7 0a0.85 0.85 0 1 0 -1.7 0M202.5 373.9a0.85 0.85 0 1 0 1.7 0a0.85 0.85 0 1 0 -1.7 0M181.5 378.4a0.85 0.85 0 1 0 1.7 0a0.85 0.85 0 1 0 -1.7 0M238.6 379.0a0.85 0.85 0 1 0 1.7 0a0.85 0.85 0 1 0 -1.7 0" fill="#1e1e1e"/>
<path d="M179.0 404.9a0.85 0.85 0 1 0 1.7 0a0.85 0.85 0 1 0 -1.7 0" fill="#f0901c"/>
<path d="M213.9 372.7a0.85 0.85 0 1 0 1.7 0a0.85 0.85 0 1 0 -1.7 0" fill="#1e1e1e"/>
<path d="M235.1 373.2a0.85 0.85 0 1 0 1.7 0a0.85 0.85 0 1 0 -1.7 0" fill="#34497a"/>
<path d="M192.8 372.3a0.85 0.85 0 1 0 1.7 0a0.85 0.85 0 1 0 -1.7 0M199.7 405.9a0.85 0.85 0 1 0 1.7 0a0.85 0.85 0 1 0 -1.7 0" fill="#1e1e1e"/>
<path d="M228.5 376.3a0.85 0.85 0 1 0 1.7 0a0.85 0.85 0 1 0 -1.7 0" fill="#f0901c"/>
<path d="M211.6 409.1a0.85 0.85 0 1 0 1.7 0a0.85 0.85 0 1 0 -1.7 0M192.8 422.1a0.85 0.85 0 1 0 1.7 0a0.85 0.85 0 1 0 -1.7 0M199.4 425.7a0.85 0.85 0 1 0 1.7 0a0.85 0.85 0 1 0 -1.7 0" fill="#1e1e1e"/>
<path d="M224.5 376.7a0.85 0.85 0 1 0 1.7 0a0.85 0.85 0 1 0 -1.7 0" fill="#8a8a8a"/>
<path d="M235.0 408.2a0.85 0.85 0 1 0 1.7 0a0.85 0.85 0 1 0 -1.7 0" fill="#f0901c"/>
<path d="M215.5 376.4a0.85 0.85 0 1 0 1.7 0a0.85 0.85 0 1 0 -1.7 0M204.6 376.3a0.85 0.85 0 1 0 1.7 0a0.85 0.85 0 1 0 -1.7 0M221.5 371.0a0.85 0.85 0 1 0 1.7 0a0.85 0.85 0 1 0 -1.7 0M211.7 403.8a0.85 0.85 0 1 0 1.7 0a0.85 0.85 0 1 0 -1.7 0M181.7 351.4a0.85 0.85 0 1 0 1.7 0a0.85 0.85 0 1 0 -1.7 0" fill="#1e1e1e"/>
<path d="M220.9 369.5a0.85 0.85 0 1 0 1.7 0a0.85 0.85 0 1 0 -1.7 0M227.3 377.6a0.85 0.85 0 1 0 1.7 0a0.85 0.85 0 1 0 -1.7 0" fill="#f0901c"/>
<path d="M198.1 403.3a0.85 0.85 0 1 0 1.7 0a0.85 0.85 0 1 0 -1.7 0M226.8 369.5a0.85 0.85 0 1 0 1.7 0a0.85 0.85 0 1 0 -1.7 0" fill="#1e1e1e"/>
<path d="M231.2 373.8a0.85 0.85 0 1 0 1.7 0a0.85 0.85 0 1 0 -1.7 0M235.9 375.9a0.85 0.85 0 1 0 1.7 0a0.85 0.85 0 1 0 -1.7 0" fill="#f0901c"/>
<path d="M220.0 374.2a0.85 0.85 0 1 0 1.7 0a0.85 0.85 0 1 0 -1.7 0" fill="#1e1e1e"/>
<path d="M202.8 371.2a0.85 0.85 0 1 0 1.7 0a0.85 0.85 0 1 0 -1.7 0" fill="#f0901c"/>
<path d="M210.0 375.9a0.85 0.85 0 1 0 1.7 0a0.85 0.85 0 1 0 -1.7 0" fill="#1e1e1e"/>
<path d="M172.5 427.8a0.85 0.85 0 1 0 1.7 0a0.85 0.85 0 1 0 -1.7 0" fill="#34497a"/>
<path d="M206.6 375.9a0.85 0.85 0 1 0 1.7 0a0.85 0.85 0 1 0 -1.7 0" fill="#f0901c"/>
<path d="M219.8 376.0a0.85 0.85 0 1 0 1.7 0a0.85 0.85 0 1 0 -1.7 0M191.7 373.8a0.85 0.85 0 1 0 1.7 0a0.85 0.85 0 1 0 -1.7 0M213.1 374.2a0.85 0.85 0 1 0 1.7 0a0.85 0.85 0 1 0 -1.7 0M203.2 380.1a0.85 0.85 0 1 0 1.7 0a0.85 0.85 0 1 0 -1.7 0M203.0 420.3a0.85 0.85 0 1 0 1.7 0a0.85 0.85 0 1 0 -1.7 0M232.1 406.1a0.85 0.85 0 1 0 1.7 0a0.85 0.85 0 1 0 -1.7 0" fill="#1e1e1e"/>
<path d="M190.6 378.3a0.85 0.85 0 1 0 1.7 0a0.85 0.85 0 1 0 -1.7 0" fill="#34497a"/>
<path d="M196.9 375.1a0.85 0.85 0 1 0 1.7 0a0.85 0.85 0 1 0 -1.7 0M211.2 406.3a0.85 0.85 0 1 0 1.7 0a0.85 0.85 0 1 0 -1.7 0" fill="#1e1e1e"/>
<path d="M202.5 373.6a0.85 0.85 0 1 0 1.7 0a0.85 0.85 0 1 0 -1.7 0" fill="#f0901c"/>
<path d="M214.7 369.0a0.85 0.85 0 1 0 1.7 0a0.85 0.85 0 1 0 -1.7 0M221.9 371.1a0.85 0.85 0 1 0 1.7 0a0.85 0.85 0 1 0 -1.7 0M188.5 355.2a0.85 0.85 0 1 0 1.7 0a0.85 0.85 0 1 0 -1.7 0M209.7 379.9a0.85 0.85 0 1 0 1.7 0a0.85 0.85 0 1 0 -1.7 0M231.7 406.1a0.85 0.85 0 1 0 1.7 0a0.85 0.85 0 1 0 -1.7 0M213.8 377.3a0.85 0.85 0 1 0 1.7 0a0.85 0.85 0 1 0 -1.7 0M189.5 359.5a0.85 0.85 0 1 0 1.7 0a0.85 0.85 0 1 0 -1.7 0" fill="#1e1e1e"/>
<path d="M208.9 369.5a0.85 0.85 0 1 0 1.7 0a0.85 0.85 0 1 0 -1.7 0" fill="#f0901c"/>
<path d="M213.7 375.2a0.85 0.85 0 1 0 1.7 0a0.85 0.85 0 1 0 -1.7 0M164.0 380.0a0.85 0.85 0 1 0 1.7 0a0.85 0.85 0 1 0 -1.7 0" fill="#1e1e1e"/>
<path d="M210.7 403.6a0.85 0.85 0 1 0 1.7 0a0.85 0.85 0 1 0 -1.7 0" fill="#34497a"/>
<path d="M209.8 403.6a0.85 0.85 0 1 0 1.7 0a0.85 0.85 0 1 0 -1.7 0" fill="#1e1e1e"/>
<path d="M218.6 377.9a0.85 0.85 0 1 0 1.7 0a0.85 0.85 0 1 0 -1.7 0" fill="#f0901c"/>
<path d="M213.0 376.2a0.85 0.85 0 1 0 1.7 0a0.85 0.85 0 1 0 -1.7 0M150.6 427.2a0.85 0.85 0 1 0 1.7 0a0.85 0.85 0 1 0 -1.7 0M212.8 378.2a0.85 0.85 0 1 0 1.7 0a0.85 0.85 0 1 0 -1.7 0M187.2 371.3a0.85 0.85 0 1 0 1.7 0a0.85 0.85 0 1 0 -1.7 0M227.8 380.1a0.85 0.85 0 1 0 1.7 0a0.85 0.85 0 1 0 -1.7 0M169.9 380.2a0.85 0.85 0 1 0 1.7 0a0.85 0.85 0 1 0 -1.7 0M234.5 378.3a0.85 0.85 0 1 0 1.7 0a0.85 0.85 0 1 0 -1.7 0" fill="#1e1e1e"/>
<path d="M198.2 380.0a0.85 0.85 0 1 0 1.7 0a0.85 0.85 0 1 0 -1.7 0" fill="#34497a"/>
<path d="M220.6 374.9a0.85 0.85 0 1 0 1.7 0a0.85 0.85 0 1 0 -1.7 0" fill="#f0901c"/>
<path d="M212.8 380.4a0.85 0.85 0 1 0 1.7 0a0.85 0.85 0 1 0 -1.7 0M233.0 379.9a0.85 0.85 0 1 0 1.7 0a0.85 0.85 0 1 0 -1.7 0M208.2 377.0a0.85 0.85 0 1 0 1.7 0a0.85 0.85 0 1 0 -1.7 0M221.8 404.3a0.85 0.85 0 1 0 1.7 0a0.85 0.85 0 1 0 -1.7 0M170.1 406.6a0.85 0.85 0 1 0 1.7 0a0.85 0.85 0 1 0 -1.7 0M207.3 404.3a0.85 0.85 0 1 0 1.7 0a0.85 0.85 0 1 0 -1.7 0" fill="#1e1e1e"/>
<path d="M213.6 371.9a0.85 0.85 0 1 0 1.7 0a0.85 0.85 0 1 0 -1.7 0" fill="#f0901c"/>
<path d="M213.9 375.9a0.85 0.85 0 1 0 1.7 0a0.85 0.85 0 1 0 -1.7 0M190.6 406.7a0.85 0.85 0 1 0 1.7 0a0.85 0.85 0 1 0 -1.7 0M192.4 405.9a0.85 0.85 0 1 0 1.7 0a0.85 0.85 0 1 0 -1.7 0" fill="#1e1e1e"/>
<path d="M218.1 377.3a0.85 0.85 0 1 0 1.7 0a0.85 0.85 0 1 0 -1.7 0" fill="#34497a"/>
<path d="M179.9 374.4a0.85 0.85 0 1 0 1.7 0a0.85 0.85 0 1 0 -1.7 0" fill="#1e1e1e"/>
<path d="M186.7 370.1a0.85 0.85 0 1 0 1.7 0a0.85 0.85 0 1 0 -1.7 0" fill="#34497a"/>
<path d="M180.2 428.7a0.85 0.85 0 1 0 1.7 0a0.85 0.85 0 1 0 -1.7 0M162.2 379.6a0.85 0.85 0 1 0 1.7 0a0.85 0.85 0 1 0 -1.7 0M172.0 414.2a0.85 0.85 0 1 0 1.7 0a0.85 0.85 0 1 0 -1.7 0M170.2 404.9a0.85 0.85 0 1 0 1.7 0a0.85 0.85 0 1 0 -1.7 0" fill="#1e1e1e"/>
<path d="M215.2 350.7a0.85 0.85 0 1 0 1.7 0a0.85 0.85 0 1 0 -1.7 0" fill="#f0901c"/>
<path d="M182.9 433.5a0.85 0.85 0 1 0 1.7 0a0.85 0.85 0 1 0 -1.7 0M198.5 379.8a0.85 0.85 0 1 0 1.7 0a0.85 0.85 0 1 0 -1.7 0M224.3 379.2a0.85 0.85 0 1 0 1.7 0a0.85 0.85 0 1 0 -1.7 0M172.7 427.6a0.85 0.85 0 1 0 1.7 0a0.85 0.85 0 1 0 -1.7 0M195.9 378.6a0.85 0.85 0 1 0 1.7 0a0.85 0.85 0 1 0 -1.7 0M211.6 403.6a0.85 0.85 0 1 0 1.7 0a0.85 0.85 0 1 0 -1.7 0M209.1 404.4a0.85 0.85 0 1 0 1.7 0a0.85 0.85 0 1 0 -1.7 0" fill="#1e1e1e"/>
<path d="M174.2 379.8a0.85 0.85 0 1 0 1.7 0a0.85 0.85 0 1 0 -1.7 0" fill="#f0901c"/>
<path d="M217.1 373.3a0.85 0.85 0 1 0 1.7 0a0.85 0.85 0 1 0 -1.7 0" fill="#1e1e1e"/>
<path d="M197.2 404.4a0.85 0.85 0 1 0 1.7 0a0.85 0.85 0 1 0 -1.7 0" fill="#f0901c"/>
<path d="M199.2 455.0a0.85 0.85 0 1 0 1.7 0a0.85 0.85 0 1 0 -1.7 0M159.6 416.5a0.85 0.85 0 1 0 1.7 0a0.85 0.85 0 1 0 -1.7 0M175.9 432.2a0.85 0.85 0 1 0 1.7 0a0.85 0.85 0 1 0 -1.7 0M247.7 377.4a0.85 0.85 0 1 0 1.7 0a0.85 0.85 0 1 0 -1.7 0M175.2 403.3a0.85 0.85 0 1 0 1.7 0a0.85 0.85 0 1 0 -1.7 0" fill="#1e1e1e"/>
<path d="M221.4 406.2a0.85 0.85 0 1 0 1.7 0a0.85 0.85 0 1 0 -1.7 0" fill="#f0901c"/>
<path d="M217.8 374.4a0.85 0.85 0 1 0 1.7 0a0.85 0.85 0 1 0 -1.7 0M242.3 358.4a0.85 0.85 0 1 0 1.7 0a0.85 0.85 0 1 0 -1.7 0M212.3 374.1a0.85 0.85 0 1 0 1.7 0a0.85 0.85 0 1 0 -1.7 0M186.1 356.5a0.85 0.85 0 1 0 1.7 0a0.85 0.85 0 1 0 -1.7 0M206.8 370.5a0.85 0.85 0 1 0 1.7 0a0.85 0.85 0 1 0 -1.7 0M186.8 422.5a0.85 0.85 0 1 0 1.7 0a0.85 0.85 0 1 0 -1.7 0M194.4 362.4a0.85 0.85 0 1 0 1.7 0a0.85 0.85 0 1 0 -1.7 0M225.6 376.2a0.85 0.85 0 1 0 1.7 0a0.85 0.85 0 1 0 -1.7 0M192.3 364.3a0.85 0.85 0 1 0 1.7 0a0.85 0.85 0 1 0 -1.7 0M230.4 374.2a0.85 0.85 0 1 0 1.7 0a0.85 0.85 0 1 0 -1.7 0M198.8 377.4a0.85 0.85 0 1 0 1.7 0a0.85 0.85 0 1 0 -1.7 0M178.6 428.8a0.85 0.85 0 1 0 1.7 0a0.85 0.85 0 1 0 -1.7 0M225.3 361.0a0.85 0.85 0 1 0 1.7 0a0.85 0.85 0 1 0 -1.7 0M215.4 376.1a0.85 0.85 0 1 0 1.7 0a0.85 0.85 0 1 0 -1.7 0M227.1 379.9a0.85 0.85 0 1 0 1.7 0a0.85 0.85 0 1 0 -1.7 0M232.9 359.7a0.85 0.85 0 1 0 1.7 0a0.85 0.85 0 1 0 -1.7 0M222.1 377.0a0.85 0.85 0 1 0 1.7 0a0.85 0.85 0 1 0 -1.7 0M218.2 424.4a0.85 0.85 0 1 0 1.7 0a0.85 0.85 0 1 0 -1.7 0M214.0 377.5a0.85 0.85 0 1 0 1.7 0a0.85 0.85 0 1 0 -1.7 0M228.5 371.7a0.85 0.85 0 1 0 1.7 0a0.85 0.85 0 1 0 -1.7 0" fill="#1e1e1e"/>
<path d="M207.4 404.1a0.85 0.85 0 1 0 1.7 0a0.85 0.85 0 1 0 -1.7 0" fill="#34497a"/>
<path d="M187.2 408.2a0.85 0.85 0 1 0 1.7 0a0.85 0.85 0 1 0 -1.7 0M171.5 405.9a0.85 0.85 0 1 0 1.7 0a0.85 0.85 0 1 0 -1.7 0" fill="#1e1e1e"/>
<path d="M207.2 404.8a0.85 0.85 0 1 0 1.7 0a0.85 0.85 0 1 0 -1.7 0" fill="#f0901c"/>
<path d="M172.7 371.7a0.85 0.85 0 1 0 1.7 0a0.85 0.85 0 1 0 -1.7 0" fill="#1e1e1e"/>
<path d="M176.3 405.2a0.85 0.85 0 1 0 1.7 0a0.85 0.85 0 1 0 -1.7 0" fill="#34497a"/>
<path d="M210.8 403.6a0.85 0.85 0 1 0 1.7 0a0.85 0.85 0 1 0 -1.7 0M218.8 371.0a0.85 0.85 0 1 0 1.7 0a0.85 0.85 0 1 0 -1.7 0M188.5 408.2a0.85 0.85 0 1 0 1.7 0a0.85 0.85 0 1 0 -1.7 0M149.5 421.6a0.85 0.85 0 1 0 1.7 0a0.85 0.85 0 1 0 -1.7 0" fill="#1e1e1e"/>
<path d="M226.1 378.4a0.85 0.85 0 1 0 1.7 0a0.85 0.85 0 1 0 -1.7 0M163.8 407.8a0.85 0.85 0 1 0 1.7 0a0.85 0.85 0 1 0 -1.7 0M227.4 376.6a0.85 0.85 0 1 0 1.7 0a0.85 0.85 0 1 0 -1.7 0" fill="#f0901c"/>
<path d="M192.9 404.6a0.85 0.85 0 1 0 1.7 0a0.85 0.85 0 1 0 -1.7 0" fill="#1e1e1e"/>
<path d="M224.5 379.5a0.85 0.85 0 1 0 1.7 0a0.85 0.85 0 1 0 -1.7 0" fill="#f0901c"/>
<path d="M212.4 378.1a0.85 0.85 0 1 0 1.7 0a0.85 0.85 0 1 0 -1.7 0M209.1 380.2a0.85 0.85 0 1 0 1.7 0a0.85 0.85 0 1 0 -1.7 0M165.4 373.4a0.85 0.85 0 1 0 1.7 0a0.85 0.85 0 1 0 -1.7 0M170.6 403.3a0.85 0.85 0 1 0 1.7 0a0.85 0.85 0 1 0 -1.7 0M198.0 380.7a0.85 0.85 0 1 0 1.7 0a0.85 0.85 0 1 0 -1.7 0M231.7 377.3a0.85 0.85 0 1 0 1.7 0a0.85 0.85 0 1 0 -1.7 0M212.1 372.1a0.85 0.85 0 1 0 1.7 0a0.85 0.85 0 1 0 -1.7 0M224.7 376.4a0.85 0.85 0 1 0 1.7 0a0.85 0.85 0 1 0 -1.7 0M171.6 376.6a0.85 0.85 0 1 0 1.7 0a0.85 0.85 0 1 0 -1.7 0M199.2 403.7a0.85 0.85 0 1 0 1.7 0a0.85 0.85 0 1 0 -1.7 0" fill="#1e1e1e"/>
<path d="M196.5 376.5a0.85 0.85 0 1 0 1.7 0a0.85 0.85 0 1 0 -1.7 0" fill="#f0901c"/>
<path d="M161.4 403.5a0.85 0.85 0 1 0 1.7 0a0.85 0.85 0 1 0 -1.7 0M219.3 409.1a0.85 0.85 0 1 0 1.7 0a0.85 0.85 0 1 0 -1.7 0M207.7 404.7a0.85 0.85 0 1 0 1.7 0a0.85 0.85 0 1 0 -1.7 0M235.3 425.1a0.85 0.85 0 1 0 1.7 0a0.85 0.85 0 1 0 -1.7 0" fill="#1e1e1e"/>
<path d="M210.5 372.9a0.85 0.85 0 1 0 1.7 0a0.85 0.85 0 1 0 -1.7 0" fill="#f0901c"/>
<path d="M165.1 425.5a0.85 0.85 0 1 0 1.7 0a0.85 0.85 0 1 0 -1.7 0" fill="#1e1e1e"/>
<path d="M218.1 379.6a0.85 0.85 0 1 0 1.7 0a0.85 0.85 0 1 0 -1.7 0" fill="#34497a"/>
<path d="M180.0 406.9a0.85 0.85 0 1 0 1.7 0a0.85 0.85 0 1 0 -1.7 0" fill="#f0901c"/>
<path d="M195.1 380.5a0.85 0.85 0 1 0 1.7 0a0.85 0.85 0 1 0 -1.7 0M176.4 408.7a0.85 0.85 0 1 0 1.7 0a0.85 0.85 0 1 0 -1.7 0M169.2 407.6a0.85 0.85 0 1 0 1.7 0a0.85 0.85 0 1 0 -1.7 0" fill="#1e1e1e"/>
<path d="M220.7 403.5a0.85 0.85 0 1 0 1.7 0a0.85 0.85 0 1 0 -1.7 0" fill="#f0901c"/>
<path d="M227.2 407.4a0.85 0.85 0 1 0 1.7 0a0.85 0.85 0 1 0 -1.7 0" fill="#1e1e1e"/>
<path d="M201.8 425.6a0.85 0.85 0 1 0 1.7 0a0.85 0.85 0 1 0 -1.7 0" fill="#f0901c"/>
<path d="M217.7 373.8a0.85 0.85 0 1 0 1.7 0a0.85 0.85 0 1 0 -1.7 0" fill="#1e1e1e"/>
<path d="M172.9 371.3a0.85 0.85 0 1 0 1.7 0a0.85 0.85 0 1 0 -1.7 0" fill="#f0901c"/>
<path d="M190.7 411.2a0.85 0.85 0 1 0 1.7 0a0.85 0.85 0 1 0 -1.7 0" fill="#34497a"/>
<path d="M186.9 365.4a0.85 0.85 0 1 0 1.7 0a0.85 0.85 0 1 0 -1.7 0" fill="#1e1e1e"/>
<path d="M192.4 380.1a0.85 0.85 0 1 0 1.7 0a0.85 0.85 0 1 0 -1.7 0M191.8 369.4a0.85 0.85 0 1 0 1.7 0a0.85 0.85 0 1 0 -1.7 0M231.3 378.7a0.85 0.85 0 1 0 1.7 0a0.85 0.85 0 1 0 -1.7 0" fill="#f0901c"/>
<path d="M207.9 365.3a0.85 0.85 0 1 0 1.7 0a0.85 0.85 0 1 0 -1.7 0M180.9 374.3a0.85 0.85 0 1 0 1.7 0a0.85 0.85 0 1 0 -1.7 0" fill="#1e1e1e"/>
<path d="M224.1 373.2a0.85 0.85 0 1 0 1.7 0a0.85 0.85 0 1 0 -1.7 0" fill="#f0901c"/>
<path d="M164.7 376.7a0.85 0.85 0 1 0 1.7 0a0.85 0.85 0 1 0 -1.7 0M209.3 407.4a0.85 0.85 0 1 0 1.7 0a0.85 0.85 0 1 0 -1.7 0M214.4 376.3a0.85 0.85 0 1 0 1.7 0a0.85 0.85 0 1 0 -1.7 0" fill="#1e1e1e"/>
<path d="M204.3 375.6a0.85 0.85 0 1 0 1.7 0a0.85 0.85 0 1 0 -1.7 0" fill="#f0901c"/>
<path d="M236.4 410.5a0.85 0.85 0 1 0 1.7 0a0.85 0.85 0 1 0 -1.7 0" fill="#1e1e1e"/>
<path d="M187.7 413.3a0.85 0.85 0 1 0 1.7 0a0.85 0.85 0 1 0 -1.7 0" fill="#f0901c"/>
<path d="M193.4 408.4a0.85 0.85 0 1 0 1.7 0a0.85 0.85 0 1 0 -1.7 0M215.3 405.8a0.85 0.85 0 1 0 1.7 0a0.85 0.85 0 1 0 -1.7 0M226.3 375.3a0.85 0.85 0 1 0 1.7 0a0.85 0.85 0 1 0 -1.7 0M202.5 370.5a0.85 0.85 0 1 0 1.7 0a0.85 0.85 0 1 0 -1.7 0M245.2 405.9a0.85 0.85 0 1 0 1.7 0a0.85 0.85 0 1 0 -1.7 0" fill="#1e1e1e"/>
<path d="M239.5 405.4a0.85 0.85 0 1 0 1.7 0a0.85 0.85 0 1 0 -1.7 0" fill="#34497a"/>
<path d="M206.4 380.3a0.85 0.85 0 1 0 1.7 0a0.85 0.85 0 1 0 -1.7 0M226.5 373.1a0.85 0.85 0 1 0 1.7 0a0.85 0.85 0 1 0 -1.7 0M230.6 361.1a0.85 0.85 0 1 0 1.7 0a0.85 0.85 0 1 0 -1.7 0M238.6 358.0a0.85 0.85 0 1 0 1.7 0a0.85 0.85 0 1 0 -1.7 0M181.1 376.1a0.85 0.85 0 1 0 1.7 0a0.85 0.85 0 1 0 -1.7 0" fill="#1e1e1e"/>
<path d="M224.6 373.7a0.85 0.85 0 1 0 1.7 0a0.85 0.85 0 1 0 -1.7 0" fill="#f0901c"/>
<path d="M190.2 375.5a0.85 0.85 0 1 0 1.7 0a0.85 0.85 0 1 0 -1.7 0" fill="#1e1e1e"/>
<path d="M226.0 372.8a0.85 0.85 0 1 0 1.7 0a0.85 0.85 0 1 0 -1.7 0M218.1 377.1a0.85 0.85 0 1 0 1.7 0a0.85 0.85 0 1 0 -1.7 0" fill="#f0901c"/>
<path d="M209.4 371.5a0.85 0.85 0 1 0 1.7 0a0.85 0.85 0 1 0 -1.7 0" fill="#34497a"/>
<path d="M210.8 376.8a0.85 0.85 0 1 0 1.7 0a0.85 0.85 0 1 0 -1.7 0M203.4 409.7a0.85 0.85 0 1 0 1.7 0a0.85 0.85 0 1 0 -1.7 0M184.6 379.5a0.85 0.85 0 1 0 1.7 0a0.85 0.85 0 1 0 -1.7 0M153.7 418.5a0.85 0.85 0 1 0 1.7 0a0.85 0.85 0 1 0 -1.7 0" fill="#1e1e1e"/>
<path d="M180.6 408.1a0.85 0.85 0 1 0 1.7 0a0.85 0.85 0 1 0 -1.7 0" fill="#f0901c"/>
<path d="M170.7 377.7a0.85 0.85 0 1 0 1.7 0a0.85 0.85 0 1 0 -1.7 0" fill="#1e1e1e"/>
<path d="M185.3 409.3a0.85 0.85 0 1 0 1.7 0a0.85 0.85 0 1 0 -1.7 0" fill="#f0901c"/>
<path d="M159.6 420.4a0.85 0.85 0 1 0 1.7 0a0.85 0.85 0 1 0 -1.7 0M204.2 375.9a0.85 0.85 0 1 0 1.7 0a0.85 0.85 0 1 0 -1.7 0M202.1 405.3a0.85 0.85 0 1 0 1.7 0a0.85 0.85 0 1 0 -1.7 0M215.5 374.6a0.85 0.85 0 1 0 1.7 0a0.85 0.85 0 1 0 -1.7 0M206.5 373.2a0.85 0.85 0 1 0 1.7 0a0.85 0.85 0 1 0 -1.7 0" fill="#1e1e1e"/>
<path d="M240.3 375.2a0.85 0.85 0 1 0 1.7 0a0.85 0.85 0 1 0 -1.7 0" fill="#f0901c"/>
<path d="M230.4 377.3a0.85 0.85 0 1 0 1.7 0a0.85 0.85 0 1 0 -1.7 0" fill="#8a8a8a"/>
<path d="M191.9 360.2a0.85 0.85 0 1 0 1.7 0a0.85 0.85 0 1 0 -1.7 0" fill="#f0901c"/>
<path d="M159.3 434.0a0.85 0.85 0 1 0 1.7 0a0.85 0.85 0 1 0 -1.7 0" fill="#1e1e1e"/>
<path d="M205.7 375.2a0.85 0.85 0 1 0 1.7 0a0.85 0.85 0 1 0 -1.7 0" fill="#f0901c"/>
<path d="M222.3 379.8a0.85 0.85 0 1 0 1.7 0a0.85 0.85 0 1 0 -1.7 0" fill="#1e1e1e"/>
<path d="M227.0 379.4a0.85 0.85 0 1 0 1.7 0a0.85 0.85 0 1 0 -1.7 0" fill="#f0901c"/>
<path d="M194.0 380.5a0.85 0.85 0 1 0 1.7 0a0.85 0.85 0 1 0 -1.7 0" fill="#34497a"/>
<path d="M169.9 370.4a0.85 0.85 0 1 0 1.7 0a0.85 0.85 0 1 0 -1.7 0M163.6 379.7a0.85 0.85 0 1 0 1.7 0a0.85 0.85 0 1 0 -1.7 0" fill="#1e1e1e"/>
<path d="M213.4 375.7a0.85 0.85 0 1 0 1.7 0a0.85 0.85 0 1 0 -1.7 0" fill="#8a8a8a"/>
<path d="M194.2 404.4a0.85 0.85 0 1 0 1.7 0a0.85 0.85 0 1 0 -1.7 0" fill="#1e1e1e"/>
<path d="M179.5 405.7a0.85 0.85 0 1 0 1.7 0a0.85 0.85 0 1 0 -1.7 0" fill="#f0901c"/>
<path d="M207.0 369.9a0.85 0.85 0 1 0 1.7 0a0.85 0.85 0 1 0 -1.7 0" fill="#1e1e1e"/>
<path d="M209.4 421.9a0.85 0.85 0 1 0 1.7 0a0.85 0.85 0 1 0 -1.7 0" fill="#8a8a8a"/>
<path d="M206.4 362.3a0.85 0.85 0 1 0 1.7 0a0.85 0.85 0 1 0 -1.7 0M212.9 377.2a0.85 0.85 0 1 0 1.7 0a0.85 0.85 0 1 0 -1.7 0M242.4 376.9a0.85 0.85 0 1 0 1.7 0a0.85 0.85 0 1 0 -1.7 0M183.3 405.4a0.85 0.85 0 1 0 1.7 0a0.85 0.85 0 1 0 -1.7 0M220.8 371.5a0.85 0.85 0 1 0 1.7 0a0.85 0.85 0 1 0 -1.7 0" fill="#1e1e1e"/>
<path d="M217.7 410.8a0.85 0.85 0 1 0 1.7 0a0.85 0.85 0 1 0 -1.7 0" fill="#f0901c"/>
<path d="M201.8 416.6a0.85 0.85 0 1 0 1.7 0a0.85 0.85 0 1 0 -1.7 0M201.0 371.4a0.85 0.85 0 1 0 1.7 0a0.85 0.85 0 1 0 -1.7 0" fill="#1e1e1e"/>
<path d="M233.5 377.8a0.85 0.85 0 1 0 1.7 0a0.85 0.85 0 1 0 -1.7 0M209.8 375.6a0.85 0.85 0 1 0 1.7 0a0.85 0.85 0 1 0 -1.7 0" fill="#f0901c"/>
<path d="M223.0 375.1a0.85 0.85 0 1 0 1.7 0a0.85 0.85 0 1 0 -1.7 0M191.6 406.6a0.85 0.85 0 1 0 1.7 0a0.85 0.85 0 1 0 -1.7 0M216.4 379.8a0.85 0.85 0 1 0 1.7 0a0.85 0.85 0 1 0 -1.7 0" fill="#1e1e1e"/>
<path d="M187.3 405.7a0.85 0.85 0 1 0 1.7 0a0.85 0.85 0 1 0 -1.7 0" fill="#f0901c"/>
<path d="M229.7 380.7a0.85 0.85 0 1 0 1.7 0a0.85 0.85 0 1 0 -1.7 0M195.7 351.4a0.85 0.85 0 1 0 1.7 0a0.85 0.85 0 1 0 -1.7 0" fill="#1e1e1e"/>
<path d="M229.3 376.5a0.85 0.85 0 1 0 1.7 0a0.85 0.85 0 1 0 -1.7 0" fill="#f0901c"/>
<path d="M208.1 377.3a0.85 0.85 0 1 0 1.7 0a0.85 0.85 0 1 0 -1.7 0M211.1 379.7a0.85 0.85 0 1 0 1.7 0a0.85 0.85 0 1 0 -1.7 0" fill="#1e1e1e"/>
<path d="M197.0 379.1a0.85 0.85 0 1 0 1.7 0a0.85 0.85 0 1 0 -1.7 0" fill="#f0901c"/>
<path d="M169.8 380.5a0.85 0.85 0 1 0 1.7 0a0.85 0.85 0 1 0 -1.7 0M200.1 407.2a0.85 0.85 0 1 0 1.7 0a0.85 0.85 0 1 0 -1.7 0" fill="#1e1e1e"/>
<path d="M212.3 375.9a0.85 0.85 0 1 0 1.7 0a0.85 0.85 0 1 0 -1.7 0" fill="#34497a"/>
<path d="M216.1 378.9a0.85 0.85 0 1 0 1.7 0a0.85 0.85 0 1 0 -1.7 0" fill="#f0901c"/>
<path d="M184.7 425.5a0.85 0.85 0 1 0 1.7 0a0.85 0.85 0 1 0 -1.7 0M210.2 404.0a0.85 0.85 0 1 0 1.7 0a0.85 0.85 0 1 0 -1.7 0M218.2 373.5a0.85 0.85 0 1 0 1.7 0a0.85 0.85 0 1 0 -1.7 0M221.2 369.6a0.85 0.85 0 1 0 1.7 0a0.85 0.85 0 1 0 -1.7 0M178.5 410.2a0.85 0.85 0 1 0 1.7 0a0.85 0.85 0 1 0 -1.7 0M213.6 374.2a0.85 0.85 0 1 0 1.7 0a0.85 0.85 0 1 0 -1.7 0M191.7 404.8a0.85 0.85 0 1 0 1.7 0a0.85 0.85 0 1 0 -1.7 0M217.3 380.5a0.85 0.85 0 1 0 1.7 0a0.85 0.85 0 1 0 -1.7 0" fill="#1e1e1e"/>
<path d="M189.5 378.5a0.85 0.85 0 1 0 1.7 0a0.85 0.85 0 1 0 -1.7 0M225.5 375.0a0.85 0.85 0 1 0 1.7 0a0.85 0.85 0 1 0 -1.7 0" fill="#f0901c"/>
<path d="M182.7 425.1a0.85 0.85 0 1 0 1.7 0a0.85 0.85 0 1 0 -1.7 0" fill="#1e1e1e"/>
<path d="M173.3 411.7a0.85 0.85 0 1 0 1.7 0a0.85 0.85 0 1 0 -1.7 0" fill="#34497a"/>
<path d="M223.8 378.9a0.85 0.85 0 1 0 1.7 0a0.85 0.85 0 1 0 -1.7 0M210.8 425.1a0.85 0.85 0 1 0 1.7 0a0.85 0.85 0 1 0 -1.7 0M176.8 380.1a0.85 0.85 0 1 0 1.7 0a0.85 0.85 0 1 0 -1.7 0M224.7 379.3a0.85 0.85 0 1 0 1.7 0a0.85 0.85 0 1 0 -1.7 0" fill="#1e1e1e"/>
<path d="M221.0 376.9a0.85 0.85 0 1 0 1.7 0a0.85 0.85 0 1 0 -1.7 0" fill="#f0901c"/>
<path d="M240.5 374.0a0.85 0.85 0 1 0 1.7 0a0.85 0.85 0 1 0 -1.7 0M198.8 379.5a0.85 0.85 0 1 0 1.7 0a0.85 0.85 0 1 0 -1.7 0M240.0 371.4a0.85 0.85 0 1 0 1.7 0a0.85 0.85 0 1 0 -1.7 0M195.7 405.6a0.85 0.85 0 1 0 1.7 0a0.85 0.85 0 1 0 -1.7 0" fill="#1e1e1e"/>
<path d="M224.4 380.6a0.85 0.85 0 1 0 1.7 0a0.85 0.85 0 1 0 -1.7 0" fill="#f0901c"/>
<path d="M204.8 380.0a0.85 0.85 0 1 0 1.7 0a0.85 0.85 0 1 0 -1.7 0M164.2 432.0a0.85 0.85 0 1 0 1.7 0a0.85 0.85 0 1 0 -1.7 0" fill="#1e1e1e"/>
<path d="M203.8 403.9a0.85 0.85 0 1 0 1.7 0a0.85 0.85 0 1 0 -1.7 0" fill="#f0901c"/>
<path d="M193.3 374.6a0.85 0.85 0 1 0 1.7 0a0.85 0.85 0 1 0 -1.7 0" fill="#1e1e1e"/>
<path d="M206.5 373.9a0.85 0.85 0 1 0 1.7 0a0.85 0.85 0 1 0 -1.7 0" fill="#f0901c"/>
<path d="M222.7 379.2a0.85 0.85 0 1 0 1.7 0a0.85 0.85 0 1 0 -1.7 0M234.5 417.5a0.85 0.85 0 1 0 1.7 0a0.85 0.85 0 1 0 -1.7 0" fill="#1e1e1e"/>
<path d="M202.1 406.2a0.85 0.85 0 1 0 1.7 0a0.85 0.85 0 1 0 -1.7 0" fill="#f0901c"/>
<path d="M215.0 379.4a0.85 0.85 0 1 0 1.7 0a0.85 0.85 0 1 0 -1.7 0M155.7 426.8a0.85 0.85 0 1 0 1.7 0a0.85 0.85 0 1 0 -1.7 0" fill="#1e1e1e"/>
<path d="M165.3 404.6a0.85 0.85 0 1 0 1.7 0a0.85 0.85 0 1 0 -1.7 0" fill="#f0901c"/>
<path d="M198.9 372.1a0.85 0.85 0 1 0 1.7 0a0.85 0.85 0 1 0 -1.7 0" fill="#34497a"/>
<path d="M188.4 374.5a0.85 0.85 0 1 0 1.7 0a0.85 0.85 0 1 0 -1.7 0" fill="#1e1e1e"/>
<path d="M194.8 406.8a0.85 0.85 0 1 0 1.7 0a0.85 0.85 0 1 0 -1.7 0" fill="#f0901c"/>
<path d="M241.3 408.3a0.85 0.85 0 1 0 1.7 0a0.85 0.85 0 1 0 -1.7 0M210.4 372.2a0.85 0.85 0 1 0 1.7 0a0.85 0.85 0 1 0 -1.7 0" fill="#1e1e1e"/>
<path d="M210.3 374.9a0.85 0.85 0 1 0 1.7 0a0.85 0.85 0 1 0 -1.7 0" fill="#f0901c"/>
<path d="M193.3 409.3a0.85 0.85 0 1 0 1.7 0a0.85 0.85 0 1 0 -1.7 0M221.1 377.7a0.85 0.85 0 1 0 1.7 0a0.85 0.85 0 1 0 -1.7 0" fill="#1e1e1e"/>
<path d="M175.3 408.3a0.85 0.85 0 1 0 1.7 0a0.85 0.85 0 1 0 -1.7 0M208.8 407.4a0.85 0.85 0 1 0 1.7 0a0.85 0.85 0 1 0 -1.7 0" fill="#f0901c"/>
<path d="M205.6 404.8a0.85 0.85 0 1 0 1.7 0a0.85 0.85 0 1 0 -1.7 0" fill="#1e1e1e"/>
<path d="M221.4 379.6a0.85 0.85 0 1 0 1.7 0a0.85 0.85 0 1 0 -1.7 0" fill="#f0901c"/>
<path d="M215.9 428.7a0.85 0.85 0 1 0 1.7 0a0.85 0.85 0 1 0 -1.7 0" fill="#1e1e1e"/>
<path d="M203.0 380.6a0.85 0.85 0 1 0 1.7 0a0.85 0.85 0 1 0 -1.7 0" fill="#34497a"/>
<path d="M199.2 404.8a0.85 0.85 0 1 0 1.7 0a0.85 0.85 0 1 0 -1.7 0" fill="#1e1e1e"/>
<path d="M160.6 405.5a0.85 0.85 0 1 0 1.7 0a0.85 0.85 0 1 0 -1.7 0" fill="#f0901c"/>
<path d="M169.6 404.2a0.85 0.85 0 1 0 1.7 0a0.85 0.85 0 1 0 -1.7 0M196.6 378.3a0.85 0.85 0 1 0 1.7 0a0.85 0.85 0 1 0 -1.7 0M199.2 377.5a0.85 0.85 0 1 0 1.7 0a0.85 0.85 0 1 0 -1.7 0M209.1 407.1a0.85 0.85 0 1 0 1.7 0a0.85 0.85 0 1 0 -1.7 0" fill="#1e1e1e"/>
<path d="M206.6 404.0a0.85 0.85 0 1 0 1.7 0a0.85 0.85 0 1 0 -1.7 0" fill="#34497a"/>
<path d="M198.3 403.6a0.85 0.85 0 1 0 1.7 0a0.85 0.85 0 1 0 -1.7 0" fill="#f0901c"/>
<path d="M209.8 405.1a0.85 0.85 0 1 0 1.7 0a0.85 0.85 0 1 0 -1.7 0M234.3 404.5a0.85 0.85 0 1 0 1.7 0a0.85 0.85 0 1 0 -1.7 0M203.5 410.0a0.85 0.85 0 1 0 1.7 0a0.85 0.85 0 1 0 -1.7 0M245.7 380.4a0.85 0.85 0 1 0 1.7 0a0.85 0.85 0 1 0 -1.7 0" fill="#1e1e1e"/>
<path d="M151.8 430.9a0.85 0.85 0 1 0 1.7 0a0.85 0.85 0 1 0 -1.7 0" fill="#34497a"/>
<path d="M249.2 379.4a0.85 0.85 0 1 0 1.7 0a0.85 0.85 0 1 0 -1.7 0" fill="#1e1e1e"/>
<path d="M207.9 379.6a0.85 0.85 0 1 0 1.7 0a0.85 0.85 0 1 0 -1.7 0" fill="#f0901c"/>
<path d="M181.3 380.0a0.85 0.85 0 1 0 1.7 0a0.85 0.85 0 1 0 -1.7 0M221.5 403.6a0.85 0.85 0 1 0 1.7 0a0.85 0.85 0 1 0 -1.7 0M214.8 377.3a0.85 0.85 0 1 0 1.7 0a0.85 0.85 0 1 0 -1.7 0M173.3 426.9a0.85 0.85 0 1 0 1.7 0a0.85 0.85 0 1 0 -1.7 0M186.4 405.9a0.85 0.85 0 1 0 1.7 0a0.85 0.85 0 1 0 -1.7 0M207.1 375.6a0.85 0.85 0 1 0 1.7 0a0.85 0.85 0 1 0 -1.7 0" fill="#1e1e1e"/>
<path d="M219.7 377.7a0.85 0.85 0 1 0 1.7 0a0.85 0.85 0 1 0 -1.7 0" fill="#f0901c"/>
<path d="M236.6 377.8a0.85 0.85 0 1 0 1.7 0a0.85 0.85 0 1 0 -1.7 0" fill="#1e1e1e"/>
<path d="M215.7 408.7a0.85 0.85 0 1 0 1.7 0a0.85 0.85 0 1 0 -1.7 0" fill="#f0901c"/>
<path d="M233.2 352.0a0.85 0.85 0 1 0 1.7 0a0.85 0.85 0 1 0 -1.7 0" fill="#1e1e1e"/>
<path d="M205.0 409.1a0.85 0.85 0 1 0 1.7 0a0.85 0.85 0 1 0 -1.7 0" fill="#34497a"/>
<path d="M215.4 375.6a0.85 0.85 0 1 0 1.7 0a0.85 0.85 0 1 0 -1.7 0M226.3 376.2a0.85 0.85 0 1 0 1.7 0a0.85 0.85 0 1 0 -1.7 0M194.2 403.8a0.85 0.85 0 1 0 1.7 0a0.85 0.85 0 1 0 -1.7 0" fill="#1e1e1e"/>
<path d="M167.2 372.5a0.85 0.85 0 1 0 1.7 0a0.85 0.85 0 1 0 -1.7 0" fill="#8a8a8a"/>
<path d="M205.2 362.7a0.85 0.85 0 1 0 1.7 0a0.85 0.85 0 1 0 -1.7 0M192.0 354.2a0.85 0.85 0 1 0 1.7 0a0.85 0.85 0 1 0 -1.7 0M229.0 369.9a0.85 0.85 0 1 0 1.7 0a0.85 0.85 0 1 0 -1.7 0" fill="#1e1e1e"/>
<path d="M185.2 403.9a0.85 0.85 0 1 0 1.7 0a0.85 0.85 0 1 0 -1.7 0" fill="#f0901c"/>
<path d="M240.5 411.5a0.85 0.85 0 1 0 1.7 0a0.85 0.85 0 1 0 -1.7 0" fill="#1e1e1e"/>
<path d="M192.4 379.7a0.85 0.85 0 1 0 1.7 0a0.85 0.85 0 1 0 -1.7 0" fill="#34497a"/>
<path d="M202.7 428.8a0.85 0.85 0 1 0 1.7 0a0.85 0.85 0 1 0 -1.7 0" fill="#1e1e1e"/>
<path d="M221.2 375.9a0.85 0.85 0 1 0 1.7 0a0.85 0.85 0 1 0 -1.7 0" fill="#f0901c"/>
<path d="M249.2 376.6a0.85 0.85 0 1 0 1.7 0a0.85 0.85 0 1 0 -1.7 0" fill="#1e1e1e"/>
<path d="M169.3 376.7a0.85 0.85 0 1 0 1.7 0a0.85 0.85 0 1 0 -1.7 0" fill="#f0901c"/>
<path d="M166.2 405.7a0.85 0.85 0 1 0 1.7 0a0.85 0.85 0 1 0 -1.7 0M232.9 379.7a0.85 0.85 0 1 0 1.7 0a0.85 0.85 0 1 0 -1.7 0M168.5 368.4a0.85 0.85 0 1 0 1.7 0a0.85 0.85 0 1 0 -1.7 0" fill="#1e1e1e"/>
<path d="M201.1 372.8a0.85 0.85 0 1 0 1.7 0a0.85 0.85 0 1 0 -1.7 0M209.3 379.2a0.85 0.85 0 1 0 1.7 0a0.85 0.85 0 1 0 -1.7 0" fill="#f0901c"/>
<path d="M158.2 417.0a0.85 0.85 0 1 0 1.7 0a0.85 0.85 0 1 0 -1.7 0M222.5 355.6a0.85 0.85 0 1 0 1.7 0a0.85 0.85 0 1 0 -1.7 0M202.0 405.3a0.85 0.85 0 1 0 1.7 0a0.85 0.85 0 1 0 -1.7 0" fill="#1e1e1e"/>
<path d="M183.4 378.6a0.85 0.85 0 1 0 1.7 0a0.85 0.85 0 1 0 -1.7 0" fill="#f0901c"/>
<path d="M159.3 405.0a0.85 0.85 0 1 0 1.7 0a0.85 0.85 0 1 0 -1.7 0" fill="#1e1e1e"/>
<path d="M190.1 375.7a0.85 0.85 0 1 0 1.7 0a0.85 0.85 0 1 0 -1.7 0" fill="#f0901c"/>
<path d="M172.5 433.7a0.85 0.85 0 1 0 1.7 0a0.85 0.85 0 1 0 -1.7 0" fill="#1e1e1e"/>
<path d="M205.4 373.1a0.85 0.85 0 1 0 1.7 0a0.85 0.85 0 1 0 -1.7 0" fill="#34497a"/>
<path d="M187.7 425.1a0.85 0.85 0 1 0 1.7 0a0.85 0.85 0 1 0 -1.7 0M197.0 407.5a0.85 0.85 0 1 0 1.7 0a0.85 0.85 0 1 0 -1.7 0" fill="#1e1e1e"/>
<path d="M202.9 379.8a0.85 0.85 0 1 0 1.7 0a0.85 0.85 0 1 0 -1.7 0M219.4 378.7a0.85 0.85 0 1 0 1.7 0a0.85 0.85 0 1 0 -1.7 0" fill="#f0901c"/>
<path d="M232.3 372.5a0.85 0.85 0 1 0 1.7 0a0.85 0.85 0 1 0 -1.7 0M228.6 374.8a0.85 0.85 0 1 0 1.7 0a0.85 0.85 0 1 0 -1.7 0" fill="#1e1e1e"/>
<path d="M214.6 380.7a0.85 0.85 0 1 0 1.7 0a0.85 0.85 0 1 0 -1.7 0M234.2 376.3a0.85 0.85 0 1 0 1.7 0a0.85 0.85 0 1 0 -1.7 0" fill="#f0901c"/>
<path d="M200.2 405.5a0.85 0.85 0 1 0 1.7 0a0.85 0.85 0 1 0 -1.7 0M234.2 411.8a0.85 0.85 0 1 0 1.7 0a0.85 0.85 0 1 0 -1.7 0M173.6 408.7a0.85 0.85 0 1 0 1.7 0a0.85 0.85 0 1 0 -1.7 0M223.5 377.8a0.85 0.85 0 1 0 1.7 0a0.85 0.85 0 1 0 -1.7 0M237.2 376.8a0.85 0.85 0 1 0 1.7 0a0.85 0.85 0 1 0 -1.7 0" fill="#1e1e1e"/>
<path d="M206.4 409.4a0.85 0.85 0 1 0 1.7 0a0.85 0.85 0 1 0 -1.7 0M176.3 373.8a0.85 0.85 0 1 0 1.7 0a0.85 0.85 0 1 0 -1.7 0" fill="#f0901c"/>
<path d="M196.0 405.2a0.85 0.85 0 1 0 1.7 0a0.85 0.85 0 1 0 -1.7 0M220.5 375.4a0.85 0.85 0 1 0 1.7 0a0.85 0.85 0 1 0 -1.7 0" fill="#1e1e1e"/>
<path d="M190.0 377.1a0.85 0.85 0 1 0 1.7 0a0.85 0.85 0 1 0 -1.7 0" fill="#f0901c"/>
<path d="M210.1 379.1a0.85 0.85 0 1 0 1.7 0a0.85 0.85 0 1 0 -1.7 0M167.9 378.0a0.85 0.85 0 1 0 1.7 0a0.85 0.85 0 1 0 -1.7 0" fill="#1e1e1e"/>
<path d="M222.0 374.8a0.85 0.85 0 1 0 1.7 0a0.85 0.85 0 1 0 -1.7 0" fill="#f0901c"/>
<path d="M206.3 379.5a0.85 0.85 0 1 0 1.7 0a0.85 0.85 0 1 0 -1.7 0M195.4 375.4a0.85 0.85 0 1 0 1.7 0a0.85 0.85 0 1 0 -1.7 0" fill="#1e1e1e"/>
<path d="M223.8 369.1a0.85 0.85 0 1 0 1.7 0a0.85 0.85 0 1 0 -1.7 0M230.9 377.4a0.85 0.85 0 1 0 1.7 0a0.85 0.85 0 1 0 -1.7 0" fill="#f0901c"/>
<path d="M181.7 406.4a0.85 0.85 0 1 0 1.7 0a0.85 0.85 0 1 0 -1.7 0" fill="#1e1e1e"/>
<path d="M214.5 375.6a0.85 0.85 0 1 0 1.7 0a0.85 0.85 0 1 0 -1.7 0" fill="#f0901c"/>
<path d="M194.3 380.2a0.85 0.85 0 1 0 1.7 0a0.85 0.85 0 1 0 -1.7 0" fill="#1e1e1e"/>
<path d="M239.0 404.6a0.85 0.85 0 1 0 1.7 0a0.85 0.85 0 1 0 -1.7 0" fill="#34497a"/>
<path d="M217.1 372.7a0.85 0.85 0 1 0 1.7 0a0.85 0.85 0 1 0 -1.7 0M229.3 374.3a0.85 0.85 0 1 0 1.7 0a0.85 0.85 0 1 0 -1.7 0M216.2 377.0a0.85 0.85 0 1 0 1.7 0a0.85 0.85 0 1 0 -1.7 0M229.2 379.9a0.85 0.85 0 1 0 1.7 0a0.85 0.85 0 1 0 -1.7 0M228.6 378.8a0.85 0.85 0 1 0 1.7 0a0.85 0.85 0 1 0 -1.7 0M231.9 380.6a0.85 0.85 0 1 0 1.7 0a0.85 0.85 0 1 0 -1.7 0M163.0 379.8a0.85 0.85 0 1 0 1.7 0a0.85 0.85 0 1 0 -1.7 0M207.7 404.4a0.85 0.85 0 1 0 1.7 0a0.85 0.85 0 1 0 -1.7 0M193.6 407.4a0.85 0.85 0 1 0 1.7 0a0.85 0.85 0 1 0 -1.7 0M207.6 405.2a0.85 0.85 0 1 0 1.7 0a0.85 0.85 0 1 0 -1.7 0M220.6 377.7a0.85 0.85 0 1 0 1.7 0a0.85 0.85 0 1 0 -1.7 0" fill="#1e1e1e"/>
<path d="M216.6 405.3a0.85 0.85 0 1 0 1.7 0a0.85 0.85 0 1 0 -1.7 0" fill="#f0901c"/>
<path d="M205.7 372.3a0.85 0.85 0 1 0 1.7 0a0.85 0.85 0 1 0 -1.7 0M213.4 407.8a0.85 0.85 0 1 0 1.7 0a0.85 0.85 0 1 0 -1.7 0M183.4 411.9a0.85 0.85 0 1 0 1.7 0a0.85 0.85 0 1 0 -1.7 0M200.3 364.0a0.85 0.85 0 1 0 1.7 0a0.85 0.85 0 1 0 -1.7 0M168.9 405.2a0.85 0.85 0 1 0 1.7 0a0.85 0.85 0 1 0 -1.7 0M205.6 373.0a0.85 0.85 0 1 0 1.7 0a0.85 0.85 0 1 0 -1.7 0M216.0 408.0a0.85 0.85 0 1 0 1.7 0a0.85 0.85 0 1 0 -1.7 0M194.4 380.5a0.85 0.85 0 1 0 1.7 0a0.85 0.85 0 1 0 -1.7 0M209.6 380.5a0.85 0.85 0 1 0 1.7 0a0.85 0.85 0 1 0 -1.7 0" fill="#1e1e1e"/>
<path d="M228.0 374.0a0.85 0.85 0 1 0 1.7 0a0.85 0.85 0 1 0 -1.7 0" fill="#34497a"/>
<path d="M196.6 408.1a0.85 0.85 0 1 0 1.7 0a0.85 0.85 0 1 0 -1.7 0M198.5 403.4a0.85 0.85 0 1 0 1.7 0a0.85 0.85 0 1 0 -1.7 0M225.9 375.0a0.85 0.85 0 1 0 1.7 0a0.85 0.85 0 1 0 -1.7 0" fill="#1e1e1e"/>
<path d="M197.7 405.9a0.85 0.85 0 1 0 1.7 0a0.85 0.85 0 1 0 -1.7 0" fill="#f0901c"/>
<path d="M157.2 430.0a0.85 0.85 0 1 0 1.7 0a0.85 0.85 0 1 0 -1.7 0M163.0 378.2a0.85 0.85 0 1 0 1.7 0a0.85 0.85 0 1 0 -1.7 0M224.2 379.0a0.85 0.85 0 1 0 1.7 0a0.85 0.85 0 1 0 -1.7 0M225.7 372.1a0.85 0.85 0 1 0 1.7 0a0.85 0.85 0 1 0 -1.7 0M207.4 410.0a0.85 0.85 0 1 0 1.7 0a0.85 0.85 0 1 0 -1.7 0" fill="#1e1e1e"/>
<path d="M231.8 372.7a0.85 0.85 0 1 0 1.7 0a0.85 0.85 0 1 0 -1.7 0M206.5 373.7a0.85 0.85 0 1 0 1.7 0a0.85 0.85 0 1 0 -1.7 0" fill="#f0901c"/>
<path d="M209.9 376.7a0.85 0.85 0 1 0 1.7 0a0.85 0.85 0 1 0 -1.7 0" fill="#1e1e1e"/>
<path d="M172.7 406.9a0.85 0.85 0 1 0 1.7 0a0.85 0.85 0 1 0 -1.7 0" fill="#f0901c"/>
<path d="M238.0 418.2a0.85 0.85 0 1 0 1.7 0a0.85 0.85 0 1 0 -1.7 0M217.2 375.2a0.85 0.85 0 1 0 1.7 0a0.85 0.85 0 1 0 -1.7 0" fill="#1e1e1e"/>
<path d="M207.3 369.2a0.85 0.85 0 1 0 1.7 0a0.85 0.85 0 1 0 -1.7 0M239.6 377.7a0.85 0.85 0 1 0 1.7 0a0.85 0.85 0 1 0 -1.7 0" fill="#8a8a8a"/>
<path d="M198.8 407.9a0.85 0.85 0 1 0 1.7 0a0.85 0.85 0 1 0 -1.7 0M234.5 374.9a0.85 0.85 0 1 0 1.7 0a0.85 0.85 0 1 0 -1.7 0M199.1 405.1a0.85 0.85 0 1 0 1.7 0a0.85 0.85 0 1 0 -1.7 0" fill="#1e1e1e"/>
<path d="M225.0 374.8a0.85 0.85 0 1 0 1.7 0a0.85 0.85 0 1 0 -1.7 0" fill="#8a8a8a"/>
<path d="M221.3 377.3a0.85 0.85 0 1 0 1.7 0a0.85 0.85 0 1 0 -1.7 0" fill="#f0901c"/>
<path d="M235.9 426.1a0.85 0.85 0 1 0 1.7 0a0.85 0.85 0 1 0 -1.7 0" fill="#1e1e1e"/>
<path d="M184.6 404.8a0.85 0.85 0 1 0 1.7 0a0.85 0.85 0 1 0 -1.7 0" fill="#f0901c"/>
<path d="M243.1 373.9a0.85 0.85 0 1 0 1.7 0a0.85 0.85 0 1 0 -1.7 0" fill="#1e1e1e"/>
<path d="M188.5 404.1a0.85 0.85 0 1 0 1.7 0a0.85 0.85 0 1 0 -1.7 0" fill="#f0901c"/>
<path d="M209.3 380.6a0.85 0.85 0 1 0 1.7 0a0.85 0.85 0 1 0 -1.7 0M209.4 378.6a0.85 0.85 0 1 0 1.7 0a0.85 0.85 0 1 0 -1.7 0M221.9 378.2a0.85 0.85 0 1 0 1.7 0a0.85 0.85 0 1 0 -1.7 0M237.7 377.3a0.85 0.85 0 1 0 1.7 0a0.85 0.85 0 1 0 -1.7 0" fill="#1e1e1e"/>
<path d="M218.6 380.5a0.85 0.85 0 1 0 1.7 0a0.85 0.85 0 1 0 -1.7 0" fill="#f0901c"/>
<path d="M173.8 417.3a0.85 0.85 0 1 0 1.7 0a0.85 0.85 0 1 0 -1.7 0" fill="#1e1e1e"/>
<path d="M176.2 429.4a0.85 0.85 0 1 0 1.7 0a0.85 0.85 0 1 0 -1.7 0" fill="#f0901c"/>
<path d="M201.0 374.1a0.85 0.85 0 1 0 1.7 0a0.85 0.85 0 1 0 -1.7 0" fill="#8a8a8a"/>
<path d="M179.2 406.9a0.85 0.85 0 1 0 1.7 0a0.85 0.85 0 1 0 -1.7 0M209.7 376.6a0.85 0.85 0 1 0 1.7 0a0.85 0.85 0 1 0 -1.7 0" fill="#1e1e1e"/>
<path d="M194.1 380.2a0.85 0.85 0 1 0 1.7 0a0.85 0.85 0 1 0 -1.7 0M213.2 379.0a0.85 0.85 0 1 0 1.7 0a0.85 0.85 0 1 0 -1.7 0M233.5 378.9a0.85 0.85 0 1 0 1.7 0a0.85 0.85 0 1 0 -1.7 0M215.0 377.3a0.85 0.85 0 1 0 1.7 0a0.85 0.85 0 1 0 -1.7 0M162.8 406.0a0.85 0.85 0 1 0 1.7 0a0.85 0.85 0 1 0 -1.7 0" fill="#f0901c"/>
<path d="M217.5 373.6a0.85 0.85 0 1 0 1.7 0a0.85 0.85 0 1 0 -1.7 0" fill="#1e1e1e"/>
<path d="M184.3 408.6a0.85 0.85 0 1 0 1.7 0a0.85 0.85 0 1 0 -1.7 0" fill="#f0901c"/>
<path d="M196.6 354.1a0.85 0.85 0 1 0 1.7 0a0.85 0.85 0 1 0 -1.7 0M184.8 351.7a0.85 0.85 0 1 0 1.7 0a0.85 0.85 0 1 0 -1.7 0M177.5 373.2a0.85 0.85 0 1 0 1.7 0a0.85 0.85 0 1 0 -1.7 0M172.2 374.1a0.85 0.85 0 1 0 1.7 0a0.85 0.85 0 1 0 -1.7 0M212.0 405.4a0.85 0.85 0 1 0 1.7 0a0.85 0.85 0 1 0 -1.7 0M191.9 351.4a0.85 0.85 0 1 0 1.7 0a0.85 0.85 0 1 0 -1.7 0M212.1 374.8a0.85 0.85 0 1 0 1.7 0a0.85 0.85 0 1 0 -1.7 0" fill="#1e1e1e"/>
<text x="190.5" y="355.20000000000005" font-size="5" textLength="15" lengthAdjust="spacingAndGlyphs" fill="#e3a443">Abcb1</text>
<text x="213.3" y="357.0" font-size="5" textLength="8.7" lengthAdjust="spacingAndGlyphs" fill="#1a1a1a">Sgk</text>
<text x="233.6" y="356.0" font-size="5" textLength="14.7" lengthAdjust="spacingAndGlyphs" fill="#4d68aa">Mmrn1</text>
<text x="200.6" y="362.90000000000003" font-size="5" textLength="9" lengthAdjust="spacingAndGlyphs" fill="#4d68aa">Etv3</text>
<text x="217" y="362.6" font-size="5" textLength="11.5" lengthAdjust="spacingAndGlyphs" fill="#1a1a1a">S100a8</text>
<text x="184" y="367.90000000000003" font-size="5" textLength="11.5" lengthAdjust="spacingAndGlyphs" fill="#e3a443">Sulf1</text>
<text x="242.5" y="375.6" font-size="5" textLength="14" lengthAdjust="spacingAndGlyphs" fill="#1a1a1a">S100a9</text>
<text x="189" y="384.40000000000003" font-size="5" textLength="10" lengthAdjust="spacingAndGlyphs" fill="#4d68aa">Igf2</text>
<text x="180.8" y="392.1" font-size="5" textLength="13.5" lengthAdjust="spacingAndGlyphs" fill="#4d68aa">Prom1</text>
<text x="203" y="389.6" font-size="5" textLength="14" lengthAdjust="spacingAndGlyphs" fill="#e3a443">Mmp8b</text>
<text x="240" y="386.5" font-size="5" textLength="8" lengthAdjust="spacingAndGlyphs" fill="#e3a443">Mef</text>
<text x="197.6" y="396.6" font-size="5" textLength="13.7" lengthAdjust="spacingAndGlyphs" fill="#4d68aa">Cebpe</text>
<text x="218.4" y="396.0" font-size="5" textLength="12.6" lengthAdjust="spacingAndGlyphs" fill="#e3a443">Slco4</text>
<text x="228.5" y="402.6" font-size="5" textLength="7.5" lengthAdjust="spacingAndGlyphs" fill="#4d68aa">Sgk2</text>
<text x="182.8" y="403.0" font-size="5" textLength="12.7" lengthAdjust="spacingAndGlyphs" fill="#e3a443">Spon2</text>
<text x="186.6" y="411.1" font-size="5" textLength="16.4" lengthAdjust="spacingAndGlyphs" fill="#1a1a1a">Wnt10b</text>
<rect x="127.4" y="327" width="131.1" height="130.60000000000002" fill="none" stroke="#2a2a2a" stroke-width="1"/>
<line x1="258.5" y1="326.91999999999996" x2="261.5" y2="326.91999999999996" stroke="#2a2a2a" stroke-width="0.8"/>
<text x="263.5" y="329.71999999999997" font-size="8" fill="#2a2a2a">6</text>
<line x1="258.5" y1="359.56" x2="261.5" y2="359.56" stroke="#2a2a2a" stroke-width="0.8"/>
<text x="263.5" y="362.36" font-size="8" fill="#2a2a2a">3</text>
<line x1="258.5" y1="392.2" x2="261.5" y2="392.2" stroke="#2a2a2a" stroke-width="0.8"/>
<text x="263.5" y="395.0" font-size="8" fill="#2a2a2a">0</text>
<line x1="258.5" y1="424.84" x2="261.5" y2="424.84" stroke="#2a2a2a" stroke-width="0.8"/>
<text x="262.5" y="427.64" font-size="8" fill="#2a2a2a">−3</text>
<line x1="258.5" y1="457.48" x2="261.5" y2="457.48" stroke="#2a2a2a" stroke-width="0.8"/>
<text x="262.5" y="460.28000000000003" font-size="8" fill="#2a2a2a">−6</text>
<line x1="127.496" y1="457.6" x2="127.496" y2="460.6" stroke="#2a2a2a" stroke-width="0.8"/>
<text x="127.496" y="470.40000000000003" font-size="7.4" text-anchor="middle" fill="#2a2a2a">−16</text>
<line x1="160.248" y1="457.6" x2="160.248" y2="460.6" stroke="#2a2a2a" stroke-width="0.8"/>
<text x="160.248" y="470.40000000000003" font-size="7.4" text-anchor="middle" fill="#2a2a2a">−8</text>
<line x1="193.0" y1="457.6" x2="193.0" y2="460.6" stroke="#2a2a2a" stroke-width="0.8"/>
<text x="193.0" y="470.40000000000003" font-size="7.4" text-anchor="middle" fill="#2a2a2a">0</text>
<line x1="225.752" y1="457.6" x2="225.752" y2="460.6" stroke="#2a2a2a" stroke-width="0.8"/>
<text x="225.752" y="470.40000000000003" font-size="7.4" text-anchor="middle" fill="#2a2a2a">8</text>
<line x1="258.504" y1="457.6" x2="258.504" y2="460.6" stroke="#2a2a2a" stroke-width="0.8"/>
<text x="258.504" y="470.40000000000003" font-size="7.4" text-anchor="middle" fill="#2a2a2a">16</text>
<text x="192.7" y="482.40000000000003" font-size="7.4" font-weight="bold" text-anchor="middle" fill="#2a2a2a" textLength="48" lengthAdjust="spacingAndGlyphs">I3KO vs. NT log<tspan font-size="4.4" dy="1.4">2</tspan><tspan dy="-1.4">FC</tspan></text>
<text x="279.8" y="392.4" font-size="7.2" font-weight="bold" text-anchor="middle" fill="#2a2a2a" transform="rotate(90 279.8 392.4)" textLength="116" lengthAdjust="spacingAndGlyphs">MI-503 vs DMSO in I3KO log2 (fold change)</text>
<ellipse cx="434" cy="91.2" rx="24.8" ry="16" fill="#e2877a" stroke="#5a2424" stroke-width="1.1"/>
<ellipse cx="392.2" cy="91" rx="51.3" ry="50.4" fill="none" stroke="#1e1e1e" stroke-width="1.15"/>
<text x="391.8" y="93.2" font-size="6.8" text-anchor="middle" fill="#222">4154</text>
<text x="424.6" y="93.5" font-size="6.8" text-anchor="middle" font-weight="bold" fill="#111">192</text>
<text x="449.3" y="93.5" font-size="6.8" text-anchor="middle" fill="#333">53</text>
<text x="332.6" y="43.6" font-size="6.6" text-anchor="middle" textLength="33.5" lengthAdjust="spacingAndGlyphs" fill="#333">I3KO vs. NT</text>
<text x="332.8" y="51.2" font-size="6.6" text-anchor="middle" fill="#333">(4346)</text>
<text x="461.4" y="46.5" font-size="6.6" text-anchor="middle" textLength="50.5" lengthAdjust="spacingAndGlyphs" fill="#333">MI-503 vs. DMSO</text>
<text x="461.6" y="54.0" font-size="6.6" text-anchor="middle" fill="#333">in NT (245)</text>
<line x1="332.8" y1="108.6" x2="332.8" y2="81.4" stroke="#c4122f" stroke-width="1.6"/>
<polygon points="332.8,73.4 337,83.4 332.8,81.4 328.6,83.4" fill="#c4122f"/>
<ellipse cx="448.4" cy="202.5" rx="27.8" ry="27" fill="#8592c0" stroke="#1e2a55" stroke-width="1.1"/>
<ellipse cx="392.2" cy="206" rx="51.3" ry="50.4" fill="none" stroke="#1e1e1e" stroke-width="1.15"/>
<text x="392.2" y="208.2" font-size="6.8" text-anchor="middle" fill="#222">1554</text>
<text x="433.8" y="204.8" font-size="6.8" text-anchor="middle" font-weight="bold" fill="#111">166</text>
<text x="461" y="204.8" font-size="6.8" text-anchor="middle" fill="#333">329</text>
<text x="332.6" y="156.6" font-size="6.6" text-anchor="middle" textLength="33.5" lengthAdjust="spacingAndGlyphs" fill="#333">I3KO vs. NT</text>
<text x="332.8" y="164.2" font-size="6.6" text-anchor="middle" fill="#333">(1720)</text>
<text x="461.4" y="161.4" font-size="6.6" text-anchor="middle" textLength="50.5" lengthAdjust="spacingAndGlyphs" fill="#333">MI-503 vs. DMSO</text>
<text x="461.6" y="168.9" font-size="6.6" text-anchor="middle" fill="#333">in NT (495)</text>
<line x1="332.8" y1="188" x2="332.8" y2="214.3" stroke="#1f4e8c" stroke-width="1.6"/>
<polygon points="332.8,222.3 337,212.3 332.8,214.3 328.6,212.3" fill="#1f4e8c"/>
<rect x="371" y="278" width="95" height="103.69999999999999" fill="#ffffff" stroke="none" stroke-width="1"/>
<rect x="371.5" y="278.5" width="18.0" height="16.28" fill="#3b4a9f" stroke="none" stroke-width="1"/>
<text x="380.5" y="289.14" font-size="7" text-anchor="middle" fill="#ffffff">0.1</text>
<rect x="390.5" y="278.5" width="18.0" height="16.28" fill="#3a489c" stroke="none" stroke-width="1"/>
<text x="399.5" y="289.14" font-size="7" text-anchor="middle" fill="#ffffff">0.0</text>
<rect x="409.5" y="278.5" width="18.0" height="16.28" fill="#e8c6c4" stroke="none" stroke-width="1"/>
<text x="418.5" y="289.14" font-size="7" text-anchor="middle" fill="#333333">1.2</text>
<rect x="428.5" y="278.5" width="18.0" height="16.28" fill="#e1352c" stroke="none" stroke-width="1"/>
<text x="437.5" y="289.14" font-size="7" text-anchor="middle" fill="#ffffff">4.1</text>
<rect x="447.5" y="278.5" width="18.0" height="16.28" fill="#e88f85" stroke="none" stroke-width="1"/>
<text x="456.5" y="289.14" font-size="7" text-anchor="middle" fill="#ffffff">1.5</text>
<rect x="371.5" y="295.78" width="18.0" height="16.28" fill="#e4e4ea" stroke="none" stroke-width="1"/>
<text x="380.5" y="306.42" font-size="7" text-anchor="middle" fill="#333333">1.0</text>
<rect x="390.5" y="295.78" width="18.0" height="16.28" fill="#4153a6" stroke="none" stroke-width="1"/>
<text x="399.5" y="306.42" font-size="7" text-anchor="middle" fill="#ffffff">0.2</text>
<rect x="409.5" y="295.78" width="18.0" height="16.28" fill="#e4e4ea" stroke="none" stroke-width="1"/>
<text x="418.5" y="306.42" font-size="7" text-anchor="middle" fill="#333333">1.0</text>
<rect x="428.5" y="295.78" width="18.0" height="16.28" fill="#e1352c" stroke="none" stroke-width="1"/>
<text x="437.5" y="306.42" font-size="7" text-anchor="middle" fill="#ffffff">6.3</text>
<rect x="447.5" y="295.78" width="18.0" height="16.28" fill="#e1352c" stroke="none" stroke-width="1"/>
<text x="456.5" y="306.42" font-size="7" text-anchor="middle" fill="#ffffff">4.6</text>
<rect x="371.5" y="313.07" width="18.0" height="16.28" fill="#e4e4ea" stroke="none" stroke-width="1"/>
<text x="380.5" y="323.71" font-size="7" text-anchor="middle" fill="#333333">1.0</text>
<rect x="390.5" y="313.07" width="18.0" height="16.28" fill="#a6b0d9" stroke="none" stroke-width="1"/>
<text x="399.5" y="323.71" font-size="7" text-anchor="middle" fill="#333333">0.7</text>
<rect x="409.5" y="313.07" width="18.0" height="16.28" fill="#e1352c" stroke="none" stroke-width="1"/>
<text x="418.5" y="323.71" font-size="7" text-anchor="middle" fill="#ffffff">2.1</text>
<rect x="428.5" y="313.07" width="18.0" height="16.28" fill="#4153a6" stroke="none" stroke-width="1"/>
<text x="437.5" y="323.71" font-size="7" text-anchor="middle" fill="#ffffff">0.2</text>
<rect x="447.5" y="313.07" width="18.0" height="16.28" fill="#e1352c" stroke="none" stroke-width="1"/>
<text x="456.5" y="323.71" font-size="7" text-anchor="middle" fill="#ffffff">5.0</text>
<rect x="371.5" y="330.35" width="18.0" height="16.28" fill="#3b4a9f" stroke="none" stroke-width="1"/>
<text x="380.5" y="340.99" font-size="7" text-anchor="middle" fill="#ffffff">0.1</text>
<rect x="390.5" y="330.35" width="18.0" height="16.28" fill="#3b4a9f" stroke="none" stroke-width="1"/>
<text x="399.5" y="340.99" font-size="7" text-anchor="middle" fill="#ffffff">0.1</text>
<rect x="409.5" y="330.35" width="18.0" height="16.28" fill="#3b4a9f" stroke="none" stroke-width="1"/>
<text x="418.5" y="340.99" font-size="7" text-anchor="middle" fill="#ffffff">0.1</text>
<rect x="428.5" y="330.35" width="18.0" height="16.28" fill="#e1352c" stroke="none" stroke-width="1"/>
<text x="437.5" y="340.99" font-size="7" text-anchor="middle" fill="#ffffff">4.4</text>
<rect x="447.5" y="330.35" width="18.0" height="16.28" fill="#e1352c" stroke="none" stroke-width="1"/>
<text x="456.5" y="340.99" font-size="7" text-anchor="middle" fill="#ffffff">4.4</text>
<rect x="371.5" y="347.63" width="18.0" height="16.28" fill="#e35a4f" stroke="none" stroke-width="1"/>
<text x="380.5" y="358.27" font-size="7" text-anchor="middle" fill="#ffffff">1.6</text>
<rect x="390.5" y="347.63" width="18.0" height="16.28" fill="#e1352c" stroke="none" stroke-width="1"/>
<text x="399.5" y="358.27" font-size="7" text-anchor="middle" fill="#ffffff">3.1</text>
<rect x="409.5" y="347.63" width="18.0" height="16.28" fill="#c3cbe6" stroke="none" stroke-width="1"/>
<text x="418.5" y="358.27" font-size="7" text-anchor="middle" fill="#333333">0.8</text>
<rect x="428.5" y="347.63" width="18.0" height="16.28" fill="#e1352c" stroke="none" stroke-width="1"/>
<text x="437.5" y="358.27" font-size="7" text-anchor="middle" fill="#ffffff">4.0</text>
<rect x="447.5" y="347.63" width="18.0" height="16.28" fill="#e1352c" stroke="none" stroke-width="1"/>
<text x="456.5" y="358.27" font-size="7" text-anchor="middle" fill="#ffffff">4.2</text>
<rect x="371.5" y="364.92" width="18.0" height="16.28" fill="#e8c6c4" stroke="none" stroke-width="1"/>
<text x="380.5" y="375.56" font-size="7" text-anchor="middle" fill="#333333">1.2</text>
<rect x="390.5" y="364.92" width="18.0" height="16.28" fill="#a6b0d9" stroke="none" stroke-width="1"/>
<text x="399.5" y="375.56" font-size="7" text-anchor="middle" fill="#333333">0.7</text>
<rect x="409.5" y="364.92" width="18.0" height="16.28" fill="#e1352c" stroke="none" stroke-width="1"/>
<text x="418.5" y="375.56" font-size="7" text-anchor="middle" fill="#ffffff">3.6</text>
<rect x="428.5" y="364.92" width="18.0" height="16.28" fill="#e1352c" stroke="none" stroke-width="1"/>
<text x="437.5" y="375.56" font-size="7" text-anchor="middle" fill="#ffffff">71.3</text>
<rect x="447.5" y="364.92" width="18.0" height="16.28" fill="#e1352c" stroke="none" stroke-width="1"/>
<text x="456.5" y="375.56" font-size="7" text-anchor="middle" fill="#ffffff">27.5</text>
<rect x="371" y="278" width="95" height="103.69999999999999" fill="none" stroke="#222" stroke-width="0.9"/>
<line x1="366.3" y1="286.64166666666665" x2="371" y2="286.64166666666665" stroke="#222" stroke-width="0.8"/>
<text x="318.85" y="288.84" font-size="6.3" fill="#333">(<tspan dx="3.4">) MI-503 in NT</tspan></text>
<path d="M322.64 284.04V287.84M321.54 286.94L322.64 288.54L323.74 286.94" stroke="#333" stroke-width="0.6" fill="none"/>
<line x1="366.3" y1="303.925" x2="371" y2="303.925" stroke="#222" stroke-width="0.8"/>
<text x="318.85" y="306.12" font-size="6.3" fill="#333">(<tspan dx="3.4">) MI-503 in NT</tspan></text>
<path d="M322.64 305.82V302.03M321.54 302.93L322.64 301.32L323.74 302.93" stroke="#333" stroke-width="0.6" fill="none"/>
<line x1="366.3" y1="321.2083333333333" x2="371" y2="321.2083333333333" stroke="#222" stroke-width="0.8"/>
<text x="312.89" y="323.41" font-size="6.3" fill="#333">(<tspan dx="3.4">) MI-503 in I3KO</tspan></text>
<path d="M316.69 318.61V322.41M315.59 321.51L316.69 323.11L317.79 321.51" stroke="#333" stroke-width="0.6" fill="none"/>
<line x1="366.3" y1="338.4916666666667" x2="371" y2="338.4916666666667" stroke="#222" stroke-width="0.8"/>
<text x="312.89" y="340.69" font-size="6.3" fill="#333">(<tspan dx="3.4">) MI-503 in I3KO</tspan></text>
<path d="M316.69 340.39V336.59M315.59 337.49L316.69 335.89L317.79 337.49" stroke="#333" stroke-width="0.6" fill="none"/>
<line x1="366.3" y1="355.775" x2="371" y2="355.775" stroke="#222" stroke-width="0.8"/>
<text x="340.90" y="357.97" font-size="6.3" fill="#333">(<tspan dx="3.4">) I3KO</tspan></text>
<path d="M344.70 353.17V356.97M343.60 356.07L344.70 357.67L345.80 356.07" stroke="#333" stroke-width="0.6" fill="none"/>
<line x1="366.3" y1="373.05833333333334" x2="371" y2="373.05833333333334" stroke="#222" stroke-width="0.8"/>
<text x="340.90" y="375.26" font-size="6.3" fill="#333">(<tspan dx="3.4">) I3KO</tspan></text>
<path d="M344.70 374.96V371.16M343.60 372.06L344.70 370.46L345.80 372.06" stroke="#333" stroke-width="0.6" fill="none"/>
<line x1="380.5" y1="381.7" x2="380.5" y2="385.0" stroke="#222" stroke-width="0.8"/>
<text x="382.70" y="388.90" font-size="6.6" text-anchor="end" fill="#333" transform="rotate(-45 382.70 388.90)">Guenther SEM MLL-AF4-ChIP</text>
<line x1="399.5" y1="381.7" x2="399.5" y2="385.0" stroke="#222" stroke-width="0.8"/>
<text x="401.70" y="388.90" font-size="6.6" text-anchor="end" fill="#333" transform="rotate(-45 401.70 388.90)">Wilkinson SEM MLL-AF4-ChIP</text>
<line x1="418.5" y1="381.7" x2="418.5" y2="385.0" stroke="#222" stroke-width="0.8"/>
<text x="420.70" y="388.90" font-size="6.6" text-anchor="end" fill="#333" transform="rotate(-45 420.70 388.90)">Wilkinson RS4;11 MLL-AF4-ChIP</text>
<line x1="437.5" y1="381.7" x2="437.5" y2="385.0" stroke="#222" stroke-width="0.8"/>
<text x="439.70" y="388.90" font-size="6.6" text-anchor="end" fill="#333" transform="rotate(-45 439.70 388.90)">Tran CD11b+ IMP3-eCLIP</text>
<line x1="456.5" y1="381.7" x2="456.5" y2="385.0" stroke="#222" stroke-width="0.8"/>
<text x="458.70" y="388.90" font-size="6.6" text-anchor="end" fill="#333" transform="rotate(-45 458.70 388.90)">Tran Lin- IMP3-eCLIP</text>
<defs><linearGradient id="cb" x1="0" y1="0" x2="0" y2="1"><stop offset="0" stop-color="#dc3b36"/><stop offset="0.25" stop-color="#ec8a78"/><stop offset="0.42" stop-color="#f8d6cc"/><stop offset="0.55" stop-color="#ffffff"/><stop offset="0.72" stop-color="#b9bde0"/><stop offset="1" stop-color="#2b3690"/></linearGradient></defs>
<path d="M474.3,282 L477.35,277.4 L480.4,282 L480.4,381.6 L474.3,381.6 Z" fill="url(#cb)" stroke="#333" stroke-width="0.8"/>
<line x1="480.4" y1="282.4" x2="483.6" y2="282.4" stroke="#333" stroke-width="0.8"/>
<text x="485.6" y="284.59999999999997" font-size="6.3" fill="#333">>2.0</text>
<line x1="480.4" y1="317" x2="483.6" y2="317" stroke="#333" stroke-width="0.8"/>
<text x="485.6" y="319.2" font-size="6.3" fill="#333">1.3</text>
<line x1="480.4" y1="381.3" x2="483.6" y2="381.3" stroke="#333" stroke-width="0.8"/>
<text x="485.6" y="383.5" font-size="6.3" fill="#333">0</text>
<text x="508.3" y="327.8" font-size="6.3" text-anchor="middle" fill="#333" transform="rotate(90 508.3 327.8)" dy="2">-log<tspan font-size="4.2" dy="1.2">10</tspan><tspan dy="-1.2"> </tspan><tspan font-style="italic">P</tspan>-value</text>
<rect x="20" y="521.0" width="121.75" height="4.0" fill="#6a3a10" stroke="none" stroke-width="1"/>
<rect x="20" y="527.66" width="103.75" height="4.0" fill="#6a3a10" stroke="none" stroke-width="1"/>
<rect x="20" y="534.32" width="101.75" height="4.0" fill="#6a3a10" stroke="none" stroke-width="1"/>
<rect x="20" y="540.98" width="75" height="4.0" fill="#b4641a" stroke="none" stroke-width="1"/>
<rect x="20" y="547.64" width="66.75" height="4.0" fill="#b6661a" stroke="none" stroke-width="1"/>
<rect x="20" y="554.3" width="63.75" height="4.0" fill="#b8681b" stroke="none" stroke-width="1"/>
<rect x="20" y="560.96" width="62" height="4.0" fill="#ba6a1c" stroke="none" stroke-width="1"/>
<rect x="20" y="567.62" width="59" height="4.0" fill="#bc6c1c" stroke="none" stroke-width="1"/>
<rect x="20" y="574.28" width="57.5" height="4.0" fill="#be6e1c" stroke="none" stroke-width="1"/>
<rect x="20" y="580.94" width="54.75" height="4.0" fill="#c0711d" stroke="none" stroke-width="1"/>
<rect x="20" y="587.6" width="50" height="4.0" fill="#c2731e" stroke="none" stroke-width="1"/>
<rect x="20" y="594.26" width="47.25" height="4.0" fill="#c4751e" stroke="none" stroke-width="1"/>
<rect x="20" y="600.92" width="46" height="4.0" fill="#c6771e" stroke="none" stroke-width="1"/>
<rect x="20" y="607.58" width="44.25" height="4.0" fill="#c8791f" stroke="none" stroke-width="1"/>
<rect x="20" y="614.24" width="43.25" height="4.0" fill="#e8901e" stroke="none" stroke-width="1"/>
<rect x="20" y="620.9" width="43" height="4.0" fill="#e8901e" stroke="none" stroke-width="1"/>
<rect x="20" y="627.56" width="42.5" height="4.0" fill="#e8901e" stroke="none" stroke-width="1"/>
<rect x="20" y="634.22" width="42.25" height="4.0" fill="#e8901e" stroke="none" stroke-width="1"/>
<rect x="20" y="640.88" width="42" height="4.0" fill="#e8901e" stroke="none" stroke-width="1"/>
<rect x="20" y="647.54" width="40.5" height="4.0" fill="#e8901e" stroke="none" stroke-width="1"/>
<line x1="20" y1="518.6" x2="20" y2="654.4" stroke="#222" stroke-width="1"/>
<line x1="19.5" y1="654" x2="148.2" y2="654" stroke="#222" stroke-width="1"/>
<line x1="20" y1="654" x2="20" y2="656.8" stroke="#222" stroke-width="0.8"/>
<line x1="41.8" y1="654" x2="41.8" y2="656.8" stroke="#222" stroke-width="0.8"/>
<line x1="63.6" y1="654" x2="63.6" y2="656.8" stroke="#222" stroke-width="0.8"/>
<line x1="85.5" y1="654" x2="85.5" y2="656.8" stroke="#222" stroke-width="0.8"/>
<line x1="107.3" y1="654" x2="107.3" y2="656.8" stroke="#222" stroke-width="0.8"/>
<line x1="129.2" y1="654" x2="129.2" y2="656.8" stroke="#222" stroke-width="0.8"/>
<line x1="147.7" y1="654" x2="147.7" y2="656.8" stroke="#222" stroke-width="0.8"/>
<text x="20" y="667.8" font-size="8" text-anchor="middle" fill="#333">0</text>
<text x="41.8" y="667.8" font-size="8" text-anchor="middle" fill="#333">5</text>
<text x="63.6" y="667.8" font-size="8" text-anchor="middle" fill="#333">10</text>
<text x="85.5" y="667.8" font-size="8" text-anchor="middle" fill="#333">15</text>
<text x="107.3" y="667.8" font-size="8" text-anchor="middle" fill="#333">20</text>
<text x="129.2" y="667.8" font-size="8" text-anchor="middle" fill="#333">25</text>
<text x="147.7" y="667.8" font-size="8" text-anchor="middle" fill="#333">30</text>
<text x="83.8" y="681.3" font-size="8" font-weight="bold" text-anchor="middle" fill="#333" textLength="38.5" lengthAdjust="spacingAndGlyphs">-log<tspan font-size="5" dy="1.6">10</tspan><tspan dy="-1.6" font-style="italic">P</tspan> value</text>
<text x="84.1" y="513.6" font-size="8.6" text-anchor="middle" textLength="42.4" lengthAdjust="spacingAndGlyphs" fill="#222">NT vs I3KO</text>
<text x="151.3" y="525.0" font-size="6" font-weight="bold" fill="#1a1a1a">Neutrophil degranulation</text>
<text x="151.3" y="532.01" font-size="6" fill="#555">Inflammatory response</text>
<text x="151.3" y="539.02" font-size="6" fill="#555">Hemostasis</text>
<text x="151.3" y="546.03" font-size="6" font-weight="bold" fill="#1a1a1a">Regulation of cell-cell adhesion</text>
<text x="151.3" y="553.04" font-size="6" fill="#555">Pos. reg. of response to external stimulus</text>
<text x="151.3" y="560.05" font-size="6" fill="#555">Secondary alcohol metabolic process</text>
<text x="151.3" y="567.06" font-size="6" font-weight="bold" fill="#1a1a1a">Cell activation</text>
<text x="151.3" y="574.07" font-size="6" fill="#555">Neg. reg. of cytokine production</text>
<text x="151.3" y="581.08" font-size="6" fill="#555">Wound healing</text>
<text x="151.3" y="588.09" font-size="6" fill="#555">Reg. of MAPK cascade</text>
<text x="151.3" y="595.1" font-size="6" fill="#555">Lysosome</text>
<text x="151.3" y="602.11" font-size="6" font-weight="bold" fill="#1a1a1a">Myeloid leukocyte differentiation</text>
<text x="151.3" y="609.12" font-size="6" fill="#555">Reg. of secretion</text>
<text x="151.3" y="616.13" font-size="6" font-weight="bold" fill="#1a1a1a">Reg. of immune effector process</text>
<text x="151.3" y="623.14" font-size="6" font-weight="bold" fill="#1a1a1a">Reg. of leukocyte migration</text>
<text x="151.3" y="630.15" font-size="6" fill="#555">Reg. of interleukin-1 production</text>
<text x="151.3" y="637.16" font-size="6" font-weight="bold" fill="#1a1a1a">Leukocyte migration</text>
<text x="151.3" y="644.17" font-size="6" fill="#555">Pos. reg. of protein phosphorylation</text>
<text x="151.3" y="651.18" font-size="6" fill="#555">Reg. of response to wounding</text>
<rect x="284.6" y="521.2" width="109.6" height="3.8" fill="#b5651d" stroke="none" stroke-width="1"/>
<rect x="284.6" y="527.84" width="56.1" height="3.8" fill="#e88b1c" stroke="none" stroke-width="1"/>
<rect x="284.6" y="534.48" width="45.7" height="3.8" fill="#e88b1c" stroke="none" stroke-width="1"/>
<rect x="284.6" y="541.12" width="32.3" height="3.8" fill="#eea352" stroke="none" stroke-width="1"/>
<rect x="284.6" y="547.76" width="31.9" height="3.8" fill="#eea352" stroke="none" stroke-width="1"/>
<rect x="284.6" y="554.4" width="29.6" height="3.8" fill="#eea352" stroke="none" stroke-width="1"/>
<rect x="284.6" y="561.04" width="29.3" height="3.8" fill="#eea352" stroke="none" stroke-width="1"/>
<rect x="284.6" y="567.68" width="29.3" height="3.8" fill="#eea352" stroke="none" stroke-width="1"/>
<rect x="284.6" y="574.32" width="26.8" height="3.8" fill="#eea352" stroke="none" stroke-width="1"/>
<rect x="284.6" y="580.96" width="26.3" height="3.8" fill="#eea352" stroke="none" stroke-width="1"/>
<rect x="284.6" y="587.6" width="24.9" height="3.8" fill="#eea352" stroke="none" stroke-width="1"/>
<rect x="284.6" y="594.24" width="24.5" height="3.8" fill="#eea352" stroke="none" stroke-width="1"/>
<rect x="284.6" y="600.88" width="23.6" height="3.8" fill="#eea352" stroke="none" stroke-width="1"/>
<rect x="284.6" y="607.52" width="23.1" height="3.8" fill="#eea352" stroke="none" stroke-width="1"/>
<rect x="284.6" y="614.16" width="20.8" height="3.8" fill="#f6d095" stroke="none" stroke-width="1"/>
<rect x="284.6" y="620.8" width="20.6" height="3.8" fill="#f6d095" stroke="none" stroke-width="1"/>
<rect x="284.6" y="627.44" width="19.9" height="3.8" fill="#f6d095" stroke="none" stroke-width="1"/>
<rect x="284.6" y="634.08" width="19.4" height="3.8" fill="#f6d095" stroke="none" stroke-width="1"/>
<rect x="284.6" y="640.72" width="18.5" height="3.8" fill="#f6d095" stroke="none" stroke-width="1"/>
<rect x="284.6" y="647.36" width="18.0" height="3.8" fill="#f6d095" stroke="none" stroke-width="1"/>
<line x1="284.6" y1="519" x2="284.6" y2="653.6999999999999" stroke="#222" stroke-width="1"/>
<line x1="284.1" y1="653.3" x2="399.98" y2="653.3" stroke="#222" stroke-width="1"/>
<line x1="284.6" y1="653.3" x2="284.6" y2="656.0999999999999" stroke="#222" stroke-width="0.8"/>
<line x1="298.96000000000004" y1="653.3" x2="298.96000000000004" y2="656.0999999999999" stroke="#222" stroke-width="0.8"/>
<line x1="313.32000000000005" y1="653.3" x2="313.32000000000005" y2="656.0999999999999" stroke="#222" stroke-width="0.8"/>
<line x1="327.68" y1="653.3" x2="327.68" y2="656.0999999999999" stroke="#222" stroke-width="0.8"/>
<line x1="342.04" y1="653.3" x2="342.04" y2="656.0999999999999" stroke="#222" stroke-width="0.8"/>
<line x1="356.40000000000003" y1="653.3" x2="356.40000000000003" y2="656.0999999999999" stroke="#222" stroke-width="0.8"/>
<line x1="370.76" y1="653.3" x2="370.76" y2="656.0999999999999" stroke="#222" stroke-width="0.8"/>
<line x1="385.12" y1="653.3" x2="385.12" y2="656.0999999999999" stroke="#222" stroke-width="0.8"/>
<line x1="399.48" y1="653.3" x2="399.48" y2="656.0999999999999" stroke="#222" stroke-width="0.8"/>
<text x="284.6" y="667.0999999999999" font-size="8" text-anchor="middle" fill="#333">0</text>
<text x="313.32000000000005" y="667.0999999999999" font-size="8" text-anchor="middle" fill="#333">5</text>
<text x="342.04" y="667.0999999999999" font-size="8" text-anchor="middle" fill="#333">10</text>
<text x="370.76" y="667.0999999999999" font-size="8" text-anchor="middle" fill="#333">15</text>
<text x="399.48" y="667.0999999999999" font-size="8" text-anchor="middle" fill="#333">20</text>
<text x="342" y="680.5999999999999" font-size="8" font-weight="bold" text-anchor="middle" fill="#333" textLength="38.5" lengthAdjust="spacingAndGlyphs">-log<tspan font-size="5" dy="1.6">10</tspan><tspan dy="-1.6" font-style="italic">P</tspan> value</text>
<text x="341.9" y="513.6" font-size="8.6" text-anchor="middle" textLength="80.3" lengthAdjust="spacingAndGlyphs" fill="#222">NT, MI-503 vs. vehicle</text>
<text x="402.9" y="525.0" font-size="6" font-weight="bold" fill="#1a1a1a">Cholesterol biosynthesis</text>
<text x="402.9" y="531.68" font-size="6" fill="#555">Sulfur compound metabolic process</text>
<text x="402.9" y="538.36" font-size="6" font-weight="bold" fill="#1a1a1a">Neutrophil degranulation</text>
<text x="402.9" y="545.04" font-size="6" fill="#555">Peptide cross-linking</text>
<text x="402.9" y="551.72" font-size="6" font-weight="bold" fill="#1a1a1a">Oxidative stress and redox pathway</text>
<text x="402.9" y="558.4" font-size="6" fill="#555">Metapathway biotransformation</text>
<text x="402.9" y="565.08" font-size="6" fill="#555">Farnesyl diphosphate metabolic process</text>
<text x="402.9" y="571.76" font-size="6" fill="#555">Reg. of plasma lipoprotein particle levels</text>
<text x="402.9" y="578.44" font-size="6" fill="#555">Pos. reg. of cytokine production</text>
<text x="402.9" y="585.12" font-size="6" fill="#555">Reg. of lipid biosynthetic process</text>
<text x="402.9" y="591.8" font-size="6" fill="#555">Small molecule catabolic process</text>
<text x="402.9" y="598.48" font-size="6" fill="#555">Lipid storage</text>
<text x="402.9" y="605.16" font-size="6" font-weight="bold" fill="#1a1a1a">Pos. reg. of inflammatory response</text>
<text x="402.9" y="611.84" font-size="6" fill="#555">Neg. reg. of protein exit from ER</text>
<text x="402.9" y="618.52" font-size="6" font-weight="bold" fill="#1a1a1a">Leukocyte cell-cell adhesion</text>
<text x="402.9" y="625.2" font-size="6" font-weight="bold" fill="#1a1a1a">Reg. of leukocyte degranulation</text>
<text x="402.9" y="631.88" font-size="6" fill="#555">Response to fungus</text>
<text x="402.9" y="638.56" font-size="6" fill="#555">Mucopolysaccharide metabolic process</text>
<text x="402.9" y="645.24" font-size="6" font-weight="bold" fill="#1a1a1a">Pos. reg. of myeloid cell differentiation</text>
<text x="402.9" y="651.92" font-size="6" font-weight="bold" fill="#1a1a1a">Reg of cysteine-type endopeptidase</text>
<text x="402.9" y="658.6" font-size="6" font-weight="bold" fill="#1a1a1a">involved in apoptotic process</text>
<rect x="0.5" y="0.5" width="519" height="690" fill="none" stroke="#4a4a4a" stroke-width="1"/>
</svg>
</body></html>
